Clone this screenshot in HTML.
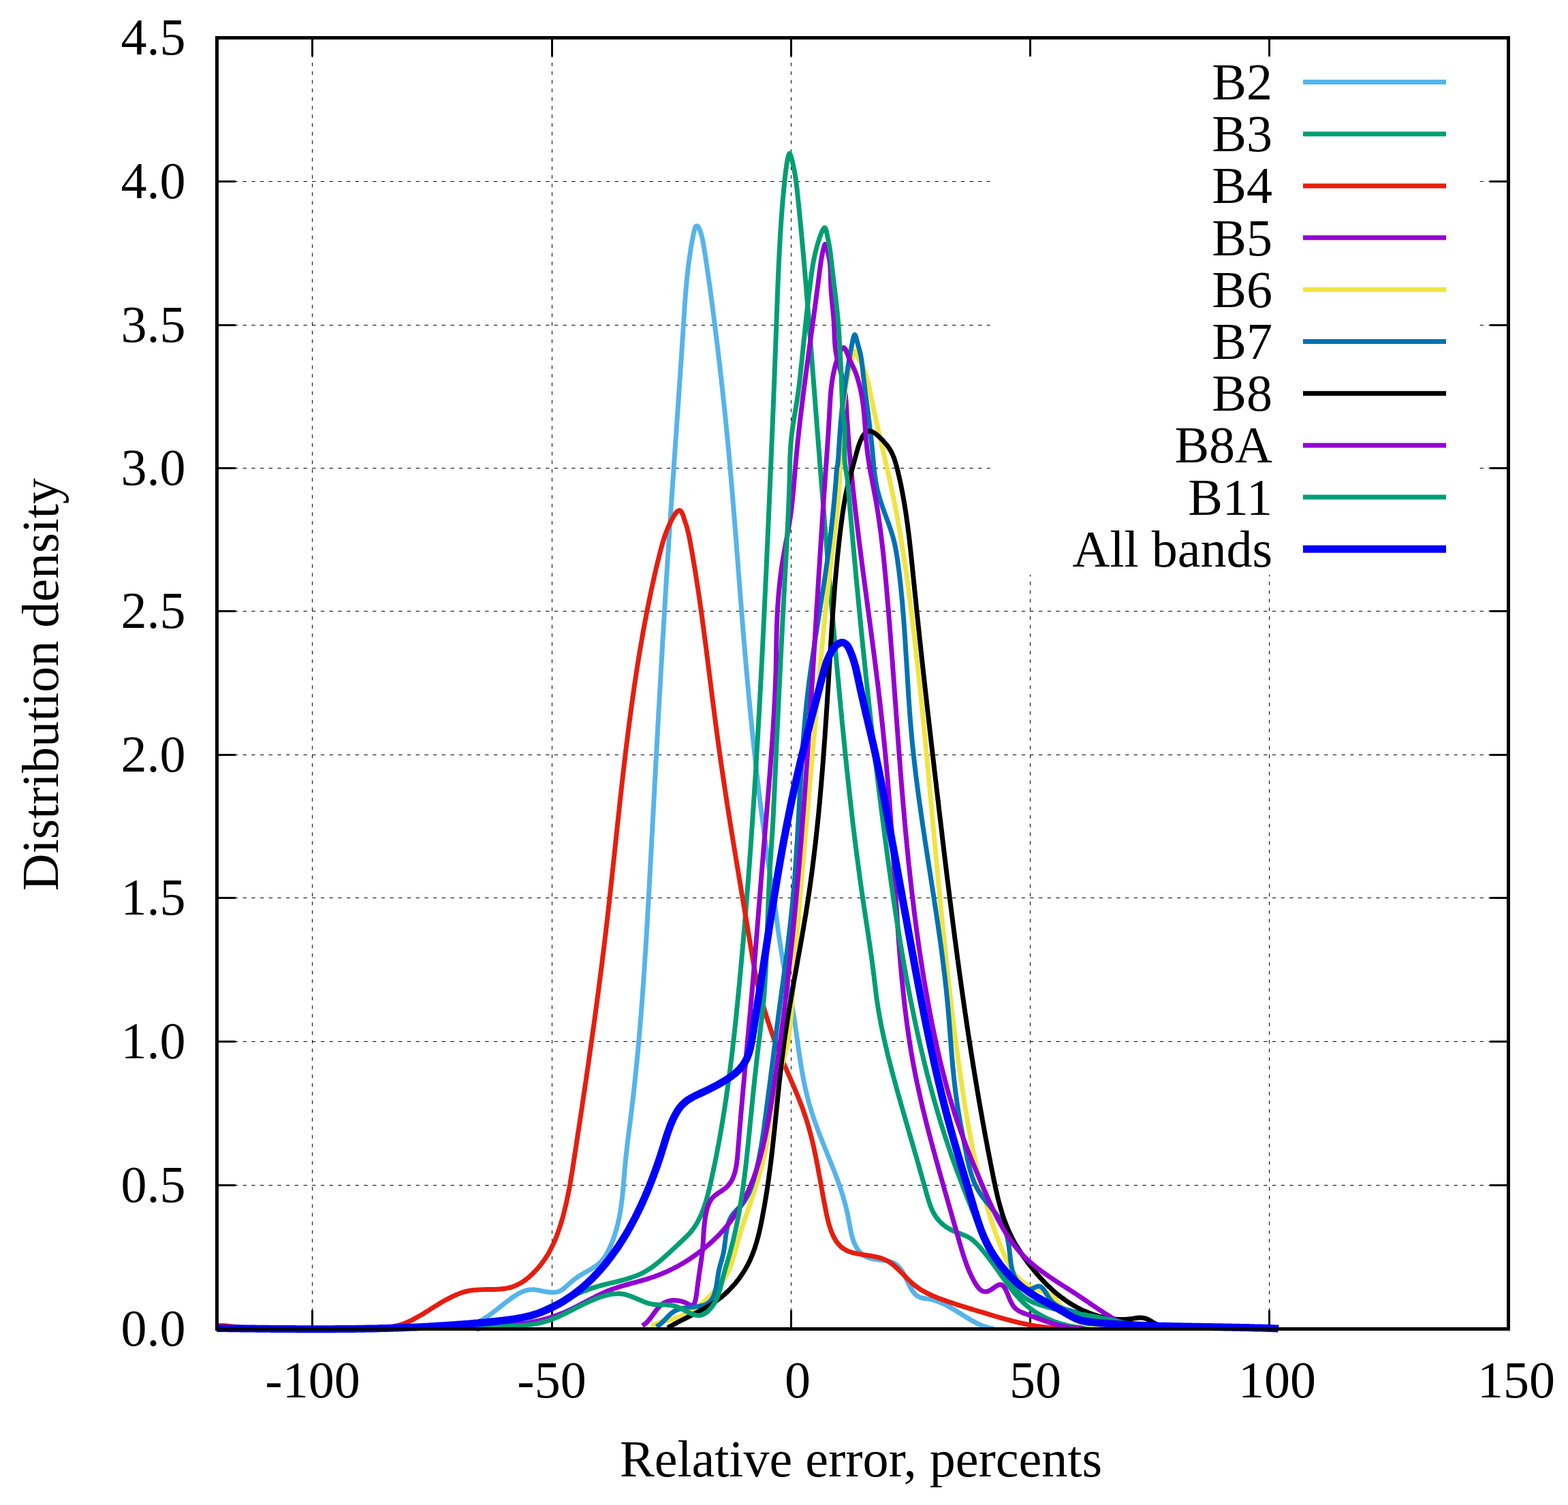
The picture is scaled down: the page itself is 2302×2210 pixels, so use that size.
<!DOCTYPE html>
<html><head><meta charset="utf-8"><title>Distribution density</title>
<style>html,body{margin:0;padding:0;background:#fff;} svg{display:block;}</style></head>
<body>
<svg xmlns="http://www.w3.org/2000/svg" width="2302" height="2210" viewBox="0 0 2302 2210">
<rect x="0" y="0" width="2302" height="2210" fill="#fff"/>

<g><line x1="318.5" y1="1740.5" x2="2214.5" y2="1740.5" stroke="#000" stroke-width="1" stroke-dasharray="5.3 7.4"/>
<line x1="318.5" y1="1529.5" x2="2214.5" y2="1529.5" stroke="#000" stroke-width="1" stroke-dasharray="5.3 7.4"/>
<line x1="318.5" y1="1318.5" x2="2214.5" y2="1318.5" stroke="#000" stroke-width="1" stroke-dasharray="5.3 7.4"/>
<line x1="318.5" y1="1108.5" x2="2214.5" y2="1108.5" stroke="#000" stroke-width="1" stroke-dasharray="5.3 7.4"/>
<line x1="318.5" y1="897.5" x2="2214.5" y2="897.5" stroke="#000" stroke-width="1" stroke-dasharray="5.3 7.4"/>
<line x1="318.5" y1="687.5" x2="2214.5" y2="687.5" stroke="#000" stroke-width="1" stroke-dasharray="5.3 7.4"/>
<line x1="318.5" y1="477.5" x2="2214.5" y2="477.5" stroke="#000" stroke-width="1" stroke-dasharray="5.3 7.4"/>
<line x1="318.5" y1="266.5" x2="2214.5" y2="266.5" stroke="#000" stroke-width="1" stroke-dasharray="5.3 7.4"/>
<line x1="458.5" y1="1951.5" x2="458.5" y2="55.5" stroke="#000" stroke-width="1" stroke-dasharray="5.3 7.4"/>
<line x1="810.5" y1="1951.5" x2="810.5" y2="55.5" stroke="#000" stroke-width="1" stroke-dasharray="5.3 7.4"/>
<line x1="1161.5" y1="1951.5" x2="1161.5" y2="55.5" stroke="#000" stroke-width="1" stroke-dasharray="5.3 7.4"/>
<line x1="1512.5" y1="1951.5" x2="1512.5" y2="55.5" stroke="#000" stroke-width="1" stroke-dasharray="5.3 7.4"/>
<line x1="1863.5" y1="1951.5" x2="1863.5" y2="55.5" stroke="#000" stroke-width="1" stroke-dasharray="5.3 7.4"/></g>
<rect x="1453.5" y="58" width="714.5" height="786" fill="#fff"/>
<path d="M318.5,1740.5H346M2214.5,1740.5H2187M318.5,1529.5H346M2214.5,1529.5H2187M318.5,1318.5H346M2214.5,1318.5H2187M318.5,1108.5H346M2214.5,1108.5H2187M318.5,897.5H346M2214.5,897.5H2187M318.5,687.5H346M2214.5,687.5H2187M318.5,477.5H346M2214.5,477.5H2187M318.5,266.5H346M2214.5,266.5H2187M458.5,1951.5V1924M458.5,55.5V83M810.5,1951.5V1924M810.5,55.5V83M1161.5,1951.5V1924M1161.5,55.5V83M1512.5,1951.5V1924M1512.5,55.5V83M1863.5,1951.5V1924M1863.5,55.5V83" stroke="#000" stroke-width="3" fill="none"/>
<path d="M664.9,1950.5 C665.8,1950.5 668.6,1950.4 670.5,1950.2 C672.3,1950.1 674.0,1949.9 675.8,1949.6 C677.5,1949.3 679.2,1949.0 680.9,1948.7 C682.6,1948.3 684.2,1947.9 685.8,1947.5 C687.4,1947.0 689.0,1946.6 690.6,1946.0 C692.1,1945.5 693.7,1944.9 695.2,1944.3 C696.7,1943.7 698.2,1943.1 699.6,1942.4 C701.1,1941.7 702.5,1941.0 704.0,1940.2 C705.4,1939.5 706.8,1938.7 708.2,1937.9 C709.6,1937.1 710.9,1936.2 712.3,1935.3 C713.7,1934.5 715.0,1933.6 716.4,1932.6 C717.7,1931.7 719.1,1930.8 720.4,1929.8 C721.7,1928.8 723.0,1927.8 724.3,1926.8 C725.7,1925.8 727.0,1924.8 728.3,1923.8 C729.6,1922.8 730.9,1921.7 732.2,1920.7 C733.6,1919.6 734.9,1918.6 736.2,1917.5 C737.5,1916.5 738.8,1915.4 740.2,1914.4 C741.5,1913.3 742.9,1912.3 744.2,1911.2 C745.6,1910.2 746.9,1909.2 748.3,1908.2 C749.7,1907.2 751.1,1906.2 752.5,1905.2 C753.9,1904.2 755.3,1903.3 756.8,1902.3 C758.2,1901.4 759.7,1900.5 761.1,1899.7 C762.6,1898.9 764.1,1898.1 765.6,1897.4 C767.1,1896.7 768.7,1896.0 770.2,1895.5 C771.7,1895.0 773.3,1894.5 774.9,1894.2 C776.4,1893.9 778.0,1893.7 779.6,1893.7 C781.2,1893.6 782.8,1893.7 784.5,1893.8 C786.1,1894.0 787.7,1894.2 789.4,1894.5 C791.0,1894.8 792.7,1895.2 794.4,1895.5 C796.0,1895.8 797.7,1896.2 799.4,1896.5 C801.1,1896.8 802.8,1897.1 804.5,1897.3 C806.2,1897.6 807.8,1897.7 809.5,1897.8 C811.1,1897.9 812.8,1897.8 814.4,1897.7 C816.0,1897.5 817.6,1897.2 819.2,1896.8 C820.7,1896.3 822.2,1895.7 823.7,1894.9 C825.1,1894.1 826.5,1893.1 827.9,1892.0 C829.3,1890.9 830.7,1889.6 832.0,1888.4 C833.3,1887.2 834.6,1885.9 835.9,1884.8 C837.2,1883.6 838.5,1882.4 839.8,1881.4 C841.1,1880.3 842.3,1879.3 843.6,1878.3 C844.9,1877.3 846.2,1876.4 847.6,1875.5 C848.9,1874.6 850.2,1873.7 851.6,1872.9 C853.0,1872.0 854.4,1871.2 855.8,1870.4 C857.2,1869.5 858.7,1868.7 860.2,1867.9 C861.6,1867.1 863.1,1866.3 864.5,1865.4 C866.0,1864.6 867.5,1863.8 868.9,1862.9 C870.3,1862.0 871.7,1861.1 873.1,1860.2 C874.5,1859.2 875.9,1858.3 877.2,1857.2 C878.5,1856.2 879.7,1855.1 880.9,1854.0 C882.1,1852.9 883.3,1851.7 884.3,1850.4 C885.4,1849.1 886.4,1847.8 887.3,1846.4 C888.3,1845.0 889.2,1843.6 890.0,1842.1 C890.8,1840.6 891.6,1839.1 892.4,1837.6 C893.2,1836.1 893.9,1834.6 894.7,1833.1 C895.4,1831.6 896.1,1830.1 896.7,1828.5 C897.4,1827.0 898.1,1825.5 898.7,1823.9 C899.3,1822.4 899.9,1820.8 900.5,1819.3 C901.0,1817.7 901.6,1816.1 902.1,1814.6 C902.6,1813.0 903.1,1811.4 903.6,1809.8 C904.1,1808.3 904.6,1806.7 905.0,1805.1 C905.4,1803.5 905.9,1801.9 906.3,1800.3 C906.7,1798.7 907.1,1797.1 907.4,1795.5 C907.8,1793.9 908.2,1792.2 908.5,1790.6 C908.8,1789.0 909.2,1787.4 909.5,1785.8 C909.8,1784.1 910.1,1782.5 910.4,1780.9 C910.6,1779.2 910.9,1777.6 911.2,1775.9 C911.4,1774.3 911.7,1772.6 911.9,1771.0 C912.1,1769.3 912.3,1767.7 912.6,1766.0 C912.8,1764.4 913.0,1762.7 913.2,1761.1 C913.4,1759.4 913.6,1757.7 913.7,1756.1 C913.9,1754.4 914.1,1752.8 914.3,1751.1 C914.4,1749.4 914.6,1747.7 914.7,1746.1 C914.9,1744.4 915.0,1742.7 915.2,1741.1 C915.3,1739.4 915.5,1737.7 915.6,1736.0 C915.8,1734.4 915.9,1732.7 916.1,1731.0 C916.2,1729.3 916.3,1727.7 916.5,1726.0 C916.6,1724.3 916.7,1722.6 916.9,1721.0 C917.0,1719.3 917.2,1717.6 917.3,1715.9 C917.5,1714.3 917.6,1712.6 917.8,1710.9 C917.9,1709.3 918.1,1707.6 918.2,1705.9 C918.4,1704.2 918.6,1702.6 918.7,1700.9 C918.9,1699.2 919.1,1697.6 919.3,1695.9 C919.4,1694.3 919.6,1692.6 919.8,1690.9 C920.0,1689.3 920.2,1687.6 920.4,1685.9 C920.6,1684.3 920.8,1682.6 920.9,1681.0 C921.1,1679.3 921.3,1677.6 921.5,1676.0 C921.8,1674.3 922.0,1672.7 922.2,1671.0 C922.4,1669.4 922.6,1667.7 922.8,1666.0 C923.0,1664.4 923.2,1662.7 923.4,1661.1 C923.6,1659.4 923.8,1657.8 924.0,1656.1 C924.2,1654.5 924.5,1652.8 924.7,1651.2 C924.9,1649.5 925.1,1647.8 925.3,1646.2 C925.5,1644.5 925.7,1642.9 925.9,1641.2 C926.1,1639.6 926.3,1637.9 926.5,1636.3 C926.7,1634.6 926.9,1633.0 927.1,1631.3 C927.3,1629.6 927.5,1628.0 927.7,1626.3 C927.9,1624.7 928.1,1623.0 928.3,1621.4 C928.5,1619.7 928.7,1618.0 928.9,1616.4 C929.1,1614.7 929.3,1613.1 929.5,1611.4 C929.7,1609.8 929.8,1608.1 930.0,1606.5 C930.2,1604.8 930.4,1603.1 930.6,1601.5 C930.8,1599.8 930.9,1598.2 931.1,1596.5 C931.3,1594.8 931.5,1593.2 931.7,1591.5 C931.8,1589.9 932.0,1588.2 932.2,1586.6 C932.4,1584.9 932.5,1583.2 932.7,1581.6 C932.9,1579.9 933.1,1578.3 933.2,1576.6 C933.4,1574.9 933.6,1573.3 933.7,1571.6 C933.9,1570.0 934.1,1568.3 934.2,1566.6 C934.4,1565.0 934.6,1563.3 934.7,1561.7 C934.9,1560.0 935.1,1558.3 935.2,1556.7 C935.4,1555.0 935.5,1553.4 935.7,1551.7 C935.8,1550.0 936.0,1548.4 936.2,1546.7 C936.3,1545.1 936.5,1543.4 936.6,1541.7 C936.8,1540.1 936.9,1538.4 937.1,1536.8 C937.2,1535.1 937.4,1533.4 937.5,1531.8 C937.7,1530.1 937.8,1528.4 938.0,1526.8 C938.1,1525.1 938.3,1523.5 938.4,1521.8 C938.6,1520.1 938.7,1518.5 938.8,1516.8 C939.0,1515.1 939.1,1513.5 939.3,1511.8 C939.4,1510.2 939.6,1508.5 939.7,1506.8 C939.8,1505.2 940.0,1503.5 940.1,1501.8 C940.2,1500.2 940.4,1498.5 940.5,1496.9 C940.7,1495.2 940.8,1493.5 940.9,1491.9 C941.1,1490.2 941.2,1488.5 941.3,1486.9 C941.4,1485.2 941.6,1483.5 941.7,1481.9 C941.8,1480.2 942.0,1478.5 942.1,1476.9 C942.2,1475.2 942.3,1473.6 942.5,1471.9 C942.6,1470.2 942.7,1468.6 942.9,1466.9 C943.0,1465.2 943.1,1463.6 943.2,1461.9 C943.3,1460.2 943.5,1458.6 943.6,1456.9 C943.7,1455.2 943.8,1453.6 944.0,1451.9 C944.1,1450.2 944.2,1448.6 944.3,1446.9 C944.4,1445.2 944.5,1443.6 944.7,1441.9 C944.8,1440.2 944.9,1438.6 945.0,1436.9 C945.1,1435.2 945.2,1433.6 945.4,1431.9 C945.5,1430.3 945.6,1428.6 945.7,1426.9 C945.8,1425.3 945.9,1423.6 946.0,1421.9 C946.1,1420.3 946.2,1418.6 946.4,1416.9 C946.5,1415.3 946.6,1413.6 946.7,1411.9 C946.8,1410.3 946.9,1408.6 947.0,1406.9 C947.1,1405.3 947.2,1403.6 947.3,1401.9 C947.4,1400.3 947.5,1398.6 947.6,1396.9 C947.8,1395.2 947.9,1393.6 948.0,1391.9 C948.1,1390.2 948.2,1388.6 948.3,1386.9 C948.4,1385.2 948.5,1383.6 948.6,1381.9 C948.7,1380.2 948.8,1378.6 948.9,1376.9 C949.0,1375.2 949.1,1373.6 949.2,1371.9 C949.3,1370.2 949.4,1368.6 949.5,1366.9 C949.6,1365.2 949.7,1363.6 949.8,1361.9 C949.9,1360.2 950.0,1358.6 950.1,1356.9 C950.2,1355.2 950.3,1353.6 950.4,1351.9 C950.5,1350.2 950.6,1348.6 950.7,1346.9 C950.8,1345.2 950.8,1343.6 950.9,1341.9 C951.0,1340.2 951.1,1338.5 951.2,1336.9 C951.3,1335.2 951.4,1333.5 951.5,1331.9 C951.6,1330.2 951.7,1328.5 951.8,1326.9 C951.9,1325.2 952.0,1323.5 952.1,1321.9 C952.2,1320.2 952.3,1318.5 952.3,1316.9 C952.4,1315.2 952.5,1313.5 952.6,1311.9 C952.7,1310.2 952.8,1308.5 952.9,1306.8 C953.0,1305.2 953.1,1303.5 953.2,1301.8 C953.3,1300.2 953.4,1298.5 953.4,1296.8 C953.5,1295.2 953.6,1293.5 953.7,1291.8 C953.8,1290.2 953.9,1288.5 954.0,1286.8 C954.1,1285.2 954.2,1283.5 954.3,1281.8 C954.3,1280.2 954.4,1278.5 954.5,1276.8 C954.6,1275.1 954.7,1273.5 954.8,1271.8 C954.9,1270.1 955.0,1268.5 955.1,1266.8 C955.2,1265.1 955.2,1263.5 955.3,1261.8 C955.4,1260.1 955.5,1258.5 955.6,1256.8 C955.7,1255.1 955.8,1253.5 955.9,1251.8 C956.0,1250.1 956.0,1248.5 956.1,1246.8 C956.2,1245.1 956.3,1243.5 956.4,1241.8 C956.5,1240.1 956.6,1238.4 956.7,1236.8 C956.8,1235.1 956.8,1233.4 956.9,1231.8 C957.0,1230.1 957.1,1228.4 957.2,1226.8 C957.3,1225.1 957.4,1223.4 957.5,1221.8 C957.6,1220.1 957.6,1218.4 957.7,1216.8 C957.8,1215.1 957.9,1213.4 958.0,1211.8 C958.1,1210.1 958.2,1208.4 958.3,1206.8 C958.4,1205.1 958.4,1203.4 958.5,1201.7 C958.6,1200.1 958.7,1198.4 958.8,1196.7 C958.9,1195.1 959.0,1193.4 959.1,1191.7 C959.2,1190.1 959.3,1188.4 959.3,1186.7 C959.4,1185.1 959.5,1183.4 959.6,1181.7 C959.7,1180.1 959.8,1178.4 959.9,1176.7 C960.0,1175.1 960.1,1173.4 960.1,1171.7 C960.2,1170.1 960.3,1168.4 960.4,1166.7 C960.5,1165.1 960.6,1163.4 960.7,1161.7 C960.8,1160.1 960.9,1158.4 961.0,1156.7 C961.0,1155.1 961.1,1153.4 961.2,1151.7 C961.3,1150.0 961.4,1148.4 961.5,1146.7 C961.6,1145.0 961.7,1143.4 961.8,1141.7 C961.8,1140.0 961.9,1138.4 962.0,1136.7 C962.1,1135.0 962.2,1133.4 962.3,1131.7 C962.4,1130.0 962.5,1128.4 962.6,1126.7 C962.7,1125.0 962.7,1123.4 962.8,1121.7 C962.9,1120.0 963.0,1118.4 963.1,1116.7 C963.2,1115.0 963.3,1113.4 963.4,1111.7 C963.5,1110.0 963.6,1108.4 963.7,1106.7 C963.7,1105.0 963.8,1103.4 963.9,1101.7 C964.0,1100.0 964.1,1098.4 964.2,1096.7 C964.3,1095.0 964.4,1093.4 964.5,1091.7 C964.6,1090.0 964.7,1088.4 964.7,1086.7 C964.8,1085.0 964.9,1083.4 965.0,1081.7 C965.1,1080.0 965.2,1078.4 965.3,1076.7 C965.4,1075.0 965.5,1073.4 965.6,1071.7 C965.7,1070.0 965.7,1068.4 965.8,1066.7 C965.9,1065.0 966.0,1063.3 966.1,1061.7 C966.2,1060.0 966.3,1058.3 966.4,1056.7 C966.5,1055.0 966.6,1053.3 966.7,1051.7 C966.8,1050.0 966.9,1048.3 966.9,1046.7 C967.0,1045.0 967.1,1043.3 967.2,1041.7 C967.3,1040.0 967.4,1038.3 967.5,1036.7 C967.6,1035.0 967.7,1033.3 967.8,1031.7 C967.9,1030.0 968.0,1028.3 968.1,1026.7 C968.2,1025.0 968.2,1023.3 968.3,1021.7 C968.4,1020.0 968.5,1018.3 968.6,1016.7 C968.7,1015.0 968.8,1013.3 968.9,1011.7 C969.0,1010.0 969.1,1008.3 969.2,1006.7 C969.3,1005.0 969.4,1003.3 969.5,1001.7 C969.6,1000.0 969.7,998.3 969.7,996.7 C969.8,995.0 969.9,993.3 970.0,991.7 C970.1,990.0 970.2,988.3 970.3,986.7 C970.4,985.0 970.5,983.3 970.6,981.7 C970.7,980.0 970.8,978.3 970.9,976.7 C971.0,975.0 971.1,973.3 971.2,971.7 C971.3,970.0 971.4,968.3 971.5,966.7 C971.6,965.0 971.7,963.3 971.8,961.7 C971.8,960.0 971.9,958.3 972.0,956.7 C972.1,955.0 972.2,953.3 972.3,951.7 C972.4,950.0 972.5,948.3 972.6,946.7 C972.7,945.0 972.8,943.3 972.9,941.7 C973.0,940.0 973.1,938.3 973.2,936.7 C973.3,935.0 973.4,933.3 973.5,931.7 C973.6,930.0 973.7,928.3 973.8,926.7 C973.9,925.0 974.0,923.3 974.1,921.7 C974.2,920.0 974.3,918.3 974.4,916.7 C974.5,915.0 974.6,913.3 974.7,911.7 C974.8,910.0 974.9,908.3 975.0,906.7 C975.1,905.0 975.2,903.3 975.3,901.7 C975.4,900.0 975.5,898.3 975.6,896.7 C975.7,895.0 975.8,893.3 975.9,891.7 C976.0,890.0 976.1,888.3 976.2,886.7 C976.3,885.0 976.4,883.3 976.5,881.7 C976.6,880.0 976.7,878.3 976.8,876.7 C976.9,875.0 977.0,873.3 977.1,871.7 C977.2,870.0 977.3,868.4 977.4,866.7 C977.5,865.0 977.6,863.4 977.7,861.7 C977.8,860.0 977.9,858.4 978.0,856.7 C978.1,855.0 978.2,853.4 978.3,851.7 C978.4,850.0 978.5,848.4 978.6,846.7 C978.7,845.0 978.8,843.4 979.0,841.7 C979.1,840.0 979.2,838.4 979.3,836.7 C979.4,835.0 979.5,833.4 979.6,831.7 C979.7,830.0 979.8,828.4 979.9,826.7 C980.0,825.0 980.1,823.4 980.2,821.7 C980.3,820.0 980.4,818.4 980.5,816.7 C980.6,815.0 980.7,813.4 980.8,811.7 C981.0,810.0 981.1,808.4 981.2,806.7 C981.3,805.0 981.4,803.4 981.5,801.7 C981.6,800.0 981.7,798.4 981.8,796.7 C981.9,795.0 982.0,793.4 982.1,791.7 C982.2,790.0 982.4,788.4 982.5,786.7 C982.6,785.0 982.7,783.4 982.8,781.7 C982.9,780.0 983.0,778.4 983.1,776.7 C983.2,775.0 983.3,773.4 983.4,771.7 C983.6,770.0 983.7,768.4 983.8,766.7 C983.9,765.0 984.0,763.4 984.1,761.7 C984.2,760.0 984.3,758.4 984.4,756.7 C984.6,755.0 984.7,753.4 984.8,751.7 C984.9,750.0 985.0,748.4 985.1,746.7 C985.2,745.0 985.3,743.4 985.5,741.7 C985.6,740.1 985.7,738.4 985.8,736.7 C985.9,735.1 986.0,733.4 986.1,731.7 C986.2,730.1 986.4,728.4 986.5,726.7 C986.6,725.1 986.7,723.4 986.8,721.7 C986.9,720.1 987.0,718.4 987.1,716.7 C987.3,715.1 987.4,713.4 987.5,711.7 C987.6,710.1 987.7,708.4 987.8,706.7 C987.9,705.1 988.1,703.4 988.2,701.7 C988.3,700.1 988.4,698.4 988.5,696.7 C988.6,695.1 988.7,693.4 988.9,691.7 C989.0,690.1 989.1,688.4 989.2,686.7 C989.3,685.1 989.4,683.4 989.5,681.7 C989.7,680.1 989.8,678.4 989.9,676.7 C990.0,675.1 990.1,673.4 990.2,671.7 C990.4,670.1 990.5,668.4 990.6,666.7 C990.7,665.1 990.8,663.4 990.9,661.7 C991.0,660.1 991.2,658.4 991.3,656.7 C991.4,655.1 991.5,653.4 991.6,651.7 C991.7,650.1 991.9,648.4 992.0,646.7 C992.1,645.1 992.2,643.4 992.3,641.7 C992.4,640.1 992.5,638.4 992.7,636.7 C992.8,635.1 992.9,633.4 993.0,631.8 C993.1,630.1 993.2,628.4 993.4,626.8 C993.5,625.1 993.6,623.4 993.7,621.8 C993.8,620.1 993.9,618.4 994.0,616.8 C994.2,615.1 994.3,613.4 994.4,611.8 C994.5,610.1 994.6,608.4 994.7,606.8 C994.9,605.1 995.0,603.4 995.1,601.8 C995.2,600.1 995.3,598.4 995.4,596.8 C995.5,595.1 995.7,593.4 995.8,591.8 C995.9,590.1 996.0,588.4 996.1,586.8 C996.2,585.1 996.3,583.4 996.5,581.8 C996.6,580.1 996.7,578.4 996.8,576.8 C996.9,575.1 997.0,573.4 997.1,571.8 C997.3,570.1 997.4,568.4 997.5,566.8 C997.6,565.1 997.7,563.4 997.8,561.8 C997.9,560.1 998.0,558.4 998.2,556.8 C998.3,555.1 998.4,553.4 998.5,551.8 C998.6,550.1 998.7,548.4 998.8,546.8 C998.9,545.1 999.1,543.4 999.2,541.8 C999.3,540.1 999.4,538.4 999.5,536.8 C999.6,535.1 999.7,533.4 999.8,531.8 C1000.0,530.1 1000.1,528.4 1000.2,526.8 C1000.3,525.1 1000.4,523.4 1000.5,521.8 C1000.6,520.1 1000.7,518.4 1000.8,516.8 C1000.9,515.1 1001.1,513.4 1001.2,511.8 C1001.3,510.1 1001.4,508.4 1001.5,506.8 C1001.6,505.1 1001.7,503.4 1001.8,501.8 C1001.9,500.1 1002.0,498.4 1002.1,496.8 C1002.3,495.1 1002.4,493.5 1002.5,491.8 C1002.6,490.1 1002.7,488.5 1002.8,486.8 C1002.9,485.1 1003.0,483.5 1003.1,481.8 C1003.2,480.1 1003.3,478.5 1003.4,476.8 C1003.5,475.1 1003.6,473.5 1003.8,471.8 C1003.9,470.1 1004.0,468.5 1004.1,466.8 C1004.2,465.1 1004.3,463.5 1004.4,461.8 C1004.5,460.1 1004.6,458.5 1004.7,456.8 C1004.8,455.1 1004.9,453.5 1005.1,451.8 C1005.2,450.1 1005.3,448.5 1005.4,446.8 C1005.5,445.1 1005.6,443.5 1005.8,441.8 C1005.9,440.1 1006.0,438.5 1006.1,436.8 C1006.3,435.2 1006.4,433.5 1006.5,431.8 C1006.7,430.2 1006.8,428.5 1006.9,426.9 C1007.1,425.2 1007.2,423.5 1007.4,421.9 C1007.5,420.2 1007.6,418.6 1007.8,416.9 C1007.9,415.2 1008.1,413.6 1008.3,411.9 C1008.4,410.3 1008.6,408.6 1008.8,407.0 C1008.9,405.3 1009.1,403.6 1009.3,402.0 C1009.5,400.3 1009.6,398.7 1009.8,397.0 C1010.0,395.4 1010.2,393.7 1010.4,392.1 C1010.6,390.4 1010.8,388.8 1011.0,387.1 C1011.2,385.5 1011.4,383.8 1011.7,382.2 C1011.9,380.5 1012.1,378.9 1012.4,377.2 C1012.6,375.6 1012.8,374.0 1013.1,372.3 C1013.3,370.7 1013.6,369.0 1013.8,367.4 C1014.1,365.8 1014.4,364.1 1014.6,362.5 C1014.9,360.8 1015.2,359.2 1015.5,357.5 C1015.8,355.8 1016.1,354.1 1016.5,352.3 C1016.8,350.5 1017.2,348.6 1017.6,346.6 C1018.0,344.6 1018.4,342.2 1018.9,340.2 C1019.4,338.2 1019.9,336.0 1020.5,334.6 C1021.0,333.2 1021.7,332.2 1022.3,331.9 C1023.0,331.5 1023.7,331.9 1024.4,332.5 C1025.1,333.1 1025.8,334.2 1026.4,335.5 C1027.1,336.7 1027.7,338.3 1028.3,339.9 C1028.9,341.6 1029.4,343.4 1029.9,345.3 C1030.4,347.2 1030.8,349.2 1031.3,351.1 C1031.7,353.1 1032.1,355.2 1032.4,357.2 C1032.8,359.1 1033.1,361.1 1033.4,363.0 C1033.7,364.9 1034.0,366.6 1034.3,368.3 C1034.6,370.1 1034.8,371.7 1035.1,373.3 C1035.3,374.9 1035.6,376.4 1035.8,378.0 C1036.1,379.6 1036.3,381.1 1036.5,382.7 C1036.8,384.2 1037.0,385.8 1037.2,387.3 C1037.5,388.9 1037.7,390.5 1037.9,392.1 C1038.2,393.7 1038.4,395.3 1038.6,396.8 C1038.9,398.4 1039.1,400.0 1039.3,401.6 C1039.6,403.2 1039.8,404.9 1040.0,406.5 C1040.2,408.1 1040.5,409.7 1040.7,411.3 C1040.9,412.9 1041.1,414.6 1041.4,416.2 C1041.6,417.8 1041.8,419.5 1042.1,421.1 C1042.3,422.7 1042.5,424.4 1042.7,426.0 C1042.9,427.7 1043.2,429.3 1043.4,431.0 C1043.6,432.6 1043.8,434.3 1044.1,435.9 C1044.3,437.6 1044.5,439.2 1044.7,440.9 C1044.9,442.5 1045.2,444.2 1045.4,445.9 C1045.6,447.5 1045.8,449.2 1046.0,450.9 C1046.3,452.5 1046.5,454.2 1046.7,455.9 C1046.9,457.5 1047.1,459.2 1047.3,460.9 C1047.5,462.6 1047.8,464.2 1048.0,465.9 C1048.2,467.6 1048.4,469.2 1048.6,470.9 C1048.8,472.6 1049.0,474.3 1049.2,475.9 C1049.5,477.6 1049.7,479.3 1049.9,481.0 C1050.1,482.6 1050.3,484.3 1050.5,486.0 C1050.7,487.6 1050.9,489.3 1051.1,491.0 C1051.3,492.7 1051.5,494.3 1051.7,496.0 C1051.9,497.7 1052.1,499.3 1052.3,501.0 C1052.5,502.7 1052.7,504.3 1053.0,506.0 C1053.2,507.7 1053.4,509.3 1053.6,511.0 C1053.8,512.7 1054.0,514.3 1054.2,516.0 C1054.4,517.7 1054.5,519.3 1054.7,521.0 C1054.9,522.7 1055.1,524.3 1055.3,526.0 C1055.5,527.7 1055.7,529.3 1055.9,531.0 C1056.1,532.7 1056.3,534.3 1056.5,536.0 C1056.7,537.6 1056.9,539.3 1057.1,541.0 C1057.3,542.6 1057.5,544.3 1057.7,546.0 C1057.8,547.6 1058.0,549.3 1058.2,550.9 C1058.4,552.6 1058.6,554.3 1058.8,555.9 C1059.0,557.6 1059.2,559.2 1059.3,560.9 C1059.5,562.6 1059.7,564.2 1059.9,565.9 C1060.1,567.5 1060.3,569.2 1060.4,570.9 C1060.6,572.5 1060.8,574.2 1061.0,575.8 C1061.2,577.5 1061.4,579.2 1061.5,580.8 C1061.7,582.5 1061.9,584.1 1062.1,585.8 C1062.2,587.5 1062.4,589.1 1062.6,590.8 C1062.8,592.4 1062.9,594.1 1063.1,595.7 C1063.3,597.4 1063.5,599.1 1063.6,600.7 C1063.8,602.4 1064.0,604.0 1064.2,605.7 C1064.3,607.4 1064.5,609.0 1064.7,610.7 C1064.8,612.3 1065.0,614.0 1065.2,615.6 C1065.3,617.3 1065.5,619.0 1065.7,620.6 C1065.8,622.3 1066.0,623.9 1066.2,625.6 C1066.3,627.3 1066.5,628.9 1066.7,630.6 C1066.8,632.2 1067.0,633.9 1067.1,635.5 C1067.3,637.2 1067.5,638.9 1067.6,640.5 C1067.8,642.2 1067.9,643.8 1068.1,645.5 C1068.3,647.2 1068.4,648.8 1068.6,650.5 C1068.7,652.1 1068.9,653.8 1069.0,655.4 C1069.2,657.1 1069.4,658.8 1069.5,660.4 C1069.7,662.1 1069.8,663.7 1070.0,665.4 C1070.1,667.1 1070.3,668.7 1070.4,670.4 C1070.6,672.0 1070.7,673.7 1070.9,675.3 C1071.0,677.0 1071.2,678.7 1071.3,680.3 C1071.5,682.0 1071.6,683.6 1071.8,685.3 C1071.9,687.0 1072.0,688.6 1072.2,690.3 C1072.3,691.9 1072.5,693.6 1072.6,695.3 C1072.8,696.9 1072.9,698.6 1073.1,700.2 C1073.2,701.9 1073.3,703.6 1073.5,705.2 C1073.6,706.9 1073.8,708.5 1073.9,710.2 C1074.1,711.9 1074.2,713.5 1074.3,715.2 C1074.5,716.8 1074.6,718.5 1074.7,720.2 C1074.9,721.8 1075.0,723.5 1075.2,725.1 C1075.3,726.8 1075.4,728.5 1075.6,730.1 C1075.7,731.8 1075.9,733.4 1076.0,735.1 C1076.1,736.8 1076.3,738.4 1076.4,740.1 C1076.5,741.7 1076.7,743.4 1076.8,745.1 C1076.9,746.7 1077.1,748.4 1077.2,750.0 C1077.3,751.7 1077.5,753.4 1077.6,755.0 C1077.7,756.7 1077.9,758.4 1078.0,760.0 C1078.1,761.7 1078.3,763.3 1078.4,765.0 C1078.5,766.7 1078.7,768.3 1078.8,770.0 C1078.9,771.6 1079.1,773.3 1079.2,775.0 C1079.3,776.6 1079.5,778.3 1079.6,780.0 C1079.7,781.6 1079.8,783.3 1080.0,784.9 C1080.1,786.6 1080.2,788.3 1080.4,789.9 C1080.5,791.6 1080.6,793.2 1080.8,794.9 C1080.9,796.6 1081.0,798.2 1081.1,799.9 C1081.3,801.6 1081.4,803.2 1081.5,804.9 C1081.7,806.5 1081.8,808.2 1081.9,809.9 C1082.0,811.5 1082.2,813.2 1082.3,814.9 C1082.4,816.5 1082.6,818.2 1082.7,819.8 C1082.8,821.5 1082.9,823.2 1083.1,824.8 C1083.2,826.5 1083.3,828.2 1083.5,829.8 C1083.6,831.5 1083.7,833.2 1083.8,834.8 C1084.0,836.5 1084.1,838.1 1084.2,839.8 C1084.4,841.5 1084.5,843.1 1084.6,844.8 C1084.7,846.5 1084.9,848.1 1085.0,849.8 C1085.1,851.4 1085.3,853.1 1085.4,854.8 C1085.5,856.4 1085.6,858.1 1085.8,859.8 C1085.9,861.4 1086.0,863.1 1086.2,864.8 C1086.3,866.4 1086.4,868.1 1086.5,869.8 C1086.7,871.4 1086.8,873.1 1086.9,874.7 C1087.1,876.4 1087.2,878.1 1087.3,879.7 C1087.5,881.4 1087.6,883.1 1087.7,884.7 C1087.8,886.4 1088.0,888.1 1088.1,889.7 C1088.2,891.4 1088.4,893.1 1088.5,894.7 C1088.6,896.4 1088.8,898.1 1088.9,899.7 C1089.0,901.4 1089.2,903.1 1089.3,904.7 C1089.4,906.4 1089.6,908.0 1089.7,909.7 C1089.8,911.4 1090.0,913.0 1090.1,914.7 C1090.2,916.4 1090.4,918.0 1090.5,919.7 C1090.6,921.4 1090.8,923.0 1090.9,924.7 C1091.0,926.4 1091.2,928.0 1091.3,929.7 C1091.4,931.4 1091.6,933.0 1091.7,934.7 C1091.8,936.4 1092.0,938.0 1092.1,939.7 C1092.3,941.4 1092.4,943.0 1092.5,944.7 C1092.7,946.4 1092.8,948.0 1093.0,949.7 C1093.1,951.4 1093.2,953.0 1093.4,954.7 C1093.5,956.4 1093.7,958.0 1093.8,959.7 C1093.9,961.4 1094.1,963.0 1094.2,964.7 C1094.4,966.4 1094.5,968.0 1094.7,969.7 C1094.8,971.4 1094.9,973.0 1095.1,974.7 C1095.2,976.4 1095.4,978.0 1095.5,979.7 C1095.7,981.4 1095.8,983.1 1096.0,984.7 C1096.1,986.4 1096.3,988.1 1096.4,989.7 C1096.5,991.4 1096.7,993.1 1096.8,994.7 C1097.0,996.4 1097.1,998.1 1097.3,999.7 C1097.4,1001.4 1097.6,1003.1 1097.7,1004.7 C1097.9,1006.4 1098.0,1008.1 1098.2,1009.7 C1098.4,1011.4 1098.5,1013.1 1098.7,1014.7 C1098.8,1016.4 1099.0,1018.1 1099.1,1019.7 C1099.3,1021.4 1099.4,1023.1 1099.6,1024.7 C1099.7,1026.4 1099.9,1028.1 1100.1,1029.7 C1100.2,1031.4 1100.4,1033.1 1100.5,1034.8 C1100.7,1036.4 1100.9,1038.1 1101.0,1039.8 C1101.2,1041.4 1101.3,1043.1 1101.5,1044.8 C1101.7,1046.4 1101.8,1048.1 1102.0,1049.8 C1102.1,1051.4 1102.3,1053.1 1102.5,1054.8 C1102.6,1056.4 1102.8,1058.1 1103.0,1059.8 C1103.1,1061.4 1103.3,1063.1 1103.5,1064.7 C1103.6,1066.4 1103.8,1068.1 1104.0,1069.7 C1104.1,1071.4 1104.3,1073.1 1104.5,1074.7 C1104.6,1076.4 1104.8,1078.1 1105.0,1079.7 C1105.2,1081.4 1105.3,1083.1 1105.5,1084.7 C1105.7,1086.4 1105.9,1088.1 1106.0,1089.7 C1106.2,1091.4 1106.4,1093.0 1106.6,1094.7 C1106.7,1096.4 1106.9,1098.0 1107.1,1099.7 C1107.3,1101.4 1107.4,1103.0 1107.6,1104.7 C1107.8,1106.4 1108.0,1108.0 1108.2,1109.7 C1108.3,1111.3 1108.5,1113.0 1108.7,1114.7 C1108.9,1116.3 1109.1,1118.0 1109.2,1119.6 C1109.4,1121.3 1109.6,1123.0 1109.8,1124.6 C1110.0,1126.3 1110.2,1127.9 1110.4,1129.6 C1110.5,1131.3 1110.7,1132.9 1110.9,1134.6 C1111.1,1136.2 1111.3,1137.9 1111.5,1139.6 C1111.7,1141.2 1111.9,1142.9 1112.1,1144.5 C1112.2,1146.2 1112.4,1147.9 1112.6,1149.5 C1112.8,1151.2 1113.0,1152.8 1113.2,1154.5 C1113.4,1156.1 1113.6,1157.8 1113.8,1159.4 C1114.0,1161.1 1114.2,1162.8 1114.4,1164.4 C1114.6,1166.1 1114.8,1167.7 1115.0,1169.4 C1115.2,1171.0 1115.4,1172.7 1115.6,1174.3 C1115.8,1176.0 1116.0,1177.6 1116.2,1179.3 C1116.4,1180.9 1116.6,1182.6 1116.8,1184.3 C1117.0,1185.9 1117.2,1187.6 1117.4,1189.2 C1117.6,1190.9 1117.8,1192.5 1118.1,1194.2 C1118.3,1195.8 1118.5,1197.5 1118.7,1199.1 C1118.9,1200.8 1119.1,1202.4 1119.3,1204.0 C1119.5,1205.7 1119.7,1207.3 1120.0,1209.0 C1120.2,1210.6 1120.4,1212.3 1120.6,1213.9 C1120.8,1215.6 1121.0,1217.2 1121.3,1218.9 C1121.5,1220.5 1121.7,1222.2 1121.9,1223.8 C1122.1,1225.4 1122.4,1227.1 1122.6,1228.7 C1122.8,1230.4 1123.0,1232.0 1123.2,1233.7 C1123.5,1235.3 1123.7,1236.9 1123.9,1238.6 C1124.1,1240.2 1124.4,1241.9 1124.6,1243.5 C1124.8,1245.1 1125.1,1246.8 1125.3,1248.4 C1125.5,1250.1 1125.7,1251.7 1126.0,1253.3 C1126.2,1255.0 1126.4,1256.6 1126.7,1258.2 C1126.9,1259.9 1127.1,1261.5 1127.4,1263.1 C1127.6,1264.8 1127.9,1266.4 1128.1,1268.0 C1128.3,1269.7 1128.6,1271.3 1128.8,1272.9 C1129.1,1274.6 1129.3,1276.2 1129.5,1277.8 C1129.8,1279.5 1130.0,1281.1 1130.3,1282.7 C1130.5,1284.4 1130.8,1286.0 1131.0,1287.6 C1131.2,1289.2 1131.5,1290.9 1131.7,1292.5 C1132.0,1294.1 1132.2,1295.8 1132.5,1297.4 C1132.7,1299.0 1133.0,1300.6 1133.3,1302.3 C1133.5,1303.9 1133.8,1305.5 1134.0,1307.1 C1134.3,1308.8 1134.5,1310.4 1134.8,1312.0 C1135.0,1313.6 1135.3,1315.2 1135.6,1316.9 C1135.8,1318.5 1136.1,1320.1 1136.3,1321.7 C1136.6,1323.3 1136.9,1324.9 1137.1,1326.6 C1137.4,1328.2 1137.7,1329.8 1137.9,1331.4 C1138.1,1333.0 1138.4,1334.6 1138.6,1336.3 C1138.8,1337.9 1139.0,1339.5 1139.2,1341.1 C1139.4,1342.7 1139.6,1344.3 1139.8,1345.9 C1140.0,1347.5 1140.2,1349.2 1140.4,1350.8 C1140.6,1352.4 1140.8,1354.0 1141.0,1355.6 C1141.2,1357.2 1141.4,1358.8 1141.6,1360.4 C1141.8,1362.0 1142.0,1363.7 1142.2,1365.3 C1142.5,1366.9 1142.7,1368.5 1143.0,1370.1 C1143.2,1371.7 1143.4,1373.3 1143.7,1374.9 C1143.9,1376.5 1144.2,1378.1 1144.4,1379.8 C1144.6,1381.4 1144.9,1383.0 1145.1,1384.6 C1145.4,1386.2 1145.6,1387.8 1145.8,1389.4 C1146.1,1391.0 1146.3,1392.6 1146.6,1394.3 C1146.8,1395.9 1147.1,1397.5 1147.3,1399.1 C1147.6,1400.7 1147.8,1402.3 1148.1,1403.9 C1148.3,1405.5 1148.6,1407.2 1148.9,1408.8 C1149.1,1410.4 1149.4,1412.0 1149.7,1413.6 C1150.0,1415.2 1150.3,1416.8 1150.6,1418.5 C1150.9,1420.1 1151.2,1421.7 1151.5,1423.3 C1151.8,1424.9 1152.1,1426.6 1152.5,1428.2 C1152.8,1429.8 1153.1,1431.4 1153.5,1433.0 C1153.9,1434.7 1154.2,1436.3 1154.6,1437.9 C1155.0,1439.5 1155.3,1441.2 1155.7,1442.8 C1156.1,1444.4 1156.5,1446.1 1156.8,1447.7 C1157.2,1449.3 1157.6,1450.9 1158.0,1452.6 C1158.3,1454.2 1158.7,1455.8 1159.0,1457.5 C1159.4,1459.1 1159.7,1460.8 1160.1,1462.4 C1160.4,1464.0 1160.7,1465.7 1161.0,1467.3 C1161.4,1469.0 1161.7,1470.6 1162.0,1472.2 C1162.3,1473.9 1162.6,1475.5 1162.9,1477.2 C1163.2,1478.8 1163.4,1480.5 1163.7,1482.1 C1164.0,1483.8 1164.3,1485.4 1164.5,1487.0 C1164.8,1488.7 1165.1,1490.3 1165.3,1492.0 C1165.6,1493.6 1165.9,1495.3 1166.1,1496.9 C1166.4,1498.6 1166.6,1500.2 1166.9,1501.9 C1167.1,1503.6 1167.4,1505.2 1167.6,1506.9 C1167.8,1508.5 1168.1,1510.2 1168.3,1511.8 C1168.6,1513.5 1168.8,1515.1 1169.0,1516.8 C1169.3,1518.4 1169.5,1520.1 1169.7,1521.7 C1170.0,1523.4 1170.2,1525.0 1170.4,1526.7 C1170.6,1528.4 1170.9,1530.0 1171.1,1531.7 C1171.3,1533.3 1171.6,1535.0 1171.8,1536.6 C1172.0,1538.3 1172.3,1539.9 1172.5,1541.6 C1172.8,1543.2 1173.0,1544.9 1173.2,1546.5 C1173.5,1548.2 1173.7,1549.8 1174.0,1551.5 C1174.2,1553.1 1174.5,1554.8 1174.7,1556.4 C1175.0,1558.1 1175.2,1559.7 1175.5,1561.4 C1175.8,1563.0 1176.0,1564.7 1176.3,1566.3 C1176.6,1568.0 1176.8,1569.6 1177.1,1571.3 C1177.4,1572.9 1177.7,1574.5 1178.0,1576.2 C1178.3,1577.8 1178.6,1579.5 1178.9,1581.1 C1179.2,1582.7 1179.5,1584.4 1179.8,1586.0 C1180.1,1587.7 1180.5,1589.3 1180.8,1590.9 C1181.1,1592.6 1181.5,1594.2 1181.8,1595.8 C1182.2,1597.5 1182.5,1599.1 1182.9,1600.7 C1183.3,1602.4 1183.7,1604.0 1184.0,1605.6 C1184.4,1607.2 1184.8,1608.9 1185.2,1610.5 C1185.6,1612.1 1186.1,1613.7 1186.5,1615.3 C1186.9,1617.0 1187.4,1618.6 1187.8,1620.2 C1188.3,1621.8 1188.7,1623.4 1189.2,1625.0 C1189.7,1626.6 1190.2,1628.2 1190.7,1629.9 C1191.2,1631.5 1191.7,1633.1 1192.2,1634.7 C1192.7,1636.3 1193.2,1637.9 1193.7,1639.5 C1194.3,1641.1 1194.8,1642.7 1195.4,1644.3 C1195.9,1645.8 1196.5,1647.4 1197.0,1649.0 C1197.6,1650.6 1198.2,1652.2 1198.7,1653.8 C1199.3,1655.4 1199.9,1656.9 1200.5,1658.5 C1201.1,1660.1 1201.6,1661.7 1202.2,1663.2 C1202.8,1664.8 1203.4,1666.4 1204.0,1667.9 C1204.6,1669.5 1205.2,1671.1 1205.9,1672.6 C1206.5,1674.2 1207.1,1675.7 1207.7,1677.3 C1208.3,1678.8 1208.9,1680.4 1209.5,1681.9 C1210.2,1683.5 1210.8,1685.0 1211.4,1686.6 C1212.0,1688.1 1212.6,1689.6 1213.3,1691.2 C1213.9,1692.7 1214.5,1694.2 1215.1,1695.8 C1215.7,1697.3 1216.3,1698.8 1217.0,1700.3 C1217.6,1701.9 1218.2,1703.4 1218.8,1704.9 C1219.4,1706.4 1220.0,1707.9 1220.6,1709.4 C1221.2,1711.0 1221.8,1712.5 1222.4,1714.0 C1223.0,1715.5 1223.6,1717.0 1224.2,1718.6 C1224.8,1720.1 1225.4,1721.6 1226.0,1723.1 C1226.5,1724.6 1227.1,1726.2 1227.7,1727.7 C1228.3,1729.2 1228.8,1730.8 1229.4,1732.3 C1229.9,1733.8 1230.5,1735.4 1231.0,1736.9 C1231.6,1738.5 1232.1,1740.0 1232.7,1741.6 C1233.2,1743.1 1233.7,1744.7 1234.2,1746.3 C1234.8,1747.8 1235.3,1749.4 1235.8,1751.0 C1236.3,1752.6 1236.8,1754.2 1237.3,1755.8 C1237.7,1757.4 1238.2,1759.0 1238.7,1760.6 C1239.1,1762.2 1239.6,1763.8 1240.0,1765.5 C1240.5,1767.1 1240.9,1768.7 1241.4,1770.4 C1241.8,1772.1 1242.2,1773.7 1242.6,1775.4 C1243.0,1777.1 1243.4,1778.8 1243.8,1780.5 C1244.1,1782.2 1244.5,1783.9 1244.9,1785.7 C1245.2,1787.4 1245.5,1789.1 1245.9,1790.9 C1246.2,1792.7 1246.5,1794.4 1246.9,1796.2 C1247.2,1797.9 1247.5,1799.7 1247.8,1801.5 C1248.2,1803.2 1248.5,1805.0 1248.9,1806.7 C1249.2,1808.5 1249.6,1810.2 1250.0,1811.9 C1250.4,1813.6 1250.9,1815.2 1251.3,1816.9 C1251.8,1818.5 1252.3,1820.1 1252.8,1821.7 C1253.4,1823.3 1254.0,1824.8 1254.6,1826.3 C1255.2,1827.8 1255.9,1829.2 1256.7,1830.6 C1257.4,1832.0 1258.2,1833.3 1259.1,1834.5 C1259.9,1835.8 1260.9,1837.0 1261.9,1838.1 C1262.9,1839.2 1264.0,1840.3 1265.1,1841.3 C1266.3,1842.2 1267.6,1843.1 1268.9,1843.9 C1270.2,1844.7 1271.6,1845.5 1273.0,1846.1 C1274.5,1846.7 1276.0,1847.2 1277.6,1847.7 C1279.2,1848.1 1280.8,1848.5 1282.5,1848.8 C1284.2,1849.1 1285.9,1849.3 1287.6,1849.6 C1289.4,1849.8 1291.1,1850.0 1292.9,1850.2 C1294.6,1850.4 1296.3,1850.6 1298.0,1850.9 C1299.7,1851.1 1301.4,1851.4 1303.0,1851.7 C1304.6,1852.1 1306.2,1852.4 1307.7,1852.9 C1309.2,1853.4 1310.7,1854.0 1312.0,1854.7 C1313.3,1855.4 1314.6,1856.1 1315.8,1857.0 C1317.0,1857.9 1318.1,1858.9 1319.2,1860.0 C1320.2,1861.1 1321.2,1862.3 1322.2,1863.5 C1323.2,1864.8 1324.1,1866.1 1325.0,1867.6 C1325.9,1869.0 1326.7,1870.5 1327.5,1872.1 C1328.4,1873.7 1329.2,1875.3 1330.0,1877.0 C1330.8,1878.7 1331.6,1880.4 1332.4,1882.1 C1333.2,1883.8 1334.0,1885.5 1334.9,1887.2 C1335.7,1888.9 1336.6,1890.5 1337.5,1892.1 C1338.4,1893.6 1339.4,1895.2 1340.4,1896.5 C1341.4,1897.9 1342.4,1899.2 1343.6,1900.4 C1344.7,1901.5 1345.9,1902.6 1347.2,1903.4 C1348.4,1904.2 1349.8,1904.9 1351.3,1905.4 C1352.7,1905.9 1354.3,1906.2 1355.8,1906.5 C1357.4,1906.8 1359.0,1906.9 1360.6,1907.1 C1362.2,1907.3 1363.8,1907.6 1365.4,1907.9 C1367.0,1908.2 1368.6,1908.5 1370.2,1909.0 C1371.8,1909.4 1373.3,1909.9 1374.9,1910.4 C1376.4,1910.9 1377.9,1911.5 1379.5,1912.1 C1381.0,1912.7 1382.5,1913.4 1384.0,1914.1 C1385.5,1914.8 1387.0,1915.5 1388.5,1916.2 C1390.0,1917.0 1391.4,1917.8 1392.9,1918.6 C1394.4,1919.4 1395.9,1920.3 1397.3,1921.1 C1398.8,1922.0 1400.2,1922.8 1401.7,1923.7 C1403.1,1924.6 1404.6,1925.5 1406.0,1926.4 C1407.5,1927.3 1408.9,1928.2 1410.4,1929.1 C1411.8,1930.1 1413.3,1931.0 1414.7,1931.9 C1416.1,1932.8 1417.6,1933.7 1419.0,1934.6 C1420.5,1935.4 1421.9,1936.3 1423.4,1937.2 C1424.8,1938.0 1426.3,1938.9 1427.7,1939.7 C1429.2,1940.5 1430.7,1941.3 1432.1,1942.0 C1433.6,1942.8 1435.1,1943.5 1436.5,1944.2 C1438.0,1944.9 1439.5,1945.6 1441.0,1946.2 C1442.5,1946.8 1444.0,1947.4 1445.5,1947.9 C1447.0,1948.4 1448.5,1948.9 1450.1,1949.3 C1451.6,1949.7 1453.1,1950.1 1454.7,1950.4 C1456.3,1950.7 1458.6,1951.0 1459.4,1951.1" fill="none" stroke="#56b4e9" stroke-width="7" stroke-linejoin="round" stroke-linecap="butt"/>
<path d="M679.6,1948.8 C680.5,1949.0 683.2,1949.3 684.9,1949.5 C686.7,1949.8 688.5,1949.9 690.2,1950.1 C691.9,1950.2 693.7,1950.3 695.4,1950.4 C697.1,1950.4 698.9,1950.5 700.6,1950.5 C702.3,1950.5 704.0,1950.5 705.7,1950.4 C707.4,1950.4 709.1,1950.3 710.7,1950.2 C712.4,1950.0 714.1,1949.9 715.7,1949.7 C717.4,1949.6 719.1,1949.4 720.7,1949.2 C722.3,1948.9 724.0,1948.7 725.6,1948.4 C727.2,1948.1 728.9,1947.9 730.5,1947.5 C732.1,1947.2 733.7,1946.9 735.3,1946.5 C736.9,1946.2 738.5,1945.8 740.1,1945.4 C741.7,1945.0 743.3,1944.5 744.9,1944.1 C746.5,1943.6 748.1,1943.2 749.6,1942.7 C751.2,1942.2 752.8,1941.7 754.3,1941.2 C755.9,1940.7 757.5,1940.1 759.0,1939.6 C760.6,1939.1 762.1,1938.5 763.7,1937.9 C765.2,1937.3 766.7,1936.7 768.3,1936.1 C769.8,1935.5 771.4,1934.9 772.9,1934.3 C774.4,1933.7 776.0,1933.0 777.5,1932.4 C779.0,1931.7 780.5,1931.1 782.0,1930.4 C783.6,1929.7 785.1,1929.0 786.6,1928.4 C788.1,1927.7 789.6,1927.0 791.1,1926.3 C792.7,1925.6 794.2,1924.9 795.7,1924.2 C797.2,1923.5 798.7,1922.8 800.2,1922.0 C801.7,1921.3 803.2,1920.6 804.7,1919.9 C806.2,1919.2 807.7,1918.4 809.2,1917.7 C810.7,1917.0 812.2,1916.3 813.7,1915.5 C815.2,1914.8 816.7,1914.1 818.3,1913.3 C819.8,1912.6 821.3,1911.9 822.8,1911.2 C824.3,1910.5 825.8,1909.7 827.3,1909.0 C828.8,1908.3 830.3,1907.6 831.8,1906.9 C833.3,1906.2 834.8,1905.5 836.4,1904.8 C837.9,1904.1 839.4,1903.4 840.9,1902.8 C842.4,1902.1 843.9,1901.4 845.5,1900.8 C847.0,1900.1 848.5,1899.5 850.0,1898.8 C851.6,1898.2 853.1,1897.6 854.6,1897.0 C856.2,1896.4 857.7,1895.7 859.3,1895.2 C860.8,1894.6 862.3,1894.0 863.9,1893.4 C865.4,1892.9 867.0,1892.3 868.6,1891.8 C870.1,1891.3 871.7,1890.8 873.2,1890.3 C874.8,1889.8 876.4,1889.3 878.0,1888.8 C879.5,1888.4 881.1,1887.9 882.7,1887.5 C884.3,1887.1 885.9,1886.7 887.5,1886.3 C889.1,1885.9 890.7,1885.5 892.3,1885.1 C893.9,1884.7 895.5,1884.3 897.1,1883.9 C898.7,1883.6 900.3,1883.2 901.9,1882.8 C903.5,1882.4 905.1,1882.0 906.7,1881.7 C908.2,1881.3 909.8,1880.9 911.4,1880.5 C913.0,1880.1 914.6,1879.6 916.2,1879.2 C917.8,1878.8 919.3,1878.3 920.9,1877.9 C922.5,1877.4 924.0,1876.9 925.6,1876.4 C927.1,1875.9 928.7,1875.4 930.2,1874.8 C931.8,1874.3 933.3,1873.7 934.8,1873.1 C936.3,1872.4 937.8,1871.8 939.3,1871.1 C940.8,1870.4 942.3,1869.7 943.8,1869.0 C945.3,1868.2 946.7,1867.4 948.2,1866.6 C949.6,1865.7 951.0,1864.9 952.5,1864.0 C953.9,1863.0 955.3,1862.1 956.7,1861.1 C958.1,1860.2 959.4,1859.1 960.8,1858.1 C962.1,1857.1 963.5,1856.1 964.8,1855.0 C966.1,1854.0 967.4,1852.9 968.7,1851.8 C970.0,1850.8 971.2,1849.7 972.5,1848.6 C973.7,1847.5 974.9,1846.4 976.1,1845.4 C977.3,1844.3 978.5,1843.2 979.6,1842.2 C980.8,1841.1 981.9,1840.1 983.0,1839.1 C984.1,1838.0 985.2,1837.0 986.3,1836.0 C987.4,1835.0 988.5,1834.0 989.6,1833.0 C990.7,1832.0 991.7,1831.0 992.8,1830.0 C993.9,1829.0 995.0,1828.0 996.1,1826.9 C997.2,1825.9 998.2,1824.9 999.3,1823.9 C1000.4,1822.8 1001.6,1821.8 1002.7,1820.7 C1003.8,1819.7 1004.9,1818.6 1006.0,1817.5 C1007.1,1816.4 1008.2,1815.3 1009.3,1814.2 C1010.4,1813.1 1011.5,1811.9 1012.5,1810.8 C1013.6,1809.6 1014.6,1808.4 1015.6,1807.2 C1016.5,1806.0 1017.5,1804.7 1018.4,1803.4 C1019.3,1802.1 1020.2,1800.8 1021.0,1799.5 C1021.9,1798.2 1022.7,1796.8 1023.5,1795.5 C1024.3,1794.1 1025.0,1792.7 1025.7,1791.3 C1026.5,1789.9 1027.2,1788.4 1027.9,1787.0 C1028.5,1785.5 1029.2,1784.0 1029.8,1782.5 C1030.5,1781.1 1031.1,1779.5 1031.7,1778.0 C1032.2,1776.5 1032.8,1775.0 1033.4,1773.4 C1033.9,1771.9 1034.4,1770.3 1034.9,1768.7 C1035.5,1767.1 1036.0,1765.6 1036.4,1764.0 C1036.9,1762.4 1037.4,1760.7 1037.8,1759.1 C1038.3,1757.5 1038.7,1755.9 1039.1,1754.2 C1039.6,1752.6 1040.0,1751.0 1040.4,1749.3 C1040.8,1747.7 1041.2,1746.0 1041.6,1744.4 C1042.0,1742.7 1042.4,1741.1 1042.7,1739.4 C1043.1,1737.7 1043.5,1736.1 1043.9,1734.4 C1044.2,1732.8 1044.6,1731.1 1045.0,1729.4 C1045.3,1727.8 1045.7,1726.1 1046.0,1724.5 C1046.4,1722.8 1046.8,1721.1 1047.1,1719.5 C1047.5,1717.8 1047.8,1716.1 1048.1,1714.5 C1048.5,1712.8 1048.8,1711.2 1049.2,1709.5 C1049.5,1707.9 1049.8,1706.2 1050.2,1704.5 C1050.5,1702.9 1050.8,1701.2 1051.2,1699.6 C1051.5,1697.9 1051.8,1696.2 1052.1,1694.6 C1052.5,1692.9 1052.8,1691.3 1053.1,1689.6 C1053.4,1687.9 1053.7,1686.3 1054.0,1684.6 C1054.4,1683.0 1054.7,1681.3 1055.0,1679.7 C1055.3,1678.0 1055.6,1676.3 1055.9,1674.7 C1056.2,1673.0 1056.5,1671.4 1056.8,1669.7 C1057.1,1668.1 1057.4,1666.4 1057.7,1664.7 C1057.9,1663.1 1058.2,1661.4 1058.5,1659.8 C1058.8,1658.1 1059.1,1656.5 1059.4,1654.8 C1059.6,1653.1 1059.9,1651.5 1060.2,1649.8 C1060.5,1648.2 1060.7,1646.5 1061.0,1644.9 C1061.3,1643.2 1061.6,1641.6 1061.8,1639.9 C1062.1,1638.2 1062.4,1636.6 1062.6,1634.9 C1062.9,1633.3 1063.1,1631.6 1063.4,1630.0 C1063.7,1628.3 1063.9,1626.7 1064.2,1625.0 C1064.4,1623.4 1064.7,1621.7 1064.9,1620.0 C1065.2,1618.4 1065.4,1616.7 1065.7,1615.1 C1065.9,1613.4 1066.1,1611.8 1066.4,1610.1 C1066.6,1608.5 1066.9,1606.8 1067.1,1605.2 C1067.3,1603.5 1067.6,1601.8 1067.8,1600.2 C1068.0,1598.5 1068.3,1596.9 1068.5,1595.2 C1068.7,1593.6 1069.0,1591.9 1069.2,1590.3 C1069.4,1588.6 1069.6,1587.0 1069.9,1585.3 C1070.1,1583.6 1070.3,1582.0 1070.5,1580.3 C1070.7,1578.7 1071.0,1577.0 1071.2,1575.4 C1071.4,1573.7 1071.6,1572.1 1071.8,1570.4 C1072.0,1568.8 1072.2,1567.1 1072.4,1565.5 C1072.7,1563.8 1072.9,1562.1 1073.1,1560.5 C1073.3,1558.8 1073.5,1557.2 1073.7,1555.5 C1073.9,1553.9 1074.1,1552.2 1074.3,1550.6 C1074.5,1548.9 1074.7,1547.3 1074.9,1545.6 C1075.1,1543.9 1075.3,1542.3 1075.5,1540.6 C1075.7,1539.0 1075.8,1537.3 1076.0,1535.7 C1076.2,1534.0 1076.4,1532.4 1076.6,1530.7 C1076.8,1529.1 1077.0,1527.4 1077.2,1525.8 C1077.4,1524.1 1077.5,1522.4 1077.7,1520.8 C1077.9,1519.1 1078.1,1517.5 1078.3,1515.8 C1078.4,1514.2 1078.6,1512.5 1078.8,1510.9 C1079.0,1509.2 1079.2,1507.6 1079.3,1505.9 C1079.5,1504.2 1079.7,1502.6 1079.9,1500.9 C1080.0,1499.3 1080.2,1497.6 1080.4,1496.0 C1080.6,1494.3 1080.7,1492.7 1080.9,1491.0 C1081.1,1489.3 1081.2,1487.7 1081.4,1486.0 C1081.6,1484.4 1081.7,1482.7 1081.9,1481.1 C1082.1,1479.4 1082.2,1477.8 1082.4,1476.1 C1082.6,1474.4 1082.7,1472.8 1082.9,1471.1 C1083.1,1469.5 1083.2,1467.8 1083.4,1466.2 C1083.6,1464.5 1083.7,1462.8 1083.9,1461.2 C1084.0,1459.5 1084.2,1457.9 1084.4,1456.2 C1084.5,1454.6 1084.7,1452.9 1084.8,1451.2 C1085.0,1449.6 1085.2,1447.9 1085.3,1446.3 C1085.5,1444.6 1085.6,1443.0 1085.8,1441.3 C1085.9,1439.6 1086.1,1438.0 1086.2,1436.3 C1086.4,1434.7 1086.6,1433.0 1086.7,1431.3 C1086.9,1429.7 1087.0,1428.0 1087.2,1426.4 C1087.3,1424.7 1087.5,1423.1 1087.6,1421.4 C1087.8,1419.7 1087.9,1418.1 1088.1,1416.4 C1088.2,1414.8 1088.4,1413.1 1088.5,1411.4 C1088.7,1409.8 1088.8,1408.1 1089.0,1406.5 C1089.1,1404.8 1089.3,1403.1 1089.4,1401.5 C1089.6,1399.8 1089.7,1398.2 1089.9,1396.5 C1090.0,1394.8 1090.2,1393.2 1090.3,1391.5 C1090.5,1389.9 1090.6,1388.2 1090.8,1386.5 C1090.9,1384.9 1091.0,1383.2 1091.2,1381.5 C1091.3,1379.9 1091.5,1378.2 1091.6,1376.6 C1091.8,1374.9 1091.9,1373.2 1092.0,1371.6 C1092.2,1369.9 1092.3,1368.3 1092.5,1366.6 C1092.6,1364.9 1092.7,1363.3 1092.9,1361.6 C1093.0,1359.9 1093.2,1358.3 1093.3,1356.6 C1093.4,1355.0 1093.6,1353.3 1093.7,1351.6 C1093.9,1350.0 1094.0,1348.3 1094.1,1346.6 C1094.3,1345.0 1094.4,1343.3 1094.5,1341.6 C1094.7,1340.0 1094.8,1338.3 1095.0,1336.7 C1095.1,1335.0 1095.2,1333.3 1095.4,1331.7 C1095.5,1330.0 1095.6,1328.3 1095.8,1326.7 C1095.9,1325.0 1096.0,1323.3 1096.2,1321.7 C1096.3,1320.0 1096.4,1318.4 1096.6,1316.7 C1096.7,1315.0 1096.8,1313.4 1096.9,1311.7 C1097.1,1310.0 1097.2,1308.4 1097.3,1306.7 C1097.5,1305.0 1097.6,1303.4 1097.7,1301.7 C1097.9,1300.0 1098.0,1298.4 1098.1,1296.7 C1098.2,1295.0 1098.4,1293.4 1098.5,1291.7 C1098.6,1290.0 1098.7,1288.4 1098.9,1286.7 C1099.0,1285.1 1099.1,1283.4 1099.3,1281.7 C1099.4,1280.1 1099.5,1278.4 1099.6,1276.7 C1099.8,1275.1 1099.9,1273.4 1100.0,1271.7 C1100.1,1270.1 1100.2,1268.4 1100.4,1266.7 C1100.5,1265.1 1100.6,1263.4 1100.7,1261.7 C1100.9,1260.1 1101.0,1258.4 1101.1,1256.7 C1101.2,1255.1 1101.3,1253.4 1101.5,1251.7 C1101.6,1250.1 1101.7,1248.4 1101.8,1246.7 C1101.9,1245.1 1102.1,1243.4 1102.2,1241.7 C1102.3,1240.1 1102.4,1238.4 1102.5,1236.7 C1102.7,1235.1 1102.8,1233.4 1102.9,1231.7 C1103.0,1230.1 1103.1,1228.4 1103.2,1226.7 C1103.4,1225.1 1103.5,1223.4 1103.6,1221.7 C1103.7,1220.1 1103.8,1218.4 1103.9,1216.7 C1104.1,1215.0 1104.2,1213.4 1104.3,1211.7 C1104.4,1210.0 1104.5,1208.4 1104.6,1206.7 C1104.7,1205.0 1104.8,1203.4 1105.0,1201.7 C1105.1,1200.0 1105.2,1198.4 1105.3,1196.7 C1105.4,1195.0 1105.5,1193.4 1105.6,1191.7 C1105.7,1190.0 1105.9,1188.4 1106.0,1186.7 C1106.1,1185.0 1106.2,1183.4 1106.3,1181.7 C1106.4,1180.0 1106.5,1178.4 1106.6,1176.7 C1106.7,1175.0 1106.8,1173.3 1106.9,1171.7 C1107.1,1170.0 1107.2,1168.3 1107.3,1166.7 C1107.4,1165.0 1107.5,1163.3 1107.6,1161.7 C1107.7,1160.0 1107.8,1158.3 1107.9,1156.7 C1108.0,1155.0 1108.1,1153.3 1108.2,1151.7 C1108.3,1150.0 1108.4,1148.3 1108.5,1146.6 C1108.7,1145.0 1108.8,1143.3 1108.9,1141.6 C1109.0,1140.0 1109.1,1138.3 1109.2,1136.6 C1109.3,1135.0 1109.4,1133.3 1109.5,1131.6 C1109.6,1130.0 1109.7,1128.3 1109.8,1126.6 C1109.9,1125.0 1110.0,1123.3 1110.1,1121.6 C1110.2,1119.9 1110.3,1118.3 1110.4,1116.6 C1110.5,1114.9 1110.6,1113.3 1110.7,1111.6 C1110.8,1109.9 1110.9,1108.3 1111.0,1106.6 C1111.1,1104.9 1111.2,1103.3 1111.3,1101.6 C1111.4,1099.9 1111.5,1098.2 1111.6,1096.6 C1111.7,1094.9 1111.8,1093.2 1111.9,1091.6 C1112.0,1089.9 1112.1,1088.2 1112.2,1086.6 C1112.3,1084.9 1112.4,1083.2 1112.5,1081.6 C1112.6,1079.9 1112.7,1078.2 1112.8,1076.5 C1112.9,1074.9 1113.0,1073.2 1113.0,1071.5 C1113.1,1069.9 1113.2,1068.2 1113.3,1066.5 C1113.4,1064.9 1113.5,1063.2 1113.6,1061.5 C1113.7,1059.9 1113.8,1058.2 1113.9,1056.5 C1114.0,1054.8 1114.1,1053.2 1114.2,1051.5 C1114.3,1049.8 1114.4,1048.2 1114.5,1046.5 C1114.6,1044.8 1114.6,1043.2 1114.7,1041.5 C1114.8,1039.8 1114.9,1038.2 1115.0,1036.5 C1115.1,1034.8 1115.2,1033.1 1115.3,1031.5 C1115.4,1029.8 1115.5,1028.1 1115.6,1026.5 C1115.7,1024.8 1115.7,1023.1 1115.8,1021.5 C1115.9,1019.8 1116.0,1018.1 1116.1,1016.5 C1116.2,1014.8 1116.3,1013.1 1116.4,1011.5 C1116.5,1009.8 1116.5,1008.1 1116.6,1006.4 C1116.7,1004.8 1116.8,1003.1 1116.9,1001.4 C1117.0,999.8 1117.1,998.1 1117.2,996.4 C1117.3,994.8 1117.3,993.1 1117.4,991.4 C1117.5,989.8 1117.6,988.1 1117.7,986.4 C1117.8,984.8 1117.9,983.1 1117.9,981.4 C1118.0,979.8 1118.1,978.1 1118.2,976.4 C1118.3,974.7 1118.4,973.1 1118.5,971.4 C1118.5,969.7 1118.6,968.1 1118.7,966.4 C1118.8,964.7 1118.9,963.1 1119.0,961.4 C1119.1,959.7 1119.1,958.1 1119.2,956.4 C1119.3,954.7 1119.4,953.1 1119.5,951.4 C1119.6,949.7 1119.6,948.1 1119.7,946.4 C1119.8,944.7 1119.9,943.1 1120.0,941.4 C1120.1,939.7 1120.1,938.0 1120.2,936.4 C1120.3,934.7 1120.4,933.0 1120.5,931.4 C1120.6,929.7 1120.6,928.0 1120.7,926.4 C1120.8,924.7 1120.9,923.0 1121.0,921.4 C1121.0,919.7 1121.1,918.0 1121.2,916.4 C1121.3,914.7 1121.4,913.0 1121.4,911.4 C1121.5,909.7 1121.6,908.0 1121.7,906.4 C1121.8,904.7 1121.8,903.0 1121.9,901.4 C1122.0,899.7 1122.1,898.0 1122.2,896.4 C1122.2,894.7 1122.3,893.0 1122.4,891.4 C1122.5,889.7 1122.6,888.0 1122.6,886.4 C1122.7,884.7 1122.8,883.0 1122.9,881.3 C1123.0,879.7 1123.0,878.0 1123.1,876.3 C1123.2,874.7 1123.3,873.0 1123.3,871.3 C1123.4,869.7 1123.5,868.0 1123.6,866.3 C1123.7,864.7 1123.7,863.0 1123.8,861.3 C1123.9,859.7 1124.0,858.0 1124.0,856.3 C1124.1,854.7 1124.2,853.0 1124.3,851.3 C1124.4,849.7 1124.4,848.0 1124.5,846.3 C1124.6,844.7 1124.7,843.0 1124.7,841.3 C1124.8,839.7 1124.9,838.0 1125.0,836.3 C1125.0,834.7 1125.1,833.0 1125.2,831.3 C1125.3,829.7 1125.3,828.0 1125.4,826.3 C1125.5,824.7 1125.6,823.0 1125.6,821.3 C1125.7,819.7 1125.8,818.0 1125.9,816.3 C1125.9,814.7 1126.0,813.0 1126.1,811.3 C1126.2,809.7 1126.2,808.0 1126.3,806.3 C1126.4,804.6 1126.5,803.0 1126.5,801.3 C1126.6,799.6 1126.7,798.0 1126.8,796.3 C1126.8,794.6 1126.9,793.0 1127.0,791.3 C1127.1,789.6 1127.1,788.0 1127.2,786.3 C1127.3,784.6 1127.4,783.0 1127.4,781.3 C1127.5,779.6 1127.6,778.0 1127.7,776.3 C1127.7,774.6 1127.8,773.0 1127.9,771.3 C1127.9,769.6 1128.0,768.0 1128.1,766.3 C1128.2,764.6 1128.2,763.0 1128.3,761.3 C1128.4,759.6 1128.5,758.0 1128.5,756.3 C1128.6,754.6 1128.7,753.0 1128.7,751.3 C1128.8,749.6 1128.9,748.0 1129.0,746.3 C1129.0,744.6 1129.1,742.9 1129.2,741.3 C1129.3,739.6 1129.3,737.9 1129.4,736.3 C1129.5,734.6 1129.5,732.9 1129.6,731.3 C1129.7,729.6 1129.8,727.9 1129.8,726.3 C1129.9,724.6 1130.0,722.9 1130.0,721.3 C1130.1,719.6 1130.2,717.9 1130.3,716.3 C1130.3,714.6 1130.4,712.9 1130.5,711.3 C1130.5,709.6 1130.6,707.9 1130.7,706.3 C1130.8,704.6 1130.8,702.9 1130.9,701.2 C1131.0,699.6 1131.0,697.9 1131.1,696.2 C1131.2,694.6 1131.3,692.9 1131.3,691.2 C1131.4,689.6 1131.5,687.9 1131.5,686.2 C1131.6,684.6 1131.7,682.9 1131.8,681.2 C1131.8,679.6 1131.9,677.9 1132.0,676.2 C1132.0,674.6 1132.1,672.9 1132.2,671.2 C1132.2,669.5 1132.3,667.9 1132.4,666.2 C1132.5,664.5 1132.5,662.9 1132.6,661.2 C1132.7,659.5 1132.7,657.9 1132.8,656.2 C1132.9,654.5 1132.9,652.9 1133.0,651.2 C1133.1,649.5 1133.2,647.9 1133.2,646.2 C1133.3,644.5 1133.4,642.8 1133.4,641.2 C1133.5,639.5 1133.6,637.8 1133.6,636.2 C1133.7,634.5 1133.8,632.8 1133.8,631.2 C1133.9,629.5 1134.0,627.8 1134.0,626.1 C1134.1,624.5 1134.2,622.8 1134.3,621.1 C1134.3,619.5 1134.4,617.8 1134.5,616.1 C1134.5,614.5 1134.6,612.8 1134.7,611.1 C1134.7,609.5 1134.8,607.8 1134.9,606.1 C1134.9,604.4 1135.0,602.8 1135.1,601.1 C1135.1,599.4 1135.2,597.8 1135.3,596.1 C1135.3,594.4 1135.4,592.8 1135.5,591.1 C1135.5,589.4 1135.6,587.7 1135.7,586.1 C1135.7,584.4 1135.8,582.7 1135.9,581.1 C1135.9,579.4 1136.0,577.7 1136.1,576.0 C1136.1,574.4 1136.2,572.7 1136.3,571.0 C1136.3,569.4 1136.4,567.7 1136.5,566.0 C1136.5,564.4 1136.6,562.7 1136.7,561.0 C1136.7,559.3 1136.8,557.7 1136.9,556.0 C1136.9,554.3 1137.0,552.7 1137.1,551.0 C1137.1,549.3 1137.2,547.6 1137.2,546.0 C1137.3,544.3 1137.4,542.6 1137.4,541.0 C1137.5,539.3 1137.6,537.6 1137.6,535.9 C1137.7,534.3 1137.8,532.6 1137.8,530.9 C1137.9,529.3 1137.9,527.6 1138.0,525.9 C1138.1,524.2 1138.1,522.6 1138.2,520.9 C1138.3,519.2 1138.3,517.5 1138.4,515.9 C1138.5,514.2 1138.5,512.5 1138.6,510.9 C1138.6,509.2 1138.7,507.5 1138.8,505.8 C1138.8,504.2 1138.9,502.5 1139.0,500.8 C1139.0,499.1 1139.1,497.5 1139.1,495.8 C1139.2,494.1 1139.3,492.5 1139.3,490.8 C1139.4,489.1 1139.4,487.4 1139.5,485.8 C1139.6,484.1 1139.6,482.4 1139.7,480.7 C1139.8,479.1 1139.8,477.4 1139.9,475.7 C1139.9,474.0 1140.0,472.4 1140.1,470.7 C1140.1,469.0 1140.2,467.3 1140.2,465.7 C1140.3,464.0 1140.4,462.3 1140.4,460.7 C1140.5,459.0 1140.5,457.3 1140.6,455.6 C1140.7,454.0 1140.7,452.3 1140.8,450.6 C1140.8,448.9 1140.9,447.3 1141.0,445.6 C1141.0,443.9 1141.1,442.2 1141.1,440.6 C1141.2,438.9 1141.3,437.2 1141.3,435.5 C1141.4,433.9 1141.5,432.2 1141.5,430.5 C1141.6,428.9 1141.7,427.2 1141.7,425.5 C1141.8,423.8 1141.8,422.2 1141.9,420.5 C1142.0,418.8 1142.0,417.1 1142.1,415.5 C1142.2,413.8 1142.3,412.1 1142.3,410.5 C1142.4,408.8 1142.5,407.1 1142.5,405.4 C1142.6,403.8 1142.7,402.1 1142.7,400.4 C1142.8,398.8 1142.9,397.1 1143.0,395.4 C1143.0,393.7 1143.1,392.1 1143.2,390.4 C1143.3,388.7 1143.3,387.1 1143.4,385.4 C1143.5,383.7 1143.6,382.1 1143.7,380.4 C1143.7,378.7 1143.8,377.1 1143.9,375.4 C1144.0,373.7 1144.1,372.1 1144.2,370.4 C1144.2,368.7 1144.3,367.1 1144.4,365.4 C1144.5,363.7 1144.6,362.1 1144.7,360.4 C1144.8,358.7 1144.9,357.1 1145.0,355.4 C1145.1,353.7 1145.2,352.1 1145.2,350.4 C1145.3,348.7 1145.4,347.1 1145.5,345.4 C1145.6,343.8 1145.7,342.1 1145.8,340.4 C1146.0,338.8 1146.1,337.1 1146.2,335.5 C1146.3,333.8 1146.4,332.1 1146.5,330.5 C1146.6,328.8 1146.7,327.2 1146.8,325.5 C1146.9,323.8 1147.1,322.2 1147.2,320.5 C1147.3,318.9 1147.4,317.2 1147.5,315.6 C1147.7,313.9 1147.8,312.2 1147.9,310.6 C1148.0,308.9 1148.2,307.3 1148.3,305.6 C1148.4,304.0 1148.6,302.3 1148.7,300.7 C1148.8,299.0 1149.0,297.4 1149.1,295.7 C1149.2,294.1 1149.4,292.4 1149.5,290.8 C1149.7,289.1 1149.8,287.5 1150.0,285.8 C1150.1,284.2 1150.3,282.5 1150.4,280.9 C1150.6,279.3 1150.7,277.6 1150.9,276.0 C1151.0,274.3 1151.2,272.7 1151.4,271.0 C1151.5,269.4 1151.7,267.8 1151.9,266.1 C1152.0,264.5 1152.2,262.8 1152.4,261.2 C1152.6,259.5 1152.8,257.8 1153.0,256.1 C1153.2,254.4 1153.4,252.7 1153.6,250.9 C1153.8,249.1 1154.1,247.3 1154.4,245.4 C1154.6,243.5 1154.9,241.5 1155.2,239.5 C1155.6,237.6 1155.9,235.5 1156.3,233.7 C1156.7,231.9 1157.1,229.8 1157.5,228.5 C1157.9,227.1 1158.4,225.7 1158.9,225.4 C1159.3,225.1 1159.8,225.8 1160.3,226.8 C1160.8,227.8 1161.3,229.8 1161.8,231.4 C1162.2,233.1 1162.7,235.0 1163.1,236.8 C1163.6,238.5 1164.0,240.3 1164.4,242.0 C1164.8,243.8 1165.2,245.5 1165.5,247.3 C1165.9,249.0 1166.2,250.7 1166.5,252.4 C1166.9,254.1 1167.2,255.8 1167.4,257.5 C1167.7,259.2 1168.0,260.9 1168.2,262.6 C1168.5,264.3 1168.7,266.0 1168.9,267.6 C1169.1,269.3 1169.3,271.0 1169.5,272.6 C1169.7,274.3 1169.9,276.0 1170.1,277.6 C1170.3,279.3 1170.4,281.0 1170.6,282.6 C1170.8,284.3 1171.0,286.0 1171.1,287.6 C1171.3,289.3 1171.5,290.9 1171.6,292.6 C1171.8,294.3 1172.0,295.9 1172.2,297.6 C1172.3,299.3 1172.5,300.9 1172.7,302.6 C1172.8,304.3 1173.0,305.9 1173.2,307.6 C1173.3,309.2 1173.5,310.9 1173.7,312.6 C1173.8,314.2 1174.0,315.9 1174.2,317.6 C1174.3,319.2 1174.5,320.9 1174.7,322.5 C1174.8,324.2 1175.0,325.9 1175.1,327.5 C1175.3,329.2 1175.5,330.9 1175.6,332.5 C1175.8,334.2 1175.9,335.8 1176.1,337.5 C1176.2,339.2 1176.4,340.8 1176.6,342.5 C1176.7,344.2 1176.9,345.8 1177.0,347.5 C1177.2,349.1 1177.3,350.8 1177.5,352.5 C1177.6,354.1 1177.8,355.8 1177.9,357.4 C1178.1,359.1 1178.2,360.8 1178.4,362.4 C1178.5,364.1 1178.7,365.8 1178.8,367.4 C1179.0,369.1 1179.1,370.7 1179.3,372.4 C1179.4,374.1 1179.6,375.7 1179.7,377.4 C1179.9,379.0 1180.0,380.7 1180.2,382.4 C1180.3,384.0 1180.5,385.7 1180.6,387.4 C1180.8,389.0 1180.9,390.7 1181.0,392.3 C1181.2,394.0 1181.3,395.7 1181.5,397.3 C1181.6,399.0 1181.8,400.6 1181.9,402.3 C1182.0,404.0 1182.2,405.6 1182.3,407.3 C1182.5,408.9 1182.6,410.6 1182.7,412.3 C1182.9,413.9 1183.0,415.6 1183.2,417.3 C1183.3,418.9 1183.4,420.6 1183.6,422.2 C1183.7,423.9 1183.8,425.6 1184.0,427.2 C1184.1,428.9 1184.3,430.5 1184.4,432.2 C1184.5,433.9 1184.7,435.5 1184.8,437.2 C1184.9,438.9 1185.1,440.5 1185.2,442.2 C1185.3,443.8 1185.5,445.5 1185.6,447.2 C1185.7,448.8 1185.9,450.5 1186.0,452.1 C1186.1,453.8 1186.3,455.5 1186.4,457.1 C1186.5,458.8 1186.7,460.5 1186.8,462.1 C1186.9,463.8 1187.1,465.4 1187.2,467.1 C1187.3,468.8 1187.5,470.4 1187.6,472.1 C1187.7,473.7 1187.8,475.4 1188.0,477.1 C1188.1,478.7 1188.2,480.4 1188.4,482.1 C1188.5,483.7 1188.6,485.4 1188.8,487.0 C1188.9,488.7 1189.0,490.4 1189.1,492.0 C1189.3,493.7 1189.4,495.3 1189.5,497.0 C1189.7,498.7 1189.8,500.3 1189.9,502.0 C1190.1,503.7 1190.2,505.3 1190.3,507.0 C1190.4,508.6 1190.6,510.3 1190.7,512.0 C1190.8,513.6 1190.9,515.3 1191.1,517.0 C1191.2,518.6 1191.3,520.3 1191.5,521.9 C1191.6,523.6 1191.7,525.3 1191.8,526.9 C1192.0,528.6 1192.1,530.3 1192.2,531.9 C1192.4,533.6 1192.5,535.3 1192.6,536.9 C1192.7,538.6 1192.9,540.2 1193.0,541.9 C1193.1,543.6 1193.3,545.2 1193.4,546.9 C1193.5,548.6 1193.6,550.2 1193.8,551.9 C1193.9,553.5 1194.0,555.2 1194.1,556.9 C1194.3,558.5 1194.4,560.2 1194.5,561.9 C1194.7,563.5 1194.8,565.2 1194.9,566.9 C1195.0,568.5 1195.2,570.2 1195.3,571.9 C1195.4,573.5 1195.6,575.2 1195.7,576.8 C1195.8,578.5 1195.9,580.2 1196.1,581.8 C1196.2,583.5 1196.3,585.2 1196.5,586.8 C1196.6,588.5 1196.7,590.2 1196.8,591.8 C1197.0,593.5 1197.1,595.2 1197.2,596.8 C1197.4,598.5 1197.5,600.2 1197.6,601.8 C1197.7,603.5 1197.9,605.2 1198.0,606.8 C1198.1,608.5 1198.3,610.1 1198.4,611.8 C1198.5,613.5 1198.6,615.1 1198.8,616.8 C1198.9,618.5 1199.0,620.1 1199.2,621.8 C1199.3,623.5 1199.4,625.1 1199.5,626.8 C1199.7,628.5 1199.8,630.1 1199.9,631.8 C1200.1,633.5 1200.2,635.1 1200.3,636.8 C1200.4,638.5 1200.6,640.1 1200.7,641.8 C1200.8,643.5 1201.0,645.1 1201.1,646.8 C1201.2,648.5 1201.4,650.1 1201.5,651.8 C1201.6,653.5 1201.7,655.1 1201.9,656.8 C1202.0,658.5 1202.1,660.1 1202.3,661.8 C1202.4,663.5 1202.5,665.1 1202.7,666.8 C1202.8,668.5 1202.9,670.1 1203.1,671.8 C1203.2,673.5 1203.3,675.1 1203.4,676.8 C1203.6,678.5 1203.7,680.1 1203.8,681.8 C1204.0,683.5 1204.1,685.1 1204.2,686.8 C1204.4,688.5 1204.5,690.1 1204.6,691.8 C1204.8,693.5 1204.9,695.1 1205.0,696.8 C1205.2,698.5 1205.3,700.1 1205.4,701.8 C1205.5,703.5 1205.7,705.1 1205.8,706.8 C1205.9,708.5 1206.1,710.1 1206.2,711.8 C1206.3,713.5 1206.5,715.1 1206.6,716.8 C1206.7,718.5 1206.9,720.1 1207.0,721.8 C1207.1,723.5 1207.3,725.1 1207.4,726.8 C1207.5,728.5 1207.7,730.1 1207.8,731.8 C1207.9,733.5 1208.1,735.1 1208.2,736.8 C1208.3,738.5 1208.5,740.1 1208.6,741.8 C1208.7,743.5 1208.9,745.1 1209.0,746.8 C1209.1,748.5 1209.3,750.1 1209.4,751.8 C1209.5,753.5 1209.7,755.2 1209.8,756.8 C1209.9,758.5 1210.1,760.2 1210.2,761.8 C1210.4,763.5 1210.5,765.2 1210.6,766.8 C1210.8,768.5 1210.9,770.2 1211.0,771.8 C1211.2,773.5 1211.3,775.2 1211.4,776.8 C1211.6,778.5 1211.7,780.2 1211.8,781.8 C1212.0,783.5 1212.1,785.2 1212.2,786.8 C1212.4,788.5 1212.5,790.2 1212.7,791.8 C1212.8,793.5 1212.9,795.2 1213.1,796.8 C1213.2,798.5 1213.3,800.2 1213.5,801.8 C1213.6,803.5 1213.8,805.2 1213.9,806.9 C1214.0,808.5 1214.2,810.2 1214.3,811.9 C1214.4,813.5 1214.6,815.2 1214.7,816.9 C1214.9,818.5 1215.0,820.2 1215.1,821.9 C1215.3,823.5 1215.4,825.2 1215.6,826.9 C1215.7,828.5 1215.8,830.2 1216.0,831.9 C1216.1,833.5 1216.2,835.2 1216.4,836.9 C1216.5,838.5 1216.7,840.2 1216.8,841.9 C1216.9,843.5 1217.1,845.2 1217.2,846.9 C1217.4,848.5 1217.5,850.2 1217.6,851.9 C1217.8,853.5 1217.9,855.2 1218.1,856.9 C1218.2,858.6 1218.4,860.2 1218.5,861.9 C1218.6,863.6 1218.8,865.2 1218.9,866.9 C1219.1,868.6 1219.2,870.2 1219.3,871.9 C1219.5,873.6 1219.6,875.2 1219.8,876.9 C1219.9,878.6 1220.1,880.2 1220.2,881.9 C1220.3,883.6 1220.5,885.2 1220.6,886.9 C1220.8,888.6 1220.9,890.2 1221.1,891.9 C1221.2,893.6 1221.3,895.2 1221.5,896.9 C1221.6,898.6 1221.8,900.2 1221.9,901.9 C1222.1,903.6 1222.2,905.2 1222.4,906.9 C1222.5,908.6 1222.6,910.2 1222.8,911.9 C1222.9,913.6 1223.1,915.2 1223.2,916.9 C1223.4,918.6 1223.5,920.2 1223.7,921.9 C1223.8,923.6 1224.0,925.2 1224.1,926.9 C1224.3,928.6 1224.4,930.2 1224.5,931.9 C1224.7,933.6 1224.8,935.2 1225.0,936.9 C1225.1,938.6 1225.3,940.2 1225.4,941.9 C1225.6,943.6 1225.7,945.2 1225.9,946.9 C1226.0,948.6 1226.2,950.2 1226.3,951.9 C1226.5,953.6 1226.6,955.2 1226.8,956.9 C1226.9,958.6 1227.1,960.2 1227.2,961.9 C1227.4,963.6 1227.5,965.2 1227.7,966.9 C1227.8,968.6 1228.0,970.2 1228.1,971.9 C1228.3,973.6 1228.4,975.2 1228.6,976.9 C1228.7,978.6 1228.9,980.2 1229.0,981.9 C1229.2,983.6 1229.3,985.2 1229.5,986.9 C1229.6,988.6 1229.8,990.2 1229.9,991.9 C1230.1,993.6 1230.3,995.2 1230.4,996.9 C1230.6,998.6 1230.7,1000.2 1230.9,1001.9 C1231.0,1003.6 1231.2,1005.2 1231.3,1006.9 C1231.5,1008.5 1231.6,1010.2 1231.8,1011.9 C1231.9,1013.5 1232.1,1015.2 1232.3,1016.9 C1232.4,1018.5 1232.6,1020.2 1232.7,1021.9 C1232.9,1023.5 1233.0,1025.2 1233.2,1026.9 C1233.4,1028.5 1233.5,1030.2 1233.7,1031.9 C1233.8,1033.5 1234.0,1035.2 1234.1,1036.8 C1234.3,1038.5 1234.5,1040.2 1234.6,1041.8 C1234.8,1043.5 1234.9,1045.2 1235.1,1046.8 C1235.2,1048.5 1235.4,1050.2 1235.6,1051.8 C1235.7,1053.5 1235.9,1055.2 1236.0,1056.8 C1236.2,1058.5 1236.4,1060.1 1236.5,1061.8 C1236.7,1063.5 1236.8,1065.1 1237.0,1066.8 C1237.2,1068.5 1237.3,1070.1 1237.5,1071.8 C1237.7,1073.5 1237.8,1075.1 1238.0,1076.8 C1238.1,1078.4 1238.3,1080.1 1238.5,1081.8 C1238.6,1083.4 1238.8,1085.1 1239.0,1086.8 C1239.1,1088.4 1239.3,1090.1 1239.5,1091.7 C1239.6,1093.4 1239.8,1095.1 1240.0,1096.7 C1240.1,1098.4 1240.3,1100.1 1240.5,1101.7 C1240.6,1103.4 1240.8,1105.0 1241.0,1106.7 C1241.1,1108.4 1241.3,1110.0 1241.5,1111.7 C1241.7,1113.4 1241.8,1115.0 1242.0,1116.7 C1242.2,1118.3 1242.3,1120.0 1242.5,1121.7 C1242.7,1123.3 1242.9,1125.0 1243.0,1126.6 C1243.2,1128.3 1243.4,1130.0 1243.5,1131.6 C1243.7,1133.3 1243.9,1135.0 1244.1,1136.6 C1244.2,1138.3 1244.4,1139.9 1244.6,1141.6 C1244.8,1143.3 1245.0,1144.9 1245.1,1146.6 C1245.3,1148.2 1245.5,1149.9 1245.7,1151.6 C1245.8,1153.2 1246.0,1154.9 1246.2,1156.5 C1246.4,1158.2 1246.6,1159.9 1246.8,1161.5 C1246.9,1163.2 1247.1,1164.8 1247.3,1166.5 C1247.5,1168.2 1247.7,1169.8 1247.9,1171.5 C1248.0,1173.1 1248.2,1174.8 1248.4,1176.4 C1248.6,1178.1 1248.8,1179.8 1249.0,1181.4 C1249.2,1183.1 1249.3,1184.7 1249.5,1186.4 C1249.7,1188.1 1249.9,1189.7 1250.1,1191.4 C1250.3,1193.0 1250.5,1194.7 1250.7,1196.4 C1250.9,1198.0 1251.1,1199.7 1251.3,1201.3 C1251.5,1203.0 1251.6,1204.6 1251.8,1206.3 C1252.0,1208.0 1252.2,1209.6 1252.4,1211.3 C1252.6,1212.9 1252.8,1214.6 1253.0,1216.2 C1253.2,1217.9 1253.4,1219.6 1253.6,1221.2 C1253.8,1222.9 1254.0,1224.5 1254.2,1226.2 C1254.4,1227.8 1254.6,1229.5 1254.8,1231.2 C1255.0,1232.8 1255.2,1234.5 1255.5,1236.1 C1255.7,1237.8 1255.9,1239.4 1256.1,1241.1 C1256.3,1242.7 1256.5,1244.4 1256.7,1246.1 C1256.9,1247.7 1257.1,1249.4 1257.3,1251.0 C1257.5,1252.7 1257.8,1254.3 1258.0,1256.0 C1258.2,1257.6 1258.4,1259.3 1258.6,1260.9 C1258.8,1262.6 1259.0,1264.3 1259.3,1265.9 C1259.5,1267.6 1259.7,1269.2 1259.9,1270.9 C1260.1,1272.5 1260.4,1274.2 1260.6,1275.8 C1260.8,1277.5 1261.0,1279.1 1261.3,1280.8 C1261.5,1282.5 1261.7,1284.1 1261.9,1285.8 C1262.2,1287.4 1262.4,1289.1 1262.6,1290.7 C1262.8,1292.4 1263.1,1294.0 1263.3,1295.7 C1263.5,1297.3 1263.8,1299.0 1264.0,1300.6 C1264.2,1302.3 1264.5,1303.9 1264.7,1305.6 C1264.9,1307.2 1265.2,1308.9 1265.4,1310.5 C1265.6,1312.2 1265.9,1313.8 1266.1,1315.5 C1266.4,1317.1 1266.6,1318.8 1266.8,1320.4 C1267.1,1322.1 1267.3,1323.7 1267.6,1325.4 C1267.8,1327.1 1268.1,1328.7 1268.3,1330.4 C1268.5,1332.0 1268.8,1333.7 1269.0,1335.3 C1269.3,1337.0 1269.5,1338.6 1269.8,1340.2 C1270.0,1341.9 1270.3,1343.5 1270.5,1345.2 C1270.8,1346.8 1271.0,1348.5 1271.3,1350.1 C1271.5,1351.8 1271.8,1353.4 1272.0,1355.1 C1272.3,1356.7 1272.5,1358.4 1272.8,1360.0 C1273.0,1361.7 1273.3,1363.3 1273.5,1365.0 C1273.8,1366.6 1274.0,1368.3 1274.3,1369.9 C1274.5,1371.6 1274.7,1373.2 1275.0,1374.9 C1275.2,1376.5 1275.5,1378.2 1275.7,1379.8 C1276.0,1381.5 1276.2,1383.1 1276.5,1384.7 C1276.7,1386.4 1276.9,1388.0 1277.2,1389.7 C1277.4,1391.3 1277.7,1393.0 1277.9,1394.6 C1278.1,1396.3 1278.4,1397.9 1278.6,1399.6 C1278.8,1401.2 1279.1,1402.8 1279.3,1404.5 C1279.5,1406.1 1279.7,1407.8 1280.0,1409.4 C1280.2,1411.1 1280.4,1412.7 1280.6,1414.4 C1280.8,1416.0 1281.1,1417.6 1281.3,1419.3 C1281.5,1420.9 1281.7,1422.6 1281.9,1424.2 C1282.1,1425.9 1282.3,1427.5 1282.5,1429.1 C1282.8,1430.8 1283.0,1432.4 1283.2,1434.1 C1283.4,1435.7 1283.6,1437.4 1283.7,1439.0 C1283.9,1440.6 1284.1,1442.3 1284.3,1443.9 C1284.5,1445.6 1284.7,1447.2 1284.9,1448.9 C1285.1,1450.5 1285.3,1452.1 1285.5,1453.8 C1285.7,1455.4 1285.9,1457.1 1286.1,1458.7 C1286.3,1460.3 1286.5,1462.0 1286.7,1463.6 C1286.9,1465.3 1287.1,1466.9 1287.4,1468.5 C1287.6,1470.2 1287.9,1471.8 1288.1,1473.5 C1288.4,1475.1 1288.6,1476.7 1288.9,1478.4 C1289.1,1480.0 1289.4,1481.6 1289.7,1483.3 C1289.9,1484.9 1290.2,1486.6 1290.5,1488.2 C1290.8,1489.8 1291.1,1491.5 1291.4,1493.1 C1291.7,1494.7 1292.0,1496.4 1292.3,1498.0 C1292.6,1499.7 1292.9,1501.3 1293.2,1502.9 C1293.5,1504.6 1293.9,1506.2 1294.2,1507.8 C1294.5,1509.5 1294.8,1511.1 1295.2,1512.7 C1295.5,1514.4 1295.9,1516.0 1296.2,1517.7 C1296.6,1519.3 1296.9,1520.9 1297.3,1522.6 C1297.6,1524.2 1298.0,1525.8 1298.4,1527.5 C1298.7,1529.1 1299.1,1530.7 1299.5,1532.4 C1299.8,1534.0 1300.2,1535.6 1300.6,1537.3 C1301.0,1538.9 1301.4,1540.5 1301.8,1542.2 C1302.2,1543.8 1302.5,1545.4 1302.9,1547.1 C1303.3,1548.7 1303.7,1550.3 1304.1,1552.0 C1304.6,1553.6 1305.0,1555.2 1305.4,1556.8 C1305.8,1558.5 1306.2,1560.1 1306.6,1561.7 C1307.0,1563.4 1307.4,1565.0 1307.9,1566.6 C1308.3,1568.3 1308.7,1569.9 1309.1,1571.5 C1309.6,1573.1 1310.0,1574.8 1310.4,1576.4 C1310.9,1578.0 1311.3,1579.7 1311.7,1581.3 C1312.2,1582.9 1312.6,1584.5 1313.1,1586.2 C1313.5,1587.8 1313.9,1589.4 1314.4,1591.1 C1314.8,1592.7 1315.3,1594.3 1315.7,1595.9 C1316.2,1597.6 1316.6,1599.2 1317.1,1600.8 C1317.5,1602.4 1318.0,1604.1 1318.4,1605.7 C1318.9,1607.3 1319.3,1608.9 1319.8,1610.6 C1320.3,1612.2 1320.7,1613.8 1321.2,1615.4 C1321.6,1617.1 1322.1,1618.7 1322.5,1620.3 C1323.0,1621.9 1323.5,1623.6 1323.9,1625.2 C1324.4,1626.8 1324.8,1628.4 1325.3,1630.1 C1325.8,1631.7 1326.2,1633.3 1326.7,1634.9 C1327.2,1636.5 1327.6,1638.2 1328.1,1639.8 C1328.6,1641.4 1329.0,1643.0 1329.5,1644.6 C1330.0,1646.3 1330.4,1647.9 1330.9,1649.5 C1331.4,1651.1 1331.8,1652.7 1332.3,1654.4 C1332.8,1656.0 1333.2,1657.6 1333.7,1659.2 C1334.2,1660.8 1334.6,1662.5 1335.1,1664.1 C1335.6,1665.7 1336.0,1667.3 1336.5,1668.9 C1337.0,1670.5 1337.4,1672.2 1337.9,1673.8 C1338.4,1675.4 1338.8,1677.0 1339.3,1678.6 C1339.8,1680.2 1340.2,1681.9 1340.7,1683.5 C1341.2,1685.1 1341.6,1686.7 1342.1,1688.3 C1342.6,1689.9 1343.0,1691.6 1343.5,1693.2 C1344.0,1694.8 1344.4,1696.4 1344.9,1698.0 C1345.4,1699.6 1345.8,1701.2 1346.3,1702.8 C1346.8,1704.5 1347.2,1706.1 1347.7,1707.7 C1348.1,1709.3 1348.6,1710.9 1349.1,1712.5 C1349.5,1714.1 1350.0,1715.7 1350.4,1717.4 C1350.9,1719.0 1351.3,1720.6 1351.8,1722.2 C1352.3,1723.8 1352.7,1725.4 1353.2,1727.0 C1353.6,1728.6 1354.1,1730.2 1354.5,1731.8 C1355.0,1733.4 1355.4,1735.1 1355.9,1736.7 C1356.3,1738.3 1356.8,1739.9 1357.2,1741.5 C1357.7,1743.1 1358.1,1744.7 1358.6,1746.3 C1359.0,1747.9 1359.4,1749.5 1359.9,1751.1 C1360.3,1752.7 1360.8,1754.3 1361.2,1755.9 C1361.7,1757.5 1362.1,1759.1 1362.6,1760.7 C1363.1,1762.3 1363.6,1763.9 1364.1,1765.4 C1364.6,1767.0 1365.1,1768.5 1365.7,1770.0 C1366.2,1771.6 1366.8,1773.1 1367.5,1774.6 C1368.1,1776.1 1368.8,1777.5 1369.5,1779.0 C1370.2,1780.4 1371.0,1781.8 1371.8,1783.2 C1372.6,1784.6 1373.4,1785.9 1374.4,1787.2 C1375.3,1788.5 1376.3,1789.8 1377.3,1791.1 C1378.4,1792.3 1379.5,1793.5 1380.7,1794.7 C1381.8,1795.8 1383.1,1797.0 1384.3,1798.0 C1385.6,1799.1 1387.0,1800.1 1388.3,1801.1 C1389.7,1802.1 1391.1,1803.0 1392.5,1803.9 C1394.0,1804.7 1395.4,1805.5 1396.9,1806.3 C1398.4,1807.0 1399.9,1807.7 1401.5,1808.4 C1403.0,1809.0 1404.5,1809.6 1406.1,1810.2 C1407.6,1810.8 1409.2,1811.3 1410.7,1811.9 C1412.2,1812.5 1413.7,1813.0 1415.2,1813.7 C1416.7,1814.3 1418.2,1814.9 1419.6,1815.6 C1421.1,1816.4 1422.5,1817.1 1423.8,1818.0 C1425.2,1818.8 1426.5,1819.8 1427.7,1820.8 C1429.0,1821.8 1430.2,1822.9 1431.4,1824.0 C1432.6,1825.2 1433.8,1826.3 1435.0,1827.5 C1436.1,1828.7 1437.2,1830.0 1438.4,1831.2 C1439.5,1832.5 1440.6,1833.8 1441.7,1835.1 C1442.8,1836.3 1443.9,1837.6 1444.9,1839.0 C1446.0,1840.3 1447.1,1841.6 1448.1,1842.9 C1449.2,1844.3 1450.2,1845.6 1451.3,1846.9 C1452.3,1848.3 1453.3,1849.7 1454.3,1851.0 C1455.4,1852.4 1456.4,1853.8 1457.4,1855.1 C1458.4,1856.5 1459.4,1857.9 1460.4,1859.3 C1461.4,1860.7 1462.4,1862.1 1463.4,1863.4 C1464.4,1864.8 1465.4,1866.2 1466.4,1867.6 C1467.3,1869.0 1468.3,1870.4 1469.3,1871.8 C1470.3,1873.2 1471.3,1874.5 1472.3,1875.9 C1473.3,1877.3 1474.2,1878.7 1475.2,1880.0 C1476.2,1881.4 1477.2,1882.8 1478.2,1884.1 C1479.2,1885.5 1480.2,1886.8 1481.2,1888.2 C1482.1,1889.5 1483.1,1890.8 1484.2,1892.1 C1485.2,1893.4 1486.2,1894.7 1487.2,1896.0 C1488.2,1897.3 1489.2,1898.6 1490.3,1899.8 C1491.3,1901.1 1492.4,1902.3 1493.5,1903.6 C1494.5,1904.8 1495.6,1906.0 1496.7,1907.2 C1497.9,1908.4 1499.0,1909.5 1500.1,1910.7 C1501.3,1911.8 1502.5,1913.0 1503.7,1914.1 C1504.9,1915.2 1506.1,1916.3 1507.3,1917.3 C1508.6,1918.4 1509.9,1919.4 1511.2,1920.4 C1512.4,1921.4 1513.8,1922.4 1515.1,1923.4 C1516.4,1924.3 1517.8,1925.3 1519.2,1926.2 C1520.6,1927.1 1522.0,1928.0 1523.4,1928.8 C1524.8,1929.7 1526.3,1930.5 1527.7,1931.4 C1529.2,1932.2 1530.7,1933.0 1532.1,1933.7 C1533.6,1934.5 1535.1,1935.2 1536.7,1935.9 C1538.2,1936.7 1539.7,1937.3 1541.3,1938.0 C1542.8,1938.7 1544.4,1939.3 1545.9,1939.9 C1547.5,1940.5 1549.1,1941.1 1550.7,1941.7 C1552.3,1942.2 1553.9,1942.8 1555.5,1943.3 C1557.1,1943.8 1558.7,1944.3 1560.4,1944.7 C1562.0,1945.2 1563.6,1945.6 1565.3,1946.0 C1566.9,1946.4 1568.5,1946.7 1570.2,1947.1 C1571.8,1947.4 1573.5,1947.7 1575.2,1948.0 C1576.8,1948.3 1578.5,1948.6 1580.1,1948.8 C1581.8,1949.0 1583.5,1949.2 1585.1,1949.4 C1586.8,1949.6 1588.4,1949.7 1590.1,1949.8 C1591.8,1950.0 1593.4,1950.0 1595.1,1950.1 C1596.7,1950.2 1599.2,1950.2 1600.0,1950.2" fill="none" stroke="#009e73" stroke-width="7" stroke-linejoin="round" stroke-linecap="butt"/>
<path d="M318.8,1946.6 C319.6,1946.6 321.9,1946.5 323.5,1946.5 C325.0,1946.4 326.6,1946.5 328.2,1946.6 C329.8,1946.7 331.3,1946.8 332.9,1946.9 C334.5,1947.1 336.1,1947.2 337.7,1947.4 C339.3,1947.6 340.9,1947.7 342.5,1947.9 C344.1,1948.1 345.7,1948.2 347.3,1948.4 C349.0,1948.5 350.6,1948.7 352.2,1948.8 C353.8,1949.0 355.5,1949.1 357.1,1949.2 C358.8,1949.3 360.4,1949.4 362.0,1949.5 C363.7,1949.6 365.3,1949.7 367.0,1949.8 C368.7,1949.9 370.3,1950.0 372.0,1950.1 C373.6,1950.1 375.3,1950.2 377.0,1950.3 C378.7,1950.3 380.3,1950.4 382.0,1950.4 C383.7,1950.5 385.4,1950.5 387.0,1950.6 C388.7,1950.6 390.4,1950.7 392.1,1950.7 C393.8,1950.7 395.5,1950.7 397.2,1950.8 C398.9,1950.8 400.6,1950.8 402.3,1950.8 C404.0,1950.9 405.7,1950.9 407.4,1950.9 C409.1,1950.9 410.8,1950.9 412.5,1950.9 C414.2,1950.9 415.9,1950.9 417.6,1950.9 C419.3,1950.9 421.1,1950.9 422.8,1950.9 C424.5,1950.9 426.2,1950.9 427.9,1950.9 C429.6,1950.9 431.4,1950.9 433.1,1950.9 C434.8,1950.9 436.5,1950.9 438.2,1950.9 C440.0,1950.9 441.7,1950.9 443.4,1950.9 C445.1,1950.9 446.8,1951.0 448.6,1951.0 C450.3,1951.0 452.0,1951.0 453.7,1951.0 C455.4,1951.0 457.2,1951.0 458.9,1951.0 C460.6,1951.0 462.3,1951.0 464.0,1951.1 C465.8,1951.1 467.5,1951.1 469.2,1951.1 C470.9,1951.1 472.6,1951.1 474.3,1951.1 C476.0,1951.2 477.8,1951.2 479.5,1951.2 C481.2,1951.2 482.9,1951.2 484.6,1951.2 C486.3,1951.2 488.0,1951.3 489.7,1951.3 C491.4,1951.3 493.1,1951.3 494.8,1951.3 C496.5,1951.3 498.2,1951.3 499.9,1951.3 C501.6,1951.3 503.3,1951.3 505.0,1951.3 C506.7,1951.3 508.4,1951.3 510.1,1951.3 C511.7,1951.3 513.4,1951.3 515.1,1951.3 C516.8,1951.3 518.4,1951.3 520.1,1951.2 C521.8,1951.2 523.5,1951.2 525.1,1951.2 C526.8,1951.2 528.4,1951.1 530.1,1951.1 C531.8,1951.0 533.4,1951.0 535.1,1951.0 C536.7,1950.9 538.3,1950.9 540.0,1950.8 C541.6,1950.7 543.2,1950.7 544.9,1950.6 C546.5,1950.5 548.1,1950.5 549.7,1950.4 C551.4,1950.3 553.0,1950.2 554.6,1950.1 C556.2,1950.0 557.8,1949.9 559.4,1949.8 C561.0,1949.7 562.6,1949.6 564.2,1949.5 C565.8,1949.3 567.3,1949.2 568.9,1949.0 C570.5,1948.9 572.1,1948.7 573.6,1948.5 C575.2,1948.2 576.7,1948.0 578.3,1947.7 C579.8,1947.4 581.4,1947.1 582.9,1946.7 C584.4,1946.4 586.0,1945.9 587.5,1945.5 C589.0,1945.0 590.5,1944.5 592.0,1944.0 C593.5,1943.4 595.0,1942.8 596.5,1942.2 C598.0,1941.6 599.5,1940.9 601.0,1940.2 C602.5,1939.5 604.0,1938.8 605.5,1938.1 C607.0,1937.3 608.4,1936.5 609.9,1935.7 C611.4,1934.9 612.9,1934.1 614.3,1933.3 C615.8,1932.4 617.3,1931.6 618.8,1930.7 C620.2,1929.8 621.7,1928.9 623.2,1928.0 C624.6,1927.1 626.1,1926.2 627.6,1925.3 C629.0,1924.4 630.5,1923.4 632.0,1922.5 C633.4,1921.6 634.9,1920.7 636.4,1919.7 C637.9,1918.8 639.3,1917.9 640.8,1917.0 C642.3,1916.1 643.8,1915.2 645.3,1914.3 C646.7,1913.4 648.2,1912.5 649.7,1911.6 C651.2,1910.7 652.7,1909.9 654.2,1909.0 C655.7,1908.2 657.2,1907.4 658.7,1906.6 C660.2,1905.8 661.7,1905.0 663.2,1904.3 C664.8,1903.6 666.3,1902.8 667.8,1902.2 C669.4,1901.5 670.9,1900.8 672.5,1900.2 C674.0,1899.6 675.6,1899.0 677.1,1898.5 C678.7,1898.0 680.3,1897.5 681.8,1897.0 C683.4,1896.6 685.0,1896.2 686.6,1895.8 C688.2,1895.5 689.8,1895.2 691.5,1894.9 C693.1,1894.6 694.7,1894.4 696.4,1894.3 C698.0,1894.1 699.6,1894.0 701.3,1893.9 C702.9,1893.8 704.6,1893.7 706.3,1893.7 C707.9,1893.6 709.6,1893.6 711.3,1893.6 C712.9,1893.5 714.6,1893.5 716.3,1893.5 C717.9,1893.5 719.6,1893.5 721.3,1893.5 C722.9,1893.5 724.6,1893.4 726.3,1893.4 C727.9,1893.3 729.6,1893.3 731.2,1893.2 C732.9,1893.1 734.5,1893.0 736.2,1892.8 C737.8,1892.7 739.4,1892.5 741.0,1892.2 C742.7,1892.0 744.3,1891.7 745.9,1891.4 C747.5,1891.0 749.0,1890.6 750.6,1890.1 C752.2,1889.7 753.7,1889.1 755.3,1888.5 C756.8,1887.9 758.4,1887.2 759.9,1886.5 C761.4,1885.8 762.9,1884.9 764.3,1884.1 C765.8,1883.2 767.2,1882.3 768.7,1881.3 C770.1,1880.4 771.5,1879.3 772.9,1878.3 C774.3,1877.2 775.6,1876.1 777.0,1875.0 C778.3,1873.8 779.6,1872.6 780.9,1871.4 C782.2,1870.2 783.4,1869.0 784.6,1867.7 C785.8,1866.5 787.0,1865.2 788.2,1863.9 C789.4,1862.6 790.5,1861.3 791.6,1860.0 C792.7,1858.7 793.7,1857.3 794.8,1856.0 C795.8,1854.6 796.8,1853.3 797.8,1851.9 C798.8,1850.6 799.7,1849.2 800.6,1847.8 C801.5,1846.4 802.4,1845.0 803.3,1843.6 C804.1,1842.3 805.0,1840.8 805.8,1839.4 C806.6,1838.0 807.3,1836.6 808.1,1835.2 C808.9,1833.7 809.6,1832.3 810.3,1830.8 C811.0,1829.4 811.7,1827.9 812.4,1826.5 C813.1,1825.0 813.7,1823.5 814.4,1822.1 C815.0,1820.6 815.6,1819.1 816.2,1817.6 C816.8,1816.1 817.4,1814.6 817.9,1813.1 C818.5,1811.6 819.1,1810.1 819.6,1808.6 C820.1,1807.0 820.7,1805.5 821.2,1804.0 C821.7,1802.4 822.2,1800.9 822.7,1799.3 C823.1,1797.8 823.6,1796.3 824.1,1794.7 C824.6,1793.1 825.0,1791.6 825.5,1790.0 C825.9,1788.4 826.3,1786.9 826.8,1785.3 C827.2,1783.7 827.6,1782.1 828.0,1780.5 C828.4,1778.9 828.8,1777.3 829.2,1775.7 C829.6,1774.1 830.0,1772.5 830.4,1770.9 C830.7,1769.3 831.1,1767.7 831.5,1766.1 C831.8,1764.5 832.2,1762.9 832.5,1761.2 C832.9,1759.6 833.2,1758.0 833.5,1756.4 C833.9,1754.7 834.2,1753.1 834.5,1751.5 C834.8,1749.8 835.1,1748.2 835.5,1746.5 C835.8,1744.9 836.1,1743.3 836.4,1741.6 C836.7,1740.0 837.0,1738.3 837.3,1736.7 C837.5,1735.0 837.8,1733.4 838.1,1731.7 C838.4,1730.0 838.7,1728.4 838.9,1726.7 C839.2,1725.1 839.5,1723.4 839.8,1721.7 C840.0,1720.1 840.3,1718.4 840.6,1716.7 C840.8,1715.1 841.1,1713.4 841.3,1711.8 C841.6,1710.1 841.9,1708.4 842.1,1706.8 C842.4,1705.1 842.6,1703.4 842.9,1701.7 C843.2,1700.1 843.4,1698.4 843.7,1696.7 C843.9,1695.1 844.2,1693.4 844.4,1691.7 C844.7,1690.1 844.9,1688.4 845.2,1686.7 C845.4,1685.1 845.7,1683.4 846.0,1681.7 C846.2,1680.1 846.5,1678.4 846.7,1676.7 C847.0,1675.1 847.2,1673.4 847.5,1671.7 C847.7,1670.1 848.0,1668.4 848.2,1666.7 C848.5,1665.1 848.7,1663.4 849.0,1661.7 C849.2,1660.1 849.5,1658.4 849.8,1656.7 C850.0,1655.1 850.3,1653.4 850.5,1651.7 C850.8,1650.1 851.0,1648.4 851.3,1646.7 C851.5,1645.1 851.8,1643.4 852.0,1641.7 C852.3,1640.1 852.5,1638.4 852.8,1636.7 C853.0,1635.1 853.3,1633.4 853.5,1631.7 C853.8,1630.1 854.0,1628.4 854.3,1626.8 C854.5,1625.1 854.8,1623.4 855.0,1621.8 C855.2,1620.1 855.5,1618.4 855.7,1616.8 C856.0,1615.1 856.2,1613.4 856.5,1611.8 C856.7,1610.1 857.0,1608.4 857.2,1606.8 C857.5,1605.1 857.7,1603.5 858.0,1601.8 C858.2,1600.1 858.5,1598.5 858.7,1596.8 C858.9,1595.1 859.2,1593.5 859.4,1591.8 C859.7,1590.1 859.9,1588.5 860.2,1586.8 C860.4,1585.2 860.6,1583.5 860.9,1581.8 C861.1,1580.2 861.4,1578.5 861.6,1576.8 C861.9,1575.2 862.1,1573.5 862.3,1571.9 C862.6,1570.2 862.8,1568.5 863.1,1566.9 C863.3,1565.2 863.5,1563.5 863.8,1561.9 C864.0,1560.2 864.3,1558.6 864.5,1556.9 C864.7,1555.2 865.0,1553.6 865.2,1551.9 C865.4,1550.2 865.7,1548.6 865.9,1546.9 C866.2,1545.3 866.4,1543.6 866.6,1541.9 C866.9,1540.3 867.1,1538.6 867.3,1537.0 C867.6,1535.3 867.8,1533.6 868.0,1532.0 C868.3,1530.3 868.5,1528.6 868.7,1527.0 C869.0,1525.3 869.2,1523.7 869.4,1522.0 C869.7,1520.3 869.9,1518.7 870.1,1517.0 C870.4,1515.4 870.6,1513.7 870.8,1512.0 C871.1,1510.4 871.3,1508.7 871.5,1507.1 C871.8,1505.4 872.0,1503.7 872.2,1502.1 C872.4,1500.4 872.7,1498.8 872.9,1497.1 C873.1,1495.4 873.3,1493.8 873.6,1492.1 C873.8,1490.5 874.0,1488.8 874.3,1487.1 C874.5,1485.5 874.7,1483.8 874.9,1482.2 C875.2,1480.5 875.4,1478.8 875.6,1477.2 C875.8,1475.5 876.0,1473.9 876.3,1472.2 C876.5,1470.5 876.7,1468.9 876.9,1467.2 C877.2,1465.6 877.4,1463.9 877.6,1462.2 C877.8,1460.6 878.0,1458.9 878.3,1457.3 C878.5,1455.6 878.7,1454.0 878.9,1452.3 C879.1,1450.6 879.3,1449.0 879.6,1447.3 C879.8,1445.7 880.0,1444.0 880.2,1442.3 C880.4,1440.7 880.6,1439.0 880.8,1437.4 C881.1,1435.7 881.3,1434.0 881.5,1432.4 C881.7,1430.7 881.9,1429.1 882.1,1427.4 C882.3,1425.8 882.5,1424.1 882.8,1422.4 C883.0,1420.8 883.2,1419.1 883.4,1417.5 C883.6,1415.8 883.8,1414.1 884.0,1412.5 C884.2,1410.8 884.4,1409.2 884.6,1407.5 C884.8,1405.9 885.0,1404.2 885.2,1402.5 C885.5,1400.9 885.7,1399.2 885.9,1397.6 C886.1,1395.9 886.3,1394.3 886.5,1392.6 C886.7,1390.9 886.9,1389.3 887.1,1387.6 C887.3,1386.0 887.5,1384.3 887.7,1382.7 C887.9,1381.0 888.1,1379.3 888.3,1377.7 C888.5,1376.0 888.7,1374.4 888.9,1372.7 C889.1,1371.1 889.3,1369.4 889.5,1367.7 C889.6,1366.1 889.8,1364.4 890.0,1362.8 C890.2,1361.1 890.4,1359.5 890.6,1357.8 C890.8,1356.1 891.0,1354.5 891.2,1352.8 C891.4,1351.2 891.6,1349.5 891.8,1347.9 C891.9,1346.2 892.1,1344.5 892.3,1342.9 C892.5,1341.2 892.7,1339.6 892.9,1337.9 C893.1,1336.3 893.3,1334.6 893.4,1332.9 C893.6,1331.3 893.8,1329.6 894.0,1328.0 C894.2,1326.3 894.4,1324.7 894.6,1323.0 C894.7,1321.3 894.9,1319.7 895.1,1318.0 C895.3,1316.4 895.5,1314.7 895.7,1313.1 C895.8,1311.4 896.0,1309.7 896.2,1308.1 C896.4,1306.4 896.6,1304.8 896.7,1303.1 C896.9,1301.5 897.1,1299.8 897.3,1298.1 C897.5,1296.5 897.6,1294.8 897.8,1293.2 C898.0,1291.5 898.2,1289.9 898.4,1288.2 C898.5,1286.6 898.7,1284.9 898.9,1283.2 C899.1,1281.6 899.2,1279.9 899.4,1278.3 C899.6,1276.6 899.8,1275.0 900.0,1273.3 C900.1,1271.6 900.3,1270.0 900.5,1268.3 C900.7,1266.7 900.8,1265.0 901.0,1263.4 C901.2,1261.7 901.4,1260.0 901.5,1258.4 C901.7,1256.7 901.9,1255.1 902.1,1253.4 C902.2,1251.8 902.4,1250.1 902.6,1248.5 C902.8,1246.8 903.0,1245.1 903.1,1243.5 C903.3,1241.8 903.5,1240.2 903.7,1238.5 C903.8,1236.9 904.0,1235.2 904.2,1233.5 C904.4,1231.9 904.5,1230.2 904.7,1228.6 C904.9,1226.9 905.1,1225.3 905.2,1223.6 C905.4,1222.0 905.6,1220.3 905.8,1218.6 C905.9,1217.0 906.1,1215.3 906.3,1213.7 C906.5,1212.0 906.7,1210.4 906.8,1208.7 C907.0,1207.0 907.2,1205.4 907.4,1203.7 C907.5,1202.1 907.7,1200.4 907.9,1198.8 C908.1,1197.1 908.3,1195.4 908.4,1193.8 C908.6,1192.1 908.8,1190.5 909.0,1188.8 C909.1,1187.2 909.3,1185.5 909.5,1183.9 C909.7,1182.2 909.9,1180.5 910.0,1178.9 C910.2,1177.2 910.4,1175.6 910.6,1173.9 C910.8,1172.3 911.0,1170.6 911.1,1168.9 C911.3,1167.3 911.5,1165.6 911.7,1164.0 C911.9,1162.3 912.1,1160.7 912.2,1159.0 C912.4,1157.3 912.6,1155.7 912.8,1154.0 C913.0,1152.4 913.2,1150.7 913.3,1149.1 C913.5,1147.4 913.7,1145.7 913.9,1144.1 C914.1,1142.4 914.3,1140.8 914.5,1139.1 C914.7,1137.5 914.8,1135.8 915.0,1134.1 C915.2,1132.5 915.4,1130.8 915.6,1129.2 C915.8,1127.5 916.0,1125.9 916.2,1124.2 C916.4,1122.5 916.6,1120.9 916.8,1119.2 C917.0,1117.6 917.2,1115.9 917.4,1114.3 C917.5,1112.6 917.7,1110.9 917.9,1109.3 C918.1,1107.6 918.3,1106.0 918.5,1104.3 C918.7,1102.7 918.9,1101.0 919.1,1099.3 C919.3,1097.7 919.5,1096.0 919.7,1094.4 C919.9,1092.7 920.1,1091.0 920.4,1089.4 C920.6,1087.7 920.8,1086.1 921.0,1084.4 C921.2,1082.8 921.4,1081.1 921.6,1079.4 C921.8,1077.8 922.0,1076.1 922.2,1074.5 C922.4,1072.8 922.6,1071.1 922.9,1069.5 C923.1,1067.8 923.3,1066.2 923.5,1064.5 C923.7,1062.9 923.9,1061.2 924.1,1059.5 C924.4,1057.9 924.6,1056.2 924.8,1054.6 C925.0,1052.9 925.2,1051.2 925.5,1049.6 C925.7,1047.9 925.9,1046.3 926.1,1044.6 C926.3,1043.0 926.6,1041.3 926.8,1039.6 C927.0,1038.0 927.2,1036.3 927.5,1034.7 C927.7,1033.0 927.9,1031.3 928.2,1029.7 C928.4,1028.0 928.6,1026.4 928.9,1024.7 C929.1,1023.0 929.3,1021.4 929.6,1019.7 C929.8,1018.1 930.0,1016.4 930.3,1014.7 C930.5,1013.1 930.8,1011.4 931.0,1009.8 C931.2,1008.1 931.5,1006.4 931.7,1004.8 C932.0,1003.1 932.2,1001.5 932.5,999.8 C932.7,998.1 933.0,996.5 933.2,994.8 C933.5,993.2 933.7,991.5 934.0,989.8 C934.2,988.2 934.5,986.5 934.7,984.9 C935.0,983.2 935.3,981.5 935.5,979.9 C935.8,978.2 936.0,976.6 936.3,974.9 C936.6,973.2 936.8,971.6 937.1,969.9 C937.4,968.3 937.6,966.6 937.9,964.9 C938.2,963.3 938.4,961.6 938.7,960.0 C939.0,958.3 939.3,956.6 939.5,955.0 C939.8,953.3 940.1,951.7 940.4,950.0 C940.7,948.3 940.9,946.7 941.2,945.0 C941.5,943.4 941.8,941.7 942.1,940.0 C942.4,938.4 942.7,936.7 942.9,935.1 C943.2,933.4 943.5,931.8 943.8,930.1 C944.1,928.5 944.4,926.8 944.7,925.1 C945.0,923.5 945.3,921.8 945.6,920.2 C945.9,918.5 946.2,916.9 946.5,915.2 C946.8,913.6 947.1,911.9 947.4,910.3 C947.8,908.6 948.1,907.0 948.4,905.3 C948.7,903.7 949.0,902.0 949.3,900.4 C949.7,898.7 950.0,897.1 950.3,895.4 C950.6,893.8 950.9,892.2 951.3,890.5 C951.6,888.9 951.9,887.2 952.3,885.6 C952.6,883.9 952.9,882.3 953.3,880.7 C953.6,879.0 953.9,877.4 954.3,875.8 C954.6,874.1 954.9,872.5 955.3,870.9 C955.6,869.2 956.0,867.6 956.3,866.0 C956.7,864.3 957.0,862.7 957.4,861.1 C957.7,859.4 958.1,857.8 958.4,856.2 C958.8,854.6 959.2,852.9 959.5,851.3 C959.9,849.7 960.2,848.1 960.6,846.5 C961.0,844.8 961.3,843.2 961.7,841.6 C962.1,840.0 962.5,838.4 962.8,836.8 C963.2,835.1 963.6,833.5 964.0,831.9 C964.4,830.3 964.7,828.7 965.1,827.1 C965.5,825.5 965.9,823.9 966.3,822.3 C966.7,820.7 967.1,819.1 967.5,817.5 C967.9,815.9 968.3,814.3 968.7,812.7 C969.1,811.1 969.5,809.5 969.9,807.9 C970.3,806.3 970.7,804.7 971.2,803.1 C971.6,801.6 972.0,800.0 972.5,798.4 C973.0,796.8 973.4,795.2 973.9,793.6 C974.4,792.0 974.9,790.4 975.5,788.8 C976.0,787.2 976.5,785.6 977.1,784.0 C977.7,782.4 978.3,780.9 978.9,779.3 C979.6,777.7 980.2,776.1 980.9,774.5 C981.6,772.8 982.3,771.2 983.0,769.6 C983.8,768.0 984.6,766.4 985.4,764.8 C986.2,763.2 987.1,761.5 988.0,759.9 C988.9,758.4 989.8,756.7 990.8,755.3 C991.7,754.0 992.7,752.6 993.6,751.7 C994.6,750.8 995.5,750.0 996.4,749.7 C997.4,749.5 998.3,749.5 999.1,750.1 C1000.0,750.8 1000.8,752.1 1001.5,753.6 C1002.3,755.1 1003.0,757.3 1003.7,759.3 C1004.3,761.2 1004.9,763.3 1005.5,765.1 C1006.1,766.9 1006.6,768.6 1007.2,770.3 C1007.7,771.9 1008.1,773.5 1008.6,775.0 C1009.0,776.6 1009.4,778.1 1009.8,779.6 C1010.2,781.2 1010.6,782.8 1011.0,784.3 C1011.3,785.9 1011.7,787.6 1012.0,789.2 C1012.3,790.8 1012.6,792.4 1012.9,794.1 C1013.2,795.7 1013.5,797.4 1013.8,799.0 C1014.1,800.7 1014.4,802.3 1014.7,804.0 C1015.0,805.6 1015.3,807.3 1015.6,808.9 C1015.9,810.6 1016.2,812.2 1016.5,813.9 C1016.7,815.5 1017.0,817.1 1017.3,818.8 C1017.6,820.4 1017.9,822.1 1018.1,823.7 C1018.4,825.4 1018.7,827.0 1019.0,828.7 C1019.2,830.3 1019.5,831.9 1019.8,833.6 C1020.1,835.2 1020.3,836.9 1020.6,838.5 C1020.9,840.2 1021.1,841.8 1021.4,843.5 C1021.6,845.1 1021.9,846.8 1022.2,848.4 C1022.4,850.0 1022.7,851.7 1022.9,853.3 C1023.2,855.0 1023.4,856.6 1023.7,858.3 C1024.0,860.0 1024.2,861.6 1024.5,863.3 C1024.7,864.9 1025.0,866.6 1025.2,868.2 C1025.4,869.9 1025.7,871.5 1025.9,873.2 C1026.2,874.9 1026.4,876.5 1026.7,878.2 C1026.9,879.8 1027.1,881.5 1027.4,883.2 C1027.6,884.8 1027.9,886.5 1028.1,888.1 C1028.3,889.8 1028.6,891.5 1028.8,893.1 C1029.0,894.8 1029.3,896.5 1029.5,898.1 C1029.7,899.8 1030.0,901.5 1030.2,903.1 C1030.4,904.8 1030.6,906.5 1030.9,908.1 C1031.1,909.8 1031.3,911.5 1031.5,913.1 C1031.8,914.8 1032.0,916.5 1032.2,918.1 C1032.4,919.8 1032.7,921.5 1032.9,923.1 C1033.1,924.8 1033.3,926.5 1033.5,928.2 C1033.8,929.8 1034.0,931.5 1034.2,933.2 C1034.4,934.8 1034.6,936.5 1034.8,938.2 C1035.1,939.8 1035.3,941.5 1035.5,943.2 C1035.7,944.8 1035.9,946.5 1036.1,948.2 C1036.4,949.8 1036.6,951.5 1036.8,953.1 C1037.0,954.8 1037.2,956.5 1037.4,958.1 C1037.6,959.8 1037.8,961.5 1038.0,963.1 C1038.3,964.8 1038.5,966.4 1038.7,968.1 C1038.9,969.8 1039.1,971.4 1039.3,973.1 C1039.5,974.7 1039.7,976.4 1039.9,978.0 C1040.1,979.7 1040.4,981.4 1040.6,983.0 C1040.8,984.7 1041.0,986.3 1041.2,988.0 C1041.4,989.6 1041.6,991.3 1041.8,992.9 C1042.0,994.6 1042.2,996.2 1042.4,997.9 C1042.6,999.5 1042.8,1001.2 1043.1,1002.8 C1043.3,1004.5 1043.5,1006.1 1043.7,1007.8 C1043.9,1009.4 1044.1,1011.1 1044.3,1012.7 C1044.5,1014.4 1044.7,1016.0 1044.9,1017.7 C1045.1,1019.3 1045.3,1021.0 1045.5,1022.6 C1045.8,1024.3 1046.0,1025.9 1046.2,1027.6 C1046.4,1029.2 1046.6,1030.9 1046.8,1032.5 C1047.0,1034.2 1047.2,1035.8 1047.4,1037.5 C1047.6,1039.1 1047.9,1040.8 1048.1,1042.4 C1048.3,1044.0 1048.5,1045.7 1048.7,1047.3 C1048.9,1049.0 1049.1,1050.6 1049.3,1052.3 C1049.5,1053.9 1049.8,1055.6 1050.0,1057.2 C1050.2,1058.9 1050.4,1060.5 1050.6,1062.2 C1050.8,1063.8 1051.1,1065.4 1051.3,1067.1 C1051.5,1068.7 1051.7,1070.4 1051.9,1072.0 C1052.1,1073.7 1052.4,1075.3 1052.6,1077.0 C1052.8,1078.6 1053.0,1080.3 1053.2,1081.9 C1053.5,1083.6 1053.7,1085.2 1053.9,1086.9 C1054.1,1088.5 1054.4,1090.2 1054.6,1091.8 C1054.8,1093.5 1055.0,1095.1 1055.3,1096.8 C1055.5,1098.4 1055.7,1100.1 1056.0,1101.7 C1056.2,1103.4 1056.4,1105.0 1056.6,1106.7 C1056.9,1108.3 1057.1,1110.0 1057.3,1111.6 C1057.6,1113.3 1057.8,1114.9 1058.0,1116.6 C1058.3,1118.3 1058.5,1119.9 1058.8,1121.6 C1059.0,1123.2 1059.2,1124.9 1059.5,1126.5 C1059.7,1128.2 1060.0,1129.8 1060.2,1131.5 C1060.4,1133.2 1060.7,1134.8 1060.9,1136.5 C1061.2,1138.1 1061.4,1139.8 1061.7,1141.4 C1061.9,1143.1 1062.2,1144.8 1062.4,1146.4 C1062.7,1148.1 1062.9,1149.7 1063.1,1151.4 C1063.4,1153.1 1063.6,1154.7 1063.9,1156.4 C1064.1,1158.0 1064.4,1159.7 1064.7,1161.3 C1064.9,1163.0 1065.2,1164.7 1065.4,1166.3 C1065.7,1168.0 1065.9,1169.6 1066.2,1171.3 C1066.4,1173.0 1066.7,1174.6 1066.9,1176.3 C1067.2,1178.0 1067.5,1179.6 1067.7,1181.3 C1068.0,1182.9 1068.2,1184.6 1068.5,1186.3 C1068.8,1187.9 1069.0,1189.6 1069.3,1191.2 C1069.5,1192.9 1069.8,1194.6 1070.1,1196.2 C1070.3,1197.9 1070.6,1199.5 1070.9,1201.2 C1071.1,1202.9 1071.4,1204.5 1071.6,1206.2 C1071.9,1207.9 1072.2,1209.5 1072.4,1211.2 C1072.7,1212.8 1073.0,1214.5 1073.2,1216.2 C1073.5,1217.8 1073.8,1219.5 1074.0,1221.1 C1074.3,1222.8 1074.6,1224.5 1074.8,1226.1 C1075.1,1227.8 1075.4,1229.5 1075.7,1231.1 C1075.9,1232.8 1076.2,1234.4 1076.5,1236.1 C1076.7,1237.8 1077.0,1239.4 1077.3,1241.1 C1077.5,1242.7 1077.8,1244.4 1078.1,1246.1 C1078.4,1247.7 1078.6,1249.4 1078.9,1251.0 C1079.2,1252.7 1079.5,1254.4 1079.7,1256.0 C1080.0,1257.7 1080.3,1259.3 1080.5,1261.0 C1080.8,1262.6 1081.1,1264.3 1081.4,1266.0 C1081.6,1267.6 1081.9,1269.3 1082.2,1270.9 C1082.5,1272.6 1082.7,1274.3 1083.0,1275.9 C1083.3,1277.6 1083.6,1279.2 1083.8,1280.9 C1084.1,1282.5 1084.4,1284.2 1084.7,1285.8 C1084.9,1287.5 1085.2,1289.2 1085.5,1290.8 C1085.8,1292.5 1086.1,1294.1 1086.3,1295.8 C1086.6,1297.4 1086.9,1299.1 1087.2,1300.7 C1087.4,1302.4 1087.7,1304.0 1088.0,1305.7 C1088.3,1307.3 1088.5,1309.0 1088.8,1310.6 C1089.1,1312.3 1089.4,1313.9 1089.6,1315.6 C1089.9,1317.2 1090.2,1318.9 1090.5,1320.5 C1090.8,1322.2 1091.0,1323.8 1091.3,1325.5 C1091.6,1327.1 1091.9,1328.8 1092.1,1330.4 C1092.4,1332.1 1092.7,1333.7 1093.0,1335.4 C1093.2,1337.0 1093.5,1338.7 1093.8,1340.3 C1094.1,1341.9 1094.3,1343.6 1094.6,1345.2 C1094.9,1346.9 1095.2,1348.5 1095.4,1350.2 C1095.7,1351.8 1096.0,1353.4 1096.3,1355.1 C1096.5,1356.7 1096.8,1358.4 1097.1,1360.0 C1097.4,1361.6 1097.6,1363.3 1097.9,1364.9 C1098.2,1366.6 1098.5,1368.2 1098.7,1369.8 C1099.0,1371.5 1099.3,1373.1 1099.6,1374.7 C1099.8,1376.4 1100.1,1378.0 1100.4,1379.6 C1100.6,1381.3 1100.9,1382.9 1101.2,1384.5 C1101.5,1386.2 1101.7,1387.8 1102.0,1389.4 C1102.3,1391.0 1102.5,1392.7 1102.8,1394.3 C1103.1,1395.9 1103.3,1397.6 1103.6,1399.2 C1103.9,1400.8 1104.2,1402.4 1104.4,1404.1 C1104.7,1405.7 1105.0,1407.3 1105.2,1408.9 C1105.5,1410.5 1105.8,1412.2 1106.1,1413.8 C1106.4,1415.4 1106.6,1417.0 1106.9,1418.6 C1107.2,1420.3 1107.5,1421.9 1107.8,1423.5 C1108.1,1425.1 1108.4,1426.7 1108.7,1428.3 C1109.0,1430.0 1109.3,1431.6 1109.6,1433.2 C1110.0,1434.8 1110.3,1436.4 1110.6,1438.0 C1110.9,1439.6 1111.3,1441.2 1111.6,1442.8 C1112.0,1444.4 1112.3,1446.0 1112.7,1447.6 C1113.1,1449.2 1113.4,1450.8 1113.8,1452.4 C1114.2,1454.0 1114.6,1455.6 1115.0,1457.2 C1115.4,1458.8 1115.8,1460.4 1116.2,1462.0 C1116.7,1463.6 1117.1,1465.2 1117.5,1466.8 C1118.0,1468.4 1118.4,1470.0 1118.9,1471.6 C1119.4,1473.2 1119.8,1474.8 1120.3,1476.4 C1120.8,1477.9 1121.2,1479.5 1121.7,1481.1 C1122.2,1482.7 1122.7,1484.3 1123.2,1485.9 C1123.7,1487.4 1124.2,1489.0 1124.7,1490.6 C1125.1,1492.2 1125.6,1493.8 1126.1,1495.3 C1126.6,1496.9 1127.1,1498.5 1127.6,1500.1 C1128.1,1501.6 1128.7,1503.2 1129.2,1504.8 C1129.7,1506.3 1130.2,1507.9 1130.7,1509.5 C1131.2,1511.0 1131.8,1512.6 1132.3,1514.1 C1132.8,1515.7 1133.4,1517.3 1133.9,1518.8 C1134.4,1520.4 1135.0,1521.9 1135.5,1523.5 C1136.1,1525.0 1136.7,1526.6 1137.2,1528.1 C1137.8,1529.7 1138.4,1531.2 1139.0,1532.8 C1139.5,1534.3 1140.1,1535.9 1140.7,1537.4 C1141.3,1539.0 1141.9,1540.5 1142.6,1542.0 C1143.2,1543.6 1143.8,1545.1 1144.4,1546.7 C1145.0,1548.2 1145.7,1549.7 1146.3,1551.3 C1146.9,1552.8 1147.6,1554.3 1148.2,1555.9 C1148.9,1557.4 1149.5,1558.9 1150.2,1560.5 C1150.8,1562.0 1151.5,1563.5 1152.1,1565.0 C1152.8,1566.6 1153.4,1568.1 1154.1,1569.6 C1154.8,1571.1 1155.4,1572.7 1156.1,1574.2 C1156.7,1575.7 1157.4,1577.3 1158.1,1578.8 C1158.7,1580.3 1159.4,1581.8 1160.1,1583.3 C1160.7,1584.9 1161.4,1586.4 1162.0,1587.9 C1162.7,1589.4 1163.4,1591.0 1164.0,1592.5 C1164.7,1594.0 1165.3,1595.5 1166.0,1597.1 C1166.6,1598.6 1167.3,1600.1 1167.9,1601.7 C1168.5,1603.2 1169.2,1604.7 1169.8,1606.2 C1170.4,1607.8 1171.1,1609.3 1171.7,1610.8 C1172.3,1612.4 1172.9,1613.9 1173.5,1615.4 C1174.1,1617.0 1174.7,1618.5 1175.3,1620.0 C1175.9,1621.6 1176.5,1623.1 1177.1,1624.6 C1177.7,1626.2 1178.2,1627.7 1178.8,1629.2 C1179.4,1630.8 1179.9,1632.3 1180.4,1633.9 C1181.0,1635.4 1181.5,1637.0 1182.0,1638.5 C1182.6,1640.1 1183.1,1641.6 1183.6,1643.2 C1184.1,1644.7 1184.6,1646.3 1185.0,1647.8 C1185.5,1649.4 1186.0,1650.9 1186.4,1652.5 C1186.9,1654.1 1187.3,1655.6 1187.8,1657.2 C1188.2,1658.8 1188.7,1660.3 1189.1,1661.9 C1189.5,1663.5 1189.9,1665.1 1190.3,1666.6 C1190.7,1668.2 1191.1,1669.8 1191.5,1671.4 C1191.9,1673.0 1192.3,1674.5 1192.7,1676.1 C1193.1,1677.7 1193.4,1679.3 1193.8,1680.9 C1194.2,1682.5 1194.5,1684.1 1194.9,1685.7 C1195.2,1687.3 1195.6,1688.9 1195.9,1690.5 C1196.3,1692.2 1196.6,1693.8 1196.9,1695.4 C1197.3,1697.0 1197.6,1698.6 1197.9,1700.2 C1198.3,1701.9 1198.6,1703.5 1198.9,1705.1 C1199.2,1706.8 1199.5,1708.4 1199.9,1710.1 C1200.2,1711.7 1200.5,1713.3 1200.8,1715.0 C1201.1,1716.6 1201.4,1718.3 1201.7,1720.0 C1202.0,1721.6 1202.3,1723.3 1202.6,1725.0 C1203.0,1726.6 1203.3,1728.3 1203.6,1730.0 C1203.9,1731.7 1204.2,1733.3 1204.5,1735.0 C1204.8,1736.7 1205.1,1738.4 1205.4,1740.1 C1205.7,1741.8 1206.0,1743.5 1206.3,1745.2 C1206.6,1746.9 1206.9,1748.6 1207.2,1750.4 C1207.6,1752.1 1207.9,1753.8 1208.2,1755.5 C1208.5,1757.3 1208.8,1759.0 1209.1,1760.7 C1209.5,1762.5 1209.8,1764.2 1210.1,1766.0 C1210.5,1767.7 1210.8,1769.5 1211.1,1771.3 C1211.5,1773.0 1211.8,1774.8 1212.2,1776.6 C1212.5,1778.4 1212.9,1780.1 1213.2,1781.9 C1213.6,1783.7 1214.0,1785.4 1214.4,1787.2 C1214.8,1789.0 1215.2,1790.7 1215.6,1792.4 C1216.1,1794.2 1216.5,1795.9 1217.0,1797.6 C1217.5,1799.3 1218.0,1800.9 1218.5,1802.6 C1219.0,1804.2 1219.6,1805.8 1220.2,1807.4 C1220.8,1809.0 1221.4,1810.5 1222.0,1812.0 C1222.7,1813.6 1223.4,1815.0 1224.1,1816.4 C1224.8,1817.9 1225.6,1819.3 1226.4,1820.6 C1227.2,1821.9 1228.1,1823.2 1229.0,1824.4 C1229.9,1825.6 1230.8,1826.8 1231.8,1827.9 C1232.8,1829.0 1233.8,1830.0 1234.9,1831.0 C1236.1,1832.0 1237.2,1832.9 1238.4,1833.7 C1239.6,1834.5 1240.9,1835.3 1242.3,1835.9 C1243.6,1836.6 1245.0,1837.2 1246.4,1837.8 C1247.9,1838.3 1249.4,1838.8 1250.9,1839.2 C1252.4,1839.7 1254.0,1840.0 1255.6,1840.4 C1257.2,1840.8 1258.9,1841.1 1260.5,1841.4 C1262.2,1841.7 1263.9,1841.9 1265.5,1842.2 C1267.2,1842.5 1269.0,1842.7 1270.7,1843.0 C1272.4,1843.2 1274.1,1843.5 1275.8,1843.8 C1277.6,1844.0 1279.3,1844.3 1281.0,1844.6 C1282.7,1844.9 1284.4,1845.3 1286.1,1845.7 C1287.8,1846.0 1289.4,1846.4 1291.0,1846.9 C1292.7,1847.4 1294.3,1847.9 1295.9,1848.5 C1297.4,1849.1 1299.0,1849.7 1300.4,1850.4 C1301.9,1851.2 1303.4,1852.0 1304.8,1852.8 C1306.2,1853.7 1307.5,1854.6 1308.9,1855.6 C1310.2,1856.5 1311.5,1857.6 1312.8,1858.6 C1314.1,1859.7 1315.3,1860.8 1316.6,1861.9 C1317.8,1863.1 1319.0,1864.3 1320.2,1865.4 C1321.4,1866.6 1322.6,1867.8 1323.8,1869.1 C1325.0,1870.3 1326.2,1871.5 1327.4,1872.7 C1328.5,1873.9 1329.7,1875.2 1330.9,1876.4 C1332.1,1877.6 1333.3,1878.8 1334.5,1879.9 C1335.7,1881.1 1336.9,1882.2 1338.1,1883.3 C1339.3,1884.4 1340.6,1885.5 1341.8,1886.5 C1343.1,1887.6 1344.4,1888.6 1345.7,1889.5 C1347.0,1890.5 1348.3,1891.4 1349.7,1892.3 C1351.0,1893.2 1352.4,1894.0 1353.7,1894.8 C1355.1,1895.7 1356.5,1896.5 1357.9,1897.2 C1359.3,1898.0 1360.8,1898.7 1362.2,1899.5 C1363.6,1900.2 1365.1,1900.9 1366.5,1901.5 C1368.0,1902.2 1369.5,1902.9 1371.0,1903.5 C1372.5,1904.1 1374.0,1904.8 1375.5,1905.4 C1377.0,1906.0 1378.5,1906.6 1380.1,1907.1 C1381.6,1907.7 1383.1,1908.3 1384.7,1908.8 C1386.3,1909.4 1387.8,1909.9 1389.4,1910.5 C1391.0,1911.0 1392.5,1911.6 1394.1,1912.1 C1395.7,1912.6 1397.3,1913.2 1398.9,1913.7 C1400.5,1914.2 1402.1,1914.7 1403.7,1915.3 C1405.3,1915.8 1406.9,1916.3 1408.6,1916.8 C1410.2,1917.3 1411.8,1917.8 1413.4,1918.3 C1415.0,1918.8 1416.7,1919.3 1418.3,1919.8 C1419.9,1920.3 1421.6,1920.8 1423.2,1921.3 C1424.8,1921.8 1426.4,1922.3 1428.1,1922.8 C1429.7,1923.3 1431.3,1923.8 1433.0,1924.3 C1434.6,1924.8 1436.2,1925.3 1437.8,1925.8 C1439.5,1926.2 1441.1,1926.7 1442.7,1927.2 C1444.3,1927.7 1445.9,1928.2 1447.5,1928.7 C1449.1,1929.2 1450.7,1929.7 1452.3,1930.1 C1454.0,1930.6 1455.6,1931.1 1457.2,1931.6 C1458.8,1932.1 1460.3,1932.5 1461.9,1933.0 C1463.5,1933.5 1465.1,1933.9 1466.7,1934.4 C1468.3,1934.9 1469.9,1935.3 1471.5,1935.8 C1473.1,1936.2 1474.7,1936.7 1476.3,1937.1 C1477.9,1937.6 1479.5,1938.0 1481.1,1938.4 C1482.7,1938.9 1484.2,1939.3 1485.8,1939.7 C1487.4,1940.1 1489.0,1940.5 1490.6,1940.9 C1492.2,1941.3 1493.8,1941.7 1495.4,1942.1 C1497.0,1942.5 1498.6,1942.8 1500.2,1943.2 C1501.8,1943.6 1503.4,1943.9 1505.0,1944.2 C1506.6,1944.6 1508.3,1944.9 1509.9,1945.2 C1511.5,1945.5 1513.1,1945.8 1514.7,1946.1 C1516.4,1946.4 1518.0,1946.7 1519.6,1947.0 C1521.2,1947.2 1522.9,1947.5 1524.5,1947.7 C1526.2,1947.9 1527.8,1948.2 1529.5,1948.4 C1531.1,1948.6 1532.8,1948.8 1534.4,1948.9 C1536.1,1949.1 1537.8,1949.3 1539.4,1949.4 C1541.1,1949.6 1542.8,1949.7 1544.5,1949.8 C1546.2,1949.9 1547.8,1950.0 1549.5,1950.0 C1551.2,1950.1 1553.0,1950.2 1554.7,1950.2 C1556.4,1950.2 1558.1,1950.2 1559.8,1950.2 C1561.6,1950.2 1563.3,1950.2 1565.1,1950.1 C1566.8,1950.1 1569.5,1950.0 1570.3,1949.9" fill="none" stroke="#e51e10" stroke-width="7" stroke-linejoin="round" stroke-linecap="butt"/>
<path d="M943.1,1946.7 C943.7,1946.3 945.7,1945.1 947.0,1944.1 C948.2,1943.1 949.4,1942.0 950.5,1940.8 C951.6,1939.7 952.7,1938.4 953.8,1937.0 C954.8,1935.7 955.8,1934.3 956.9,1932.9 C957.9,1931.5 958.9,1930.1 959.9,1928.7 C961.0,1927.3 962.0,1925.9 963.0,1924.5 C964.1,1923.1 965.2,1921.8 966.3,1920.5 C967.4,1919.3 968.6,1918.0 969.8,1916.9 C971.0,1915.8 972.3,1914.8 973.7,1913.9 C975.0,1913.1 976.5,1912.3 978.0,1911.7 C979.5,1911.1 981.1,1910.6 982.7,1910.3 C984.3,1910.0 986.0,1909.7 987.7,1909.6 C989.4,1909.5 991.2,1909.6 992.9,1909.7 C994.6,1909.8 996.3,1910.0 998.0,1910.4 C999.6,1910.7 1001.3,1911.1 1002.8,1911.6 C1004.4,1912.1 1006.0,1912.7 1007.4,1913.4 C1008.8,1914.0 1010.2,1914.9 1011.4,1915.5 C1012.7,1916.1 1013.8,1916.8 1014.8,1917.0 C1015.9,1917.2 1016.7,1917.0 1017.5,1916.5 C1018.3,1915.9 1019.0,1914.9 1019.5,1913.7 C1020.1,1912.4 1020.6,1910.8 1021.0,1909.1 C1021.5,1907.4 1021.8,1905.4 1022.1,1903.4 C1022.4,1901.4 1022.7,1899.2 1023.0,1897.1 C1023.3,1895.0 1023.5,1892.8 1023.8,1890.8 C1024.0,1888.8 1024.3,1886.8 1024.5,1884.9 C1024.8,1882.9 1025.1,1881.1 1025.3,1879.3 C1025.6,1877.4 1025.8,1875.7 1026.1,1873.9 C1026.3,1872.2 1026.6,1870.5 1026.8,1868.8 C1027.1,1867.2 1027.3,1865.6 1027.6,1864.0 C1027.8,1862.3 1028.1,1860.8 1028.3,1859.2 C1028.5,1857.7 1028.8,1856.1 1029.0,1854.6 C1029.2,1853.1 1029.4,1851.5 1029.6,1850.0 C1029.8,1848.5 1030.1,1847.0 1030.2,1845.5 C1030.4,1843.9 1030.6,1842.4 1030.8,1840.9 C1031.0,1839.4 1031.1,1837.8 1031.3,1836.2 C1031.4,1834.7 1031.6,1833.1 1031.7,1831.5 C1031.9,1829.9 1032.0,1828.2 1032.1,1826.6 C1032.2,1824.9 1032.3,1823.2 1032.4,1821.5 C1032.5,1819.8 1032.6,1818.1 1032.7,1816.4 C1032.8,1814.7 1032.9,1812.9 1033.0,1811.2 C1033.2,1809.4 1033.3,1807.7 1033.4,1805.9 C1033.5,1804.2 1033.7,1802.4 1033.8,1800.7 C1034.0,1799.0 1034.2,1797.2 1034.4,1795.5 C1034.6,1793.7 1034.8,1792.0 1035.0,1790.3 C1035.3,1788.6 1035.5,1786.9 1035.8,1785.2 C1036.1,1783.6 1036.4,1781.9 1036.8,1780.3 C1037.2,1778.6 1037.5,1777.0 1038.0,1775.4 C1038.4,1773.9 1038.9,1772.3 1039.4,1770.8 C1040.0,1769.3 1040.5,1767.8 1041.2,1766.4 C1041.9,1765.0 1042.6,1763.6 1043.4,1762.3 C1044.3,1761.0 1045.2,1759.8 1046.3,1758.6 C1047.3,1757.5 1048.5,1756.4 1049.8,1755.4 C1051.0,1754.4 1052.4,1753.4 1053.7,1752.5 C1055.1,1751.5 1056.5,1750.6 1057.9,1749.7 C1059.3,1748.8 1060.7,1747.9 1062.0,1746.9 C1063.3,1746.0 1064.6,1745.0 1065.8,1744.0 C1067.0,1743.0 1068.1,1741.9 1069.1,1740.7 C1070.1,1739.6 1071.0,1738.4 1071.9,1737.2 C1072.8,1736.0 1073.5,1734.7 1074.3,1733.4 C1075.0,1732.1 1075.6,1730.7 1076.2,1729.3 C1076.8,1727.9 1077.4,1726.5 1077.8,1725.0 C1078.3,1723.5 1078.8,1722.0 1079.2,1720.5 C1079.6,1719.0 1079.9,1717.4 1080.2,1715.9 C1080.6,1714.3 1080.9,1712.7 1081.1,1711.0 C1081.4,1709.4 1081.6,1707.8 1081.8,1706.1 C1082.1,1704.5 1082.2,1702.8 1082.4,1701.1 C1082.6,1699.4 1082.8,1697.7 1082.9,1696.0 C1083.1,1694.3 1083.2,1692.6 1083.3,1690.9 C1083.5,1689.2 1083.6,1687.4 1083.7,1685.7 C1083.9,1684.0 1084.0,1682.3 1084.1,1680.6 C1084.3,1678.9 1084.4,1677.2 1084.6,1675.5 C1084.7,1673.7 1084.8,1672.0 1085.0,1670.3 C1085.1,1668.6 1085.2,1666.9 1085.4,1665.2 C1085.5,1663.5 1085.7,1661.8 1085.8,1660.1 C1085.9,1658.4 1086.1,1656.7 1086.2,1655.0 C1086.4,1653.3 1086.5,1651.6 1086.6,1649.9 C1086.8,1648.2 1086.9,1646.5 1087.1,1644.8 C1087.2,1643.1 1087.4,1641.4 1087.5,1639.7 C1087.6,1638.0 1087.8,1636.3 1087.9,1634.6 C1088.1,1633.0 1088.2,1631.3 1088.4,1629.6 C1088.5,1627.9 1088.7,1626.2 1088.8,1624.5 C1089.0,1622.8 1089.1,1621.1 1089.3,1619.5 C1089.4,1617.8 1089.6,1616.1 1089.7,1614.4 C1089.9,1612.7 1090.0,1611.0 1090.1,1609.3 C1090.3,1607.7 1090.4,1606.0 1090.6,1604.3 C1090.7,1602.6 1090.9,1600.9 1091.0,1599.3 C1091.2,1597.6 1091.3,1595.9 1091.5,1594.2 C1091.7,1592.6 1091.8,1590.9 1092.0,1589.2 C1092.1,1587.5 1092.3,1585.9 1092.4,1584.2 C1092.6,1582.5 1092.7,1580.8 1092.9,1579.2 C1093.0,1577.5 1093.2,1575.8 1093.3,1574.1 C1093.5,1572.5 1093.6,1570.8 1093.8,1569.1 C1093.9,1567.5 1094.1,1565.8 1094.2,1564.1 C1094.4,1562.4 1094.5,1560.8 1094.7,1559.1 C1094.9,1557.4 1095.0,1555.8 1095.2,1554.1 C1095.3,1552.4 1095.5,1550.8 1095.6,1549.1 C1095.8,1547.4 1095.9,1545.8 1096.1,1544.1 C1096.2,1542.4 1096.4,1540.8 1096.5,1539.1 C1096.7,1537.5 1096.8,1535.8 1097.0,1534.1 C1097.2,1532.5 1097.3,1530.8 1097.5,1529.1 C1097.6,1527.5 1097.8,1525.8 1097.9,1524.2 C1098.1,1522.5 1098.2,1520.8 1098.4,1519.2 C1098.5,1517.5 1098.7,1515.8 1098.8,1514.2 C1099.0,1512.5 1099.1,1510.9 1099.3,1509.2 C1099.4,1507.5 1099.6,1505.9 1099.7,1504.2 C1099.9,1502.6 1100.0,1500.9 1100.2,1499.3 C1100.4,1497.6 1100.5,1495.9 1100.7,1494.3 C1100.8,1492.6 1101.0,1491.0 1101.1,1489.3 C1101.3,1487.6 1101.4,1486.0 1101.6,1484.3 C1101.7,1482.7 1101.9,1481.0 1102.0,1479.4 C1102.2,1477.7 1102.3,1476.0 1102.4,1474.4 C1102.6,1472.7 1102.7,1471.1 1102.9,1469.4 C1103.0,1467.7 1103.2,1466.1 1103.3,1464.4 C1103.5,1462.8 1103.6,1461.1 1103.8,1459.5 C1103.9,1457.8 1104.1,1456.1 1104.2,1454.5 C1104.4,1452.8 1104.5,1451.2 1104.6,1449.5 C1104.8,1447.9 1104.9,1446.2 1105.1,1444.5 C1105.2,1442.9 1105.4,1441.2 1105.5,1439.6 C1105.6,1437.9 1105.8,1436.3 1105.9,1434.6 C1106.1,1432.9 1106.2,1431.3 1106.3,1429.6 C1106.5,1428.0 1106.6,1426.3 1106.8,1424.6 C1106.9,1423.0 1107.0,1421.3 1107.2,1419.7 C1107.3,1418.0 1107.5,1416.3 1107.6,1414.7 C1107.7,1413.0 1107.9,1411.4 1108.0,1409.7 C1108.1,1408.0 1108.3,1406.4 1108.4,1404.7 C1108.6,1403.1 1108.7,1401.4 1108.8,1399.8 C1109.0,1398.1 1109.1,1396.4 1109.2,1394.8 C1109.4,1393.1 1109.5,1391.5 1109.6,1389.8 C1109.8,1388.1 1109.9,1386.5 1110.0,1384.8 C1110.2,1383.1 1110.3,1381.5 1110.4,1379.8 C1110.6,1378.2 1110.7,1376.5 1110.8,1374.8 C1111.0,1373.2 1111.1,1371.5 1111.2,1369.9 C1111.4,1368.2 1111.5,1366.5 1111.6,1364.9 C1111.8,1363.2 1111.9,1361.6 1112.0,1359.9 C1112.2,1358.2 1112.3,1356.6 1112.4,1354.9 C1112.6,1353.3 1112.7,1351.6 1112.8,1349.9 C1113.0,1348.3 1113.1,1346.6 1113.2,1344.9 C1113.4,1343.3 1113.5,1341.6 1113.6,1340.0 C1113.8,1338.3 1113.9,1336.6 1114.0,1335.0 C1114.1,1333.3 1114.3,1331.6 1114.4,1330.0 C1114.5,1328.3 1114.7,1326.7 1114.8,1325.0 C1114.9,1323.3 1115.1,1321.7 1115.2,1320.0 C1115.3,1318.3 1115.5,1316.7 1115.6,1315.0 C1115.7,1313.4 1115.9,1311.7 1116.0,1310.0 C1116.1,1308.4 1116.3,1306.7 1116.4,1305.0 C1116.5,1303.4 1116.7,1301.7 1116.8,1300.1 C1116.9,1298.4 1117.0,1296.7 1117.2,1295.1 C1117.3,1293.4 1117.4,1291.7 1117.6,1290.1 C1117.7,1288.4 1117.8,1286.8 1118.0,1285.1 C1118.1,1283.4 1118.2,1281.8 1118.4,1280.1 C1118.5,1278.4 1118.6,1276.8 1118.8,1275.1 C1118.9,1273.4 1119.1,1271.8 1119.2,1270.1 C1119.3,1268.5 1119.5,1266.8 1119.6,1265.1 C1119.7,1263.5 1119.9,1261.8 1120.0,1260.1 C1120.1,1258.5 1120.3,1256.8 1120.4,1255.1 C1120.5,1253.5 1120.7,1251.8 1120.8,1250.1 C1121.0,1248.5 1121.1,1246.8 1121.2,1245.2 C1121.4,1243.5 1121.5,1241.8 1121.6,1240.2 C1121.8,1238.5 1121.9,1236.8 1122.1,1235.2 C1122.2,1233.5 1122.3,1231.8 1122.5,1230.2 C1122.6,1228.5 1122.8,1226.8 1122.9,1225.2 C1123.0,1223.5 1123.2,1221.9 1123.3,1220.2 C1123.5,1218.5 1123.6,1216.9 1123.7,1215.2 C1123.9,1213.5 1124.0,1211.9 1124.1,1210.2 C1124.3,1208.5 1124.4,1206.9 1124.6,1205.2 C1124.7,1203.5 1124.8,1201.9 1125.0,1200.2 C1125.1,1198.5 1125.3,1196.9 1125.4,1195.2 C1125.5,1193.6 1125.7,1191.9 1125.8,1190.2 C1126.0,1188.6 1126.1,1186.9 1126.2,1185.2 C1126.4,1183.6 1126.5,1181.9 1126.6,1180.2 C1126.8,1178.6 1126.9,1176.9 1127.1,1175.2 C1127.2,1173.6 1127.3,1171.9 1127.5,1170.2 C1127.6,1168.6 1127.7,1166.9 1127.9,1165.2 C1128.0,1163.6 1128.1,1161.9 1128.3,1160.2 C1128.4,1158.6 1128.6,1156.9 1128.7,1155.2 C1128.8,1153.6 1129.0,1151.9 1129.1,1150.3 C1129.2,1148.6 1129.4,1146.9 1129.5,1145.3 C1129.6,1143.6 1129.7,1141.9 1129.9,1140.3 C1130.0,1138.6 1130.1,1136.9 1130.3,1135.3 C1130.4,1133.6 1130.5,1131.9 1130.7,1130.3 C1130.8,1128.6 1130.9,1126.9 1131.0,1125.3 C1131.2,1123.6 1131.3,1121.9 1131.4,1120.3 C1131.6,1118.6 1131.7,1116.9 1131.8,1115.3 C1131.9,1113.6 1132.1,1111.9 1132.2,1110.3 C1132.3,1108.6 1132.4,1106.9 1132.5,1105.3 C1132.7,1103.6 1132.8,1101.9 1132.9,1100.3 C1133.0,1098.6 1133.1,1096.9 1133.3,1095.3 C1133.4,1093.6 1133.5,1092.0 1133.6,1090.3 C1133.7,1088.6 1133.8,1087.0 1134.0,1085.3 C1134.1,1083.6 1134.2,1082.0 1134.3,1080.3 C1134.4,1078.6 1134.5,1077.0 1134.6,1075.3 C1134.7,1073.6 1134.8,1072.0 1135.0,1070.3 C1135.1,1068.6 1135.2,1067.0 1135.3,1065.3 C1135.4,1063.6 1135.5,1062.0 1135.6,1060.3 C1135.7,1058.6 1135.8,1057.0 1135.9,1055.3 C1136.0,1053.6 1136.1,1052.0 1136.2,1050.3 C1136.3,1048.6 1136.4,1047.0 1136.5,1045.3 C1136.6,1043.6 1136.6,1042.0 1136.7,1040.3 C1136.8,1038.6 1136.9,1037.0 1137.0,1035.3 C1137.1,1033.6 1137.2,1032.0 1137.3,1030.3 C1137.3,1028.7 1137.4,1027.0 1137.5,1025.3 C1137.6,1023.7 1137.7,1022.0 1137.7,1020.3 C1137.8,1018.7 1137.9,1017.0 1138.0,1015.3 C1138.0,1013.7 1138.1,1012.0 1138.2,1010.3 C1138.2,1008.7 1138.3,1007.0 1138.4,1005.3 C1138.4,1003.7 1138.5,1002.0 1138.6,1000.3 C1138.6,998.7 1138.7,997.0 1138.7,995.3 C1138.8,993.7 1138.9,992.0 1138.9,990.3 C1139.0,988.7 1139.0,987.0 1139.1,985.4 C1139.1,983.7 1139.2,982.0 1139.2,980.4 C1139.2,978.7 1139.3,977.0 1139.3,975.4 C1139.4,973.7 1139.4,972.0 1139.4,970.4 C1139.5,968.7 1139.5,967.0 1139.5,965.4 C1139.6,963.7 1139.6,962.0 1139.6,960.4 C1139.6,958.7 1139.7,957.0 1139.7,955.4 C1139.7,953.7 1139.7,952.1 1139.7,950.4 C1139.8,948.7 1139.8,947.1 1139.8,945.4 C1139.8,943.7 1139.9,942.1 1139.9,940.4 C1139.9,938.7 1140.0,937.1 1140.0,935.4 C1140.0,933.7 1140.1,932.1 1140.1,930.4 C1140.2,928.7 1140.2,927.1 1140.3,925.4 C1140.3,923.8 1140.4,922.1 1140.4,920.4 C1140.5,918.8 1140.5,917.1 1140.6,915.4 C1140.7,913.8 1140.7,912.1 1140.8,910.4 C1140.9,908.8 1140.9,907.1 1141.0,905.5 C1141.1,903.8 1141.2,902.1 1141.3,900.5 C1141.4,898.8 1141.4,897.1 1141.5,895.5 C1141.6,893.8 1141.7,892.1 1141.8,890.5 C1141.9,888.8 1142.0,887.2 1142.2,885.5 C1142.3,883.8 1142.4,882.2 1142.5,880.5 C1142.6,878.8 1142.8,877.2 1142.9,875.5 C1143.0,873.8 1143.2,872.2 1143.3,870.5 C1143.5,868.9 1143.6,867.2 1143.8,865.5 C1143.9,863.9 1144.1,862.2 1144.3,860.5 C1144.4,858.9 1144.6,857.2 1144.8,855.6 C1145.0,853.9 1145.1,852.2 1145.3,850.6 C1145.5,848.9 1145.7,847.2 1145.9,845.6 C1146.1,843.9 1146.4,842.3 1146.6,840.6 C1146.8,838.9 1147.0,837.3 1147.2,835.6 C1147.5,833.9 1147.7,832.3 1148.0,830.6 C1148.2,829.0 1148.5,827.3 1148.7,825.6 C1149.0,824.0 1149.3,822.3 1149.5,820.7 C1149.8,819.0 1150.1,817.3 1150.4,815.7 C1150.7,814.0 1151.0,812.3 1151.3,810.7 C1151.6,809.0 1151.9,807.4 1152.2,805.7 C1152.5,804.0 1152.8,802.4 1153.1,800.7 C1153.4,799.1 1153.7,797.4 1154.0,795.7 C1154.3,794.1 1154.6,792.4 1154.9,790.8 C1155.2,789.1 1155.5,787.4 1155.8,785.8 C1156.2,784.1 1156.5,782.4 1156.8,780.8 C1157.1,779.1 1157.3,777.5 1157.6,775.8 C1157.9,774.1 1158.2,772.5 1158.5,770.8 C1158.8,769.2 1159.0,767.5 1159.3,765.9 C1159.6,764.2 1159.8,762.5 1160.1,760.9 C1160.3,759.2 1160.6,757.6 1160.8,755.9 C1161.0,754.2 1161.3,752.6 1161.5,750.9 C1161.7,749.3 1161.9,747.6 1162.1,745.9 C1162.3,744.3 1162.5,742.6 1162.7,741.0 C1162.9,739.3 1163.0,737.6 1163.2,736.0 C1163.4,734.3 1163.6,732.7 1163.7,731.0 C1163.9,729.4 1164.1,727.7 1164.2,726.0 C1164.4,724.4 1164.5,722.7 1164.7,721.1 C1164.8,719.4 1165.0,717.8 1165.1,716.1 C1165.3,714.4 1165.4,712.8 1165.5,711.1 C1165.7,709.5 1165.8,707.8 1166.0,706.2 C1166.1,704.5 1166.2,702.8 1166.4,701.2 C1166.5,699.5 1166.6,697.9 1166.8,696.2 C1166.9,694.6 1167.1,692.9 1167.2,691.2 C1167.3,689.6 1167.5,687.9 1167.6,686.3 C1167.8,684.6 1167.9,683.0 1168.1,681.3 C1168.2,679.6 1168.4,678.0 1168.5,676.3 C1168.7,674.7 1168.8,673.0 1169.0,671.4 C1169.1,669.7 1169.3,668.1 1169.4,666.4 C1169.6,664.7 1169.8,663.1 1169.9,661.4 C1170.1,659.8 1170.3,658.1 1170.4,656.5 C1170.6,654.8 1170.8,653.2 1170.9,651.5 C1171.1,649.9 1171.3,648.2 1171.4,646.5 C1171.6,644.9 1171.8,643.2 1172.0,641.6 C1172.1,639.9 1172.3,638.3 1172.5,636.6 C1172.7,635.0 1172.9,633.3 1173.0,631.7 C1173.2,630.0 1173.4,628.3 1173.6,626.7 C1173.8,625.0 1174.0,623.4 1174.2,621.7 C1174.3,620.1 1174.5,618.4 1174.7,616.8 C1174.9,615.1 1175.1,613.5 1175.3,611.8 C1175.5,610.2 1175.7,608.5 1175.9,606.8 C1176.1,605.2 1176.3,603.5 1176.5,601.9 C1176.7,600.2 1176.9,598.6 1177.1,596.9 C1177.3,595.3 1177.5,593.6 1177.7,592.0 C1177.9,590.3 1178.1,588.7 1178.3,587.0 C1178.5,585.3 1178.7,583.7 1178.9,582.0 C1179.1,580.4 1179.3,578.7 1179.5,577.1 C1179.8,575.4 1180.0,573.8 1180.2,572.1 C1180.4,570.5 1180.6,568.8 1180.8,567.2 C1181.0,565.5 1181.2,563.9 1181.5,562.2 C1181.7,560.5 1181.9,558.9 1182.1,557.2 C1182.3,555.6 1182.5,553.9 1182.8,552.3 C1183.0,550.6 1183.2,549.0 1183.4,547.3 C1183.6,545.7 1183.8,544.0 1184.1,542.4 C1184.3,540.7 1184.5,539.0 1184.7,537.4 C1184.9,535.7 1185.2,534.1 1185.4,532.4 C1185.6,530.8 1185.8,529.1 1186.1,527.5 C1186.3,525.8 1186.5,524.2 1186.7,522.5 C1186.9,520.8 1187.2,519.2 1187.4,517.5 C1187.6,515.9 1187.8,514.2 1188.1,512.6 C1188.3,510.9 1188.5,509.3 1188.7,507.6 C1189.0,506.0 1189.2,504.3 1189.4,502.6 C1189.6,501.0 1189.9,499.3 1190.1,497.7 C1190.3,496.0 1190.5,494.4 1190.8,492.7 C1191.0,491.1 1191.2,489.4 1191.5,487.7 C1191.7,486.1 1191.9,484.4 1192.1,482.8 C1192.4,481.1 1192.6,479.5 1192.8,477.8 C1193.0,476.2 1193.3,474.5 1193.5,472.8 C1193.7,471.2 1193.9,469.5 1194.2,467.9 C1194.4,466.2 1194.6,464.6 1194.8,462.9 C1195.1,461.2 1195.3,459.6 1195.5,457.9 C1195.7,456.3 1196.0,454.6 1196.2,453.0 C1196.4,451.3 1196.6,449.6 1196.8,448.0 C1197.1,446.3 1197.3,444.7 1197.5,443.0 C1197.7,441.4 1198.0,439.7 1198.2,438.0 C1198.4,436.4 1198.6,434.7 1198.8,433.1 C1199.1,431.4 1199.3,429.7 1199.5,428.1 C1199.7,426.4 1199.9,424.8 1200.1,423.1 C1200.4,421.5 1200.6,419.8 1200.8,418.1 C1201.0,416.5 1201.2,414.8 1201.4,413.2 C1201.6,411.5 1201.9,409.8 1202.1,408.2 C1202.3,406.5 1202.5,404.8 1202.7,403.2 C1202.9,401.5 1203.1,399.9 1203.3,398.2 C1203.5,396.5 1203.8,394.9 1204.0,393.2 C1204.2,391.5 1204.4,389.9 1204.7,388.2 C1204.9,386.5 1205.2,384.8 1205.4,383.1 C1205.7,381.4 1206.0,379.7 1206.3,378.0 C1206.6,376.3 1206.9,374.6 1207.3,372.8 C1207.7,371.1 1208.0,369.3 1208.5,367.4 C1208.9,365.6 1209.3,363.4 1209.8,361.9 C1210.3,360.4 1210.8,358.7 1211.3,358.5 C1211.8,358.3 1212.3,359.3 1212.8,360.5 C1213.3,361.7 1213.9,364.0 1214.4,365.9 C1214.8,367.8 1215.3,369.9 1215.7,371.9 C1216.2,373.8 1216.6,375.8 1216.9,377.6 C1217.3,379.4 1217.6,381.0 1217.8,382.6 C1218.1,384.2 1218.3,385.6 1218.5,387.1 C1218.6,388.7 1218.8,390.2 1218.9,391.7 C1219.0,393.3 1219.1,394.9 1219.1,396.6 C1219.2,398.2 1219.3,399.9 1219.3,401.6 C1219.3,403.3 1219.4,405.0 1219.4,406.7 C1219.4,408.4 1219.5,410.1 1219.5,411.9 C1219.5,413.6 1219.6,415.3 1219.7,417.0 C1219.7,418.7 1219.8,420.5 1219.9,422.2 C1220.0,423.9 1220.1,425.6 1220.2,427.2 C1220.3,428.9 1220.5,430.6 1220.6,432.3 C1220.7,434.0 1220.9,435.7 1221.0,437.3 C1221.2,439.0 1221.3,440.7 1221.5,442.3 C1221.7,444.0 1221.8,445.6 1222.0,447.3 C1222.1,448.9 1222.3,450.6 1222.5,452.2 C1222.6,453.9 1222.8,455.5 1223.0,457.2 C1223.1,458.8 1223.3,460.4 1223.4,462.1 C1223.6,463.7 1223.7,465.4 1223.8,467.0 C1224.0,468.6 1224.1,470.3 1224.2,471.9 C1224.3,473.5 1224.4,475.2 1224.5,476.8 C1224.6,478.5 1224.7,480.1 1224.7,481.7 C1224.8,483.4 1224.9,485.0 1224.9,486.7 C1225.0,488.3 1225.0,489.9 1225.1,491.6 C1225.1,493.2 1225.2,494.9 1225.3,496.5 C1225.4,498.2 1225.4,499.8 1225.5,501.5 C1225.6,503.1 1225.8,504.7 1225.9,506.4 C1226.0,508.0 1226.2,509.7 1226.4,511.3 C1226.6,513.0 1226.8,514.6 1227.0,516.3 C1227.3,517.9 1227.6,519.6 1227.9,521.2 C1228.2,522.9 1228.6,524.5 1229.0,526.2 C1229.4,527.8 1229.8,529.5 1230.2,531.1 C1230.7,532.8 1231.1,534.5 1231.6,536.1 C1232.0,537.8 1232.5,539.4 1233.0,541.1 C1233.4,542.7 1233.9,544.4 1234.4,546.0 C1234.9,547.7 1235.3,549.3 1235.8,551.0 C1236.2,552.7 1236.7,554.3 1237.1,556.0 C1237.5,557.6 1237.9,559.3 1238.3,560.9 C1238.7,562.6 1239.0,564.3 1239.3,565.9 C1239.6,567.6 1239.9,569.2 1240.2,570.9 C1240.4,572.5 1240.6,574.2 1240.8,575.9 C1241.0,577.5 1241.2,579.2 1241.4,580.8 C1241.5,582.5 1241.7,584.2 1241.8,585.8 C1242.0,587.5 1242.1,589.1 1242.2,590.8 C1242.3,592.5 1242.4,594.1 1242.5,595.8 C1242.6,597.4 1242.7,599.1 1242.8,600.7 C1242.9,602.4 1243.0,604.1 1243.0,605.7 C1243.1,607.4 1243.2,609.0 1243.3,610.7 C1243.4,612.4 1243.5,614.0 1243.6,615.7 C1243.7,617.3 1243.9,619.0 1244.0,620.7 C1244.1,622.3 1244.2,624.0 1244.3,625.6 C1244.4,627.3 1244.5,628.9 1244.6,630.6 C1244.7,632.3 1244.9,633.9 1245.0,635.6 C1245.1,637.2 1245.2,638.9 1245.3,640.6 C1245.5,642.2 1245.6,643.9 1245.7,645.5 C1245.9,647.2 1246.0,648.8 1246.1,650.5 C1246.2,652.2 1246.4,653.8 1246.5,655.5 C1246.6,657.1 1246.8,658.8 1246.9,660.5 C1247.1,662.1 1247.2,663.8 1247.3,665.4 C1247.5,667.1 1247.6,668.7 1247.8,670.4 C1247.9,672.1 1248.1,673.7 1248.2,675.4 C1248.4,677.0 1248.5,678.7 1248.7,680.3 C1248.8,682.0 1249.0,683.7 1249.1,685.3 C1249.3,687.0 1249.4,688.6 1249.6,690.3 C1249.8,692.0 1249.9,693.6 1250.1,695.3 C1250.2,696.9 1250.4,698.6 1250.6,700.2 C1250.7,701.9 1250.9,703.6 1251.1,705.2 C1251.2,706.9 1251.4,708.5 1251.6,710.2 C1251.8,711.8 1251.9,713.5 1252.1,715.2 C1252.3,716.8 1252.4,718.5 1252.6,720.1 C1252.8,721.8 1253.0,723.4 1253.2,725.1 C1253.3,726.8 1253.5,728.4 1253.7,730.1 C1253.9,731.7 1254.1,733.4 1254.2,735.0 C1254.4,736.7 1254.6,738.3 1254.8,740.0 C1255.0,741.7 1255.2,743.3 1255.4,745.0 C1255.5,746.6 1255.7,748.3 1255.9,749.9 C1256.1,751.6 1256.3,753.3 1256.5,754.9 C1256.7,756.6 1256.9,758.2 1257.1,759.9 C1257.3,761.5 1257.5,763.2 1257.7,764.8 C1257.9,766.5 1258.1,768.2 1258.3,769.8 C1258.5,771.5 1258.7,773.1 1258.9,774.8 C1259.1,776.4 1259.3,778.1 1259.5,779.8 C1259.7,781.4 1259.9,783.1 1260.1,784.7 C1260.3,786.4 1260.5,788.0 1260.7,789.7 C1260.9,791.3 1261.1,793.0 1261.3,794.7 C1261.5,796.3 1261.7,798.0 1261.9,799.6 C1262.1,801.3 1262.3,802.9 1262.6,804.6 C1262.8,806.2 1263.0,807.9 1263.2,809.6 C1263.4,811.2 1263.6,812.9 1263.8,814.5 C1264.0,816.2 1264.2,817.8 1264.5,819.5 C1264.7,821.1 1264.9,822.8 1265.1,824.5 C1265.3,826.1 1265.5,827.8 1265.7,829.4 C1266.0,831.1 1266.2,832.7 1266.4,834.4 C1266.6,836.0 1266.8,837.7 1267.0,839.3 C1267.3,841.0 1267.5,842.7 1267.7,844.3 C1267.9,846.0 1268.1,847.6 1268.4,849.3 C1268.6,850.9 1268.8,852.6 1269.0,854.2 C1269.2,855.9 1269.4,857.5 1269.7,859.2 C1269.9,860.9 1270.1,862.5 1270.3,864.2 C1270.5,865.8 1270.8,867.5 1271.0,869.1 C1271.2,870.8 1271.4,872.4 1271.7,874.1 C1271.9,875.7 1272.1,877.4 1272.3,879.1 C1272.5,880.7 1272.8,882.4 1273.0,884.0 C1273.2,885.7 1273.4,887.3 1273.6,889.0 C1273.9,890.6 1274.1,892.3 1274.3,893.9 C1274.5,895.6 1274.7,897.2 1275.0,898.9 C1275.2,900.6 1275.4,902.2 1275.6,903.9 C1275.9,905.5 1276.1,907.2 1276.3,908.8 C1276.5,910.5 1276.7,912.1 1277.0,913.8 C1277.2,915.4 1277.4,917.1 1277.6,918.7 C1277.8,920.4 1278.1,922.1 1278.3,923.7 C1278.5,925.4 1278.7,927.0 1278.9,928.7 C1279.2,930.3 1279.4,932.0 1279.6,933.6 C1279.8,935.3 1280.0,936.9 1280.2,938.6 C1280.5,940.2 1280.7,941.9 1280.9,943.5 C1281.1,945.2 1281.3,946.9 1281.5,948.5 C1281.8,950.2 1282.0,951.8 1282.2,953.5 C1282.4,955.1 1282.6,956.8 1282.8,958.4 C1283.0,960.1 1283.3,961.7 1283.5,963.4 C1283.7,965.0 1283.9,966.7 1284.1,968.3 C1284.3,970.0 1284.5,971.6 1284.7,973.3 C1285.0,975.0 1285.2,976.6 1285.4,978.3 C1285.6,979.9 1285.8,981.6 1286.0,983.2 C1286.2,984.9 1286.4,986.5 1286.6,988.2 C1286.8,989.8 1287.0,991.5 1287.2,993.1 C1287.4,994.8 1287.6,996.4 1287.8,998.1 C1288.1,999.7 1288.3,1001.4 1288.5,1003.0 C1288.7,1004.7 1288.9,1006.3 1289.1,1008.0 C1289.3,1009.7 1289.5,1011.3 1289.7,1013.0 C1289.8,1014.6 1290.0,1016.3 1290.2,1017.9 C1290.4,1019.6 1290.6,1021.2 1290.8,1022.9 C1291.0,1024.5 1291.2,1026.2 1291.4,1027.8 C1291.6,1029.5 1291.8,1031.1 1292.0,1032.8 C1292.2,1034.4 1292.4,1036.1 1292.5,1037.7 C1292.7,1039.4 1292.9,1041.0 1293.1,1042.7 C1293.3,1044.3 1293.5,1046.0 1293.6,1047.6 C1293.8,1049.3 1294.0,1050.9 1294.2,1052.6 C1294.4,1054.3 1294.6,1055.9 1294.7,1057.6 C1294.9,1059.2 1295.1,1060.9 1295.3,1062.5 C1295.4,1064.2 1295.6,1065.8 1295.8,1067.5 C1296.0,1069.1 1296.1,1070.8 1296.3,1072.4 C1296.5,1074.1 1296.7,1075.7 1296.8,1077.4 C1297.0,1079.0 1297.2,1080.7 1297.3,1082.3 C1297.5,1084.0 1297.7,1085.6 1297.8,1087.3 C1298.0,1088.9 1298.2,1090.6 1298.3,1092.2 C1298.5,1093.9 1298.6,1095.5 1298.8,1097.2 C1299.0,1098.8 1299.1,1100.5 1299.3,1102.2 C1299.4,1103.8 1299.6,1105.5 1299.8,1107.1 C1299.9,1108.8 1300.1,1110.4 1300.2,1112.1 C1300.4,1113.7 1300.5,1115.4 1300.7,1117.0 C1300.8,1118.7 1301.0,1120.3 1301.1,1122.0 C1301.3,1123.6 1301.5,1125.3 1301.6,1126.9 C1301.7,1128.6 1301.9,1130.2 1302.0,1131.9 C1302.2,1133.6 1302.3,1135.2 1302.5,1136.9 C1302.6,1138.5 1302.8,1140.2 1302.9,1141.8 C1303.1,1143.5 1303.2,1145.1 1303.3,1146.8 C1303.5,1148.4 1303.6,1150.1 1303.8,1151.7 C1303.9,1153.4 1304.0,1155.0 1304.2,1156.7 C1304.3,1158.4 1304.4,1160.0 1304.6,1161.7 C1304.7,1163.3 1304.8,1165.0 1305.0,1166.6 C1305.1,1168.3 1305.2,1169.9 1305.4,1171.6 C1305.5,1173.2 1305.6,1174.9 1305.8,1176.6 C1305.9,1178.2 1306.0,1179.9 1306.1,1181.5 C1306.3,1183.2 1306.4,1184.8 1306.5,1186.5 C1306.7,1188.2 1306.8,1189.8 1306.9,1191.5 C1307.0,1193.1 1307.1,1194.8 1307.3,1196.4 C1307.4,1198.1 1307.5,1199.7 1307.6,1201.4 C1307.7,1203.1 1307.9,1204.7 1308.0,1206.4 C1308.1,1208.0 1308.2,1209.7 1308.3,1211.4 C1308.5,1213.0 1308.6,1214.7 1308.7,1216.3 C1308.8,1218.0 1308.9,1219.6 1309.0,1221.3 C1309.1,1223.0 1309.3,1224.6 1309.4,1226.3 C1309.5,1227.9 1309.6,1229.6 1309.7,1231.3 C1309.8,1232.9 1309.9,1234.6 1310.0,1236.2 C1310.2,1237.9 1310.3,1239.6 1310.4,1241.2 C1310.5,1242.9 1310.6,1244.5 1310.7,1246.2 C1310.8,1247.9 1310.9,1249.5 1311.0,1251.2 C1311.1,1252.9 1311.2,1254.5 1311.3,1256.2 C1311.5,1257.8 1311.6,1259.5 1311.7,1261.2 C1311.8,1262.8 1311.9,1264.5 1312.0,1266.2 C1312.1,1267.8 1312.2,1269.5 1312.3,1271.1 C1312.4,1272.8 1312.5,1274.5 1312.6,1276.1 C1312.7,1277.8 1312.8,1279.5 1312.9,1281.1 C1313.0,1282.8 1313.1,1284.5 1313.2,1286.1 C1313.3,1287.8 1313.4,1289.5 1313.5,1291.1 C1313.7,1292.8 1313.8,1294.5 1313.9,1296.1 C1314.0,1297.8 1314.1,1299.5 1314.2,1301.1 C1314.3,1302.8 1314.4,1304.5 1314.5,1306.1 C1314.6,1307.8 1314.7,1309.5 1314.8,1311.1 C1314.9,1312.8 1315.0,1314.5 1315.1,1316.2 C1315.2,1317.8 1315.3,1319.5 1315.4,1321.2 C1315.5,1322.8 1315.6,1324.5 1315.7,1326.2 C1315.8,1327.8 1315.9,1329.5 1316.0,1331.2 C1316.1,1332.9 1316.3,1334.5 1316.4,1336.2 C1316.5,1337.9 1316.6,1339.5 1316.7,1341.2 C1316.8,1342.9 1316.9,1344.5 1317.0,1346.2 C1317.1,1347.9 1317.2,1349.6 1317.3,1351.2 C1317.5,1352.9 1317.6,1354.6 1317.7,1356.2 C1317.8,1357.9 1317.9,1359.6 1318.0,1361.3 C1318.1,1362.9 1318.2,1364.6 1318.4,1366.3 C1318.5,1367.9 1318.6,1369.6 1318.7,1371.3 C1318.8,1373.0 1318.9,1374.6 1319.1,1376.3 C1319.2,1378.0 1319.3,1379.6 1319.4,1381.3 C1319.6,1383.0 1319.7,1384.7 1319.8,1386.3 C1319.9,1388.0 1320.1,1389.7 1320.2,1391.3 C1320.3,1393.0 1320.4,1394.7 1320.6,1396.4 C1320.7,1398.0 1320.8,1399.7 1321.0,1401.4 C1321.1,1403.0 1321.2,1404.7 1321.4,1406.4 C1321.5,1408.1 1321.6,1409.7 1321.8,1411.4 C1321.9,1413.1 1322.1,1414.7 1322.2,1416.4 C1322.3,1418.1 1322.5,1419.7 1322.6,1421.4 C1322.8,1423.1 1322.9,1424.7 1323.1,1426.4 C1323.2,1428.1 1323.4,1429.8 1323.5,1431.4 C1323.7,1433.1 1323.8,1434.8 1324.0,1436.4 C1324.1,1438.1 1324.3,1439.8 1324.5,1441.4 C1324.6,1443.1 1324.8,1444.8 1325.0,1446.4 C1325.1,1448.1 1325.3,1449.8 1325.5,1451.4 C1325.6,1453.1 1325.8,1454.8 1326.0,1456.4 C1326.1,1458.1 1326.3,1459.7 1326.5,1461.4 C1326.7,1463.1 1326.9,1464.7 1327.0,1466.4 C1327.2,1468.1 1327.4,1469.7 1327.6,1471.4 C1327.8,1473.0 1328.0,1474.7 1328.2,1476.4 C1328.4,1478.0 1328.6,1479.7 1328.8,1481.4 C1328.9,1483.0 1329.2,1484.7 1329.4,1486.3 C1329.6,1488.0 1329.8,1489.7 1330.0,1491.3 C1330.2,1493.0 1330.4,1494.6 1330.6,1496.3 C1330.8,1497.9 1331.0,1499.6 1331.3,1501.3 C1331.5,1502.9 1331.7,1504.6 1331.9,1506.2 C1332.1,1507.9 1332.4,1509.5 1332.6,1511.2 C1332.8,1512.8 1333.1,1514.5 1333.3,1516.1 C1333.5,1517.8 1333.8,1519.4 1334.0,1521.1 C1334.3,1522.7 1334.5,1524.4 1334.8,1526.0 C1335.0,1527.7 1335.3,1529.3 1335.5,1531.0 C1335.8,1532.6 1336.1,1534.3 1336.3,1535.9 C1336.6,1537.6 1336.8,1539.2 1337.1,1540.9 C1337.4,1542.5 1337.7,1544.2 1337.9,1545.8 C1338.2,1547.5 1338.5,1549.1 1338.8,1550.7 C1339.1,1552.4 1339.4,1554.0 1339.6,1555.7 C1339.9,1557.3 1340.2,1559.0 1340.5,1560.6 C1340.8,1562.2 1341.1,1563.9 1341.4,1565.5 C1341.7,1567.1 1342.1,1568.8 1342.4,1570.4 C1342.7,1572.1 1343.0,1573.7 1343.3,1575.3 C1343.6,1577.0 1344.0,1578.6 1344.3,1580.2 C1344.6,1581.9 1345.0,1583.5 1345.3,1585.1 C1345.6,1586.7 1346.0,1588.4 1346.3,1590.0 C1346.7,1591.6 1347.0,1593.3 1347.4,1594.9 C1347.7,1596.5 1348.1,1598.2 1348.4,1599.8 C1348.8,1601.4 1349.1,1603.0 1349.5,1604.7 C1349.8,1606.3 1350.2,1607.9 1350.6,1609.5 C1350.9,1611.2 1351.3,1612.8 1351.7,1614.4 C1352.1,1616.0 1352.4,1617.7 1352.8,1619.3 C1353.2,1620.9 1353.6,1622.5 1354.0,1624.1 C1354.3,1625.8 1354.7,1627.4 1355.1,1629.0 C1355.5,1630.6 1355.9,1632.2 1356.3,1633.9 C1356.7,1635.5 1357.1,1637.1 1357.5,1638.7 C1357.9,1640.3 1358.3,1642.0 1358.7,1643.6 C1359.1,1645.2 1359.5,1646.8 1359.9,1648.4 C1360.3,1650.0 1360.7,1651.7 1361.1,1653.3 C1361.6,1654.9 1362.0,1656.5 1362.4,1658.1 C1362.8,1659.7 1363.2,1661.3 1363.6,1663.0 C1364.1,1664.6 1364.5,1666.2 1364.9,1667.8 C1365.3,1669.4 1365.8,1671.0 1366.2,1672.6 C1366.6,1674.3 1367.0,1675.9 1367.5,1677.5 C1367.9,1679.1 1368.3,1680.7 1368.8,1682.3 C1369.2,1683.9 1369.6,1685.5 1370.1,1687.2 C1370.5,1688.8 1370.9,1690.4 1371.4,1692.0 C1371.8,1693.6 1372.3,1695.2 1372.7,1696.8 C1373.1,1698.4 1373.6,1700.1 1374.0,1701.7 C1374.5,1703.3 1374.9,1704.9 1375.4,1706.5 C1375.8,1708.1 1376.2,1709.7 1376.7,1711.3 C1377.1,1712.9 1377.6,1714.5 1378.0,1716.2 C1378.5,1717.8 1378.9,1719.4 1379.4,1721.0 C1379.8,1722.6 1380.3,1724.2 1380.7,1725.8 C1381.2,1727.4 1381.6,1729.0 1382.1,1730.7 C1382.5,1732.3 1383.0,1733.9 1383.4,1735.5 C1383.9,1737.1 1384.4,1738.7 1384.8,1740.3 C1385.3,1741.9 1385.7,1743.5 1386.2,1745.2 C1386.6,1746.8 1387.1,1748.4 1387.5,1750.0 C1388.0,1751.6 1388.5,1753.2 1388.9,1754.8 C1389.4,1756.4 1389.8,1758.1 1390.3,1759.7 C1390.7,1761.3 1391.2,1762.9 1391.7,1764.5 C1392.1,1766.1 1392.6,1767.7 1393.0,1769.4 C1393.5,1771.0 1394.0,1772.6 1394.4,1774.2 C1394.9,1775.8 1395.3,1777.4 1395.8,1779.0 C1396.3,1780.7 1396.7,1782.3 1397.2,1783.9 C1397.6,1785.5 1398.1,1787.1 1398.6,1788.7 C1399.0,1790.4 1399.5,1792.0 1399.9,1793.6 C1400.4,1795.2 1400.9,1796.8 1401.3,1798.4 C1401.8,1800.1 1402.2,1801.7 1402.7,1803.3 C1403.2,1804.9 1403.6,1806.5 1404.1,1808.2 C1404.6,1809.8 1405.0,1811.4 1405.5,1813.0 C1405.9,1814.6 1406.4,1816.3 1406.9,1817.9 C1407.3,1819.5 1407.8,1821.1 1408.3,1822.7 C1408.7,1824.4 1409.2,1826.0 1409.7,1827.6 C1410.1,1829.2 1410.6,1830.8 1411.1,1832.5 C1411.5,1834.1 1412.0,1835.7 1412.5,1837.3 C1413.0,1838.9 1413.5,1840.5 1414.0,1842.1 C1414.5,1843.7 1415.0,1845.3 1415.6,1846.9 C1416.1,1848.5 1416.6,1850.0 1417.2,1851.6 C1417.7,1853.2 1418.3,1854.7 1418.8,1856.3 C1419.4,1857.8 1420.0,1859.4 1420.6,1860.9 C1421.2,1862.4 1421.8,1864.0 1422.4,1865.5 C1423.1,1867.0 1423.7,1868.5 1424.4,1870.0 C1425.1,1871.4 1425.8,1872.9 1426.5,1874.4 C1427.2,1875.8 1427.9,1877.3 1428.7,1878.7 C1429.4,1880.1 1430.2,1881.6 1431.0,1882.9 C1431.8,1884.3 1432.6,1885.7 1433.5,1887.0 C1434.3,1888.4 1435.2,1889.6 1436.2,1890.8 C1437.1,1891.9 1438.1,1893.0 1439.2,1893.8 C1440.3,1894.7 1441.5,1895.4 1442.8,1895.9 C1444.0,1896.4 1445.4,1896.7 1446.8,1896.7 C1448.2,1896.7 1449.7,1896.4 1451.2,1895.9 C1452.7,1895.3 1454.3,1894.3 1455.9,1893.3 C1457.4,1892.3 1459.0,1891.0 1460.5,1890.0 C1462.1,1889.0 1463.6,1887.9 1465.0,1887.3 C1466.4,1886.6 1467.8,1886.2 1469.1,1886.3 C1470.3,1886.4 1471.5,1887.1 1472.5,1888.1 C1473.6,1889.0 1474.6,1890.5 1475.6,1892.1 C1476.5,1893.7 1477.4,1895.7 1478.2,1897.6 C1479.1,1899.5 1479.9,1901.7 1480.7,1903.7 C1481.5,1905.7 1482.3,1907.8 1483.2,1909.7 C1484.0,1911.5 1484.9,1913.2 1485.8,1914.8 C1486.6,1916.3 1487.6,1917.6 1488.5,1918.8 C1489.5,1920.1 1490.5,1921.1 1491.6,1922.1 C1492.7,1923.0 1493.8,1923.8 1495.0,1924.6 C1496.2,1925.4 1497.5,1926.0 1498.8,1926.6 C1500.2,1927.3 1501.6,1927.8 1503.0,1928.4 C1504.5,1928.9 1506.0,1929.4 1507.5,1930.0 C1509.0,1930.5 1510.5,1931.1 1512.0,1931.6 C1513.5,1932.2 1515.1,1932.8 1516.6,1933.4 C1518.2,1933.9 1519.8,1934.5 1521.4,1935.1 C1522.9,1935.7 1524.5,1936.3 1526.1,1936.9 C1527.7,1937.4 1529.3,1938.0 1531.0,1938.6 C1532.6,1939.2 1534.2,1939.7 1535.8,1940.3 C1537.5,1940.8 1539.1,1941.4 1540.8,1941.9 C1542.4,1942.5 1544.0,1943.0 1545.7,1943.5 C1547.3,1944.0 1549.0,1944.5 1550.7,1945.0 C1552.3,1945.4 1554.0,1945.9 1555.6,1946.3 C1557.3,1946.7 1558.9,1947.1 1560.6,1947.5 C1562.2,1947.9 1563.9,1948.2 1565.5,1948.5 C1567.2,1948.9 1568.8,1949.1 1570.5,1949.4 C1572.1,1949.6 1573.7,1949.8 1575.3,1950.0 C1577.0,1950.2 1578.6,1950.3 1580.2,1950.4 C1581.8,1950.5 1583.4,1950.6 1585.0,1950.6 C1586.6,1950.6 1588.9,1950.4 1589.7,1950.4" fill="none" stroke="#9400d3" stroke-width="7" stroke-linejoin="round" stroke-linecap="butt"/>
<path d="M955.9,1945.5 C956.6,1945.5 958.5,1945.8 959.8,1945.5 C961.1,1945.2 962.5,1944.4 963.9,1943.7 C965.3,1943.1 966.7,1942.2 968.1,1941.7 C969.5,1941.1 971.0,1940.8 972.4,1940.5 C973.9,1940.2 975.4,1940.1 976.9,1939.8 C978.4,1939.5 979.9,1939.2 981.4,1938.9 C982.9,1938.5 984.4,1938.1 986.0,1937.7 C987.5,1937.3 989.0,1936.8 990.6,1936.3 C992.1,1935.8 993.6,1935.2 995.2,1934.6 C996.7,1934.0 998.3,1933.4 999.8,1932.7 C1001.3,1932.1 1002.8,1931.4 1004.3,1930.6 C1005.8,1929.9 1007.3,1929.2 1008.8,1928.4 C1010.3,1927.6 1011.8,1926.8 1013.2,1925.9 C1014.7,1925.1 1016.1,1924.2 1017.5,1923.3 C1018.9,1922.4 1020.3,1921.5 1021.7,1920.5 C1023.0,1919.6 1024.4,1918.6 1025.7,1917.6 C1027.0,1916.6 1028.3,1915.6 1029.5,1914.6 C1030.8,1913.5 1032.1,1912.5 1033.3,1911.4 C1034.5,1910.3 1035.7,1909.2 1036.9,1908.1 C1038.2,1907.0 1039.3,1905.8 1040.5,1904.7 C1041.7,1903.5 1042.8,1902.3 1044.0,1901.1 C1045.2,1899.9 1046.3,1898.7 1047.4,1897.4 C1048.6,1896.2 1049.7,1894.9 1050.8,1893.7 C1051.9,1892.4 1053.1,1891.1 1054.1,1889.8 C1055.2,1888.5 1056.3,1887.2 1057.4,1885.8 C1058.4,1884.5 1059.4,1883.1 1060.4,1881.7 C1061.4,1880.4 1062.4,1879.0 1063.3,1877.6 C1064.2,1876.2 1065.0,1874.8 1065.9,1873.3 C1066.7,1871.9 1067.5,1870.4 1068.2,1869.0 C1068.9,1867.5 1069.6,1866.1 1070.3,1864.6 C1071.0,1863.1 1071.6,1861.6 1072.2,1860.1 C1072.8,1858.6 1073.4,1857.1 1073.9,1855.6 C1074.5,1854.0 1075.0,1852.5 1075.5,1851.0 C1076.0,1849.4 1076.5,1847.9 1076.9,1846.3 C1077.4,1844.8 1077.9,1843.2 1078.3,1841.7 C1078.8,1840.1 1079.2,1838.5 1079.6,1836.9 C1080.0,1835.4 1080.5,1833.8 1080.9,1832.2 C1081.3,1830.6 1081.7,1829.0 1082.2,1827.4 C1082.6,1825.8 1083.0,1824.3 1083.5,1822.7 C1083.9,1821.1 1084.4,1819.5 1084.8,1817.9 C1085.3,1816.3 1085.8,1814.7 1086.2,1813.1 C1086.7,1811.5 1087.2,1809.9 1087.7,1808.3 C1088.2,1806.7 1088.7,1805.1 1089.2,1803.5 C1089.7,1801.9 1090.3,1800.3 1090.8,1798.7 C1091.3,1797.1 1091.8,1795.5 1092.4,1793.9 C1092.9,1792.3 1093.5,1790.7 1094.0,1789.1 C1094.5,1787.5 1095.1,1785.9 1095.6,1784.3 C1096.2,1782.7 1096.7,1781.1 1097.3,1779.5 C1097.8,1777.9 1098.4,1776.3 1098.9,1774.7 C1099.5,1773.1 1100.0,1771.5 1100.6,1769.9 C1101.1,1768.3 1101.7,1766.7 1102.2,1765.1 C1102.7,1763.5 1103.3,1761.8 1103.8,1760.2 C1104.4,1758.6 1104.9,1757.0 1105.4,1755.4 C1106.0,1753.8 1106.5,1752.2 1107.0,1750.6 C1107.5,1749.0 1108.0,1747.4 1108.6,1745.8 C1109.1,1744.1 1109.6,1742.5 1110.1,1740.9 C1110.6,1739.3 1111.1,1737.7 1111.6,1736.1 C1112.1,1734.5 1112.6,1732.8 1113.0,1731.2 C1113.5,1729.6 1114.0,1728.0 1114.5,1726.4 C1114.9,1724.8 1115.4,1723.2 1115.8,1721.5 C1116.3,1719.9 1116.7,1718.3 1117.2,1716.7 C1117.6,1715.1 1118.0,1713.5 1118.4,1711.8 C1118.9,1710.2 1119.3,1708.6 1119.7,1707.0 C1120.1,1705.4 1120.4,1703.7 1120.8,1702.1 C1121.2,1700.5 1121.6,1698.9 1121.9,1697.3 C1122.3,1695.6 1122.6,1694.0 1123.0,1692.4 C1123.3,1690.8 1123.6,1689.1 1124.0,1687.5 C1124.3,1685.9 1124.6,1684.3 1124.9,1682.7 C1125.2,1681.0 1125.4,1679.4 1125.7,1677.8 C1126.0,1676.2 1126.2,1674.5 1126.5,1672.9 C1126.7,1671.3 1127.0,1669.7 1127.2,1668.0 C1127.4,1666.4 1127.7,1664.8 1127.9,1663.1 C1128.1,1661.5 1128.4,1659.9 1128.6,1658.3 C1128.8,1656.6 1129.0,1655.0 1129.2,1653.4 C1129.4,1651.7 1129.6,1650.1 1129.9,1648.5 C1130.1,1646.9 1130.3,1645.2 1130.5,1643.6 C1130.7,1642.0 1130.9,1640.3 1131.2,1638.7 C1131.4,1637.1 1131.6,1635.4 1131.8,1633.8 C1132.1,1632.2 1132.3,1630.5 1132.5,1628.9 C1132.8,1627.3 1133.0,1625.6 1133.3,1624.0 C1133.6,1622.4 1133.8,1620.7 1134.1,1619.1 C1134.4,1617.5 1134.7,1615.8 1135.0,1614.2 C1135.3,1612.6 1135.6,1610.9 1135.9,1609.3 C1136.3,1607.6 1136.6,1606.0 1137.0,1604.4 C1137.3,1602.7 1137.7,1601.1 1138.1,1599.5 C1138.5,1597.8 1138.9,1596.2 1139.3,1594.5 C1139.7,1592.9 1140.2,1591.3 1140.6,1589.6 C1141.1,1588.0 1141.5,1586.4 1142.0,1584.7 C1142.4,1583.1 1142.9,1581.4 1143.4,1579.8 C1143.9,1578.1 1144.4,1576.5 1144.8,1574.9 C1145.3,1573.2 1145.8,1571.6 1146.3,1569.9 C1146.8,1568.3 1147.3,1566.7 1147.8,1565.0 C1148.3,1563.4 1148.8,1561.7 1149.2,1560.1 C1149.7,1558.4 1150.2,1556.8 1150.7,1555.2 C1151.1,1553.5 1151.6,1551.9 1152.0,1550.2 C1152.5,1548.6 1152.9,1546.9 1153.3,1545.3 C1153.8,1543.7 1154.2,1542.0 1154.6,1540.4 C1154.9,1538.7 1155.3,1537.1 1155.7,1535.4 C1156.0,1533.8 1156.4,1532.1 1156.7,1530.5 C1157.0,1528.8 1157.3,1527.2 1157.6,1525.5 C1157.9,1523.9 1158.1,1522.3 1158.4,1520.6 C1158.6,1519.0 1158.8,1517.3 1159.0,1515.7 C1159.2,1514.0 1159.4,1512.4 1159.6,1510.7 C1159.8,1509.1 1160.0,1507.4 1160.1,1505.8 C1160.3,1504.1 1160.4,1502.5 1160.6,1500.8 C1160.7,1499.2 1160.9,1497.5 1161.0,1495.9 C1161.1,1494.2 1161.2,1492.6 1161.4,1490.9 C1161.5,1489.3 1161.6,1487.6 1161.8,1486.0 C1161.9,1484.3 1162.0,1482.7 1162.1,1481.0 C1162.3,1479.4 1162.4,1477.7 1162.5,1476.1 C1162.6,1474.4 1162.8,1472.8 1162.9,1471.1 C1163.0,1469.5 1163.1,1467.8 1163.3,1466.2 C1163.4,1464.5 1163.5,1462.9 1163.6,1461.2 C1163.8,1459.5 1163.9,1457.9 1164.0,1456.2 C1164.1,1454.6 1164.3,1452.9 1164.4,1451.3 C1164.5,1449.6 1164.6,1448.0 1164.8,1446.3 C1164.9,1444.7 1165.0,1443.0 1165.1,1441.4 C1165.2,1439.7 1165.4,1438.0 1165.5,1436.4 C1165.6,1434.7 1165.7,1433.1 1165.9,1431.4 C1166.0,1429.8 1166.1,1428.1 1166.2,1426.5 C1166.3,1424.8 1166.5,1423.2 1166.6,1421.5 C1166.7,1419.8 1166.8,1418.2 1167.0,1416.5 C1167.1,1414.9 1167.2,1413.2 1167.3,1411.6 C1167.5,1409.9 1167.6,1408.2 1167.7,1406.6 C1167.8,1404.9 1168.0,1403.3 1168.1,1401.6 C1168.2,1400.0 1168.3,1398.3 1168.4,1396.6 C1168.6,1395.0 1168.7,1393.3 1168.8,1391.7 C1168.9,1390.0 1169.1,1388.4 1169.2,1386.7 C1169.3,1385.0 1169.5,1383.4 1169.6,1381.7 C1169.7,1380.1 1169.8,1378.4 1170.0,1376.7 C1170.1,1375.1 1170.2,1373.4 1170.3,1371.8 C1170.5,1370.1 1170.6,1368.5 1170.7,1366.8 C1170.9,1365.1 1171.0,1363.5 1171.1,1361.8 C1171.3,1360.2 1171.4,1358.5 1171.5,1356.8 C1171.6,1355.2 1171.8,1353.5 1171.9,1351.8 C1172.0,1350.2 1172.2,1348.5 1172.3,1346.9 C1172.4,1345.2 1172.6,1343.5 1172.7,1341.9 C1172.8,1340.2 1173.0,1338.6 1173.1,1336.9 C1173.2,1335.2 1173.4,1333.6 1173.5,1331.9 C1173.7,1330.3 1173.8,1328.6 1173.9,1326.9 C1174.1,1325.3 1174.2,1323.6 1174.3,1321.9 C1174.5,1320.3 1174.6,1318.6 1174.7,1317.0 C1174.9,1315.3 1175.0,1313.6 1175.2,1312.0 C1175.3,1310.3 1175.4,1308.6 1175.6,1307.0 C1175.7,1305.3 1175.9,1303.6 1176.0,1302.0 C1176.1,1300.3 1176.3,1298.7 1176.4,1297.0 C1176.5,1295.3 1176.7,1293.7 1176.8,1292.0 C1177.0,1290.3 1177.1,1288.7 1177.3,1287.0 C1177.4,1285.3 1177.5,1283.7 1177.7,1282.0 C1177.8,1280.3 1178.0,1278.7 1178.1,1277.0 C1178.2,1275.4 1178.4,1273.7 1178.5,1272.0 C1178.7,1270.4 1178.8,1268.7 1179.0,1267.0 C1179.1,1265.4 1179.2,1263.7 1179.4,1262.0 C1179.5,1260.4 1179.7,1258.7 1179.8,1257.0 C1180.0,1255.4 1180.1,1253.7 1180.3,1252.0 C1180.4,1250.4 1180.5,1248.7 1180.7,1247.0 C1180.8,1245.4 1181.0,1243.7 1181.1,1242.0 C1181.3,1240.4 1181.4,1238.7 1181.6,1237.0 C1181.7,1235.4 1181.8,1233.7 1182.0,1232.0 C1182.1,1230.4 1182.3,1228.7 1182.4,1227.0 C1182.6,1225.4 1182.7,1223.7 1182.9,1222.0 C1183.0,1220.4 1183.2,1218.7 1183.3,1217.0 C1183.5,1215.4 1183.6,1213.7 1183.7,1212.0 C1183.9,1210.3 1184.0,1208.7 1184.2,1207.0 C1184.3,1205.3 1184.5,1203.7 1184.6,1202.0 C1184.8,1200.3 1184.9,1198.7 1185.1,1197.0 C1185.2,1195.3 1185.4,1193.7 1185.5,1192.0 C1185.7,1190.3 1185.8,1188.7 1185.9,1187.0 C1186.1,1185.3 1186.2,1183.6 1186.4,1182.0 C1186.5,1180.3 1186.7,1178.6 1186.8,1177.0 C1187.0,1175.3 1187.1,1173.6 1187.3,1172.0 C1187.4,1170.3 1187.6,1168.6 1187.7,1166.9 C1187.9,1165.3 1188.0,1163.6 1188.1,1161.9 C1188.3,1160.3 1188.4,1158.6 1188.6,1156.9 C1188.7,1155.3 1188.9,1153.6 1189.0,1151.9 C1189.2,1150.2 1189.3,1148.6 1189.5,1146.9 C1189.6,1145.2 1189.8,1143.6 1189.9,1141.9 C1190.1,1140.2 1190.2,1138.5 1190.3,1136.9 C1190.5,1135.2 1190.6,1133.5 1190.8,1131.9 C1190.9,1130.2 1191.1,1128.5 1191.2,1126.8 C1191.4,1125.2 1191.5,1123.5 1191.7,1121.8 C1191.8,1120.2 1191.9,1118.5 1192.1,1116.8 C1192.2,1115.1 1192.4,1113.5 1192.5,1111.8 C1192.7,1110.1 1192.8,1108.5 1193.0,1106.8 C1193.1,1105.1 1193.2,1103.4 1193.4,1101.8 C1193.5,1100.1 1193.7,1098.4 1193.8,1096.8 C1194.0,1095.1 1194.1,1093.4 1194.3,1091.7 C1194.4,1090.1 1194.5,1088.4 1194.7,1086.7 C1194.8,1085.1 1195.0,1083.4 1195.1,1081.7 C1195.3,1080.0 1195.4,1078.4 1195.5,1076.7 C1195.7,1075.0 1195.8,1073.3 1196.0,1071.7 C1196.1,1070.0 1196.3,1068.3 1196.4,1066.7 C1196.5,1065.0 1196.7,1063.3 1196.8,1061.6 C1197.0,1060.0 1197.1,1058.3 1197.3,1056.6 C1197.4,1054.9 1197.5,1053.3 1197.7,1051.6 C1197.8,1049.9 1198.0,1048.3 1198.1,1046.6 C1198.3,1044.9 1198.4,1043.2 1198.6,1041.6 C1198.7,1039.9 1198.8,1038.2 1199.0,1036.6 C1199.1,1034.9 1199.3,1033.2 1199.4,1031.5 C1199.6,1029.9 1199.7,1028.2 1199.9,1026.5 C1200.0,1024.8 1200.1,1023.2 1200.3,1021.5 C1200.4,1019.8 1200.6,1018.2 1200.7,1016.5 C1200.9,1014.8 1201.0,1013.1 1201.2,1011.5 C1201.3,1009.8 1201.5,1008.1 1201.6,1006.5 C1201.8,1004.8 1201.9,1003.1 1202.1,1001.4 C1202.2,999.8 1202.4,998.1 1202.5,996.4 C1202.6,994.8 1202.8,993.1 1202.9,991.4 C1203.1,989.7 1203.2,988.1 1203.4,986.4 C1203.5,984.7 1203.7,983.1 1203.9,981.4 C1204.0,979.7 1204.2,978.1 1204.3,976.4 C1204.5,974.7 1204.6,973.0 1204.8,971.4 C1204.9,969.7 1205.1,968.0 1205.2,966.4 C1205.4,964.7 1205.5,963.0 1205.7,961.4 C1205.8,959.7 1206.0,958.0 1206.2,956.3 C1206.3,954.7 1206.5,953.0 1206.6,951.3 C1206.8,949.7 1206.9,948.0 1207.1,946.3 C1207.3,944.7 1207.4,943.0 1207.6,941.3 C1207.7,939.7 1207.9,938.0 1208.1,936.3 C1208.2,934.7 1208.4,933.0 1208.6,931.3 C1208.7,929.7 1208.9,928.0 1209.0,926.3 C1209.2,924.7 1209.4,923.0 1209.5,921.3 C1209.7,919.7 1209.9,918.0 1210.0,916.3 C1210.2,914.7 1210.4,913.0 1210.5,911.3 C1210.7,909.7 1210.9,908.0 1211.1,906.3 C1211.2,904.7 1211.4,903.0 1211.6,901.3 C1211.7,899.7 1211.9,898.0 1212.1,896.4 C1212.3,894.7 1212.4,893.0 1212.6,891.4 C1212.8,889.7 1213.0,888.0 1213.1,886.4 C1213.3,884.7 1213.5,883.0 1213.7,881.4 C1213.9,879.7 1214.0,878.1 1214.2,876.4 C1214.4,874.7 1214.6,873.1 1214.8,871.4 C1214.9,869.8 1215.1,868.1 1215.3,866.4 C1215.5,864.8 1215.7,863.1 1215.9,861.5 C1216.1,859.8 1216.2,858.1 1216.4,856.5 C1216.6,854.8 1216.8,853.2 1217.0,851.5 C1217.2,849.8 1217.4,848.2 1217.6,846.5 C1217.8,844.9 1218.0,843.2 1218.2,841.6 C1218.4,839.9 1218.6,838.2 1218.8,836.6 C1219.0,834.9 1219.2,833.3 1219.4,831.6 C1219.6,830.0 1219.8,828.3 1220.0,826.7 C1220.2,825.0 1220.4,823.3 1220.6,821.7 C1220.8,820.0 1221.0,818.4 1221.2,816.7 C1221.4,815.1 1221.6,813.4 1221.8,811.8 C1222.0,810.1 1222.2,808.5 1222.4,806.8 C1222.7,805.2 1222.9,803.5 1223.1,801.9 C1223.3,800.2 1223.5,798.6 1223.7,796.9 C1223.9,795.3 1224.1,793.6 1224.3,792.0 C1224.5,790.3 1224.7,788.7 1224.9,787.0 C1225.1,785.4 1225.3,783.7 1225.5,782.1 C1225.7,780.4 1225.9,778.8 1226.1,777.1 C1226.3,775.5 1226.5,773.8 1226.7,772.2 C1226.9,770.5 1227.1,768.9 1227.3,767.2 C1227.5,765.6 1227.7,764.0 1227.9,762.3 C1228.1,760.7 1228.2,759.0 1228.4,757.4 C1228.6,755.7 1228.8,754.1 1228.9,752.5 C1229.1,750.8 1229.3,749.2 1229.4,747.5 C1229.6,745.9 1229.8,744.3 1229.9,742.6 C1230.1,741.0 1230.2,739.3 1230.4,737.7 C1230.5,736.1 1230.6,734.4 1230.8,732.8 C1230.9,731.1 1231.1,729.5 1231.2,727.9 C1231.3,726.2 1231.4,724.6 1231.5,723.0 C1231.7,721.3 1231.8,719.7 1231.9,718.1 C1232.0,716.4 1232.1,714.8 1232.2,713.1 C1232.3,711.5 1232.3,709.9 1232.4,708.2 C1232.5,706.6 1232.6,705.0 1232.7,703.3 C1232.7,701.7 1232.8,700.1 1232.9,698.5 C1233.0,696.8 1233.0,695.2 1233.1,693.6 C1233.1,691.9 1233.2,690.3 1233.3,688.6 C1233.3,687.0 1233.4,685.4 1233.4,683.7 C1233.5,682.1 1233.5,680.5 1233.6,678.8 C1233.6,677.2 1233.7,675.6 1233.8,673.9 C1233.8,672.3 1233.9,670.7 1233.9,669.0 C1234.0,667.4 1234.0,665.7 1234.1,664.1 C1234.1,662.5 1234.2,660.8 1234.2,659.2 C1234.3,657.5 1234.3,655.9 1234.4,654.2 C1234.4,652.6 1234.5,650.9 1234.6,649.3 C1234.6,647.7 1234.7,646.0 1234.7,644.4 C1234.8,642.7 1234.9,641.0 1235.0,639.4 C1235.0,637.7 1235.1,636.1 1235.2,634.4 C1235.3,632.8 1235.4,631.1 1235.4,629.4 C1235.5,627.8 1235.6,626.1 1235.7,624.5 C1235.8,622.8 1235.9,621.1 1236.0,619.4 C1236.2,617.8 1236.3,616.1 1236.4,614.4 C1236.5,612.8 1236.7,611.1 1236.8,609.4 C1236.9,607.7 1237.1,606.0 1237.2,604.4 C1237.4,602.7 1237.5,601.0 1237.7,599.3 C1237.9,597.6 1238.1,595.9 1238.2,594.2 C1238.4,592.5 1238.6,590.8 1238.8,589.1 C1239.0,587.4 1239.2,585.7 1239.5,584.0 C1239.7,582.3 1239.9,580.6 1240.2,578.9 C1240.4,577.1 1240.6,575.4 1240.9,573.7 C1241.2,572.0 1241.4,570.3 1241.7,568.5 C1242.0,566.8 1242.3,565.1 1242.6,563.3 C1242.9,561.6 1243.3,559.8 1243.6,558.1 C1243.9,556.4 1244.3,554.6 1244.6,552.9 C1245.0,551.1 1245.4,549.4 1245.8,547.6 C1246.2,545.8 1246.6,544.1 1247.0,542.3 C1247.4,540.5 1247.8,538.8 1248.3,537.0 C1248.7,535.2 1249.2,533.4 1249.7,531.6 C1250.1,529.8 1250.6,528.0 1251.1,526.3 C1251.6,524.5 1252.2,522.5 1252.7,520.9 C1253.3,519.4 1253.8,517.7 1254.4,516.8 C1255.0,515.9 1255.6,515.2 1256.2,515.6 C1256.9,516.1 1257.6,517.8 1258.3,519.7 C1258.9,521.5 1259.7,524.9 1260.4,526.9 C1261.1,528.8 1261.9,529.9 1262.6,531.2 C1263.4,532.5 1264.1,533.3 1264.8,534.5 C1265.6,535.8 1266.3,537.3 1266.9,538.8 C1267.6,540.2 1268.2,541.8 1268.8,543.3 C1269.4,544.9 1270.0,546.4 1270.5,548.0 C1271.1,549.5 1271.6,551.1 1272.0,552.7 C1272.5,554.3 1273.0,555.9 1273.4,557.5 C1273.9,559.1 1274.3,560.7 1274.7,562.4 C1275.1,564.0 1275.5,565.6 1275.8,567.3 C1276.2,568.9 1276.6,570.6 1276.9,572.2 C1277.3,573.9 1277.6,575.6 1277.9,577.2 C1278.3,578.9 1278.6,580.5 1278.9,582.2 C1279.3,583.9 1279.6,585.5 1279.9,587.2 C1280.2,588.9 1280.6,590.5 1280.9,592.2 C1281.2,593.8 1281.6,595.5 1281.9,597.1 C1282.2,598.8 1282.6,600.4 1282.9,602.1 C1283.3,603.7 1283.6,605.4 1284.0,607.0 C1284.3,608.7 1284.7,610.3 1285.0,611.9 C1285.4,613.6 1285.7,615.2 1286.1,616.9 C1286.4,618.5 1286.8,620.1 1287.2,621.8 C1287.5,623.4 1287.9,625.0 1288.2,626.6 C1288.6,628.3 1289.0,629.9 1289.3,631.5 C1289.7,633.1 1290.1,634.8 1290.5,636.4 C1290.8,638.0 1291.2,639.6 1291.6,641.3 C1291.9,642.9 1292.3,644.5 1292.7,646.1 C1293.1,647.8 1293.4,649.4 1293.8,651.0 C1294.2,652.6 1294.6,654.3 1294.9,655.9 C1295.3,657.5 1295.7,659.1 1296.1,660.7 C1296.5,662.4 1296.8,664.0 1297.2,665.6 C1297.6,667.2 1298.0,668.9 1298.3,670.5 C1298.7,672.1 1299.1,673.7 1299.5,675.4 C1299.8,677.0 1300.2,678.6 1300.6,680.2 C1301.0,681.9 1301.3,683.5 1301.7,685.1 C1302.1,686.7 1302.5,688.4 1302.8,690.0 C1303.2,691.6 1303.6,693.3 1303.9,694.9 C1304.3,696.5 1304.7,698.1 1305.0,699.8 C1305.4,701.4 1305.8,703.0 1306.1,704.7 C1306.5,706.3 1306.8,707.9 1307.2,709.6 C1307.5,711.2 1307.9,712.8 1308.3,714.5 C1308.6,716.1 1309.0,717.7 1309.3,719.4 C1309.7,721.0 1310.0,722.6 1310.3,724.3 C1310.7,725.9 1311.0,727.5 1311.4,729.2 C1311.7,730.8 1312.0,732.4 1312.4,734.1 C1312.7,735.7 1313.0,737.3 1313.3,739.0 C1313.7,740.6 1314.0,742.3 1314.3,743.9 C1314.6,745.5 1314.9,747.2 1315.3,748.8 C1315.6,750.5 1315.9,752.1 1316.2,753.7 C1316.5,755.4 1316.8,757.0 1317.1,758.7 C1317.4,760.3 1317.7,761.9 1318.0,763.6 C1318.3,765.2 1318.6,766.9 1318.9,768.5 C1319.2,770.2 1319.5,771.8 1319.8,773.4 C1320.0,775.1 1320.3,776.7 1320.6,778.4 C1320.9,780.0 1321.2,781.7 1321.5,783.3 C1321.7,785.0 1322.0,786.6 1322.3,788.2 C1322.6,789.9 1322.8,791.5 1323.1,793.2 C1323.4,794.8 1323.6,796.5 1323.9,798.1 C1324.2,799.8 1324.4,801.4 1324.7,803.1 C1325.0,804.7 1325.2,806.4 1325.5,808.0 C1325.7,809.7 1326.0,811.3 1326.2,813.0 C1326.5,814.6 1326.7,816.3 1327.0,817.9 C1327.2,819.6 1327.5,821.2 1327.7,822.9 C1328.0,824.5 1328.2,826.2 1328.5,827.8 C1328.7,829.5 1329.0,831.1 1329.2,832.8 C1329.4,834.4 1329.7,836.1 1329.9,837.7 C1330.1,839.4 1330.4,841.0 1330.6,842.7 C1330.8,844.3 1331.1,846.0 1331.3,847.7 C1331.5,849.3 1331.8,851.0 1332.0,852.6 C1332.2,854.3 1332.4,855.9 1332.7,857.6 C1332.9,859.2 1333.1,860.9 1333.3,862.5 C1333.6,864.2 1333.8,865.9 1334.0,867.5 C1334.2,869.2 1334.4,870.8 1334.6,872.5 C1334.9,874.1 1335.1,875.8 1335.3,877.5 C1335.5,879.1 1335.7,880.8 1335.9,882.4 C1336.1,884.1 1336.4,885.7 1336.6,887.4 C1336.8,889.0 1337.0,890.7 1337.2,892.4 C1337.4,894.0 1337.6,895.7 1337.8,897.3 C1338.0,899.0 1338.2,900.7 1338.4,902.3 C1338.6,904.0 1338.8,905.6 1339.0,907.3 C1339.2,908.9 1339.4,910.6 1339.6,912.3 C1339.8,913.9 1340.0,915.6 1340.2,917.2 C1340.4,918.9 1340.6,920.6 1340.8,922.2 C1341.0,923.9 1341.2,925.5 1341.4,927.2 C1341.6,928.9 1341.8,930.5 1342.0,932.2 C1342.2,933.8 1342.4,935.5 1342.6,937.2 C1342.8,938.8 1343.0,940.5 1343.2,942.1 C1343.4,943.8 1343.5,945.5 1343.7,947.1 C1343.9,948.8 1344.1,950.4 1344.3,952.1 C1344.5,953.8 1344.7,955.4 1344.9,957.1 C1345.1,958.7 1345.2,960.4 1345.4,962.1 C1345.6,963.7 1345.8,965.4 1346.0,967.0 C1346.2,968.7 1346.4,970.4 1346.5,972.0 C1346.7,973.7 1346.9,975.4 1347.1,977.0 C1347.3,978.7 1347.4,980.3 1347.6,982.0 C1347.8,983.7 1348.0,985.3 1348.2,987.0 C1348.3,988.7 1348.5,990.3 1348.7,992.0 C1348.9,993.6 1349.1,995.3 1349.2,997.0 C1349.4,998.6 1349.6,1000.3 1349.8,1002.0 C1349.9,1003.6 1350.1,1005.3 1350.3,1006.9 C1350.5,1008.6 1350.6,1010.3 1350.8,1011.9 C1351.0,1013.6 1351.2,1015.3 1351.3,1016.9 C1351.5,1018.6 1351.7,1020.2 1351.8,1021.9 C1352.0,1023.6 1352.2,1025.2 1352.4,1026.9 C1352.5,1028.6 1352.7,1030.2 1352.9,1031.9 C1353.0,1033.6 1353.2,1035.2 1353.4,1036.9 C1353.5,1038.6 1353.7,1040.2 1353.9,1041.9 C1354.0,1043.5 1354.2,1045.2 1354.4,1046.9 C1354.5,1048.5 1354.7,1050.2 1354.9,1051.9 C1355.0,1053.5 1355.2,1055.2 1355.4,1056.9 C1355.5,1058.5 1355.7,1060.2 1355.9,1061.9 C1356.0,1063.5 1356.2,1065.2 1356.4,1066.9 C1356.5,1068.5 1356.7,1070.2 1356.8,1071.8 C1357.0,1073.5 1357.2,1075.2 1357.3,1076.8 C1357.5,1078.5 1357.7,1080.2 1357.8,1081.8 C1358.0,1083.5 1358.1,1085.2 1358.3,1086.8 C1358.5,1088.5 1358.6,1090.2 1358.8,1091.8 C1358.9,1093.5 1359.1,1095.2 1359.3,1096.8 C1359.4,1098.5 1359.6,1100.2 1359.7,1101.8 C1359.9,1103.5 1360.1,1105.2 1360.2,1106.8 C1360.4,1108.5 1360.5,1110.2 1360.7,1111.8 C1360.8,1113.5 1361.0,1115.2 1361.2,1116.8 C1361.3,1118.5 1361.5,1120.1 1361.6,1121.8 C1361.8,1123.5 1361.9,1125.1 1362.1,1126.8 C1362.3,1128.5 1362.4,1130.1 1362.6,1131.8 C1362.7,1133.5 1362.9,1135.1 1363.0,1136.8 C1363.2,1138.5 1363.3,1140.1 1363.5,1141.8 C1363.7,1143.5 1363.8,1145.1 1364.0,1146.8 C1364.1,1148.5 1364.3,1150.1 1364.4,1151.8 C1364.6,1153.5 1364.7,1155.1 1364.9,1156.8 C1365.0,1158.5 1365.2,1160.1 1365.3,1161.8 C1365.5,1163.5 1365.7,1165.1 1365.8,1166.8 C1366.0,1168.5 1366.1,1170.1 1366.3,1171.8 C1366.4,1173.5 1366.6,1175.1 1366.7,1176.8 C1366.9,1178.5 1367.0,1180.1 1367.2,1181.8 C1367.3,1183.5 1367.5,1185.1 1367.7,1186.8 C1367.8,1188.5 1368.0,1190.1 1368.1,1191.8 C1368.3,1193.5 1368.4,1195.1 1368.6,1196.8 C1368.7,1198.5 1368.9,1200.1 1369.0,1201.8 C1369.2,1203.5 1369.3,1205.1 1369.5,1206.8 C1369.6,1208.5 1369.8,1210.1 1369.9,1211.8 C1370.1,1213.5 1370.3,1215.1 1370.4,1216.8 C1370.6,1218.5 1370.7,1220.1 1370.9,1221.8 C1371.0,1223.5 1371.2,1225.1 1371.3,1226.8 C1371.5,1228.5 1371.6,1230.1 1371.8,1231.8 C1371.9,1233.5 1372.1,1235.1 1372.2,1236.8 C1372.4,1238.5 1372.6,1240.1 1372.7,1241.8 C1372.9,1243.4 1373.0,1245.1 1373.2,1246.8 C1373.3,1248.4 1373.5,1250.1 1373.6,1251.8 C1373.8,1253.4 1373.9,1255.1 1374.1,1256.8 C1374.3,1258.4 1374.4,1260.1 1374.6,1261.8 C1374.7,1263.4 1374.9,1265.1 1375.0,1266.8 C1375.2,1268.4 1375.3,1270.1 1375.5,1271.8 C1375.7,1273.4 1375.8,1275.1 1376.0,1276.8 C1376.1,1278.4 1376.3,1280.1 1376.4,1281.8 C1376.6,1283.4 1376.7,1285.1 1376.9,1286.8 C1377.1,1288.4 1377.2,1290.1 1377.4,1291.8 C1377.5,1293.4 1377.7,1295.1 1377.8,1296.7 C1378.0,1298.4 1378.2,1300.1 1378.3,1301.7 C1378.5,1303.4 1378.6,1305.1 1378.8,1306.7 C1379.0,1308.4 1379.1,1310.1 1379.3,1311.7 C1379.4,1313.4 1379.6,1315.1 1379.8,1316.7 C1379.9,1318.4 1380.1,1320.1 1380.2,1321.7 C1380.4,1323.4 1380.6,1325.0 1380.7,1326.7 C1380.9,1328.4 1381.1,1330.0 1381.2,1331.7 C1381.4,1333.4 1381.5,1335.0 1381.7,1336.7 C1381.9,1338.4 1382.0,1340.0 1382.2,1341.7 C1382.4,1343.3 1382.5,1345.0 1382.7,1346.7 C1382.9,1348.3 1383.0,1350.0 1383.2,1351.7 C1383.4,1353.3 1383.5,1355.0 1383.7,1356.7 C1383.9,1358.3 1384.0,1360.0 1384.2,1361.6 C1384.4,1363.3 1384.5,1365.0 1384.7,1366.6 C1384.9,1368.3 1385.0,1370.0 1385.2,1371.6 C1385.4,1373.3 1385.5,1374.9 1385.7,1376.6 C1385.9,1378.3 1386.1,1379.9 1386.2,1381.6 C1386.4,1383.3 1386.6,1384.9 1386.7,1386.6 C1386.9,1388.2 1387.1,1389.9 1387.3,1391.6 C1387.4,1393.2 1387.6,1394.9 1387.8,1396.6 C1388.0,1398.2 1388.1,1399.9 1388.3,1401.5 C1388.5,1403.2 1388.7,1404.9 1388.8,1406.5 C1389.0,1408.2 1389.2,1409.8 1389.4,1411.5 C1389.5,1413.2 1389.7,1414.8 1389.9,1416.5 C1390.1,1418.1 1390.3,1419.8 1390.4,1421.5 C1390.6,1423.1 1390.8,1424.8 1391.0,1426.4 C1391.2,1428.1 1391.4,1429.8 1391.5,1431.4 C1391.7,1433.1 1391.9,1434.7 1392.1,1436.4 C1392.3,1438.1 1392.5,1439.7 1392.6,1441.4 C1392.8,1443.0 1393.0,1444.7 1393.2,1446.4 C1393.4,1448.0 1393.6,1449.7 1393.8,1451.3 C1394.0,1453.0 1394.1,1454.7 1394.3,1456.3 C1394.5,1458.0 1394.7,1459.6 1394.9,1461.3 C1395.1,1462.9 1395.3,1464.6 1395.5,1466.3 C1395.7,1467.9 1395.9,1469.6 1396.1,1471.2 C1396.3,1472.9 1396.5,1474.6 1396.7,1476.2 C1396.8,1477.9 1397.0,1479.5 1397.2,1481.2 C1397.4,1482.8 1397.6,1484.5 1397.8,1486.2 C1398.0,1487.8 1398.2,1489.5 1398.4,1491.1 C1398.6,1492.8 1398.8,1494.4 1399.0,1496.1 C1399.2,1497.7 1399.5,1499.4 1399.7,1501.1 C1399.9,1502.7 1400.1,1504.4 1400.3,1506.0 C1400.5,1507.7 1400.7,1509.3 1400.9,1511.0 C1401.1,1512.6 1401.3,1514.3 1401.5,1516.0 C1401.7,1517.6 1401.9,1519.3 1402.2,1520.9 C1402.4,1522.6 1402.6,1524.2 1402.8,1525.9 C1403.0,1527.5 1403.2,1529.2 1403.4,1530.8 C1403.6,1532.5 1403.9,1534.1 1404.1,1535.8 C1404.3,1537.5 1404.5,1539.1 1404.7,1540.8 C1405.0,1542.4 1405.2,1544.1 1405.4,1545.7 C1405.6,1547.4 1405.8,1549.0 1406.1,1550.7 C1406.3,1552.3 1406.5,1554.0 1406.7,1555.6 C1407.0,1557.3 1407.2,1558.9 1407.4,1560.6 C1407.6,1562.2 1407.9,1563.9 1408.1,1565.5 C1408.3,1567.2 1408.6,1568.8 1408.8,1570.5 C1409.0,1572.1 1409.2,1573.8 1409.5,1575.4 C1409.7,1577.1 1409.9,1578.7 1410.2,1580.4 C1410.4,1582.0 1410.7,1583.7 1410.9,1585.3 C1411.1,1587.0 1411.4,1588.6 1411.6,1590.3 C1411.8,1591.9 1412.1,1593.6 1412.3,1595.2 C1412.6,1596.9 1412.8,1598.5 1413.1,1600.2 C1413.3,1601.8 1413.6,1603.5 1413.8,1605.1 C1414.1,1606.8 1414.3,1608.4 1414.6,1610.1 C1414.8,1611.7 1415.1,1613.3 1415.3,1615.0 C1415.6,1616.6 1415.8,1618.3 1416.1,1619.9 C1416.4,1621.6 1416.6,1623.2 1416.9,1624.9 C1417.1,1626.5 1417.4,1628.2 1417.7,1629.8 C1417.9,1631.4 1418.2,1633.1 1418.5,1634.7 C1418.8,1636.4 1419.0,1638.0 1419.3,1639.7 C1419.6,1641.3 1419.9,1643.0 1420.1,1644.6 C1420.4,1646.2 1420.7,1647.9 1421.0,1649.5 C1421.3,1651.2 1421.6,1652.8 1421.9,1654.4 C1422.1,1656.1 1422.4,1657.7 1422.7,1659.4 C1423.0,1661.0 1423.3,1662.6 1423.6,1664.3 C1423.9,1665.9 1424.2,1667.6 1424.6,1669.2 C1424.9,1670.8 1425.2,1672.5 1425.5,1674.1 C1425.8,1675.8 1426.1,1677.4 1426.4,1679.0 C1426.8,1680.7 1427.1,1682.3 1427.4,1683.9 C1427.7,1685.6 1428.1,1687.2 1428.4,1688.8 C1428.7,1690.5 1429.1,1692.1 1429.4,1693.8 C1429.8,1695.4 1430.1,1697.0 1430.5,1698.7 C1430.8,1700.3 1431.2,1701.9 1431.5,1703.6 C1431.9,1705.2 1432.2,1706.8 1432.6,1708.5 C1433.0,1710.1 1433.3,1711.7 1433.7,1713.3 C1434.1,1715.0 1434.4,1716.6 1434.8,1718.2 C1435.2,1719.9 1435.6,1721.5 1436.0,1723.1 C1436.4,1724.8 1436.7,1726.4 1437.1,1728.0 C1437.5,1729.6 1437.9,1731.3 1438.3,1732.9 C1438.8,1734.5 1439.2,1736.1 1439.6,1737.8 C1440.0,1739.4 1440.4,1741.0 1440.8,1742.6 C1441.3,1744.3 1441.7,1745.9 1442.1,1747.5 C1442.5,1749.1 1443.0,1750.8 1443.4,1752.4 C1443.9,1754.0 1444.3,1755.6 1444.8,1757.2 C1445.2,1758.9 1445.7,1760.5 1446.1,1762.1 C1446.6,1763.7 1447.1,1765.3 1447.5,1767.0 C1448.0,1768.6 1448.5,1770.2 1449.0,1771.8 C1449.4,1773.4 1449.9,1775.1 1450.4,1776.7 C1450.9,1778.3 1451.4,1779.9 1451.9,1781.5 C1452.4,1783.1 1452.9,1784.7 1453.4,1786.4 C1454.0,1788.0 1454.5,1789.6 1455.0,1791.2 C1455.5,1792.8 1456.1,1794.4 1456.6,1796.0 C1457.1,1797.6 1457.7,1799.3 1458.2,1800.9 C1458.8,1802.5 1459.3,1804.1 1459.9,1805.7 C1460.5,1807.3 1461.0,1808.9 1461.6,1810.5 C1462.2,1812.1 1462.7,1813.7 1463.3,1815.3 C1463.9,1816.9 1464.5,1818.5 1465.1,1820.1 C1465.7,1821.7 1466.3,1823.2 1466.9,1824.8 C1467.5,1826.4 1468.1,1827.9 1468.8,1829.5 C1469.4,1831.0 1470.0,1832.6 1470.6,1834.1 C1471.3,1835.7 1471.9,1837.2 1472.6,1838.7 C1473.2,1840.2 1473.9,1841.7 1474.5,1843.2 C1475.2,1844.7 1475.9,1846.2 1476.5,1847.6 C1477.2,1849.1 1477.9,1850.5 1478.6,1852.0 C1479.3,1853.4 1479.9,1854.8 1480.7,1856.2 C1481.4,1857.6 1482.1,1859.0 1482.9,1860.4 C1483.7,1861.7 1484.5,1863.1 1485.3,1864.4 C1486.1,1865.7 1487.0,1867.0 1488.0,1868.3 C1488.9,1869.6 1489.9,1870.9 1490.9,1872.1 C1492.0,1873.4 1493.1,1874.6 1494.3,1875.8 C1495.5,1877.0 1496.7,1878.2 1498.0,1879.3 C1499.3,1880.4 1500.6,1881.5 1502.0,1882.6 C1503.4,1883.6 1504.8,1884.6 1506.2,1885.6 C1507.7,1886.6 1509.2,1887.5 1510.6,1888.4 C1512.1,1889.2 1513.7,1890.1 1515.2,1890.8 C1516.7,1891.6 1518.3,1892.3 1519.8,1892.9 C1521.3,1893.5 1522.9,1894.1 1524.4,1894.6 C1526.0,1895.1 1527.5,1895.5 1529.0,1896.0 C1530.5,1896.4 1532.0,1896.8 1533.5,1897.3 C1535.0,1897.8 1536.4,1898.2 1537.8,1898.8 C1539.3,1899.4 1540.6,1900.1 1542.0,1900.9 C1543.3,1901.7 1544.6,1902.6 1545.9,1903.7 C1547.1,1904.8 1548.3,1906.0 1549.5,1907.3 C1550.7,1908.6 1551.8,1910.1 1552.9,1911.5 C1554.0,1913.0 1555.1,1914.5 1556.2,1916.1 C1557.3,1917.6 1558.4,1919.2 1559.4,1920.7 C1560.5,1922.2 1561.6,1923.8 1562.6,1925.2 C1563.7,1926.6 1564.8,1928.1 1565.9,1929.3 C1567.0,1930.6 1568.1,1931.8 1569.2,1932.9 C1570.4,1933.9 1571.5,1934.9 1572.7,1935.8 C1573.9,1936.7 1575.2,1937.4 1576.5,1938.2 C1577.8,1938.9 1579.1,1939.5 1580.5,1940.1 C1581.9,1940.7 1583.4,1941.3 1584.9,1941.8 C1586.4,1942.2 1587.9,1942.7 1589.5,1943.1 C1591.1,1943.5 1592.7,1943.8 1594.4,1944.2 C1596.0,1944.5 1597.7,1944.8 1599.4,1945.0 C1601.1,1945.3 1602.8,1945.6 1604.6,1945.8 C1606.3,1946.0 1608.0,1946.2 1609.8,1946.4 C1611.5,1946.6 1613.3,1946.8 1615.0,1947.0 C1616.7,1947.2 1618.5,1947.4 1620.2,1947.6 C1621.9,1947.8 1623.6,1948.0 1625.3,1948.3 C1626.9,1948.5 1629.4,1948.9 1630.2,1949.0" fill="none" stroke="#f0e442" stroke-width="7" stroke-linejoin="round" stroke-linecap="butt"/>
<path d="M963.7,1948.0 C964.4,1947.6 966.4,1946.6 967.7,1945.7 C968.9,1944.8 970.2,1943.8 971.3,1942.7 C972.5,1941.6 973.7,1940.4 974.9,1939.2 C976.0,1938.1 977.2,1936.8 978.3,1935.6 C979.5,1934.3 980.7,1933.1 981.9,1931.9 C983.1,1930.7 984.3,1929.6 985.6,1928.5 C986.9,1927.4 988.2,1926.4 989.6,1925.6 C991.1,1924.7 992.6,1924.0 994.1,1923.4 C995.6,1922.8 997.3,1922.3 998.9,1921.8 C1000.5,1921.4 1002.2,1921.1 1004.0,1920.8 C1005.7,1920.5 1007.4,1920.3 1009.2,1920.0 C1010.9,1919.8 1012.7,1919.7 1014.5,1919.5 C1016.2,1919.3 1018.0,1919.2 1019.7,1919.0 C1021.4,1918.8 1023.1,1918.6 1024.8,1918.4 C1026.4,1918.1 1028.1,1917.8 1029.6,1917.5 C1031.2,1917.1 1032.7,1916.7 1034.1,1916.2 C1035.6,1915.6 1036.9,1915.0 1038.2,1914.3 C1039.5,1913.6 1040.7,1912.8 1041.7,1911.8 C1042.8,1910.9 1043.8,1909.8 1044.6,1908.6 C1045.5,1907.4 1046.3,1906.1 1046.9,1904.7 C1047.6,1903.3 1048.2,1901.8 1048.8,1900.2 C1049.3,1898.7 1049.8,1897.0 1050.2,1895.4 C1050.7,1893.7 1051.0,1891.9 1051.4,1890.2 C1051.7,1888.4 1052.0,1886.6 1052.3,1884.8 C1052.6,1883.0 1052.9,1881.1 1053.1,1879.3 C1053.4,1877.5 1053.7,1875.7 1053.9,1873.9 C1054.2,1872.1 1054.5,1870.3 1054.8,1868.6 C1055.1,1866.9 1055.4,1865.2 1055.8,1863.6 C1056.2,1862.0 1056.6,1860.5 1057.0,1858.9 C1057.4,1857.4 1057.8,1855.9 1058.3,1854.4 C1058.7,1852.9 1059.2,1851.5 1059.6,1850.0 C1060.0,1848.5 1060.4,1847.0 1060.8,1845.5 C1061.2,1844.0 1061.6,1842.4 1061.9,1840.9 C1062.2,1839.3 1062.5,1837.6 1062.8,1836.0 C1063.1,1834.3 1063.3,1832.6 1063.6,1830.9 C1063.8,1829.2 1064.0,1827.5 1064.2,1825.8 C1064.4,1824.0 1064.6,1822.3 1064.9,1820.5 C1065.1,1818.7 1065.3,1817.0 1065.5,1815.2 C1065.8,1813.5 1066.0,1811.7 1066.3,1810.0 C1066.6,1808.3 1066.9,1806.6 1067.2,1804.9 C1067.5,1803.2 1067.9,1801.5 1068.3,1799.9 C1068.8,1798.3 1069.2,1796.7 1069.7,1795.2 C1070.2,1793.7 1070.8,1792.2 1071.4,1790.7 C1072.1,1789.3 1072.8,1787.9 1073.6,1786.6 C1074.3,1785.2 1075.2,1784.0 1076.2,1782.7 C1077.2,1781.4 1078.3,1780.2 1079.4,1779.0 C1080.6,1777.7 1081.9,1776.5 1083.1,1775.3 C1084.3,1774.1 1085.6,1772.9 1086.8,1771.6 C1087.9,1770.3 1089.1,1769.1 1090.1,1767.7 C1091.2,1766.4 1092.1,1765.1 1093.1,1763.7 C1094.0,1762.4 1094.9,1761.0 1095.7,1759.6 C1096.5,1758.2 1097.3,1756.7 1098.0,1755.3 C1098.7,1753.8 1099.4,1752.4 1100.0,1750.9 C1100.7,1749.4 1101.3,1747.9 1101.8,1746.4 C1102.4,1744.9 1103.0,1743.3 1103.5,1741.8 C1104.0,1740.3 1104.5,1738.7 1105.0,1737.2 C1105.5,1735.6 1106.0,1734.1 1106.5,1732.5 C1107.0,1731.0 1107.4,1729.4 1107.9,1727.8 C1108.3,1726.2 1108.7,1724.6 1109.2,1723.1 C1109.6,1721.5 1110.0,1719.9 1110.4,1718.3 C1110.8,1716.7 1111.2,1715.1 1111.5,1713.5 C1111.9,1711.8 1112.3,1710.2 1112.6,1708.6 C1113.0,1707.0 1113.4,1705.4 1113.7,1703.7 C1114.0,1702.1 1114.4,1700.5 1114.7,1698.8 C1115.0,1697.2 1115.3,1695.6 1115.6,1693.9 C1115.9,1692.3 1116.2,1690.6 1116.5,1689.0 C1116.8,1687.3 1117.1,1685.7 1117.4,1684.0 C1117.7,1682.3 1117.9,1680.7 1118.2,1679.0 C1118.5,1677.4 1118.7,1675.7 1119.0,1674.0 C1119.2,1672.4 1119.5,1670.7 1119.7,1669.0 C1120.0,1667.4 1120.2,1665.7 1120.5,1664.0 C1120.7,1662.4 1120.9,1660.7 1121.2,1659.0 C1121.4,1657.3 1121.6,1655.7 1121.9,1654.0 C1122.1,1652.3 1122.3,1650.6 1122.6,1649.0 C1122.8,1647.3 1123.0,1645.6 1123.2,1644.0 C1123.4,1642.3 1123.7,1640.6 1123.9,1638.9 C1124.1,1637.3 1124.3,1635.6 1124.6,1633.9 C1124.8,1632.3 1125.0,1630.6 1125.2,1628.9 C1125.4,1627.3 1125.7,1625.6 1125.9,1624.0 C1126.1,1622.3 1126.3,1620.6 1126.5,1619.0 C1126.7,1617.3 1127.0,1615.6 1127.2,1614.0 C1127.4,1612.3 1127.6,1610.7 1127.8,1609.0 C1128.1,1607.4 1128.3,1605.7 1128.5,1604.0 C1128.7,1602.4 1128.9,1600.7 1129.1,1599.1 C1129.4,1597.4 1129.6,1595.8 1129.8,1594.1 C1130.0,1592.5 1130.2,1590.8 1130.4,1589.2 C1130.6,1587.5 1130.9,1585.8 1131.1,1584.2 C1131.3,1582.5 1131.5,1580.9 1131.7,1579.2 C1131.9,1577.6 1132.1,1575.9 1132.3,1574.3 C1132.6,1572.7 1132.8,1571.0 1133.0,1569.4 C1133.2,1567.7 1133.4,1566.1 1133.6,1564.4 C1133.8,1562.8 1134.0,1561.1 1134.2,1559.5 C1134.4,1557.8 1134.7,1556.2 1134.9,1554.5 C1135.1,1552.9 1135.3,1551.3 1135.5,1549.6 C1135.7,1548.0 1135.9,1546.3 1136.1,1544.7 C1136.3,1543.0 1136.5,1541.4 1136.7,1539.7 C1136.9,1538.1 1137.1,1536.5 1137.4,1534.8 C1137.6,1533.2 1137.8,1531.5 1138.0,1529.9 C1138.2,1528.2 1138.4,1526.6 1138.6,1525.0 C1138.8,1523.3 1139.0,1521.7 1139.2,1520.0 C1139.4,1518.4 1139.6,1516.8 1139.8,1515.1 C1140.0,1513.5 1140.2,1511.8 1140.4,1510.2 C1140.6,1508.5 1140.8,1506.9 1141.0,1505.3 C1141.3,1503.6 1141.5,1502.0 1141.7,1500.3 C1141.9,1498.7 1142.1,1497.0 1142.3,1495.4 C1142.5,1493.8 1142.7,1492.1 1142.9,1490.5 C1143.2,1488.8 1143.4,1487.2 1143.6,1485.5 C1143.8,1483.9 1144.0,1482.3 1144.3,1480.6 C1144.5,1479.0 1144.7,1477.3 1144.9,1475.7 C1145.2,1474.0 1145.4,1472.4 1145.6,1470.8 C1145.8,1469.1 1146.1,1467.5 1146.3,1465.8 C1146.5,1464.2 1146.7,1462.5 1147.0,1460.9 C1147.2,1459.2 1147.4,1457.6 1147.6,1455.9 C1147.9,1454.3 1148.1,1452.6 1148.3,1451.0 C1148.5,1449.3 1148.8,1447.7 1149.0,1446.0 C1149.2,1444.4 1149.4,1442.7 1149.7,1441.1 C1149.9,1439.4 1150.1,1437.8 1150.3,1436.1 C1150.5,1434.5 1150.8,1432.8 1151.0,1431.2 C1151.2,1429.5 1151.4,1427.9 1151.7,1426.2 C1151.9,1424.6 1152.1,1422.9 1152.3,1421.3 C1152.5,1419.6 1152.7,1418.0 1153.0,1416.3 C1153.2,1414.6 1153.4,1413.0 1153.6,1411.3 C1153.8,1409.7 1154.0,1408.0 1154.3,1406.4 C1154.5,1404.7 1154.7,1403.1 1154.9,1401.4 C1155.1,1399.7 1155.3,1398.1 1155.5,1396.4 C1155.7,1394.8 1155.9,1393.1 1156.1,1391.5 C1156.4,1389.8 1156.6,1388.1 1156.8,1386.5 C1157.0,1384.8 1157.2,1383.2 1157.4,1381.5 C1157.6,1379.8 1157.8,1378.2 1158.0,1376.5 C1158.2,1374.9 1158.4,1373.2 1158.6,1371.5 C1158.8,1369.9 1158.9,1368.2 1159.1,1366.6 C1159.3,1364.9 1159.5,1363.2 1159.7,1361.6 C1159.9,1359.9 1160.1,1358.3 1160.3,1356.6 C1160.5,1354.9 1160.6,1353.3 1160.8,1351.6 C1161.0,1349.9 1161.2,1348.3 1161.4,1346.6 C1161.5,1344.9 1161.7,1343.3 1161.9,1341.6 C1162.1,1340.0 1162.2,1338.3 1162.4,1336.6 C1162.6,1335.0 1162.8,1333.3 1162.9,1331.6 C1163.1,1330.0 1163.2,1328.3 1163.4,1326.6 C1163.6,1325.0 1163.7,1323.3 1163.9,1321.6 C1164.0,1320.0 1164.2,1318.3 1164.3,1316.6 C1164.5,1315.0 1164.7,1313.3 1164.8,1311.6 C1164.9,1310.0 1165.1,1308.3 1165.2,1306.6 C1165.4,1305.0 1165.5,1303.3 1165.7,1301.6 C1165.8,1300.0 1165.9,1298.3 1166.1,1296.6 C1166.2,1295.0 1166.3,1293.3 1166.5,1291.6 C1166.6,1290.0 1166.7,1288.3 1166.9,1286.6 C1167.0,1285.0 1167.1,1283.3 1167.2,1281.6 C1167.4,1280.0 1167.5,1278.3 1167.6,1276.6 C1167.7,1275.0 1167.8,1273.3 1168.0,1271.6 C1168.1,1269.9 1168.2,1268.3 1168.3,1266.6 C1168.4,1264.9 1168.5,1263.3 1168.7,1261.6 C1168.8,1259.9 1168.9,1258.3 1169.0,1256.6 C1169.1,1254.9 1169.2,1253.3 1169.3,1251.6 C1169.4,1249.9 1169.5,1248.2 1169.6,1246.6 C1169.7,1244.9 1169.8,1243.2 1169.9,1241.6 C1170.0,1239.9 1170.1,1238.2 1170.3,1236.6 C1170.4,1234.9 1170.5,1233.2 1170.6,1231.5 C1170.7,1229.9 1170.7,1228.2 1170.8,1226.5 C1170.9,1224.9 1171.0,1223.2 1171.1,1221.5 C1171.2,1219.9 1171.3,1218.2 1171.4,1216.5 C1171.5,1214.8 1171.6,1213.2 1171.7,1211.5 C1171.8,1209.8 1171.9,1208.2 1172.0,1206.5 C1172.1,1204.8 1172.2,1203.2 1172.3,1201.5 C1172.4,1199.8 1172.5,1198.1 1172.6,1196.5 C1172.6,1194.8 1172.7,1193.1 1172.8,1191.5 C1172.9,1189.8 1173.0,1188.1 1173.1,1186.5 C1173.2,1184.8 1173.3,1183.1 1173.4,1181.4 C1173.5,1179.8 1173.6,1178.1 1173.7,1176.4 C1173.8,1174.8 1173.8,1173.1 1173.9,1171.4 C1174.0,1169.8 1174.1,1168.1 1174.2,1166.4 C1174.3,1164.8 1174.4,1163.1 1174.5,1161.4 C1174.6,1159.7 1174.7,1158.1 1174.8,1156.4 C1174.9,1154.7 1175.0,1153.1 1175.1,1151.4 C1175.2,1149.7 1175.3,1148.1 1175.4,1146.4 C1175.5,1144.7 1175.6,1143.1 1175.7,1141.4 C1175.8,1139.7 1175.9,1138.1 1176.0,1136.4 C1176.1,1134.7 1176.2,1133.1 1176.3,1131.4 C1176.4,1129.7 1176.5,1128.1 1176.6,1126.4 C1176.7,1124.7 1176.8,1123.1 1176.9,1121.4 C1177.0,1119.7 1177.1,1118.1 1177.2,1116.4 C1177.3,1114.7 1177.4,1113.1 1177.6,1111.4 C1177.7,1109.7 1177.8,1108.1 1177.9,1106.4 C1178.0,1104.7 1178.1,1103.1 1178.2,1101.4 C1178.4,1099.7 1178.5,1098.1 1178.6,1096.4 C1178.7,1094.7 1178.8,1093.1 1179.0,1091.4 C1179.1,1089.7 1179.2,1088.1 1179.3,1086.4 C1179.5,1084.7 1179.6,1083.1 1179.7,1081.4 C1179.9,1079.8 1180.0,1078.1 1180.1,1076.4 C1180.3,1074.8 1180.4,1073.1 1180.5,1071.4 C1180.7,1069.8 1180.8,1068.1 1181.0,1066.5 C1181.1,1064.8 1181.3,1063.1 1181.4,1061.5 C1181.6,1059.8 1181.7,1058.2 1181.9,1056.5 C1182.0,1054.8 1182.2,1053.2 1182.3,1051.5 C1182.5,1049.9 1182.6,1048.2 1182.8,1046.5 C1183.0,1044.9 1183.1,1043.2 1183.3,1041.6 C1183.5,1039.9 1183.6,1038.2 1183.8,1036.6 C1184.0,1034.9 1184.1,1033.3 1184.3,1031.6 C1184.5,1030.0 1184.7,1028.3 1184.9,1026.6 C1185.0,1025.0 1185.2,1023.3 1185.4,1021.7 C1185.6,1020.0 1185.8,1018.4 1186.0,1016.7 C1186.2,1015.0 1186.4,1013.4 1186.6,1011.7 C1186.8,1010.1 1187.0,1008.4 1187.2,1006.8 C1187.4,1005.1 1187.6,1003.5 1187.8,1001.8 C1188.0,1000.2 1188.2,998.5 1188.5,996.9 C1188.7,995.2 1188.9,993.6 1189.1,991.9 C1189.3,990.2 1189.5,988.6 1189.8,986.9 C1190.0,985.3 1190.2,983.6 1190.5,982.0 C1190.7,980.3 1190.9,978.7 1191.1,977.0 C1191.4,975.4 1191.6,973.7 1191.9,972.1 C1192.1,970.4 1192.3,968.8 1192.6,967.1 C1192.8,965.5 1193.0,963.8 1193.3,962.2 C1193.5,960.5 1193.8,958.9 1194.0,957.2 C1194.3,955.6 1194.5,953.9 1194.8,952.3 C1195.0,950.7 1195.3,949.0 1195.5,947.4 C1195.8,945.7 1196.0,944.1 1196.3,942.4 C1196.5,940.8 1196.8,939.1 1197.0,937.5 C1197.3,935.8 1197.5,934.2 1197.8,932.5 C1198.1,930.9 1198.3,929.2 1198.6,927.6 C1198.8,925.9 1199.1,924.3 1199.3,922.6 C1199.6,921.0 1199.9,919.3 1200.1,917.7 C1200.4,916.0 1200.6,914.4 1200.9,912.7 C1201.2,911.1 1201.4,909.4 1201.7,907.8 C1202.0,906.1 1202.2,904.5 1202.5,902.9 C1202.7,901.2 1203.0,899.6 1203.3,897.9 C1203.5,896.3 1203.8,894.6 1204.0,893.0 C1204.3,891.3 1204.6,889.7 1204.8,888.0 C1205.1,886.4 1205.3,884.7 1205.6,883.1 C1205.9,881.4 1206.1,879.8 1206.4,878.1 C1206.6,876.5 1206.9,874.8 1207.1,873.2 C1207.4,871.5 1207.7,869.9 1207.9,868.2 C1208.2,866.6 1208.4,864.9 1208.7,863.3 C1208.9,861.6 1209.2,860.0 1209.4,858.3 C1209.7,856.7 1209.9,855.0 1210.2,853.4 C1210.4,851.7 1210.7,850.1 1210.9,848.4 C1211.2,846.7 1211.4,845.1 1211.7,843.4 C1211.9,841.8 1212.1,840.1 1212.4,838.5 C1212.6,836.8 1212.9,835.2 1213.1,833.5 C1213.3,831.9 1213.6,830.2 1213.8,828.6 C1214.0,826.9 1214.3,825.2 1214.5,823.6 C1214.7,821.9 1214.9,820.3 1215.2,818.6 C1215.4,817.0 1215.6,815.3 1215.8,813.7 C1216.1,812.0 1216.3,810.3 1216.5,808.7 C1216.7,807.0 1216.9,805.4 1217.1,803.7 C1217.4,802.0 1217.6,800.4 1217.8,798.7 C1218.0,797.1 1218.2,795.4 1218.4,793.7 C1218.6,792.1 1218.8,790.4 1219.0,788.8 C1219.2,787.1 1219.4,785.4 1219.6,783.8 C1219.8,782.1 1220.0,780.4 1220.2,778.8 C1220.4,777.1 1220.6,775.5 1220.7,773.8 C1220.9,772.1 1221.1,770.5 1221.3,768.8 C1221.5,767.1 1221.7,765.5 1221.8,763.8 C1222.0,762.1 1222.2,760.5 1222.4,758.8 C1222.5,757.1 1222.7,755.4 1222.9,753.8 C1223.1,752.1 1223.2,750.4 1223.4,748.8 C1223.6,747.1 1223.7,745.4 1223.9,743.7 C1224.0,742.1 1224.2,740.4 1224.4,738.7 C1224.5,737.1 1224.7,735.4 1224.8,733.7 C1225.0,732.0 1225.1,730.4 1225.3,728.7 C1225.4,727.0 1225.6,725.3 1225.7,723.6 C1225.9,722.0 1226.0,720.3 1226.2,718.6 C1226.3,716.9 1226.4,715.2 1226.6,713.6 C1226.7,711.9 1226.8,710.2 1227.0,708.5 C1227.1,706.8 1227.2,705.1 1227.4,703.5 C1227.5,701.8 1227.6,700.1 1227.7,698.4 C1227.9,696.7 1228.0,695.0 1228.1,693.5 C1228.2,692.0 1228.3,690.5 1228.4,689.3 C1228.6,688.1 1228.7,687.0 1228.8,686.3 C1228.9,685.6 1229.0,685.5 1229.1,685.1 C1229.2,684.7 1229.3,684.5 1229.5,684.0 C1229.6,683.5 1229.7,682.8 1229.8,681.9 C1229.9,681.1 1230.0,680.1 1230.1,679.0 C1230.2,677.9 1230.3,676.6 1230.5,675.3 C1230.6,673.9 1230.7,672.5 1230.8,670.9 C1230.9,669.4 1231.0,667.7 1231.1,666.0 C1231.3,664.2 1231.4,662.4 1231.5,660.6 C1231.6,658.7 1231.7,656.8 1231.9,654.9 C1232.0,652.9 1232.1,650.9 1232.2,648.9 C1232.4,646.9 1232.5,644.8 1232.6,642.8 C1232.8,640.8 1232.9,638.7 1233.0,636.7 C1233.2,634.7 1233.3,632.7 1233.5,630.7 C1233.6,628.7 1233.8,626.8 1233.9,624.9 C1234.1,623.0 1234.2,621.1 1234.4,619.2 C1234.6,617.4 1234.7,615.6 1234.9,613.8 C1235.1,612.0 1235.2,610.2 1235.4,608.4 C1235.6,606.7 1235.8,604.9 1235.9,603.2 C1236.1,601.5 1236.3,599.8 1236.5,598.1 C1236.7,596.5 1236.9,594.8 1237.1,593.2 C1237.3,591.5 1237.5,589.9 1237.7,588.3 C1237.9,586.7 1238.1,585.1 1238.3,583.5 C1238.5,581.9 1238.7,580.3 1238.9,578.7 C1239.1,577.1 1239.4,575.6 1239.6,574.0 C1239.8,572.4 1240.0,570.9 1240.2,569.3 C1240.5,567.8 1240.7,566.2 1240.9,564.6 C1241.2,563.1 1241.4,561.5 1241.6,559.9 C1241.9,558.4 1242.1,556.8 1242.3,555.2 C1242.6,553.7 1242.8,552.1 1243.1,550.5 C1243.3,548.9 1243.6,547.3 1243.8,545.7 C1244.1,544.1 1244.3,542.5 1244.6,540.8 C1244.9,539.2 1245.1,537.6 1245.4,535.9 C1245.7,534.2 1245.9,532.6 1246.2,530.9 C1246.5,529.2 1246.8,527.5 1247.1,525.8 C1247.4,524.0 1247.7,522.3 1248.0,520.6 C1248.3,518.8 1248.6,517.0 1248.9,515.2 C1249.3,513.4 1249.6,511.6 1250.0,509.8 C1250.3,508.0 1250.7,506.1 1251.1,504.3 C1251.4,502.4 1251.8,500.4 1252.2,498.7 C1252.6,496.9 1253.1,495.0 1253.5,493.9 C1253.9,492.7 1254.4,491.6 1254.9,491.6 C1255.3,491.6 1255.8,492.6 1256.3,493.9 C1256.8,495.2 1257.4,497.5 1257.9,499.5 C1258.4,501.5 1259.0,503.8 1259.5,505.8 C1260.0,507.7 1260.5,509.4 1261.0,511.0 C1261.4,512.7 1261.9,514.2 1262.3,515.8 C1262.7,517.4 1263.1,519.0 1263.4,520.6 C1263.7,522.2 1264.0,523.8 1264.3,525.4 C1264.6,527.0 1264.8,528.7 1265.0,530.3 C1265.3,531.9 1265.5,533.6 1265.7,535.2 C1265.9,536.9 1266.0,538.5 1266.2,540.2 C1266.4,541.8 1266.6,543.5 1266.8,545.2 C1266.9,546.8 1267.1,548.5 1267.3,550.1 C1267.5,551.8 1267.7,553.5 1267.9,555.1 C1268.1,556.8 1268.3,558.4 1268.5,560.1 C1268.7,561.8 1268.9,563.4 1269.1,565.1 C1269.3,566.8 1269.5,568.4 1269.7,570.1 C1269.9,571.7 1270.1,573.4 1270.3,575.1 C1270.5,576.7 1270.7,578.4 1270.9,580.1 C1271.1,581.7 1271.4,583.4 1271.6,585.1 C1271.8,586.7 1272.0,588.4 1272.2,590.0 C1272.4,591.7 1272.7,593.4 1272.9,595.0 C1273.1,596.7 1273.3,598.4 1273.5,600.0 C1273.7,601.7 1273.9,603.4 1274.2,605.0 C1274.4,606.7 1274.6,608.3 1274.8,610.0 C1275.0,611.7 1275.2,613.3 1275.4,615.0 C1275.7,616.7 1275.9,618.3 1276.1,620.0 C1276.3,621.6 1276.5,623.3 1276.7,625.0 C1276.9,626.6 1277.1,628.3 1277.3,629.9 C1277.5,631.6 1277.7,633.2 1277.9,634.9 C1278.1,636.6 1278.3,638.2 1278.5,639.9 C1278.7,641.5 1278.8,643.2 1279.0,644.8 C1279.2,646.5 1279.4,648.1 1279.6,649.8 C1279.7,651.4 1279.9,653.1 1280.1,654.7 C1280.2,656.4 1280.4,658.0 1280.6,659.7 C1280.7,661.3 1280.9,663.0 1281.0,664.6 C1281.2,666.3 1281.3,667.9 1281.5,669.6 C1281.6,671.2 1281.8,672.9 1281.9,674.5 C1282.1,676.1 1282.2,677.8 1282.4,679.4 C1282.5,681.1 1282.7,682.7 1282.8,684.3 C1283.0,686.0 1283.2,687.6 1283.3,689.2 C1283.5,690.9 1283.7,692.5 1283.9,694.1 C1284.1,695.8 1284.3,697.4 1284.5,699.0 C1284.7,700.7 1285.0,702.3 1285.2,703.9 C1285.5,705.6 1285.7,707.2 1286.0,708.8 C1286.3,710.4 1286.6,712.1 1286.9,713.7 C1287.3,715.3 1287.6,717.0 1288.0,718.6 C1288.3,720.2 1288.7,721.8 1289.2,723.5 C1289.6,725.1 1290.0,726.7 1290.5,728.3 C1290.9,730.0 1291.4,731.6 1291.9,733.2 C1292.4,734.8 1292.9,736.5 1293.4,738.1 C1294.0,739.7 1294.5,741.3 1295.1,743.0 C1295.6,744.6 1296.2,746.2 1296.8,747.8 C1297.4,749.4 1298.0,751.1 1298.6,752.7 C1299.2,754.3 1299.8,755.9 1300.4,757.6 C1300.9,759.2 1301.5,760.8 1302.1,762.4 C1302.7,764.0 1303.3,765.7 1303.9,767.3 C1304.5,768.9 1305.1,770.5 1305.7,772.2 C1306.2,773.8 1306.8,775.4 1307.3,777.0 C1307.9,778.7 1308.4,780.3 1308.9,781.9 C1309.4,783.5 1309.9,785.1 1310.4,786.8 C1310.9,788.4 1311.3,790.0 1311.8,791.6 C1312.2,793.3 1312.6,794.9 1313.0,796.5 C1313.4,798.1 1313.7,799.8 1314.1,801.4 C1314.4,803.0 1314.7,804.6 1315.0,806.3 C1315.3,807.9 1315.6,809.5 1315.9,811.2 C1316.1,812.8 1316.4,814.4 1316.7,816.0 C1316.9,817.7 1317.1,819.3 1317.4,820.9 C1317.6,822.6 1317.8,824.2 1318.1,825.8 C1318.3,827.5 1318.5,829.1 1318.7,830.7 C1319.0,832.4 1319.2,834.0 1319.4,835.6 C1319.6,837.3 1319.8,838.9 1320.0,840.5 C1320.2,842.2 1320.4,843.8 1320.6,845.4 C1320.8,847.1 1321.0,848.7 1321.2,850.4 C1321.4,852.0 1321.5,853.6 1321.7,855.3 C1321.9,856.9 1322.1,858.6 1322.3,860.2 C1322.4,861.8 1322.6,863.5 1322.8,865.1 C1322.9,866.8 1323.1,868.4 1323.3,870.1 C1323.4,871.7 1323.6,873.3 1323.7,875.0 C1323.9,876.6 1324.1,878.3 1324.2,879.9 C1324.4,881.6 1324.5,883.2 1324.7,884.9 C1324.8,886.5 1325.0,888.2 1325.1,889.8 C1325.2,891.5 1325.4,893.1 1325.5,894.8 C1325.6,896.4 1325.8,898.1 1325.9,899.7 C1326.1,901.4 1326.2,903.0 1326.3,904.7 C1326.4,906.3 1326.6,908.0 1326.7,909.6 C1326.8,911.3 1326.9,912.9 1327.1,914.6 C1327.2,916.2 1327.3,917.9 1327.4,919.5 C1327.5,921.2 1327.7,922.9 1327.8,924.5 C1327.9,926.2 1328.0,927.8 1328.1,929.5 C1328.2,931.1 1328.3,932.8 1328.5,934.4 C1328.6,936.1 1328.7,937.8 1328.8,939.4 C1328.9,941.1 1329.0,942.7 1329.1,944.4 C1329.2,946.1 1329.3,947.7 1329.4,949.4 C1329.5,951.0 1329.6,952.7 1329.7,954.4 C1329.8,956.0 1329.9,957.7 1330.0,959.3 C1330.1,961.0 1330.2,962.7 1330.3,964.3 C1330.5,966.0 1330.6,967.6 1330.7,969.3 C1330.8,971.0 1330.9,972.6 1331.0,974.3 C1331.1,976.0 1331.2,977.6 1331.3,979.3 C1331.4,981.0 1331.5,982.6 1331.6,984.3 C1331.7,985.9 1331.8,987.6 1331.9,989.3 C1332.0,990.9 1332.1,992.6 1332.2,994.3 C1332.3,995.9 1332.4,997.6 1332.5,999.3 C1332.6,1000.9 1332.7,1002.6 1332.8,1004.3 C1332.9,1005.9 1333.0,1007.6 1333.1,1009.3 C1333.2,1010.9 1333.3,1012.6 1333.4,1014.3 C1333.5,1015.9 1333.6,1017.6 1333.7,1019.3 C1333.8,1020.9 1333.9,1022.6 1334.0,1024.3 C1334.2,1025.9 1334.3,1027.6 1334.4,1029.3 C1334.5,1031.0 1334.6,1032.6 1334.7,1034.3 C1334.8,1036.0 1335.0,1037.6 1335.1,1039.3 C1335.2,1041.0 1335.3,1042.6 1335.4,1044.3 C1335.6,1046.0 1335.7,1047.6 1335.8,1049.3 C1335.9,1051.0 1336.1,1052.7 1336.2,1054.3 C1336.3,1056.0 1336.5,1057.7 1336.6,1059.3 C1336.7,1061.0 1336.9,1062.7 1337.0,1064.3 C1337.1,1066.0 1337.3,1067.7 1337.4,1069.4 C1337.6,1071.0 1337.7,1072.7 1337.8,1074.4 C1338.0,1076.0 1338.1,1077.7 1338.3,1079.4 C1338.4,1081.0 1338.6,1082.7 1338.8,1084.4 C1338.9,1086.1 1339.1,1087.7 1339.2,1089.4 C1339.4,1091.1 1339.6,1092.7 1339.7,1094.4 C1339.9,1096.1 1340.1,1097.7 1340.2,1099.4 C1340.4,1101.1 1340.6,1102.8 1340.8,1104.4 C1340.9,1106.1 1341.1,1107.8 1341.3,1109.4 C1341.5,1111.1 1341.7,1112.8 1341.9,1114.4 C1342.0,1116.1 1342.2,1117.8 1342.4,1119.5 C1342.6,1121.1 1342.8,1122.8 1343.0,1124.5 C1343.2,1126.1 1343.4,1127.8 1343.6,1129.5 C1343.8,1131.1 1344.0,1132.8 1344.2,1134.5 C1344.4,1136.1 1344.6,1137.8 1344.8,1139.5 C1345.0,1141.2 1345.2,1142.8 1345.4,1144.5 C1345.6,1146.2 1345.8,1147.8 1346.1,1149.5 C1346.3,1151.2 1346.5,1152.8 1346.7,1154.5 C1346.9,1156.2 1347.1,1157.8 1347.4,1159.5 C1347.6,1161.2 1347.8,1162.8 1348.0,1164.5 C1348.2,1166.2 1348.5,1167.8 1348.7,1169.5 C1348.9,1171.2 1349.1,1172.8 1349.4,1174.5 C1349.6,1176.2 1349.8,1177.8 1350.1,1179.5 C1350.3,1181.2 1350.5,1182.8 1350.8,1184.5 C1351.0,1186.2 1351.2,1187.8 1351.5,1189.5 C1351.7,1191.2 1351.9,1192.8 1352.2,1194.5 C1352.4,1196.1 1352.7,1197.8 1352.9,1199.5 C1353.1,1201.1 1353.4,1202.8 1353.6,1204.5 C1353.9,1206.1 1354.1,1207.8 1354.3,1209.4 C1354.6,1211.1 1354.8,1212.8 1355.1,1214.4 C1355.3,1216.1 1355.6,1217.8 1355.8,1219.4 C1356.1,1221.1 1356.3,1222.7 1356.6,1224.4 C1356.8,1226.1 1357.1,1227.7 1357.3,1229.4 C1357.6,1231.0 1357.8,1232.7 1358.1,1234.3 C1358.3,1236.0 1358.6,1237.7 1358.8,1239.3 C1359.1,1241.0 1359.3,1242.6 1359.6,1244.3 C1359.8,1245.9 1360.1,1247.6 1360.3,1249.3 C1360.6,1250.9 1360.9,1252.6 1361.1,1254.2 C1361.4,1255.9 1361.6,1257.5 1361.9,1259.2 C1362.1,1260.8 1362.4,1262.5 1362.6,1264.1 C1362.9,1265.8 1363.2,1267.4 1363.4,1269.1 C1363.7,1270.8 1363.9,1272.4 1364.2,1274.1 C1364.4,1275.7 1364.7,1277.4 1365.0,1279.0 C1365.2,1280.7 1365.5,1282.3 1365.7,1284.0 C1366.0,1285.6 1366.2,1287.3 1366.5,1288.9 C1366.7,1290.6 1367.0,1292.2 1367.3,1293.9 C1367.5,1295.5 1367.8,1297.2 1368.0,1298.8 C1368.3,1300.5 1368.5,1302.1 1368.8,1303.8 C1369.0,1305.4 1369.3,1307.0 1369.6,1308.7 C1369.8,1310.3 1370.1,1312.0 1370.3,1313.6 C1370.6,1315.3 1370.8,1316.9 1371.1,1318.6 C1371.3,1320.2 1371.6,1321.9 1371.8,1323.5 C1372.1,1325.2 1372.3,1326.8 1372.6,1328.5 C1372.8,1330.1 1373.1,1331.8 1373.3,1333.4 C1373.6,1335.0 1373.8,1336.7 1374.1,1338.3 C1374.3,1340.0 1374.6,1341.6 1374.8,1343.3 C1375.0,1344.9 1375.3,1346.6 1375.5,1348.2 C1375.8,1349.9 1376.0,1351.5 1376.3,1353.1 C1376.5,1354.8 1376.7,1356.4 1377.0,1358.1 C1377.2,1359.7 1377.5,1361.4 1377.7,1363.0 C1377.9,1364.7 1378.2,1366.3 1378.4,1368.0 C1378.6,1369.6 1378.9,1371.2 1379.1,1372.9 C1379.3,1374.5 1379.6,1376.2 1379.8,1377.8 C1380.0,1379.5 1380.2,1381.1 1380.5,1382.8 C1380.7,1384.4 1380.9,1386.0 1381.2,1387.7 C1381.4,1389.3 1381.6,1391.0 1381.8,1392.6 C1382.0,1394.3 1382.3,1395.9 1382.5,1397.6 C1382.7,1399.2 1382.9,1400.9 1383.1,1402.5 C1383.3,1404.1 1383.6,1405.8 1383.8,1407.4 C1384.0,1409.1 1384.2,1410.7 1384.4,1412.4 C1384.6,1414.0 1384.8,1415.7 1385.0,1417.3 C1385.2,1419.0 1385.4,1420.6 1385.6,1422.3 C1385.8,1423.9 1386.0,1425.6 1386.2,1427.2 C1386.4,1428.9 1386.6,1430.5 1386.8,1432.1 C1387.0,1433.8 1387.2,1435.4 1387.4,1437.1 C1387.6,1438.7 1387.8,1440.4 1387.9,1442.0 C1388.1,1443.7 1388.3,1445.3 1388.5,1447.0 C1388.7,1448.6 1388.8,1450.3 1389.0,1451.9 C1389.2,1453.6 1389.4,1455.2 1389.5,1456.9 C1389.7,1458.5 1389.9,1460.2 1390.0,1461.8 C1390.2,1463.5 1390.4,1465.1 1390.5,1466.8 C1390.7,1468.4 1390.9,1470.1 1391.0,1471.7 C1391.2,1473.4 1391.3,1475.1 1391.5,1476.7 C1391.6,1478.4 1391.8,1480.0 1391.9,1481.7 C1392.1,1483.3 1392.2,1485.0 1392.4,1486.6 C1392.5,1488.3 1392.6,1489.9 1392.8,1491.6 C1392.9,1493.3 1393.1,1494.9 1393.2,1496.6 C1393.3,1498.2 1393.5,1499.9 1393.6,1501.5 C1393.7,1503.2 1393.8,1504.9 1394.0,1506.5 C1394.1,1508.2 1394.2,1509.8 1394.4,1511.5 C1394.5,1513.2 1394.6,1514.8 1394.7,1516.5 C1394.9,1518.1 1395.0,1519.8 1395.1,1521.5 C1395.3,1523.1 1395.4,1524.8 1395.5,1526.4 C1395.6,1528.1 1395.8,1529.8 1395.9,1531.4 C1396.0,1533.1 1396.2,1534.8 1396.3,1536.4 C1396.4,1538.1 1396.5,1539.8 1396.7,1541.4 C1396.8,1543.1 1397.0,1544.8 1397.1,1546.4 C1397.2,1548.1 1397.4,1549.8 1397.5,1551.4 C1397.6,1553.1 1397.8,1554.8 1397.9,1556.4 C1398.1,1558.1 1398.2,1559.8 1398.4,1561.4 C1398.5,1563.1 1398.7,1564.8 1398.8,1566.5 C1399.0,1568.1 1399.1,1569.8 1399.3,1571.5 C1399.5,1573.2 1399.6,1574.8 1399.8,1576.5 C1400.0,1578.2 1400.1,1579.9 1400.3,1581.5 C1400.5,1583.2 1400.7,1584.9 1400.8,1586.6 C1401.0,1588.3 1401.2,1589.9 1401.4,1591.6 C1401.6,1593.3 1401.8,1595.0 1402.0,1596.7 C1402.2,1598.3 1402.4,1600.0 1402.6,1601.7 C1402.8,1603.4 1403.0,1605.1 1403.3,1606.8 C1403.5,1608.4 1403.7,1610.1 1404.0,1611.8 C1404.2,1613.5 1404.4,1615.2 1404.7,1616.9 C1404.9,1618.6 1405.2,1620.3 1405.4,1621.9 C1405.7,1623.6 1405.9,1625.3 1406.2,1627.0 C1406.5,1628.7 1406.7,1630.4 1407.0,1632.1 C1407.3,1633.8 1407.6,1635.4 1407.9,1637.1 C1408.1,1638.8 1408.4,1640.5 1408.7,1642.2 C1409.0,1643.9 1409.3,1645.6 1409.6,1647.2 C1409.9,1648.9 1410.2,1650.6 1410.5,1652.3 C1410.8,1654.0 1411.1,1655.6 1411.5,1657.3 C1411.8,1659.0 1412.1,1660.6 1412.4,1662.3 C1412.7,1664.0 1413.0,1665.6 1413.4,1667.3 C1413.7,1669.0 1414.0,1670.6 1414.3,1672.3 C1414.6,1673.9 1415.0,1675.6 1415.3,1677.2 C1415.6,1678.8 1415.9,1680.5 1416.3,1682.1 C1416.6,1683.8 1416.9,1685.4 1417.3,1687.0 C1417.6,1688.6 1417.9,1690.3 1418.3,1691.9 C1418.6,1693.5 1418.9,1695.1 1419.2,1696.7 C1419.6,1698.3 1419.9,1699.9 1420.2,1701.5 C1420.6,1703.1 1420.9,1704.7 1421.3,1706.2 C1421.6,1707.8 1422.0,1709.4 1422.4,1710.9 C1422.7,1712.5 1423.1,1714.1 1423.5,1715.6 C1423.9,1717.2 1424.3,1718.7 1424.8,1720.2 C1425.2,1721.8 1425.7,1723.3 1426.1,1724.8 C1426.6,1726.3 1427.1,1727.8 1427.6,1729.3 C1428.2,1730.8 1428.7,1732.3 1429.3,1733.8 C1429.9,1735.3 1430.5,1736.8 1431.2,1738.2 C1431.8,1739.7 1432.5,1741.2 1433.2,1742.6 C1434.0,1744.0 1434.7,1745.5 1435.5,1746.9 C1436.3,1748.3 1437.2,1749.7 1438.1,1751.1 C1438.9,1752.5 1439.9,1753.9 1440.9,1755.3 C1441.8,1756.7 1442.8,1758.1 1443.9,1759.4 C1444.9,1760.8 1446.0,1762.2 1447.1,1763.5 C1448.1,1764.9 1449.2,1766.2 1450.4,1767.6 C1451.5,1768.9 1452.6,1770.3 1453.7,1771.6 C1454.8,1773.0 1455.9,1774.3 1457.0,1775.7 C1458.1,1777.0 1459.2,1778.4 1460.3,1779.8 C1461.4,1781.1 1462.4,1782.5 1463.5,1783.9 C1464.5,1785.3 1465.5,1786.6 1466.4,1788.0 C1467.4,1789.4 1468.3,1790.9 1469.2,1792.3 C1470.0,1793.7 1470.8,1795.1 1471.6,1796.6 C1472.3,1798.0 1473.0,1799.5 1473.7,1801.0 C1474.3,1802.5 1474.9,1804.0 1475.5,1805.5 C1476.0,1807.0 1476.5,1808.5 1477.0,1810.1 C1477.4,1811.6 1477.9,1813.2 1478.2,1814.7 C1478.6,1816.3 1479.0,1817.9 1479.3,1819.5 C1479.6,1821.1 1479.9,1822.7 1480.2,1824.3 C1480.5,1825.9 1480.8,1827.5 1481.0,1829.2 C1481.2,1830.8 1481.5,1832.5 1481.7,1834.1 C1481.9,1835.8 1482.1,1837.5 1482.3,1839.2 C1482.5,1840.8 1482.7,1842.5 1482.9,1844.2 C1483.1,1845.9 1483.2,1847.7 1483.4,1849.4 C1483.7,1851.1 1483.9,1852.8 1484.1,1854.5 C1484.4,1856.3 1484.6,1858.0 1484.9,1859.6 C1485.3,1861.3 1485.6,1863.0 1486.0,1864.7 C1486.4,1866.3 1486.9,1867.9 1487.4,1869.5 C1488.0,1871.1 1488.6,1872.6 1489.2,1874.1 C1489.9,1875.6 1490.7,1877.1 1491.6,1878.5 C1492.4,1879.9 1493.4,1881.2 1494.5,1882.5 C1495.5,1883.8 1496.7,1885.0 1497.9,1886.1 C1499.1,1887.3 1500.4,1888.4 1501.8,1889.3 C1503.2,1890.3 1504.6,1891.3 1506.1,1891.9 C1507.6,1892.6 1509.2,1893.2 1510.7,1893.3 C1512.3,1893.4 1513.9,1893.1 1515.4,1892.5 C1516.9,1892.0 1518.5,1890.8 1520.0,1890.2 C1521.4,1889.5 1522.9,1888.8 1524.3,1888.7 C1525.6,1888.6 1526.9,1888.9 1528.1,1889.5 C1529.3,1890.2 1530.4,1891.3 1531.4,1892.6 C1532.5,1893.8 1533.5,1895.3 1534.5,1896.9 C1535.5,1898.4 1536.4,1900.1 1537.4,1901.6 C1538.4,1903.2 1539.3,1904.7 1540.3,1906.1 C1541.3,1907.6 1542.3,1908.9 1543.4,1910.2 C1544.5,1911.4 1545.6,1912.6 1546.8,1913.6 C1548.0,1914.7 1549.2,1915.6 1550.5,1916.5 C1551.9,1917.3 1553.3,1918.1 1554.7,1918.8 C1556.1,1919.5 1557.6,1920.2 1559.1,1920.8 C1560.6,1921.4 1562.2,1921.9 1563.8,1922.4 C1565.3,1923.0 1566.9,1923.4 1568.5,1923.9 C1570.2,1924.4 1571.8,1924.8 1573.4,1925.3 C1575.1,1925.7 1576.7,1926.2 1578.3,1926.6 C1580.0,1927.1 1581.6,1927.6 1583.2,1928.1 C1584.8,1928.7 1586.4,1929.2 1588.0,1929.8 C1589.6,1930.3 1591.2,1930.9 1592.7,1931.5 C1594.3,1932.1 1595.9,1932.7 1597.4,1933.3 C1599.0,1933.9 1600.5,1934.5 1602.1,1935.1 C1603.7,1935.7 1605.2,1936.3 1606.8,1936.9 C1608.3,1937.5 1609.9,1938.2 1611.4,1938.8 C1613.0,1939.4 1614.5,1940.0 1616.1,1940.5 C1617.6,1941.1 1619.2,1941.7 1620.7,1942.3 C1622.3,1942.8 1623.9,1943.4 1625.4,1943.9 C1627.0,1944.4 1628.6,1944.9 1630.2,1945.4 C1631.8,1945.8 1633.4,1946.3 1635.0,1946.7 C1636.6,1947.1 1638.2,1947.5 1639.8,1947.8 C1641.4,1948.2 1643.1,1948.5 1644.7,1948.7 C1646.4,1949.0 1648.1,1949.2 1649.7,1949.4 C1651.4,1949.6 1653.1,1949.7 1654.8,1949.8 C1656.5,1949.9 1659.2,1949.9 1660.0,1949.9" fill="none" stroke="#0072b2" stroke-width="7" stroke-linejoin="round" stroke-linecap="butt"/>
<path d="M980.2,1949.9 C980.9,1949.5 983.1,1948.2 984.5,1947.4 C985.9,1946.6 987.4,1945.8 988.8,1945.0 C990.3,1944.2 991.8,1943.4 993.2,1942.6 C994.7,1941.9 996.2,1941.1 997.6,1940.3 C999.1,1939.6 1000.6,1938.8 1002.1,1938.0 C1003.6,1937.3 1005.1,1936.5 1006.6,1935.8 C1008.1,1935.0 1009.5,1934.2 1011.0,1933.5 C1012.5,1932.7 1014.0,1932.0 1015.5,1931.2 C1017.0,1930.4 1018.5,1929.7 1020.0,1928.9 C1021.5,1928.1 1023.0,1927.4 1024.4,1926.6 C1025.9,1925.8 1027.4,1925.0 1028.9,1924.2 C1030.3,1923.4 1031.8,1922.6 1033.2,1921.8 C1034.7,1920.9 1036.1,1920.1 1037.6,1919.2 C1039.0,1918.4 1040.4,1917.5 1041.9,1916.7 C1043.3,1915.8 1044.7,1914.9 1046.1,1914.0 C1047.5,1913.1 1048.8,1912.1 1050.2,1911.2 C1051.6,1910.3 1052.9,1909.3 1054.3,1908.3 C1055.6,1907.3 1056.9,1906.3 1058.2,1905.3 C1059.5,1904.2 1060.8,1903.2 1062.1,1902.1 C1063.3,1901.0 1064.6,1899.9 1065.8,1898.8 C1067.0,1897.7 1068.2,1896.5 1069.4,1895.4 C1070.6,1894.2 1071.8,1893.0 1072.9,1891.8 C1074.1,1890.6 1075.2,1889.4 1076.3,1888.2 C1077.4,1886.9 1078.5,1885.7 1079.6,1884.4 C1080.7,1883.1 1081.7,1881.8 1082.7,1880.5 C1083.8,1879.2 1084.8,1877.9 1085.8,1876.5 C1086.7,1875.2 1087.7,1873.8 1088.6,1872.4 C1089.6,1871.0 1090.5,1869.6 1091.4,1868.2 C1092.3,1866.8 1093.2,1865.4 1094.0,1864.0 C1094.9,1862.5 1095.7,1861.1 1096.5,1859.6 C1097.3,1858.2 1098.1,1856.7 1098.8,1855.2 C1099.6,1853.7 1100.3,1852.2 1101.0,1850.7 C1101.7,1849.2 1102.4,1847.7 1103.0,1846.1 C1103.7,1844.6 1104.3,1843.1 1104.9,1841.5 C1105.5,1840.0 1106.1,1838.4 1106.6,1836.8 C1107.2,1835.3 1107.8,1833.7 1108.3,1832.1 C1108.8,1830.5 1109.3,1828.9 1109.8,1827.3 C1110.3,1825.7 1110.8,1824.1 1111.2,1822.5 C1111.7,1820.9 1112.1,1819.3 1112.5,1817.7 C1113.0,1816.0 1113.4,1814.4 1113.8,1812.8 C1114.2,1811.1 1114.6,1809.5 1115.0,1807.9 C1115.3,1806.2 1115.7,1804.6 1116.1,1803.0 C1116.4,1801.3 1116.8,1799.7 1117.1,1798.0 C1117.5,1796.4 1117.8,1794.7 1118.1,1793.1 C1118.4,1791.4 1118.8,1789.8 1119.1,1788.1 C1119.4,1786.5 1119.7,1784.8 1120.0,1783.2 C1120.3,1781.5 1120.6,1779.9 1120.9,1778.2 C1121.2,1776.6 1121.5,1774.9 1121.8,1773.3 C1122.1,1771.6 1122.4,1770.0 1122.7,1768.3 C1123.0,1766.7 1123.3,1765.0 1123.5,1763.4 C1123.8,1761.7 1124.1,1760.1 1124.3,1758.4 C1124.6,1756.8 1124.9,1755.1 1125.1,1753.5 C1125.4,1751.8 1125.7,1750.2 1125.9,1748.5 C1126.2,1746.9 1126.4,1745.2 1126.7,1743.6 C1126.9,1741.9 1127.1,1740.3 1127.4,1738.6 C1127.6,1737.0 1127.9,1735.3 1128.1,1733.7 C1128.3,1732.0 1128.6,1730.4 1128.8,1728.7 C1129.0,1727.1 1129.2,1725.4 1129.4,1723.7 C1129.7,1722.1 1129.9,1720.4 1130.1,1718.8 C1130.3,1717.1 1130.5,1715.5 1130.7,1713.8 C1131.0,1712.2 1131.2,1710.5 1131.4,1708.9 C1131.6,1707.2 1131.8,1705.6 1132.0,1703.9 C1132.2,1702.3 1132.4,1700.6 1132.6,1699.0 C1132.8,1697.3 1133.0,1695.7 1133.2,1694.0 C1133.3,1692.4 1133.5,1690.7 1133.7,1689.1 C1133.9,1687.4 1134.1,1685.8 1134.3,1684.1 C1134.5,1682.5 1134.7,1680.8 1134.8,1679.2 C1135.0,1677.5 1135.2,1675.9 1135.4,1674.2 C1135.6,1672.6 1135.7,1670.9 1135.9,1669.2 C1136.1,1667.6 1136.3,1665.9 1136.4,1664.3 C1136.6,1662.6 1136.8,1661.0 1137.0,1659.3 C1137.1,1657.7 1137.3,1656.0 1137.5,1654.4 C1137.6,1652.7 1137.8,1651.1 1138.0,1649.4 C1138.2,1647.8 1138.3,1646.1 1138.5,1644.5 C1138.7,1642.8 1138.8,1641.2 1139.0,1639.5 C1139.2,1637.9 1139.3,1636.2 1139.5,1634.6 C1139.7,1632.9 1139.8,1631.3 1140.0,1629.6 C1140.2,1627.9 1140.3,1626.3 1140.5,1624.6 C1140.7,1623.0 1140.8,1621.3 1141.0,1619.7 C1141.2,1618.0 1141.3,1616.4 1141.5,1614.7 C1141.7,1613.1 1141.9,1611.4 1142.0,1609.8 C1142.2,1608.1 1142.4,1606.5 1142.5,1604.8 C1142.7,1603.2 1142.9,1601.5 1143.1,1599.9 C1143.2,1598.2 1143.4,1596.6 1143.6,1594.9 C1143.7,1593.2 1143.9,1591.6 1144.1,1589.9 C1144.3,1588.3 1144.5,1586.6 1144.6,1585.0 C1144.8,1583.3 1145.0,1581.7 1145.2,1580.0 C1145.4,1578.4 1145.5,1576.7 1145.7,1575.1 C1145.9,1573.4 1146.1,1571.8 1146.3,1570.1 C1146.5,1568.5 1146.7,1566.8 1146.9,1565.2 C1147.1,1563.5 1147.3,1561.8 1147.4,1560.2 C1147.6,1558.5 1147.8,1556.9 1148.0,1555.2 C1148.2,1553.6 1148.4,1551.9 1148.7,1550.3 C1148.9,1548.6 1149.1,1547.0 1149.3,1545.3 C1149.5,1543.7 1149.7,1542.0 1149.9,1540.4 C1150.1,1538.7 1150.4,1537.1 1150.6,1535.4 C1150.8,1533.8 1151.0,1532.1 1151.2,1530.4 C1151.5,1528.8 1151.7,1527.1 1151.9,1525.5 C1152.2,1523.8 1152.4,1522.2 1152.6,1520.5 C1152.9,1518.9 1153.1,1517.2 1153.4,1515.6 C1153.6,1513.9 1153.9,1512.3 1154.1,1510.6 C1154.4,1509.0 1154.6,1507.3 1154.9,1505.7 C1155.1,1504.0 1155.4,1502.3 1155.6,1500.7 C1155.9,1499.0 1156.1,1497.4 1156.4,1495.7 C1156.7,1494.1 1156.9,1492.4 1157.2,1490.8 C1157.5,1489.1 1157.7,1487.5 1158.0,1485.8 C1158.3,1484.2 1158.5,1482.5 1158.8,1480.9 C1159.1,1479.2 1159.4,1477.6 1159.6,1475.9 C1159.9,1474.3 1160.2,1472.6 1160.5,1470.9 C1160.8,1469.3 1161.0,1467.6 1161.3,1466.0 C1161.6,1464.3 1161.9,1462.7 1162.2,1461.0 C1162.5,1459.4 1162.7,1457.7 1163.0,1456.1 C1163.3,1454.4 1163.6,1452.8 1163.9,1451.1 C1164.2,1449.5 1164.5,1447.8 1164.8,1446.2 C1165.1,1444.5 1165.3,1442.8 1165.6,1441.2 C1165.9,1439.5 1166.2,1437.9 1166.5,1436.2 C1166.8,1434.6 1167.1,1432.9 1167.4,1431.3 C1167.7,1429.6 1168.0,1428.0 1168.3,1426.3 C1168.6,1424.7 1168.9,1423.0 1169.2,1421.4 C1169.5,1419.7 1169.8,1418.1 1170.1,1416.4 C1170.4,1414.8 1170.6,1413.1 1170.9,1411.5 C1171.2,1409.8 1171.5,1408.1 1171.8,1406.5 C1172.1,1404.8 1172.4,1403.2 1172.7,1401.5 C1173.0,1399.9 1173.3,1398.2 1173.6,1396.6 C1173.9,1394.9 1174.2,1393.3 1174.5,1391.6 C1174.8,1390.0 1175.1,1388.3 1175.4,1386.7 C1175.6,1385.0 1175.9,1383.4 1176.2,1381.7 C1176.5,1380.1 1176.8,1378.4 1177.1,1376.8 C1177.4,1375.1 1177.7,1373.4 1178.0,1371.8 C1178.2,1370.1 1178.5,1368.5 1178.8,1366.8 C1179.1,1365.2 1179.4,1363.5 1179.7,1361.9 C1179.9,1360.2 1180.2,1358.6 1180.5,1356.9 C1180.8,1355.3 1181.0,1353.6 1181.3,1352.0 C1181.6,1350.3 1181.9,1348.7 1182.1,1347.0 C1182.4,1345.4 1182.7,1343.7 1183.0,1342.1 C1183.2,1340.4 1183.5,1338.8 1183.8,1337.1 C1184.0,1335.5 1184.3,1333.8 1184.5,1332.1 C1184.8,1330.5 1185.1,1328.8 1185.3,1327.2 C1185.6,1325.5 1185.8,1323.9 1186.1,1322.2 C1186.3,1320.6 1186.6,1318.9 1186.8,1317.3 C1187.1,1315.6 1187.3,1314.0 1187.6,1312.3 C1187.8,1310.7 1188.0,1309.0 1188.3,1307.4 C1188.5,1305.7 1188.8,1304.1 1189.0,1302.4 C1189.2,1300.8 1189.5,1299.1 1189.7,1297.5 C1189.9,1295.8 1190.1,1294.2 1190.4,1292.5 C1190.6,1290.9 1190.8,1289.2 1191.0,1287.6 C1191.3,1285.9 1191.5,1284.3 1191.7,1282.6 C1191.9,1281.0 1192.1,1279.3 1192.4,1277.6 C1192.6,1276.0 1192.8,1274.3 1193.0,1272.7 C1193.2,1271.0 1193.4,1269.4 1193.6,1267.7 C1193.8,1266.1 1194.0,1264.4 1194.2,1262.8 C1194.4,1261.1 1194.6,1259.5 1194.8,1257.8 C1195.1,1256.2 1195.2,1254.5 1195.4,1252.9 C1195.6,1251.2 1195.8,1249.6 1196.0,1247.9 C1196.2,1246.3 1196.4,1244.6 1196.6,1243.0 C1196.8,1241.3 1197.0,1239.7 1197.2,1238.0 C1197.4,1236.3 1197.5,1234.7 1197.7,1233.0 C1197.9,1231.4 1198.1,1229.7 1198.3,1228.1 C1198.5,1226.4 1198.6,1224.8 1198.8,1223.1 C1199.0,1221.5 1199.2,1219.8 1199.3,1218.2 C1199.5,1216.5 1199.7,1214.9 1199.9,1213.2 C1200.0,1211.5 1200.2,1209.9 1200.4,1208.2 C1200.5,1206.6 1200.7,1204.9 1200.9,1203.3 C1201.0,1201.6 1201.2,1200.0 1201.4,1198.3 C1201.5,1196.7 1201.7,1195.0 1201.9,1193.3 C1202.0,1191.7 1202.2,1190.0 1202.3,1188.4 C1202.5,1186.7 1202.7,1185.1 1202.8,1183.4 C1203.0,1181.8 1203.1,1180.1 1203.3,1178.5 C1203.4,1176.8 1203.6,1175.1 1203.7,1173.5 C1203.9,1171.8 1204.0,1170.2 1204.2,1168.5 C1204.3,1166.9 1204.5,1165.2 1204.6,1163.5 C1204.8,1161.9 1204.9,1160.2 1205.0,1158.6 C1205.2,1156.9 1205.3,1155.3 1205.5,1153.6 C1205.6,1151.9 1205.8,1150.3 1205.9,1148.6 C1206.0,1147.0 1206.2,1145.3 1206.3,1143.7 C1206.4,1142.0 1206.6,1140.3 1206.7,1138.7 C1206.9,1137.0 1207.0,1135.4 1207.1,1133.7 C1207.3,1132.0 1207.4,1130.4 1207.5,1128.7 C1207.6,1127.1 1207.8,1125.4 1207.9,1123.7 C1208.0,1122.1 1208.2,1120.4 1208.3,1118.8 C1208.4,1117.1 1208.5,1115.4 1208.7,1113.8 C1208.8,1112.1 1208.9,1110.5 1209.0,1108.8 C1209.2,1107.1 1209.3,1105.5 1209.4,1103.8 C1209.5,1102.1 1209.7,1100.5 1209.8,1098.8 C1209.9,1097.2 1210.0,1095.5 1210.1,1093.8 C1210.3,1092.2 1210.4,1090.5 1210.5,1088.8 C1210.6,1087.2 1210.7,1085.5 1210.9,1083.8 C1211.0,1082.2 1211.1,1080.5 1211.2,1078.9 C1211.3,1077.2 1211.4,1075.5 1211.5,1073.9 C1211.7,1072.2 1211.8,1070.5 1211.9,1068.9 C1212.0,1067.2 1212.1,1065.5 1212.2,1063.9 C1212.3,1062.2 1212.4,1060.5 1212.6,1058.9 C1212.7,1057.2 1212.8,1055.5 1212.9,1053.9 C1213.0,1052.2 1213.1,1050.5 1213.2,1048.8 C1213.3,1047.2 1213.4,1045.5 1213.5,1043.8 C1213.7,1042.2 1213.8,1040.5 1213.9,1038.8 C1214.0,1037.2 1214.1,1035.5 1214.2,1033.8 C1214.3,1032.1 1214.4,1030.5 1214.5,1028.8 C1214.6,1027.1 1214.7,1025.5 1214.8,1023.8 C1214.9,1022.1 1215.0,1020.4 1215.1,1018.8 C1215.3,1017.1 1215.4,1015.4 1215.5,1013.7 C1215.6,1012.1 1215.7,1010.4 1215.8,1008.7 C1215.9,1007.0 1216.0,1005.4 1216.1,1003.7 C1216.2,1002.0 1216.3,1000.3 1216.4,998.7 C1216.5,997.0 1216.6,995.3 1216.7,993.6 C1216.8,992.0 1216.9,990.3 1217.0,988.6 C1217.1,986.9 1217.2,985.3 1217.3,983.6 C1217.4,981.9 1217.5,980.2 1217.6,978.5 C1217.7,976.9 1217.8,975.2 1218.0,973.5 C1218.1,971.8 1218.2,970.1 1218.3,968.5 C1218.4,966.8 1218.5,965.1 1218.6,963.4 C1218.7,961.7 1218.8,960.0 1218.9,958.4 C1219.0,956.7 1219.1,955.0 1219.2,953.3 C1219.3,951.6 1219.4,949.9 1219.5,948.3 C1219.6,946.6 1219.7,944.9 1219.8,943.2 C1219.9,941.5 1220.0,939.9 1220.2,938.2 C1220.3,936.5 1220.4,934.8 1220.5,933.1 C1220.6,931.4 1220.7,929.8 1220.8,928.1 C1220.9,926.4 1221.0,924.7 1221.1,923.0 C1221.2,921.3 1221.4,919.7 1221.5,918.0 C1221.6,916.3 1221.7,914.6 1221.8,912.9 C1221.9,911.2 1222.0,909.6 1222.2,907.9 C1222.3,906.2 1222.4,904.5 1222.5,902.8 C1222.6,901.2 1222.7,899.5 1222.9,897.8 C1223.0,896.1 1223.1,894.4 1223.2,892.8 C1223.3,891.1 1223.5,889.4 1223.6,887.7 C1223.7,886.0 1223.8,884.4 1224.0,882.7 C1224.1,881.0 1224.2,879.3 1224.3,877.7 C1224.5,876.0 1224.6,874.3 1224.7,872.6 C1224.8,871.0 1225.0,869.3 1225.1,867.6 C1225.2,865.9 1225.4,864.3 1225.5,862.6 C1225.6,860.9 1225.8,859.3 1225.9,857.6 C1226.1,855.9 1226.2,854.2 1226.3,852.6 C1226.5,850.9 1226.6,849.2 1226.8,847.6 C1226.9,845.9 1227.1,844.2 1227.2,842.6 C1227.4,840.9 1227.5,839.3 1227.7,837.6 C1227.8,835.9 1228.0,834.3 1228.1,832.6 C1228.3,830.9 1228.4,829.3 1228.6,827.6 C1228.7,826.0 1228.9,824.3 1229.1,822.7 C1229.2,821.0 1229.4,819.3 1229.5,817.7 C1229.7,816.0 1229.9,814.4 1230.0,812.7 C1230.2,811.1 1230.4,809.4 1230.6,807.8 C1230.7,806.1 1230.9,804.5 1231.1,802.8 C1231.3,801.2 1231.4,799.5 1231.6,797.9 C1231.8,796.3 1232.0,794.6 1232.2,793.0 C1232.4,791.3 1232.5,789.7 1232.7,788.1 C1232.9,786.4 1233.1,784.8 1233.3,783.2 C1233.5,781.5 1233.7,779.9 1233.9,778.3 C1234.1,776.6 1234.3,775.0 1234.5,773.4 C1234.7,771.7 1234.9,770.1 1235.1,768.5 C1235.3,766.9 1235.5,765.3 1235.8,763.6 C1236.0,762.0 1236.2,760.4 1236.4,758.8 C1236.6,757.2 1236.9,755.5 1237.1,753.9 C1237.3,752.3 1237.5,750.7 1237.8,749.1 C1238.0,747.5 1238.2,745.9 1238.5,744.3 C1238.7,742.7 1239.0,741.1 1239.3,739.5 C1239.5,737.9 1239.8,736.3 1240.1,734.7 C1240.4,733.1 1240.7,731.5 1241.0,729.9 C1241.3,728.3 1241.6,726.7 1241.9,725.1 C1242.2,723.5 1242.5,721.9 1242.9,720.4 C1243.2,718.8 1243.6,717.2 1244.0,715.6 C1244.3,714.0 1244.7,712.4 1245.1,710.9 C1245.5,709.3 1245.9,707.7 1246.3,706.1 C1246.7,704.5 1247.2,702.9 1247.6,701.3 C1248.0,699.7 1248.4,698.1 1248.9,696.5 C1249.3,694.9 1249.8,693.3 1250.2,691.7 C1250.7,690.0 1251.1,688.4 1251.6,686.8 C1252.0,685.1 1252.5,683.5 1252.9,681.8 C1253.4,680.1 1253.9,678.5 1254.3,676.8 C1254.8,675.1 1255.2,673.4 1255.7,671.6 C1256.2,669.9 1256.6,668.2 1257.1,666.4 C1257.6,664.7 1258.0,662.9 1258.6,661.1 C1259.1,659.3 1259.6,657.5 1260.2,655.7 C1260.8,653.9 1261.4,652.0 1262.1,650.2 C1262.8,648.5 1263.5,646.7 1264.3,645.0 C1265.0,643.4 1265.8,641.8 1266.7,640.4 C1267.5,639.0 1268.5,637.7 1269.4,636.6 C1270.4,635.6 1271.4,634.7 1272.4,634.1 C1273.5,633.5 1274.6,633.1 1275.8,633.0 C1276.9,632.9 1278.2,633.1 1279.4,633.6 C1280.7,634.0 1282.0,634.7 1283.3,635.5 C1284.7,636.3 1286.0,637.4 1287.4,638.5 C1288.7,639.6 1290.1,640.9 1291.4,642.1 C1292.7,643.4 1294.1,644.7 1295.4,646.1 C1296.6,647.4 1297.9,648.8 1299.1,650.2 C1300.3,651.6 1301.5,653.0 1302.6,654.4 C1303.7,655.9 1304.7,657.3 1305.7,658.8 C1306.6,660.2 1307.5,661.7 1308.3,663.2 C1309.1,664.7 1309.8,666.2 1310.5,667.7 C1311.2,669.2 1311.8,670.8 1312.4,672.3 C1313.0,673.8 1313.5,675.4 1314.0,676.9 C1314.5,678.5 1314.9,680.1 1315.4,681.6 C1315.8,683.2 1316.2,684.8 1316.7,686.4 C1317.1,688.0 1317.5,689.6 1317.9,691.2 C1318.3,692.7 1318.7,694.4 1319.0,696.0 C1319.4,697.6 1319.8,699.2 1320.2,700.8 C1320.5,702.4 1320.9,704.0 1321.3,705.7 C1321.6,707.3 1322.0,708.9 1322.3,710.5 C1322.6,712.2 1323.0,713.8 1323.3,715.5 C1323.6,717.1 1324.0,718.7 1324.3,720.4 C1324.6,722.0 1324.9,723.7 1325.2,725.3 C1325.5,727.0 1325.8,728.6 1326.1,730.3 C1326.4,731.9 1326.7,733.6 1327.0,735.3 C1327.3,736.9 1327.5,738.6 1327.8,740.2 C1328.1,741.9 1328.4,743.6 1328.6,745.2 C1328.9,746.9 1329.1,748.6 1329.4,750.2 C1329.7,751.9 1329.9,753.6 1330.2,755.2 C1330.4,756.9 1330.6,758.6 1330.9,760.2 C1331.1,761.9 1331.3,763.5 1331.6,765.2 C1331.8,766.9 1332.0,768.5 1332.3,770.2 C1332.5,771.9 1332.7,773.5 1332.9,775.2 C1333.1,776.9 1333.3,778.5 1333.6,780.2 C1333.8,781.8 1334.0,783.5 1334.2,785.2 C1334.4,786.8 1334.6,788.5 1334.8,790.1 C1335.0,791.8 1335.2,793.5 1335.4,795.1 C1335.5,796.8 1335.7,798.4 1335.9,800.1 C1336.1,801.7 1336.3,803.4 1336.5,805.1 C1336.7,806.7 1336.8,808.4 1337.0,810.0 C1337.2,811.7 1337.4,813.4 1337.6,815.0 C1337.7,816.7 1337.9,818.3 1338.1,820.0 C1338.3,821.6 1338.4,823.3 1338.6,825.0 C1338.8,826.6 1338.9,828.3 1339.1,829.9 C1339.3,831.6 1339.5,833.2 1339.6,834.9 C1339.8,836.6 1340.0,838.2 1340.1,839.9 C1340.3,841.5 1340.5,843.2 1340.6,844.8 C1340.8,846.5 1341.0,848.1 1341.1,849.8 C1341.3,851.5 1341.5,853.1 1341.6,854.8 C1341.8,856.4 1342.0,858.1 1342.1,859.7 C1342.3,861.4 1342.5,863.1 1342.6,864.7 C1342.8,866.4 1343.0,868.0 1343.1,869.7 C1343.3,871.3 1343.5,873.0 1343.6,874.7 C1343.8,876.3 1344.0,878.0 1344.2,879.6 C1344.3,881.3 1344.5,883.0 1344.7,884.6 C1344.8,886.3 1345.0,887.9 1345.2,889.6 C1345.4,891.2 1345.5,892.9 1345.7,894.6 C1345.9,896.2 1346.0,897.9 1346.2,899.5 C1346.4,901.2 1346.6,902.9 1346.7,904.5 C1346.9,906.2 1347.1,907.8 1347.3,909.5 C1347.4,911.1 1347.6,912.8 1347.8,914.5 C1348.0,916.1 1348.1,917.8 1348.3,919.4 C1348.5,921.1 1348.7,922.8 1348.8,924.4 C1349.0,926.1 1349.2,927.7 1349.4,929.4 C1349.5,931.1 1349.7,932.7 1349.9,934.4 C1350.1,936.0 1350.2,937.7 1350.4,939.3 C1350.6,941.0 1350.8,942.7 1351.0,944.3 C1351.1,946.0 1351.3,947.6 1351.5,949.3 C1351.7,951.0 1351.9,952.6 1352.0,954.3 C1352.2,955.9 1352.4,957.6 1352.6,959.3 C1352.7,960.9 1352.9,962.6 1353.1,964.2 C1353.3,965.9 1353.5,967.6 1353.6,969.2 C1353.8,970.9 1354.0,972.5 1354.2,974.2 C1354.4,975.9 1354.6,977.5 1354.7,979.2 C1354.9,980.8 1355.1,982.5 1355.3,984.2 C1355.5,985.8 1355.6,987.5 1355.8,989.1 C1356.0,990.8 1356.2,992.5 1356.4,994.1 C1356.6,995.8 1356.7,997.4 1356.9,999.1 C1357.1,1000.8 1357.3,1002.4 1357.5,1004.1 C1357.7,1005.8 1357.8,1007.4 1358.0,1009.1 C1358.2,1010.7 1358.4,1012.4 1358.6,1014.1 C1358.8,1015.7 1359.0,1017.4 1359.1,1019.0 C1359.3,1020.7 1359.5,1022.4 1359.7,1024.0 C1359.9,1025.7 1360.1,1027.3 1360.3,1029.0 C1360.4,1030.7 1360.6,1032.3 1360.8,1034.0 C1361.0,1035.6 1361.2,1037.3 1361.4,1039.0 C1361.6,1040.6 1361.7,1042.3 1361.9,1043.9 C1362.1,1045.6 1362.3,1047.3 1362.5,1048.9 C1362.7,1050.6 1362.9,1052.3 1363.1,1053.9 C1363.3,1055.6 1363.4,1057.2 1363.6,1058.9 C1363.8,1060.6 1364.0,1062.2 1364.2,1063.9 C1364.4,1065.5 1364.6,1067.2 1364.8,1068.9 C1364.9,1070.5 1365.1,1072.2 1365.3,1073.8 C1365.5,1075.5 1365.7,1077.2 1365.9,1078.8 C1366.1,1080.5 1366.3,1082.1 1366.5,1083.8 C1366.7,1085.5 1366.8,1087.1 1367.0,1088.8 C1367.2,1090.5 1367.4,1092.1 1367.6,1093.8 C1367.8,1095.4 1368.0,1097.1 1368.2,1098.8 C1368.4,1100.4 1368.6,1102.1 1368.8,1103.7 C1369.0,1105.4 1369.1,1107.1 1369.3,1108.7 C1369.5,1110.4 1369.7,1112.0 1369.9,1113.7 C1370.1,1115.4 1370.3,1117.0 1370.5,1118.7 C1370.7,1120.3 1370.9,1122.0 1371.1,1123.7 C1371.3,1125.3 1371.4,1127.0 1371.6,1128.6 C1371.8,1130.3 1372.0,1132.0 1372.2,1133.6 C1372.4,1135.3 1372.6,1136.9 1372.8,1138.6 C1373.0,1140.3 1373.2,1141.9 1373.4,1143.6 C1373.6,1145.2 1373.8,1146.9 1374.0,1148.6 C1374.2,1150.2 1374.4,1151.9 1374.5,1153.5 C1374.7,1155.2 1374.9,1156.9 1375.1,1158.5 C1375.3,1160.2 1375.5,1161.8 1375.7,1163.5 C1375.9,1165.2 1376.1,1166.8 1376.3,1168.5 C1376.5,1170.1 1376.7,1171.8 1376.9,1173.5 C1377.1,1175.1 1377.3,1176.8 1377.5,1178.4 C1377.7,1180.1 1377.9,1181.8 1378.0,1183.4 C1378.2,1185.1 1378.4,1186.7 1378.6,1188.4 C1378.8,1190.1 1379.0,1191.7 1379.2,1193.4 C1379.4,1195.0 1379.6,1196.7 1379.8,1198.4 C1380.0,1200.0 1380.2,1201.7 1380.4,1203.3 C1380.6,1205.0 1380.8,1206.6 1381.0,1208.3 C1381.2,1210.0 1381.4,1211.6 1381.6,1213.3 C1381.8,1214.9 1382.0,1216.6 1382.2,1218.3 C1382.4,1219.9 1382.6,1221.6 1382.8,1223.2 C1383.0,1224.9 1383.1,1226.6 1383.3,1228.2 C1383.5,1229.9 1383.7,1231.5 1383.9,1233.2 C1384.1,1234.8 1384.3,1236.5 1384.5,1238.2 C1384.7,1239.8 1384.9,1241.5 1385.1,1243.1 C1385.3,1244.8 1385.5,1246.4 1385.7,1248.1 C1385.9,1249.8 1386.1,1251.4 1386.3,1253.1 C1386.5,1254.7 1386.7,1256.4 1386.9,1258.1 C1387.1,1259.7 1387.3,1261.4 1387.5,1263.0 C1387.7,1264.7 1387.9,1266.3 1388.1,1268.0 C1388.3,1269.7 1388.5,1271.3 1388.7,1273.0 C1388.9,1274.6 1389.1,1276.3 1389.3,1277.9 C1389.5,1279.6 1389.7,1281.3 1389.9,1282.9 C1390.1,1284.6 1390.3,1286.2 1390.5,1287.9 C1390.7,1289.5 1390.9,1291.2 1391.1,1292.9 C1391.4,1294.5 1391.6,1296.2 1391.8,1297.8 C1392.0,1299.5 1392.2,1301.1 1392.4,1302.8 C1392.6,1304.4 1392.8,1306.1 1393.0,1307.8 C1393.2,1309.4 1393.4,1311.1 1393.6,1312.7 C1393.8,1314.4 1394.0,1316.0 1394.2,1317.7 C1394.4,1319.3 1394.6,1321.0 1394.8,1322.7 C1395.0,1324.3 1395.3,1326.0 1395.5,1327.6 C1395.7,1329.3 1395.9,1330.9 1396.1,1332.6 C1396.3,1334.3 1396.5,1335.9 1396.7,1337.6 C1396.9,1339.2 1397.1,1340.9 1397.3,1342.5 C1397.5,1344.2 1397.8,1345.8 1398.0,1347.5 C1398.2,1349.1 1398.4,1350.8 1398.6,1352.5 C1398.8,1354.1 1399.0,1355.8 1399.2,1357.4 C1399.5,1359.1 1399.7,1360.7 1399.9,1362.4 C1400.1,1364.0 1400.3,1365.7 1400.5,1367.3 C1400.7,1369.0 1400.9,1370.7 1401.2,1372.3 C1401.4,1374.0 1401.6,1375.6 1401.8,1377.3 C1402.0,1378.9 1402.2,1380.6 1402.5,1382.2 C1402.7,1383.9 1402.9,1385.5 1403.1,1387.2 C1403.3,1388.8 1403.5,1390.5 1403.8,1392.2 C1404.0,1393.8 1404.2,1395.5 1404.4,1397.1 C1404.6,1398.8 1404.9,1400.4 1405.1,1402.1 C1405.3,1403.7 1405.5,1405.4 1405.7,1407.0 C1406.0,1408.7 1406.2,1410.3 1406.4,1412.0 C1406.6,1413.6 1406.9,1415.3 1407.1,1417.0 C1407.3,1418.6 1407.5,1420.3 1407.8,1421.9 C1408.0,1423.6 1408.2,1425.2 1408.4,1426.9 C1408.7,1428.5 1408.9,1430.2 1409.1,1431.8 C1409.3,1433.5 1409.6,1435.1 1409.8,1436.8 C1410.0,1438.4 1410.3,1440.1 1410.5,1441.7 C1410.7,1443.4 1410.9,1445.0 1411.2,1446.7 C1411.4,1448.3 1411.6,1450.0 1411.9,1451.6 C1412.1,1453.3 1412.3,1455.0 1412.6,1456.6 C1412.8,1458.3 1413.0,1459.9 1413.3,1461.6 C1413.5,1463.2 1413.7,1464.9 1414.0,1466.5 C1414.2,1468.2 1414.4,1469.8 1414.7,1471.5 C1414.9,1473.1 1415.2,1474.8 1415.4,1476.4 C1415.6,1478.1 1415.9,1479.7 1416.1,1481.4 C1416.3,1483.0 1416.6,1484.7 1416.8,1486.3 C1417.1,1488.0 1417.3,1489.6 1417.6,1491.3 C1417.8,1492.9 1418.0,1494.6 1418.3,1496.2 C1418.5,1497.9 1418.8,1499.5 1419.0,1501.2 C1419.3,1502.8 1419.5,1504.5 1419.7,1506.1 C1420.0,1507.8 1420.2,1509.4 1420.5,1511.1 C1420.7,1512.7 1421.0,1514.4 1421.2,1516.0 C1421.5,1517.7 1421.7,1519.3 1422.0,1521.0 C1422.2,1522.6 1422.5,1524.3 1422.7,1525.9 C1423.0,1527.6 1423.2,1529.2 1423.5,1530.9 C1423.8,1532.5 1424.0,1534.2 1424.3,1535.8 C1424.5,1537.4 1424.8,1539.1 1425.0,1540.7 C1425.3,1542.4 1425.5,1544.0 1425.8,1545.7 C1426.1,1547.3 1426.3,1549.0 1426.6,1550.6 C1426.8,1552.3 1427.1,1553.9 1427.4,1555.6 C1427.6,1557.2 1427.9,1558.9 1428.2,1560.5 C1428.4,1562.2 1428.7,1563.8 1428.9,1565.5 C1429.2,1567.1 1429.5,1568.8 1429.7,1570.4 C1430.0,1572.1 1430.3,1573.7 1430.5,1575.3 C1430.8,1577.0 1431.1,1578.6 1431.3,1580.3 C1431.6,1581.9 1431.9,1583.6 1432.2,1585.2 C1432.4,1586.9 1432.7,1588.5 1433.0,1590.2 C1433.3,1591.8 1433.5,1593.5 1433.8,1595.1 C1434.1,1596.7 1434.4,1598.4 1434.6,1600.0 C1434.9,1601.7 1435.2,1603.3 1435.5,1605.0 C1435.7,1606.6 1436.0,1608.3 1436.3,1609.9 C1436.6,1611.6 1436.9,1613.2 1437.1,1614.9 C1437.4,1616.5 1437.7,1618.1 1438.0,1619.8 C1438.3,1621.4 1438.6,1623.1 1438.9,1624.7 C1439.1,1626.4 1439.4,1628.0 1439.7,1629.7 C1440.0,1631.3 1440.3,1632.9 1440.6,1634.6 C1440.9,1636.2 1441.2,1637.9 1441.5,1639.5 C1441.8,1641.2 1442.0,1642.8 1442.3,1644.5 C1442.6,1646.1 1442.9,1647.7 1443.2,1649.4 C1443.5,1651.0 1443.8,1652.7 1444.1,1654.3 C1444.4,1656.0 1444.7,1657.6 1445.0,1659.2 C1445.3,1660.9 1445.6,1662.5 1445.9,1664.2 C1446.2,1665.8 1446.5,1667.5 1446.8,1669.1 C1447.1,1670.8 1447.4,1672.4 1447.7,1674.0 C1448.0,1675.7 1448.4,1677.3 1448.7,1679.0 C1449.0,1680.6 1449.3,1682.3 1449.6,1683.9 C1449.9,1685.5 1450.2,1687.2 1450.5,1688.8 C1450.8,1690.5 1451.2,1692.1 1451.5,1693.7 C1451.8,1695.4 1452.1,1697.0 1452.4,1698.7 C1452.7,1700.3 1453.1,1702.0 1453.4,1703.6 C1453.7,1705.2 1454.0,1706.9 1454.3,1708.5 C1454.7,1710.2 1455.0,1711.8 1455.3,1713.4 C1455.6,1715.1 1456.0,1716.7 1456.3,1718.4 C1456.6,1720.0 1456.9,1721.6 1457.3,1723.3 C1457.6,1724.9 1457.9,1726.6 1458.2,1728.2 C1458.6,1729.8 1458.9,1731.5 1459.2,1733.1 C1459.6,1734.8 1459.9,1736.4 1460.3,1738.0 C1460.6,1739.7 1461.0,1741.3 1461.3,1743.0 C1461.7,1744.6 1462.0,1746.2 1462.4,1747.9 C1462.7,1749.5 1463.1,1751.1 1463.5,1752.7 C1463.9,1754.4 1464.2,1756.0 1464.6,1757.6 C1465.0,1759.2 1465.4,1760.9 1465.8,1762.5 C1466.2,1764.1 1466.7,1765.7 1467.1,1767.3 C1467.5,1768.9 1468.0,1770.5 1468.4,1772.1 C1468.9,1773.7 1469.3,1775.3 1469.8,1776.9 C1470.3,1778.5 1470.8,1780.1 1471.3,1781.7 C1471.8,1783.3 1472.3,1784.9 1472.8,1786.5 C1473.3,1788.1 1473.9,1789.6 1474.4,1791.2 C1475.0,1792.8 1475.6,1794.3 1476.2,1795.9 C1476.8,1797.4 1477.4,1799.0 1478.0,1800.5 C1478.6,1802.1 1479.3,1803.6 1479.9,1805.2 C1480.6,1806.7 1481.3,1808.2 1482.0,1809.8 C1482.7,1811.3 1483.4,1812.8 1484.1,1814.3 C1484.9,1815.8 1485.6,1817.3 1486.4,1818.8 C1487.2,1820.3 1488.0,1821.8 1488.8,1823.3 C1489.6,1824.8 1490.5,1826.2 1491.3,1827.7 C1492.2,1829.2 1493.1,1830.6 1494.0,1832.1 C1494.9,1833.5 1495.8,1835.0 1496.7,1836.4 C1497.6,1837.8 1498.5,1839.2 1499.5,1840.7 C1500.4,1842.1 1501.4,1843.5 1502.4,1844.9 C1503.3,1846.3 1504.3,1847.6 1505.3,1849.0 C1506.3,1850.4 1507.3,1851.8 1508.3,1853.1 C1509.3,1854.5 1510.4,1855.8 1511.4,1857.1 C1512.4,1858.5 1513.4,1859.8 1514.5,1861.1 C1515.5,1862.4 1516.6,1863.7 1517.6,1865.0 C1518.7,1866.3 1519.7,1867.6 1520.8,1868.9 C1521.9,1870.1 1522.9,1871.4 1524.0,1872.6 C1525.1,1873.9 1526.2,1875.1 1527.3,1876.3 C1528.4,1877.5 1529.5,1878.8 1530.6,1879.9 C1531.7,1881.1 1532.9,1882.3 1534.0,1883.5 C1535.1,1884.7 1536.3,1885.8 1537.4,1887.0 C1538.6,1888.1 1539.7,1889.2 1540.9,1890.3 C1542.1,1891.5 1543.3,1892.6 1544.5,1893.6 C1545.7,1894.7 1546.9,1895.8 1548.1,1896.9 C1549.3,1897.9 1550.6,1899.0 1551.8,1900.0 C1553.1,1901.0 1554.3,1902.0 1555.6,1903.0 C1556.9,1904.0 1558.2,1905.0 1559.5,1906.0 C1560.8,1906.9 1562.1,1907.9 1563.4,1908.8 C1564.8,1909.8 1566.1,1910.7 1567.5,1911.6 C1568.8,1912.5 1570.2,1913.4 1571.6,1914.2 C1573.0,1915.1 1574.4,1916.0 1575.8,1916.8 C1577.3,1917.6 1578.7,1918.4 1580.2,1919.2 C1581.6,1920.0 1583.1,1920.8 1584.6,1921.6 C1586.0,1922.3 1587.5,1923.0 1589.0,1923.8 C1590.5,1924.5 1592.1,1925.2 1593.6,1925.8 C1595.1,1926.5 1596.7,1927.1 1598.2,1927.7 C1599.8,1928.4 1601.3,1928.9 1602.9,1929.5 C1604.5,1930.1 1606.0,1930.6 1607.6,1931.1 C1609.2,1931.6 1610.8,1932.1 1612.4,1932.6 C1614.0,1933.0 1615.6,1933.5 1617.2,1933.8 C1618.9,1934.2 1620.5,1934.6 1622.1,1934.9 C1623.8,1935.3 1625.4,1935.6 1627.0,1935.9 C1628.7,1936.1 1630.3,1936.4 1632.0,1936.6 C1633.6,1936.8 1635.3,1937.0 1636.9,1937.1 C1638.6,1937.2 1640.3,1937.3 1641.9,1937.4 C1643.6,1937.5 1645.2,1937.5 1646.9,1937.5 C1648.6,1937.5 1650.3,1937.4 1651.9,1937.4 C1653.6,1937.3 1655.3,1937.2 1656.9,1937.0 C1658.6,1936.8 1660.3,1936.6 1661.9,1936.4 C1663.6,1936.2 1665.3,1935.9 1666.9,1935.6 C1668.6,1935.4 1670.3,1935.2 1671.9,1935.1 C1673.6,1935.0 1675.3,1934.9 1676.9,1935.1 C1678.6,1935.3 1680.2,1935.5 1681.9,1936.1 C1683.5,1936.6 1685.2,1937.4 1686.8,1938.2 C1688.4,1939.1 1690.1,1940.2 1691.7,1941.2 C1693.3,1942.1 1694.9,1943.2 1696.5,1944.0 C1698.2,1944.9 1699.8,1945.6 1701.4,1946.1 C1703.0,1946.7 1704.5,1947.1 1706.1,1947.4 C1707.7,1947.6 1709.3,1947.8 1710.8,1947.9 C1712.4,1948.1 1713.9,1948.1 1715.5,1948.2 C1717.0,1948.3 1718.6,1948.3 1720.1,1948.4 C1721.6,1948.5 1723.1,1948.6 1724.6,1948.9 C1726.1,1949.1 1728.3,1949.8 1729.0,1949.9" fill="none" stroke="#000000" stroke-width="7" stroke-linejoin="round" stroke-linecap="butt"/>
<path d="M699.7,1951.2 C700.5,1951.2 703.2,1950.9 704.9,1950.8 C706.6,1950.6 708.4,1950.5 710.1,1950.3 C711.8,1950.1 713.5,1950.0 715.3,1949.8 C717.0,1949.7 718.7,1949.5 720.4,1949.4 C722.1,1949.2 723.8,1949.1 725.5,1948.9 C727.2,1948.7 728.9,1948.6 730.5,1948.4 C732.2,1948.3 733.9,1948.1 735.6,1947.9 C737.2,1947.8 738.9,1947.6 740.6,1947.4 C742.2,1947.2 743.9,1947.0 745.5,1946.9 C747.2,1946.7 748.8,1946.5 750.5,1946.3 C752.1,1946.1 753.8,1945.9 755.4,1945.6 C757.0,1945.4 758.6,1945.2 760.3,1945.0 C761.9,1944.7 763.5,1944.5 765.1,1944.3 C766.8,1944.0 768.4,1943.8 770.0,1943.5 C771.6,1943.2 773.2,1942.9 774.8,1942.7 C776.4,1942.4 778.0,1942.1 779.6,1941.8 C781.2,1941.4 782.8,1941.1 784.4,1940.8 C785.9,1940.4 787.5,1940.1 789.1,1939.7 C790.7,1939.4 792.3,1939.0 793.9,1938.6 C795.4,1938.2 797.0,1937.8 798.6,1937.4 C800.2,1937.0 801.7,1936.5 803.3,1936.1 C804.9,1935.6 806.4,1935.1 808.0,1934.6 C809.5,1934.2 811.1,1933.6 812.7,1933.1 C814.2,1932.6 815.8,1932.0 817.3,1931.5 C818.9,1930.9 820.4,1930.3 822.0,1929.7 C823.5,1929.1 825.1,1928.5 826.6,1927.9 C828.2,1927.2 829.7,1926.6 831.3,1925.9 C832.8,1925.2 834.4,1924.5 835.9,1923.7 C837.5,1923.0 839.0,1922.3 840.5,1921.5 C842.1,1920.8 843.6,1920.0 845.2,1919.2 C846.7,1918.4 848.3,1917.6 849.8,1916.8 C851.3,1916.0 852.9,1915.2 854.4,1914.4 C855.9,1913.6 857.5,1912.8 859.0,1912.0 C860.6,1911.2 862.1,1910.4 863.6,1909.5 C865.2,1908.7 866.7,1907.9 868.2,1907.1 C869.8,1906.3 871.3,1905.5 872.8,1904.8 C874.4,1904.0 875.9,1903.2 877.4,1902.4 C879.0,1901.7 880.5,1900.9 882.0,1900.2 C883.6,1899.5 885.1,1898.8 886.7,1898.1 C888.2,1897.4 889.7,1896.7 891.3,1896.1 C892.8,1895.5 894.3,1894.8 895.9,1894.3 C897.4,1893.7 899.0,1893.1 900.5,1892.5 C902.0,1892.0 903.6,1891.5 905.1,1891.0 C906.7,1890.5 908.2,1890.0 909.7,1889.5 C911.3,1889.0 912.8,1888.5 914.4,1888.1 C915.9,1887.6 917.5,1887.2 919.0,1886.8 C920.6,1886.3 922.1,1885.9 923.6,1885.5 C925.2,1885.1 926.7,1884.6 928.3,1884.2 C929.9,1883.8 931.4,1883.4 933.0,1883.0 C934.5,1882.5 936.1,1882.1 937.6,1881.7 C939.2,1881.3 940.7,1880.8 942.3,1880.4 C943.9,1879.9 945.4,1879.5 947.0,1879.0 C948.6,1878.5 950.1,1878.1 951.7,1877.6 C953.3,1877.1 954.8,1876.6 956.4,1876.0 C958.0,1875.5 959.6,1875.0 961.1,1874.4 C962.7,1873.8 964.3,1873.3 965.8,1872.7 C967.4,1872.1 969.0,1871.5 970.5,1870.8 C972.1,1870.2 973.7,1869.6 975.2,1868.9 C976.7,1868.2 978.3,1867.6 979.8,1866.9 C981.4,1866.2 982.9,1865.5 984.4,1864.7 C985.9,1864.0 987.4,1863.3 988.9,1862.5 C990.4,1861.8 991.9,1861.0 993.4,1860.2 C994.8,1859.4 996.3,1858.6 997.7,1857.8 C999.2,1857.0 1000.6,1856.1 1002.1,1855.3 C1003.5,1854.5 1004.9,1853.6 1006.3,1852.7 C1007.8,1851.8 1009.2,1850.9 1010.6,1850.0 C1012.0,1849.1 1013.4,1848.2 1014.7,1847.3 C1016.1,1846.3 1017.5,1845.4 1018.9,1844.4 C1020.2,1843.5 1021.6,1842.5 1022.9,1841.5 C1024.3,1840.5 1025.6,1839.5 1026.9,1838.5 C1028.3,1837.5 1029.6,1836.4 1030.9,1835.4 C1032.2,1834.3 1033.5,1833.3 1034.8,1832.2 C1036.1,1831.1 1037.4,1830.1 1038.7,1829.0 C1040.0,1827.9 1041.3,1826.8 1042.6,1825.6 C1043.8,1824.5 1045.1,1823.4 1046.3,1822.2 C1047.6,1821.1 1048.8,1819.9 1050.0,1818.7 C1051.3,1817.6 1052.5,1816.4 1053.7,1815.2 C1054.9,1814.0 1056.0,1812.8 1057.2,1811.5 C1058.3,1810.3 1059.5,1809.1 1060.6,1807.9 C1061.7,1806.6 1062.8,1805.4 1063.9,1804.1 C1065.0,1802.8 1066.1,1801.5 1067.1,1800.3 C1068.2,1799.0 1069.2,1797.7 1070.2,1796.4 C1071.3,1795.1 1072.3,1793.7 1073.3,1792.4 C1074.2,1791.1 1075.2,1789.7 1076.2,1788.4 C1077.1,1787.0 1078.0,1785.7 1079.0,1784.3 C1079.9,1782.9 1080.8,1781.6 1081.7,1780.2 C1082.5,1778.8 1083.4,1777.4 1084.3,1776.0 C1085.1,1774.6 1086.0,1773.2 1086.8,1771.7 C1087.6,1770.3 1088.4,1768.9 1089.2,1767.4 C1090.0,1766.0 1090.8,1764.6 1091.6,1763.1 C1092.3,1761.6 1093.1,1760.2 1093.8,1758.7 C1094.6,1757.2 1095.3,1755.8 1096.0,1754.3 C1096.7,1752.8 1097.4,1751.3 1098.1,1749.8 C1098.8,1748.3 1099.4,1746.8 1100.1,1745.2 C1100.8,1743.7 1101.4,1742.2 1102.0,1740.7 C1102.7,1739.1 1103.3,1737.6 1103.9,1736.1 C1104.5,1734.5 1105.1,1733.0 1105.7,1731.4 C1106.3,1729.9 1106.9,1728.3 1107.4,1726.7 C1108.0,1725.2 1108.6,1723.6 1109.1,1722.0 C1109.6,1720.4 1110.2,1718.8 1110.7,1717.2 C1111.2,1715.7 1111.7,1714.1 1112.2,1712.5 C1112.7,1710.9 1113.2,1709.3 1113.7,1707.6 C1114.2,1706.0 1114.7,1704.4 1115.1,1702.8 C1115.6,1701.2 1116.0,1699.5 1116.5,1697.9 C1116.9,1696.3 1117.4,1694.7 1117.8,1693.0 C1118.2,1691.4 1118.6,1689.7 1119.1,1688.1 C1119.5,1686.5 1119.9,1684.8 1120.3,1683.2 C1120.7,1681.5 1121.1,1679.9 1121.4,1678.2 C1121.8,1676.5 1122.2,1674.9 1122.6,1673.2 C1122.9,1671.6 1123.3,1669.9 1123.6,1668.2 C1124.0,1666.6 1124.4,1664.9 1124.7,1663.2 C1125.0,1661.5 1125.4,1659.9 1125.7,1658.2 C1126.0,1656.5 1126.4,1654.8 1126.7,1653.2 C1127.0,1651.5 1127.3,1649.8 1127.6,1648.1 C1127.9,1646.4 1128.2,1644.7 1128.5,1643.1 C1128.8,1641.4 1129.1,1639.7 1129.4,1638.0 C1129.7,1636.3 1130.0,1634.6 1130.3,1632.9 C1130.6,1631.3 1130.9,1629.6 1131.1,1627.9 C1131.4,1626.2 1131.7,1624.5 1131.9,1622.8 C1132.2,1621.1 1132.5,1619.4 1132.8,1617.8 C1133.0,1616.1 1133.3,1614.4 1133.5,1612.7 C1133.8,1611.0 1134.1,1609.3 1134.3,1607.6 C1134.6,1606.0 1134.8,1604.3 1135.1,1602.6 C1135.3,1600.9 1135.6,1599.2 1135.8,1597.5 C1136.1,1595.9 1136.3,1594.2 1136.6,1592.5 C1136.8,1590.8 1137.1,1589.2 1137.3,1587.5 C1137.6,1585.8 1137.8,1584.1 1138.1,1582.5 C1138.3,1580.8 1138.5,1579.1 1138.8,1577.5 C1139.0,1575.8 1139.3,1574.1 1139.5,1572.4 C1139.7,1570.8 1140.0,1569.1 1140.2,1567.5 C1140.4,1565.8 1140.7,1564.1 1140.9,1562.5 C1141.2,1560.8 1141.4,1559.1 1141.6,1557.5 C1141.8,1555.8 1142.1,1554.1 1142.3,1552.5 C1142.5,1550.8 1142.8,1549.2 1143.0,1547.5 C1143.2,1545.9 1143.5,1544.2 1143.7,1542.5 C1143.9,1540.9 1144.1,1539.2 1144.4,1537.6 C1144.6,1535.9 1144.8,1534.3 1145.0,1532.6 C1145.2,1530.9 1145.5,1529.3 1145.7,1527.6 C1145.9,1526.0 1146.1,1524.3 1146.3,1522.7 C1146.6,1521.0 1146.8,1519.4 1147.0,1517.7 C1147.2,1516.1 1147.4,1514.4 1147.6,1512.8 C1147.9,1511.1 1148.1,1509.5 1148.3,1507.8 C1148.5,1506.2 1148.7,1504.5 1148.9,1502.9 C1149.1,1501.2 1149.3,1499.5 1149.5,1497.9 C1149.7,1496.2 1150.0,1494.6 1150.2,1492.9 C1150.4,1491.3 1150.6,1489.6 1150.8,1488.0 C1151.0,1486.3 1151.2,1484.7 1151.4,1483.0 C1151.6,1481.4 1151.8,1479.7 1152.0,1478.1 C1152.2,1476.4 1152.4,1474.8 1152.6,1473.1 C1152.8,1471.5 1153.0,1469.8 1153.2,1468.1 C1153.4,1466.5 1153.6,1464.8 1153.8,1463.2 C1154.0,1461.5 1154.2,1459.9 1154.4,1458.2 C1154.6,1456.6 1154.8,1454.9 1154.9,1453.3 C1155.1,1451.6 1155.3,1449.9 1155.5,1448.3 C1155.7,1446.6 1155.9,1445.0 1156.1,1443.3 C1156.3,1441.7 1156.5,1440.0 1156.7,1438.4 C1156.8,1436.7 1157.0,1435.0 1157.2,1433.4 C1157.4,1431.7 1157.6,1430.1 1157.8,1428.4 C1158.0,1426.8 1158.1,1425.1 1158.3,1423.5 C1158.5,1421.8 1158.7,1420.1 1158.9,1418.5 C1159.1,1416.8 1159.2,1415.2 1159.4,1413.5 C1159.6,1411.9 1159.8,1410.2 1160.0,1408.5 C1160.1,1406.9 1160.3,1405.2 1160.5,1403.6 C1160.7,1401.9 1160.8,1400.3 1161.0,1398.6 C1161.2,1396.9 1161.4,1395.3 1161.5,1393.6 C1161.7,1392.0 1161.9,1390.3 1162.1,1388.6 C1162.2,1387.0 1162.4,1385.3 1162.6,1383.7 C1162.7,1382.0 1162.9,1380.3 1163.1,1378.7 C1163.2,1377.0 1163.4,1375.4 1163.6,1373.7 C1163.7,1372.1 1163.9,1370.4 1164.1,1368.7 C1164.2,1367.1 1164.4,1365.4 1164.6,1363.8 C1164.7,1362.1 1164.9,1360.4 1165.1,1358.8 C1165.2,1357.1 1165.4,1355.5 1165.6,1353.8 C1165.7,1352.1 1165.9,1350.5 1166.0,1348.8 C1166.2,1347.2 1166.4,1345.5 1166.5,1343.8 C1166.7,1342.2 1166.8,1340.5 1167.0,1338.8 C1167.2,1337.2 1167.3,1335.5 1167.5,1333.9 C1167.6,1332.2 1167.8,1330.5 1167.9,1328.9 C1168.1,1327.2 1168.3,1325.6 1168.4,1323.9 C1168.6,1322.2 1168.7,1320.6 1168.9,1318.9 C1169.0,1317.3 1169.2,1315.6 1169.3,1313.9 C1169.5,1312.3 1169.6,1310.6 1169.8,1308.9 C1169.9,1307.3 1170.1,1305.6 1170.2,1304.0 C1170.4,1302.3 1170.5,1300.6 1170.7,1299.0 C1170.8,1297.3 1171.0,1295.6 1171.1,1294.0 C1171.3,1292.3 1171.4,1290.7 1171.6,1289.0 C1171.7,1287.3 1171.8,1285.7 1172.0,1284.0 C1172.1,1282.3 1172.3,1280.7 1172.4,1279.0 C1172.6,1277.3 1172.7,1275.7 1172.9,1274.0 C1173.0,1272.4 1173.1,1270.7 1173.3,1269.0 C1173.4,1267.4 1173.6,1265.7 1173.7,1264.0 C1173.8,1262.4 1174.0,1260.7 1174.1,1259.0 C1174.3,1257.4 1174.4,1255.7 1174.5,1254.0 C1174.7,1252.4 1174.8,1250.7 1174.9,1249.1 C1175.1,1247.4 1175.2,1245.7 1175.4,1244.1 C1175.5,1242.4 1175.6,1240.7 1175.8,1239.1 C1175.9,1237.4 1176.0,1235.7 1176.2,1234.1 C1176.3,1232.4 1176.4,1230.7 1176.6,1229.1 C1176.7,1227.4 1176.8,1225.7 1177.0,1224.1 C1177.1,1222.4 1177.2,1220.8 1177.4,1219.1 C1177.5,1217.4 1177.6,1215.8 1177.7,1214.1 C1177.9,1212.4 1178.0,1210.8 1178.1,1209.1 C1178.3,1207.4 1178.4,1205.8 1178.5,1204.1 C1178.6,1202.4 1178.8,1200.8 1178.9,1199.1 C1179.0,1197.4 1179.2,1195.8 1179.3,1194.1 C1179.4,1192.4 1179.5,1190.8 1179.7,1189.1 C1179.8,1187.4 1179.9,1185.8 1180.0,1184.1 C1180.2,1182.4 1180.3,1180.8 1180.4,1179.1 C1180.5,1177.4 1180.7,1175.8 1180.8,1174.1 C1180.9,1172.4 1181.0,1170.8 1181.1,1169.1 C1181.3,1167.4 1181.4,1165.8 1181.5,1164.1 C1181.6,1162.4 1181.8,1160.8 1181.9,1159.1 C1182.0,1157.4 1182.1,1155.8 1182.2,1154.1 C1182.4,1152.4 1182.5,1150.8 1182.6,1149.1 C1182.7,1147.4 1182.8,1145.8 1183.0,1144.1 C1183.1,1142.4 1183.2,1140.8 1183.3,1139.1 C1183.4,1137.4 1183.5,1135.8 1183.7,1134.1 C1183.8,1132.4 1183.9,1130.8 1184.0,1129.1 C1184.1,1127.4 1184.2,1125.8 1184.4,1124.1 C1184.5,1122.4 1184.6,1120.8 1184.7,1119.1 C1184.8,1117.4 1184.9,1115.8 1185.1,1114.1 C1185.2,1112.4 1185.3,1110.8 1185.4,1109.1 C1185.5,1107.4 1185.6,1105.8 1185.7,1104.1 C1185.8,1102.4 1186.0,1100.8 1186.1,1099.1 C1186.2,1097.4 1186.3,1095.8 1186.4,1094.1 C1186.5,1092.4 1186.6,1090.8 1186.7,1089.1 C1186.9,1087.4 1187.0,1085.8 1187.1,1084.1 C1187.2,1082.4 1187.3,1080.8 1187.4,1079.1 C1187.5,1077.4 1187.6,1075.7 1187.7,1074.1 C1187.9,1072.4 1188.0,1070.7 1188.1,1069.1 C1188.2,1067.4 1188.3,1065.7 1188.4,1064.1 C1188.5,1062.4 1188.6,1060.7 1188.7,1059.1 C1188.8,1057.4 1188.9,1055.7 1189.1,1054.1 C1189.2,1052.4 1189.3,1050.7 1189.4,1049.1 C1189.5,1047.4 1189.6,1045.7 1189.7,1044.1 C1189.8,1042.4 1189.9,1040.7 1190.0,1039.1 C1190.1,1037.4 1190.2,1035.7 1190.3,1034.1 C1190.4,1032.4 1190.6,1030.7 1190.7,1029.1 C1190.8,1027.4 1190.9,1025.7 1191.0,1024.0 C1191.1,1022.4 1191.2,1020.7 1191.3,1019.0 C1191.4,1017.4 1191.5,1015.7 1191.6,1014.0 C1191.7,1012.4 1191.8,1010.7 1191.9,1009.0 C1192.0,1007.4 1192.1,1005.7 1192.2,1004.0 C1192.3,1002.4 1192.5,1000.7 1192.6,999.0 C1192.7,997.4 1192.8,995.7 1192.9,994.0 C1193.0,992.4 1193.1,990.7 1193.2,989.0 C1193.3,987.4 1193.4,985.7 1193.5,984.0 C1193.6,982.4 1193.7,980.7 1193.8,979.0 C1193.9,977.4 1194.0,975.7 1194.1,974.0 C1194.2,972.4 1194.3,970.7 1194.4,969.0 C1194.5,967.4 1194.6,965.7 1194.7,964.0 C1194.8,962.4 1194.9,960.7 1195.0,959.0 C1195.1,957.4 1195.2,955.7 1195.4,954.0 C1195.5,952.3 1195.6,950.7 1195.7,949.0 C1195.8,947.3 1195.9,945.7 1196.0,944.0 C1196.1,942.3 1196.2,940.7 1196.3,939.0 C1196.4,937.3 1196.5,935.7 1196.6,934.0 C1196.7,932.3 1196.8,930.7 1196.9,929.0 C1197.0,927.3 1197.1,925.7 1197.2,924.0 C1197.3,922.3 1197.4,920.7 1197.5,919.0 C1197.6,917.3 1197.7,915.7 1197.8,914.0 C1197.9,912.3 1198.0,910.7 1198.1,909.0 C1198.2,907.3 1198.3,905.7 1198.4,904.0 C1198.5,902.3 1198.6,900.7 1198.7,899.0 C1198.8,897.4 1198.9,895.7 1199.0,894.0 C1199.1,892.4 1199.2,890.7 1199.3,889.0 C1199.5,887.4 1199.6,885.7 1199.7,884.0 C1199.8,882.4 1199.9,880.7 1200.0,879.0 C1200.1,877.4 1200.2,875.7 1200.3,874.0 C1200.4,872.4 1200.5,870.7 1200.6,869.0 C1200.7,867.4 1200.8,865.7 1200.9,864.0 C1201.0,862.4 1201.1,860.7 1201.2,859.0 C1201.3,857.4 1201.4,855.7 1201.5,854.0 C1201.6,852.4 1201.7,850.7 1201.8,849.1 C1201.9,847.4 1202.0,845.7 1202.1,844.1 C1202.2,842.4 1202.3,840.7 1202.4,839.1 C1202.5,837.4 1202.7,835.7 1202.8,834.1 C1202.9,832.4 1203.0,830.7 1203.1,829.1 C1203.2,827.4 1203.3,825.8 1203.4,824.1 C1203.5,822.4 1203.6,820.8 1203.7,819.1 C1203.8,817.4 1203.9,815.8 1204.0,814.1 C1204.1,812.4 1204.2,810.8 1204.3,809.1 C1204.4,807.4 1204.5,805.8 1204.7,804.1 C1204.8,802.5 1204.9,800.8 1205.0,799.1 C1205.1,797.5 1205.2,795.8 1205.3,794.1 C1205.4,792.5 1205.5,790.8 1205.6,789.2 C1205.7,787.5 1205.8,785.8 1205.9,784.2 C1206.0,782.5 1206.2,780.8 1206.3,779.2 C1206.4,777.5 1206.5,775.9 1206.6,774.2 C1206.7,772.5 1206.8,770.9 1206.9,769.2 C1207.0,767.5 1207.1,765.9 1207.2,764.2 C1207.4,762.6 1207.5,760.9 1207.6,759.2 C1207.7,757.6 1207.8,755.9 1207.9,754.3 C1208.0,752.6 1208.1,750.9 1208.2,749.3 C1208.3,747.6 1208.5,745.9 1208.6,744.3 C1208.7,742.6 1208.8,741.0 1208.9,739.3 C1209.0,737.6 1209.1,736.0 1209.2,734.3 C1209.4,732.7 1209.5,731.0 1209.6,729.3 C1209.7,727.7 1209.8,726.0 1209.9,724.4 C1210.0,722.7 1210.1,721.0 1210.3,719.4 C1210.4,717.7 1210.5,716.1 1210.6,714.4 C1210.7,712.7 1210.8,711.1 1211.0,709.4 C1211.1,707.8 1211.2,706.1 1211.3,704.5 C1211.4,702.8 1211.5,701.1 1211.7,699.5 C1211.8,697.8 1211.9,696.2 1212.0,694.5 C1212.1,692.8 1212.2,691.2 1212.4,689.5 C1212.5,687.9 1212.6,686.2 1212.7,684.5 C1212.8,682.9 1212.9,681.2 1213.1,679.6 C1213.2,677.9 1213.3,676.3 1213.4,674.6 C1213.5,672.9 1213.7,671.3 1213.8,669.6 C1213.9,668.0 1214.0,666.3 1214.1,664.6 C1214.2,663.0 1214.3,661.3 1214.5,659.7 C1214.6,658.0 1214.7,656.4 1214.8,654.7 C1214.9,653.0 1215.0,651.4 1215.1,649.7 C1215.2,648.1 1215.4,646.4 1215.5,644.7 C1215.6,643.1 1215.7,641.4 1215.8,639.7 C1215.9,638.1 1216.0,636.4 1216.1,634.8 C1216.2,633.1 1216.3,631.4 1216.4,629.8 C1216.5,628.1 1216.6,626.4 1216.7,624.8 C1216.8,623.1 1216.9,621.5 1217.0,619.8 C1217.1,618.1 1217.2,616.5 1217.3,614.8 C1217.4,613.1 1217.5,611.5 1217.6,609.8 C1217.6,608.1 1217.7,606.5 1217.8,604.8 C1217.9,603.1 1218.0,601.5 1218.1,599.8 C1218.2,598.1 1218.3,596.4 1218.4,594.8 C1218.5,593.1 1218.6,591.4 1218.7,589.8 C1218.8,588.1 1218.9,586.4 1219.0,584.7 C1219.1,583.1 1219.2,581.4 1219.4,579.7 C1219.5,578.0 1219.7,576.4 1219.8,574.7 C1220.0,573.0 1220.2,571.3 1220.4,569.6 C1220.5,568.0 1220.7,566.3 1221.0,564.6 C1221.2,562.9 1221.4,561.2 1221.7,559.6 C1221.9,557.9 1222.2,556.2 1222.5,554.5 C1222.8,552.8 1223.1,551.1 1223.4,549.4 C1223.7,547.7 1224.1,546.1 1224.5,544.4 C1224.8,542.7 1225.2,541.0 1225.7,539.3 C1226.1,537.6 1226.5,535.9 1227.0,534.2 C1227.5,532.5 1228.0,530.8 1228.6,529.1 C1229.1,527.4 1229.7,525.7 1230.3,524.0 C1230.9,522.3 1231.5,520.6 1232.2,519.0 C1232.8,517.4 1233.5,515.7 1234.2,514.4 C1235.0,513.2 1235.7,512.0 1236.5,511.3 C1237.2,510.7 1238.0,510.3 1238.8,510.6 C1239.6,510.9 1240.4,511.8 1241.2,513.0 C1241.9,514.3 1242.8,516.4 1243.6,518.3 C1244.4,520.2 1245.2,522.6 1245.9,524.6 C1246.7,526.6 1247.5,528.6 1248.3,530.3 C1249.1,532.0 1249.8,533.4 1250.6,534.9 C1251.3,536.4 1252.0,537.7 1252.7,539.2 C1253.4,540.7 1254.1,542.2 1254.7,543.7 C1255.4,545.3 1256.0,546.9 1256.6,548.5 C1257.2,550.2 1257.7,551.8 1258.3,553.4 C1258.8,555.0 1259.3,556.6 1259.8,558.3 C1260.3,559.9 1260.7,561.5 1261.2,563.1 C1261.6,564.7 1262.0,566.4 1262.4,568.0 C1262.8,569.6 1263.2,571.2 1263.5,572.9 C1263.9,574.5 1264.2,576.1 1264.5,577.8 C1264.8,579.4 1265.1,581.0 1265.4,582.7 C1265.7,584.3 1265.9,585.9 1266.2,587.6 C1266.4,589.2 1266.6,590.9 1266.9,592.5 C1267.1,594.1 1267.3,595.8 1267.5,597.4 C1267.7,599.1 1267.9,600.7 1268.0,602.3 C1268.2,604.0 1268.4,605.6 1268.5,607.3 C1268.7,608.9 1268.8,610.6 1269.0,612.2 C1269.1,613.9 1269.3,615.5 1269.4,617.1 C1269.5,618.8 1269.7,620.4 1269.8,622.1 C1269.9,623.7 1270.0,625.4 1270.2,627.0 C1270.3,628.7 1270.4,630.3 1270.5,632.0 C1270.6,633.6 1270.8,635.3 1270.9,636.9 C1271.0,638.6 1271.2,640.3 1271.3,641.9 C1271.4,643.6 1271.6,645.2 1271.7,646.9 C1271.8,648.5 1272.0,650.2 1272.2,651.8 C1272.3,653.5 1272.5,655.1 1272.7,656.8 C1272.8,658.4 1273.0,660.1 1273.2,661.8 C1273.4,663.4 1273.6,665.1 1273.8,666.7 C1274.0,668.4 1274.3,670.0 1274.5,671.7 C1274.7,673.3 1275.0,675.0 1275.3,676.6 C1275.5,678.3 1275.8,679.9 1276.0,681.6 C1276.3,683.3 1276.6,684.9 1276.9,686.6 C1277.2,688.2 1277.4,689.9 1277.7,691.5 C1278.0,693.2 1278.3,694.8 1278.6,696.5 C1278.9,698.2 1279.3,699.8 1279.6,701.5 C1279.9,703.1 1280.2,704.8 1280.5,706.4 C1280.8,708.1 1281.1,709.7 1281.4,711.4 C1281.8,713.0 1282.1,714.7 1282.4,716.4 C1282.7,718.0 1283.0,719.7 1283.3,721.3 C1283.7,723.0 1284.0,724.6 1284.3,726.3 C1284.6,727.9 1284.9,729.6 1285.2,731.2 C1285.5,732.9 1285.8,734.6 1286.1,736.2 C1286.4,737.9 1286.7,739.5 1286.9,741.2 C1287.2,742.8 1287.5,744.5 1287.8,746.1 C1288.1,747.8 1288.3,749.5 1288.6,751.1 C1288.9,752.8 1289.1,754.4 1289.4,756.1 C1289.6,757.7 1289.9,759.4 1290.1,761.0 C1290.4,762.7 1290.6,764.4 1290.8,766.0 C1291.1,767.7 1291.3,769.3 1291.5,771.0 C1291.8,772.6 1292.0,774.3 1292.2,776.0 C1292.5,777.6 1292.7,779.3 1292.9,780.9 C1293.1,782.6 1293.3,784.2 1293.5,785.9 C1293.7,787.5 1293.9,789.2 1294.1,790.9 C1294.3,792.5 1294.5,794.2 1294.7,795.8 C1294.9,797.5 1295.1,799.1 1295.3,800.8 C1295.5,802.5 1295.7,804.1 1295.9,805.8 C1296.1,807.4 1296.2,809.1 1296.4,810.7 C1296.6,812.4 1296.8,814.1 1297.0,815.7 C1297.1,817.4 1297.3,819.0 1297.5,820.7 C1297.6,822.3 1297.8,824.0 1298.0,825.7 C1298.1,827.3 1298.3,829.0 1298.5,830.6 C1298.6,832.3 1298.8,833.9 1298.9,835.6 C1299.1,837.3 1299.3,838.9 1299.4,840.6 C1299.6,842.2 1299.7,843.9 1299.9,845.5 C1300.0,847.2 1300.2,848.9 1300.3,850.5 C1300.5,852.2 1300.6,853.8 1300.8,855.5 C1300.9,857.2 1301.1,858.8 1301.2,860.5 C1301.4,862.1 1301.5,863.8 1301.7,865.4 C1301.8,867.1 1301.9,868.8 1302.1,870.4 C1302.2,872.1 1302.4,873.7 1302.5,875.4 C1302.7,877.1 1302.8,878.7 1302.9,880.4 C1303.1,882.0 1303.2,883.7 1303.4,885.4 C1303.5,887.0 1303.6,888.7 1303.8,890.3 C1303.9,892.0 1304.1,893.6 1304.2,895.3 C1304.3,897.0 1304.5,898.6 1304.6,900.3 C1304.7,901.9 1304.9,903.6 1305.0,905.3 C1305.1,906.9 1305.3,908.6 1305.4,910.2 C1305.5,911.9 1305.7,913.6 1305.8,915.2 C1305.9,916.9 1306.1,918.5 1306.2,920.2 C1306.3,921.9 1306.5,923.5 1306.6,925.2 C1306.7,926.8 1306.8,928.5 1307.0,930.2 C1307.1,931.8 1307.2,933.5 1307.4,935.2 C1307.5,936.8 1307.6,938.5 1307.7,940.1 C1307.9,941.8 1308.0,943.5 1308.1,945.1 C1308.3,946.8 1308.4,948.4 1308.5,950.1 C1308.6,951.8 1308.8,953.4 1308.9,955.1 C1309.0,956.7 1309.1,958.4 1309.3,960.1 C1309.4,961.7 1309.5,963.4 1309.6,965.1 C1309.8,966.7 1309.9,968.4 1310.0,970.0 C1310.1,971.7 1310.3,973.4 1310.4,975.0 C1310.5,976.7 1310.6,978.4 1310.7,980.0 C1310.9,981.7 1311.0,983.3 1311.1,985.0 C1311.2,986.7 1311.4,988.3 1311.5,990.0 C1311.6,991.7 1311.7,993.3 1311.9,995.0 C1312.0,996.6 1312.1,998.3 1312.2,1000.0 C1312.3,1001.6 1312.5,1003.3 1312.6,1005.0 C1312.7,1006.6 1312.8,1008.3 1312.9,1009.9 C1313.1,1011.6 1313.2,1013.3 1313.3,1014.9 C1313.4,1016.6 1313.5,1018.3 1313.7,1019.9 C1313.8,1021.6 1313.9,1023.2 1314.0,1024.9 C1314.2,1026.6 1314.3,1028.2 1314.4,1029.9 C1314.5,1031.6 1314.6,1033.2 1314.8,1034.9 C1314.9,1036.6 1315.0,1038.2 1315.1,1039.9 C1315.2,1041.5 1315.4,1043.2 1315.5,1044.9 C1315.6,1046.5 1315.7,1048.2 1315.8,1049.9 C1316.0,1051.5 1316.1,1053.2 1316.2,1054.9 C1316.3,1056.5 1316.5,1058.2 1316.6,1059.9 C1316.7,1061.5 1316.8,1063.2 1316.9,1064.8 C1317.1,1066.5 1317.2,1068.2 1317.3,1069.8 C1317.4,1071.5 1317.6,1073.2 1317.7,1074.8 C1317.8,1076.5 1317.9,1078.2 1318.0,1079.8 C1318.2,1081.5 1318.3,1083.2 1318.4,1084.8 C1318.5,1086.5 1318.7,1088.2 1318.8,1089.8 C1318.9,1091.5 1319.0,1093.1 1319.2,1094.8 C1319.3,1096.5 1319.4,1098.1 1319.5,1099.8 C1319.7,1101.5 1319.8,1103.1 1319.9,1104.8 C1320.0,1106.5 1320.2,1108.1 1320.3,1109.8 C1320.4,1111.5 1320.5,1113.1 1320.7,1114.8 C1320.8,1116.5 1320.9,1118.1 1321.1,1119.8 C1321.2,1121.5 1321.3,1123.1 1321.4,1124.8 C1321.6,1126.5 1321.7,1128.1 1321.8,1129.8 C1322.0,1131.5 1322.1,1133.1 1322.2,1134.8 C1322.4,1136.5 1322.5,1138.1 1322.6,1139.8 C1322.8,1141.5 1322.9,1143.1 1323.0,1144.8 C1323.2,1146.5 1323.3,1148.1 1323.4,1149.8 C1323.6,1151.5 1323.7,1153.1 1323.8,1154.8 C1324.0,1156.4 1324.1,1158.1 1324.2,1159.8 C1324.4,1161.4 1324.5,1163.1 1324.6,1164.8 C1324.8,1166.5 1324.9,1168.1 1325.1,1169.8 C1325.2,1171.5 1325.3,1173.1 1325.5,1174.8 C1325.6,1176.5 1325.8,1178.1 1325.9,1179.8 C1326.0,1181.5 1326.2,1183.1 1326.3,1184.8 C1326.5,1186.5 1326.6,1188.1 1326.8,1189.8 C1326.9,1191.5 1327.1,1193.1 1327.2,1194.8 C1327.3,1196.5 1327.5,1198.1 1327.6,1199.8 C1327.8,1201.5 1327.9,1203.1 1328.1,1204.8 C1328.2,1206.5 1328.4,1208.1 1328.5,1209.8 C1328.7,1211.5 1328.8,1213.1 1329.0,1214.8 C1329.1,1216.5 1329.3,1218.1 1329.4,1219.8 C1329.6,1221.5 1329.8,1223.1 1329.9,1224.8 C1330.1,1226.5 1330.2,1228.1 1330.4,1229.8 C1330.5,1231.5 1330.7,1233.1 1330.9,1234.8 C1331.0,1236.5 1331.2,1238.1 1331.3,1239.8 C1331.5,1241.5 1331.7,1243.1 1331.8,1244.8 C1332.0,1246.5 1332.1,1248.1 1332.3,1249.8 C1332.5,1251.5 1332.6,1253.1 1332.8,1254.8 C1333.0,1256.5 1333.1,1258.1 1333.3,1259.8 C1333.5,1261.5 1333.7,1263.1 1333.8,1264.8 C1334.0,1266.5 1334.2,1268.1 1334.3,1269.8 C1334.5,1271.5 1334.7,1273.1 1334.9,1274.8 C1335.0,1276.5 1335.2,1278.1 1335.4,1279.8 C1335.6,1281.5 1335.7,1283.1 1335.9,1284.8 C1336.1,1286.5 1336.3,1288.1 1336.5,1289.8 C1336.7,1291.5 1336.8,1293.1 1337.0,1294.8 C1337.2,1296.5 1337.4,1298.1 1337.6,1299.8 C1337.8,1301.4 1338.0,1303.1 1338.1,1304.8 C1338.3,1306.4 1338.5,1308.1 1338.7,1309.8 C1338.9,1311.4 1339.1,1313.1 1339.3,1314.8 C1339.5,1316.4 1339.7,1318.1 1339.9,1319.7 C1340.1,1321.4 1340.3,1323.1 1340.5,1324.7 C1340.7,1326.4 1340.9,1328.0 1341.1,1329.7 C1341.3,1331.4 1341.5,1333.0 1341.7,1334.7 C1341.9,1336.4 1342.1,1338.0 1342.3,1339.7 C1342.5,1341.3 1342.7,1343.0 1342.9,1344.7 C1343.2,1346.3 1343.4,1348.0 1343.6,1349.6 C1343.8,1351.3 1344.0,1352.9 1344.2,1354.6 C1344.4,1356.3 1344.7,1357.9 1344.9,1359.6 C1345.1,1361.2 1345.3,1362.9 1345.5,1364.6 C1345.8,1366.2 1346.0,1367.9 1346.2,1369.5 C1346.4,1371.2 1346.7,1372.8 1346.9,1374.5 C1347.1,1376.1 1347.4,1377.8 1347.6,1379.5 C1347.8,1381.1 1348.1,1382.8 1348.3,1384.4 C1348.5,1386.1 1348.8,1387.7 1349.0,1389.4 C1349.2,1391.0 1349.5,1392.7 1349.7,1394.3 C1350.0,1396.0 1350.2,1397.6 1350.4,1399.3 C1350.7,1400.9 1350.9,1402.6 1351.2,1404.2 C1351.4,1405.9 1351.7,1407.5 1351.9,1409.2 C1352.2,1410.8 1352.4,1412.5 1352.7,1414.1 C1352.9,1415.8 1353.2,1417.4 1353.5,1419.1 C1353.7,1420.7 1354.0,1422.4 1354.2,1424.0 C1354.5,1425.7 1354.8,1427.3 1355.0,1429.0 C1355.3,1430.6 1355.6,1432.3 1355.8,1433.9 C1356.1,1435.5 1356.4,1437.2 1356.6,1438.8 C1356.9,1440.5 1357.2,1442.1 1357.5,1443.8 C1357.7,1445.4 1358.0,1447.0 1358.3,1448.7 C1358.6,1450.3 1358.9,1452.0 1359.2,1453.6 C1359.4,1455.2 1359.7,1456.9 1360.0,1458.5 C1360.3,1460.2 1360.6,1461.8 1360.9,1463.4 C1361.2,1465.1 1361.5,1466.7 1361.8,1468.4 C1362.1,1470.0 1362.4,1471.6 1362.7,1473.3 C1363.0,1474.9 1363.3,1476.5 1363.6,1478.2 C1363.9,1479.8 1364.2,1481.4 1364.5,1483.1 C1364.8,1484.7 1365.1,1486.3 1365.4,1488.0 C1365.7,1489.6 1366.0,1491.2 1366.3,1492.9 C1366.7,1494.5 1367.0,1496.1 1367.3,1497.8 C1367.6,1499.4 1367.9,1501.0 1368.3,1502.6 C1368.6,1504.3 1368.9,1505.9 1369.2,1507.5 C1369.6,1509.1 1369.9,1510.8 1370.2,1512.4 C1370.6,1514.0 1370.9,1515.6 1371.2,1517.3 C1371.6,1518.9 1371.9,1520.5 1372.3,1522.1 C1372.6,1523.8 1373.0,1525.4 1373.3,1527.0 C1373.6,1528.6 1374.0,1530.2 1374.3,1531.9 C1374.7,1533.5 1375.1,1535.1 1375.4,1536.7 C1375.8,1538.3 1376.1,1540.0 1376.5,1541.6 C1376.8,1543.2 1377.2,1544.8 1377.6,1546.4 C1377.9,1548.0 1378.3,1549.7 1378.7,1551.3 C1379.1,1552.9 1379.4,1554.5 1379.8,1556.1 C1380.2,1557.7 1380.6,1559.3 1381.0,1560.9 C1381.4,1562.6 1381.7,1564.2 1382.1,1565.8 C1382.5,1567.4 1382.9,1569.0 1383.3,1570.6 C1383.7,1572.2 1384.1,1573.8 1384.5,1575.4 C1384.9,1577.0 1385.4,1578.6 1385.8,1580.2 C1386.2,1581.8 1386.6,1583.4 1387.0,1585.0 C1387.4,1586.7 1387.9,1588.3 1388.3,1589.9 C1388.7,1591.5 1389.1,1593.1 1389.6,1594.7 C1390.0,1596.3 1390.5,1597.9 1390.9,1599.5 C1391.4,1601.1 1391.8,1602.7 1392.3,1604.3 C1392.7,1605.9 1393.2,1607.4 1393.6,1609.0 C1394.1,1610.6 1394.5,1612.2 1395.0,1613.8 C1395.5,1615.4 1396.0,1617.0 1396.4,1618.6 C1396.9,1620.2 1397.4,1621.8 1397.9,1623.4 C1398.4,1625.0 1398.9,1626.6 1399.4,1628.2 C1399.9,1629.8 1400.4,1631.3 1400.9,1632.9 C1401.4,1634.5 1401.9,1636.1 1402.4,1637.7 C1402.9,1639.3 1403.5,1640.9 1404.0,1642.5 C1404.5,1644.0 1405.0,1645.6 1405.6,1647.2 C1406.1,1648.8 1406.7,1650.4 1407.2,1652.0 C1407.8,1653.5 1408.3,1655.1 1408.9,1656.7 C1409.4,1658.3 1410.0,1659.9 1410.6,1661.4 C1411.1,1663.0 1411.7,1664.6 1412.3,1666.2 C1412.8,1667.8 1413.4,1669.3 1414.0,1670.9 C1414.6,1672.5 1415.2,1674.1 1415.8,1675.6 C1416.4,1677.2 1417.0,1678.8 1417.6,1680.4 C1418.2,1681.9 1418.8,1683.5 1419.4,1685.1 C1420.0,1686.6 1420.6,1688.2 1421.2,1689.8 C1421.8,1691.4 1422.4,1692.9 1423.0,1694.5 C1423.7,1696.1 1424.3,1697.6 1424.9,1699.2 C1425.5,1700.8 1426.2,1702.3 1426.8,1703.9 C1427.4,1705.5 1428.1,1707.0 1428.7,1708.6 C1429.3,1710.1 1430.0,1711.7 1430.6,1713.3 C1431.3,1714.8 1431.9,1716.4 1432.6,1718.0 C1433.2,1719.5 1433.9,1721.1 1434.5,1722.6 C1435.2,1724.2 1435.8,1725.7 1436.5,1727.3 C1437.1,1728.9 1437.8,1730.4 1438.5,1732.0 C1439.1,1733.5 1439.8,1735.1 1440.4,1736.6 C1441.1,1738.2 1441.8,1739.7 1442.4,1741.3 C1443.1,1742.9 1443.8,1744.4 1444.5,1746.0 C1445.1,1747.5 1445.8,1749.1 1446.5,1750.6 C1447.1,1752.2 1447.8,1753.7 1448.5,1755.2 C1449.2,1756.8 1449.9,1758.3 1450.5,1759.9 C1451.2,1761.4 1451.9,1762.9 1452.6,1764.5 C1453.3,1766.0 1454.0,1767.5 1454.7,1769.1 C1455.4,1770.6 1456.1,1772.1 1456.8,1773.6 C1457.5,1775.1 1458.3,1776.7 1459.0,1778.2 C1459.7,1779.7 1460.4,1781.2 1461.2,1782.7 C1461.9,1784.2 1462.7,1785.7 1463.4,1787.1 C1464.2,1788.6 1464.9,1790.1 1465.7,1791.6 C1466.5,1793.0 1467.3,1794.5 1468.1,1795.9 C1468.9,1797.4 1469.7,1798.8 1470.5,1800.3 C1471.3,1801.7 1472.1,1803.1 1472.9,1804.6 C1473.8,1806.0 1474.6,1807.4 1475.5,1808.8 C1476.3,1810.2 1477.2,1811.6 1478.1,1813.0 C1479.0,1814.3 1479.9,1815.7 1480.8,1817.1 C1481.7,1818.4 1482.6,1819.8 1483.6,1821.1 C1484.5,1822.4 1485.5,1823.8 1486.4,1825.1 C1487.4,1826.4 1488.4,1827.7 1489.4,1829.0 C1490.4,1830.3 1491.4,1831.5 1492.4,1832.8 C1493.5,1834.0 1494.5,1835.3 1495.6,1836.5 C1496.6,1837.8 1497.7,1839.0 1498.8,1840.2 C1499.9,1841.4 1501.0,1842.6 1502.2,1843.7 C1503.3,1844.9 1504.5,1846.0 1505.7,1847.2 C1506.8,1848.3 1508.0,1849.5 1509.2,1850.6 C1510.5,1851.7 1511.7,1852.8 1512.9,1853.8 C1514.2,1854.9 1515.4,1856.0 1516.7,1857.1 C1518.0,1858.1 1519.3,1859.2 1520.6,1860.2 C1521.9,1861.2 1523.2,1862.3 1524.5,1863.3 C1525.8,1864.3 1527.2,1865.3 1528.5,1866.3 C1529.9,1867.3 1531.2,1868.3 1532.6,1869.2 C1534.0,1870.2 1535.4,1871.2 1536.7,1872.1 C1538.1,1873.1 1539.5,1874.1 1540.9,1875.0 C1542.3,1876.0 1543.7,1876.9 1545.1,1877.8 C1546.5,1878.8 1548.0,1879.7 1549.4,1880.6 C1550.8,1881.6 1552.2,1882.5 1553.6,1883.4 C1555.1,1884.3 1556.5,1885.2 1557.9,1886.2 C1559.4,1887.1 1560.8,1888.0 1562.2,1888.9 C1563.6,1889.8 1565.1,1890.7 1566.5,1891.6 C1567.9,1892.6 1569.4,1893.5 1570.8,1894.4 C1572.2,1895.3 1573.6,1896.2 1575.0,1897.1 C1576.4,1898.0 1577.9,1899.0 1579.3,1899.9 C1580.7,1900.8 1582.1,1901.7 1583.5,1902.7 C1584.9,1903.6 1586.2,1904.5 1587.6,1905.4 C1589.0,1906.4 1590.4,1907.3 1591.8,1908.2 C1593.2,1909.2 1594.5,1910.1 1595.9,1911.0 C1597.3,1912.0 1598.6,1912.9 1600.0,1913.8 C1601.4,1914.8 1602.7,1915.7 1604.1,1916.6 C1605.5,1917.5 1606.9,1918.5 1608.2,1919.4 C1609.6,1920.3 1611.0,1921.2 1612.3,1922.2 C1613.7,1923.1 1615.1,1924.0 1616.5,1924.9 C1617.8,1925.8 1619.2,1926.7 1620.6,1927.6 C1622.0,1928.5 1623.4,1929.4 1624.8,1930.2 C1626.2,1931.1 1627.6,1932.0 1629.0,1932.9 C1630.4,1933.7 1631.8,1934.6 1633.2,1935.4 C1634.6,1936.3 1636.0,1937.1 1637.5,1938.0 C1638.9,1938.8 1640.4,1939.6 1641.8,1940.4 C1643.3,1941.2 1644.7,1942.0 1646.2,1942.8 C1647.7,1943.6 1649.1,1944.4 1650.6,1945.1 C1652.1,1945.9 1653.6,1946.6 1655.2,1947.4 C1656.7,1948.1 1659.0,1949.2 1659.8,1949.5" fill="none" stroke="#9400d3" stroke-width="7" stroke-linejoin="round" stroke-linecap="butt"/>
<path d="M699.4,1951.6 C700.3,1951.5 702.9,1951.0 704.7,1950.7 C706.5,1950.4 708.2,1950.2 710.0,1949.9 C711.8,1949.7 713.5,1949.5 715.2,1949.3 C717.0,1949.1 718.7,1948.9 720.5,1948.7 C722.2,1948.6 723.9,1948.4 725.6,1948.3 C727.3,1948.2 729.0,1948.1 730.7,1948.0 C732.4,1947.9 734.1,1947.8 735.8,1947.7 C737.5,1947.6 739.2,1947.5 740.9,1947.5 C742.5,1947.4 744.2,1947.3 745.9,1947.3 C747.5,1947.2 749.2,1947.1 750.9,1947.0 C752.5,1947.0 754.2,1946.9 755.8,1946.8 C757.4,1946.7 759.1,1946.7 760.7,1946.6 C762.3,1946.5 764.0,1946.4 765.6,1946.3 C767.2,1946.2 768.8,1946.0 770.4,1945.9 C772.1,1945.7 773.7,1945.6 775.3,1945.4 C776.9,1945.2 778.5,1945.1 780.1,1944.8 C781.7,1944.6 783.3,1944.4 784.8,1944.1 C786.4,1943.9 788.0,1943.6 789.6,1943.3 C791.2,1943.0 792.8,1942.6 794.3,1942.2 C795.9,1941.9 797.5,1941.5 799.0,1941.0 C800.6,1940.6 802.2,1940.1 803.7,1939.6 C805.3,1939.1 806.9,1938.6 808.4,1938.0 C810.0,1937.4 811.5,1936.8 813.1,1936.2 C814.6,1935.6 816.2,1935.0 817.7,1934.3 C819.3,1933.6 820.8,1932.9 822.4,1932.2 C823.9,1931.5 825.5,1930.8 827.0,1930.1 C828.5,1929.3 830.1,1928.6 831.6,1927.8 C833.2,1927.1 834.7,1926.3 836.2,1925.5 C837.8,1924.8 839.3,1924.0 840.8,1923.2 C842.4,1922.4 843.9,1921.6 845.4,1920.9 C847.0,1920.1 848.5,1919.3 850.0,1918.5 C851.6,1917.8 853.1,1917.0 854.6,1916.2 C856.2,1915.5 857.7,1914.7 859.2,1914.0 C860.8,1913.2 862.3,1912.5 863.8,1911.8 C865.4,1911.1 866.9,1910.4 868.4,1909.7 C870.0,1909.0 871.5,1908.4 873.1,1907.7 C874.6,1907.1 876.1,1906.5 877.7,1905.9 C879.2,1905.4 880.8,1904.8 882.3,1904.3 C883.8,1903.8 885.4,1903.3 886.9,1902.8 C888.5,1902.4 890.0,1902.0 891.6,1901.6 C893.1,1901.2 894.7,1900.9 896.2,1900.6 C897.8,1900.3 899.3,1900.1 900.9,1900.0 C902.5,1899.8 904.0,1899.7 905.6,1899.7 C907.1,1899.6 908.7,1899.7 910.3,1899.8 C911.8,1899.9 913.4,1900.1 915.0,1900.3 C916.6,1900.6 918.1,1901.0 919.7,1901.4 C921.3,1901.8 922.9,1902.3 924.4,1902.9 C926.0,1903.4 927.6,1904.0 929.2,1904.7 C930.8,1905.3 932.4,1906.0 934.0,1906.7 C935.6,1907.4 937.2,1908.1 938.8,1908.8 C940.4,1909.5 942.0,1910.1 943.6,1910.8 C945.2,1911.4 946.8,1912.1 948.4,1912.6 C950.0,1913.2 951.6,1913.7 953.2,1914.2 C954.9,1914.6 956.5,1915.0 958.1,1915.2 C959.7,1915.5 961.4,1915.7 963.0,1915.8 C964.6,1915.9 966.3,1916.0 967.9,1916.0 C969.5,1916.0 971.2,1916.0 972.8,1916.0 C974.5,1916.0 976.1,1916.0 977.8,1916.1 C979.4,1916.1 981.1,1916.2 982.8,1916.4 C984.4,1916.5 986.1,1916.8 987.8,1917.1 C989.4,1917.5 991.1,1918.0 992.8,1918.6 C994.5,1919.1 996.2,1919.9 997.9,1920.7 C999.5,1921.4 1001.2,1922.3 1002.9,1923.1 C1004.6,1924.0 1006.2,1924.9 1007.9,1925.7 C1009.5,1926.6 1011.2,1927.4 1012.8,1928.1 C1014.4,1928.9 1016.0,1929.6 1017.6,1930.1 C1019.2,1930.7 1020.8,1931.1 1022.3,1931.4 C1023.8,1931.6 1025.4,1931.7 1026.8,1931.6 C1028.3,1931.5 1029.8,1931.1 1031.2,1930.6 C1032.6,1930.1 1034.0,1929.4 1035.3,1928.6 C1036.6,1927.7 1037.9,1926.7 1039.1,1925.7 C1040.3,1924.6 1041.5,1923.4 1042.6,1922.1 C1043.7,1920.9 1044.8,1919.5 1045.8,1918.2 C1046.8,1916.8 1047.7,1915.4 1048.5,1914.0 C1049.4,1912.6 1050.1,1911.2 1050.9,1909.7 C1051.6,1908.3 1052.3,1906.8 1052.9,1905.4 C1053.5,1903.9 1054.1,1902.4 1054.6,1900.9 C1055.1,1899.4 1055.6,1897.9 1056.1,1896.4 C1056.6,1894.9 1057.0,1893.4 1057.4,1891.8 C1057.8,1890.3 1058.2,1888.7 1058.6,1887.2 C1059.0,1885.6 1059.4,1884.1 1059.8,1882.5 C1060.2,1880.9 1060.5,1879.3 1060.9,1877.7 C1061.3,1876.1 1061.7,1874.5 1062.1,1872.9 C1062.5,1871.3 1063.0,1869.7 1063.4,1868.1 C1063.9,1866.5 1064.3,1864.9 1064.8,1863.2 C1065.3,1861.6 1065.7,1860.0 1066.2,1858.4 C1066.7,1856.7 1067.2,1855.1 1067.7,1853.4 C1068.2,1851.8 1068.7,1850.2 1069.1,1848.5 C1069.6,1846.9 1070.1,1845.3 1070.6,1843.6 C1071.0,1842.0 1071.5,1840.3 1071.9,1838.7 C1072.4,1837.0 1072.8,1835.4 1073.2,1833.8 C1073.7,1832.1 1074.1,1830.5 1074.5,1828.8 C1074.9,1827.2 1075.4,1825.6 1075.8,1823.9 C1076.2,1822.3 1076.6,1820.6 1077.0,1819.0 C1077.4,1817.3 1077.7,1815.7 1078.1,1814.1 C1078.5,1812.4 1078.9,1810.8 1079.2,1809.1 C1079.6,1807.5 1080.0,1805.8 1080.3,1804.2 C1080.7,1802.6 1081.0,1800.9 1081.3,1799.3 C1081.7,1797.6 1082.0,1796.0 1082.4,1794.3 C1082.7,1792.7 1083.0,1791.0 1083.3,1789.4 C1083.6,1787.8 1083.9,1786.1 1084.3,1784.5 C1084.6,1782.8 1084.9,1781.2 1085.2,1779.5 C1085.5,1777.9 1085.7,1776.2 1086.0,1774.6 C1086.3,1772.9 1086.6,1771.3 1086.9,1769.6 C1087.1,1768.0 1087.4,1766.3 1087.7,1764.7 C1087.9,1763.1 1088.2,1761.4 1088.5,1759.8 C1088.7,1758.1 1089.0,1756.5 1089.2,1754.8 C1089.5,1753.2 1089.7,1751.5 1090.0,1749.9 C1090.2,1748.2 1090.4,1746.6 1090.7,1744.9 C1090.9,1743.3 1091.1,1741.6 1091.4,1740.0 C1091.6,1738.3 1091.8,1736.7 1092.0,1735.0 C1092.2,1733.4 1092.5,1731.7 1092.7,1730.1 C1092.9,1728.4 1093.1,1726.8 1093.3,1725.1 C1093.5,1723.5 1093.7,1721.8 1093.9,1720.2 C1094.1,1718.5 1094.3,1716.9 1094.5,1715.2 C1094.7,1713.6 1094.9,1711.9 1095.1,1710.3 C1095.3,1708.6 1095.5,1707.0 1095.6,1705.3 C1095.8,1703.7 1096.0,1702.0 1096.2,1700.4 C1096.4,1698.7 1096.5,1697.0 1096.7,1695.4 C1096.9,1693.7 1097.1,1692.1 1097.2,1690.4 C1097.4,1688.8 1097.6,1687.1 1097.8,1685.5 C1097.9,1683.8 1098.1,1682.2 1098.3,1680.5 C1098.4,1678.9 1098.6,1677.2 1098.8,1675.6 C1098.9,1673.9 1099.1,1672.2 1099.3,1670.6 C1099.4,1668.9 1099.6,1667.3 1099.8,1665.6 C1099.9,1664.0 1100.1,1662.3 1100.3,1660.7 C1100.4,1659.0 1100.6,1657.4 1100.7,1655.7 C1100.9,1654.0 1101.1,1652.4 1101.2,1650.7 C1101.4,1649.1 1101.6,1647.4 1101.7,1645.8 C1101.9,1644.1 1102.0,1642.5 1102.2,1640.8 C1102.4,1639.1 1102.5,1637.5 1102.7,1635.8 C1102.9,1634.2 1103.0,1632.5 1103.2,1630.9 C1103.4,1629.2 1103.5,1627.5 1103.7,1625.9 C1103.9,1624.2 1104.0,1622.6 1104.2,1620.9 C1104.4,1619.3 1104.5,1617.6 1104.7,1615.9 C1104.9,1614.3 1105.0,1612.6 1105.2,1611.0 C1105.4,1609.3 1105.5,1607.7 1105.7,1606.0 C1105.9,1604.3 1106.1,1602.7 1106.2,1601.0 C1106.4,1599.4 1106.6,1597.7 1106.8,1596.0 C1106.9,1594.4 1107.1,1592.7 1107.3,1591.1 C1107.5,1589.4 1107.6,1587.8 1107.8,1586.1 C1108.0,1584.4 1108.2,1582.8 1108.3,1581.1 C1108.5,1579.5 1108.7,1577.8 1108.9,1576.1 C1109.1,1574.5 1109.2,1572.8 1109.4,1571.2 C1109.6,1569.5 1109.8,1567.8 1110.0,1566.2 C1110.2,1564.5 1110.4,1562.9 1110.5,1561.2 C1110.7,1559.5 1110.9,1557.9 1111.1,1556.2 C1111.3,1554.6 1111.5,1552.9 1111.7,1551.2 C1111.9,1549.6 1112.0,1547.9 1112.2,1546.3 C1112.4,1544.6 1112.6,1542.9 1112.8,1541.3 C1113.0,1539.6 1113.2,1538.0 1113.4,1536.3 C1113.6,1534.6 1113.8,1533.0 1114.0,1531.3 C1114.2,1529.6 1114.4,1528.0 1114.6,1526.3 C1114.8,1524.7 1115.0,1523.0 1115.2,1521.3 C1115.4,1519.7 1115.6,1518.0 1115.8,1516.4 C1116.0,1514.7 1116.2,1513.0 1116.4,1511.4 C1116.6,1509.7 1116.8,1508.0 1117.0,1506.4 C1117.2,1504.7 1117.4,1503.1 1117.6,1501.4 C1117.8,1499.7 1118.0,1498.1 1118.2,1496.4 C1118.4,1494.7 1118.6,1493.1 1118.8,1491.4 C1118.9,1489.8 1119.1,1488.1 1119.3,1486.4 C1119.5,1484.8 1119.7,1483.1 1119.8,1481.4 C1120.0,1479.8 1120.2,1478.1 1120.4,1476.5 C1120.5,1474.8 1120.7,1473.1 1120.9,1471.5 C1121.0,1469.8 1121.2,1468.1 1121.3,1466.5 C1121.5,1464.8 1121.6,1463.2 1121.8,1461.5 C1121.9,1459.8 1122.1,1458.2 1122.2,1456.5 C1122.3,1454.8 1122.4,1453.2 1122.6,1451.5 C1122.7,1449.8 1122.8,1448.2 1122.9,1446.5 C1123.0,1444.9 1123.1,1443.2 1123.2,1441.5 C1123.3,1439.9 1123.5,1438.2 1123.5,1436.5 C1123.6,1434.9 1123.7,1433.2 1123.8,1431.5 C1123.9,1429.9 1124.0,1428.2 1124.1,1426.6 C1124.2,1424.9 1124.3,1423.2 1124.3,1421.6 C1124.4,1419.9 1124.5,1418.2 1124.6,1416.6 C1124.6,1414.9 1124.7,1413.2 1124.8,1411.6 C1124.8,1409.9 1124.9,1408.2 1125.0,1406.6 C1125.0,1404.9 1125.1,1403.3 1125.2,1401.6 C1125.2,1399.9 1125.3,1398.3 1125.4,1396.6 C1125.4,1394.9 1125.5,1393.3 1125.6,1391.6 C1125.6,1389.9 1125.7,1388.3 1125.7,1386.6 C1125.8,1384.9 1125.9,1383.3 1125.9,1381.6 C1126.0,1380.0 1126.0,1378.3 1126.1,1376.6 C1126.1,1375.0 1126.2,1373.3 1126.3,1371.6 C1126.3,1370.0 1126.4,1368.3 1126.4,1366.6 C1126.5,1365.0 1126.6,1363.3 1126.6,1361.6 C1126.7,1360.0 1126.7,1358.3 1126.8,1356.6 C1126.8,1355.0 1126.9,1353.3 1127.0,1351.7 C1127.0,1350.0 1127.1,1348.3 1127.1,1346.7 C1127.2,1345.0 1127.3,1343.3 1127.3,1341.7 C1127.4,1340.0 1127.5,1338.3 1127.5,1336.7 C1127.6,1335.0 1127.6,1333.3 1127.7,1331.7 C1127.8,1330.0 1127.8,1328.3 1127.9,1326.7 C1128.0,1325.0 1128.0,1323.4 1128.1,1321.7 C1128.2,1320.0 1128.2,1318.4 1128.3,1316.7 C1128.4,1315.0 1128.5,1313.4 1128.5,1311.7 C1128.6,1310.0 1128.7,1308.4 1128.7,1306.7 C1128.8,1305.0 1128.9,1303.4 1129.0,1301.7 C1129.1,1300.0 1129.1,1298.4 1129.2,1296.7 C1129.3,1295.0 1129.4,1293.4 1129.5,1291.7 C1129.6,1290.1 1129.7,1288.4 1129.7,1286.7 C1129.8,1285.1 1129.9,1283.4 1130.0,1281.7 C1130.1,1280.1 1130.2,1278.4 1130.3,1276.7 C1130.4,1275.1 1130.5,1273.4 1130.6,1271.7 C1130.7,1270.1 1130.8,1268.4 1130.9,1266.7 C1131.0,1265.1 1131.1,1263.4 1131.2,1261.7 C1131.3,1260.1 1131.5,1258.4 1131.6,1256.7 C1131.7,1255.1 1131.8,1253.4 1131.9,1251.8 C1132.0,1250.1 1132.1,1248.4 1132.2,1246.8 C1132.3,1245.1 1132.5,1243.4 1132.6,1241.8 C1132.7,1240.1 1132.8,1238.4 1132.9,1236.8 C1133.0,1235.1 1133.1,1233.4 1133.2,1231.8 C1133.3,1230.1 1133.4,1228.4 1133.6,1226.8 C1133.7,1225.1 1133.8,1223.4 1133.9,1221.8 C1134.0,1220.1 1134.1,1218.4 1134.2,1216.8 C1134.3,1215.1 1134.4,1213.4 1134.5,1211.8 C1134.6,1210.1 1134.7,1208.4 1134.8,1206.8 C1134.9,1205.1 1135.0,1203.5 1135.0,1201.8 C1135.1,1200.1 1135.2,1198.5 1135.3,1196.8 C1135.4,1195.1 1135.5,1193.5 1135.6,1191.8 C1135.6,1190.1 1135.7,1188.5 1135.8,1186.8 C1135.9,1185.1 1136.0,1183.5 1136.0,1181.8 C1136.1,1180.1 1136.2,1178.5 1136.3,1176.8 C1136.4,1175.1 1136.4,1173.5 1136.5,1171.8 C1136.6,1170.1 1136.7,1168.5 1136.7,1166.8 C1136.8,1165.1 1136.9,1163.5 1137.0,1161.8 C1137.0,1160.1 1137.1,1158.5 1137.2,1156.8 C1137.3,1155.1 1137.3,1153.5 1137.4,1151.8 C1137.5,1150.1 1137.6,1148.5 1137.6,1146.8 C1137.7,1145.1 1137.8,1143.5 1137.9,1141.8 C1137.9,1140.1 1138.0,1138.5 1138.1,1136.8 C1138.2,1135.1 1138.2,1133.5 1138.3,1131.8 C1138.4,1130.1 1138.5,1128.5 1138.5,1126.8 C1138.6,1125.1 1138.7,1123.5 1138.8,1121.8 C1138.9,1120.2 1138.9,1118.5 1139.0,1116.8 C1139.1,1115.2 1139.2,1113.5 1139.2,1111.8 C1139.3,1110.2 1139.4,1108.5 1139.5,1106.8 C1139.5,1105.2 1139.6,1103.5 1139.7,1101.8 C1139.8,1100.2 1139.9,1098.5 1139.9,1096.8 C1140.0,1095.2 1140.1,1093.5 1140.2,1091.8 C1140.2,1090.2 1140.3,1088.5 1140.4,1086.8 C1140.5,1085.2 1140.6,1083.5 1140.6,1081.8 C1140.7,1080.2 1140.8,1078.5 1140.9,1076.8 C1140.9,1075.2 1141.0,1073.5 1141.1,1071.8 C1141.2,1070.2 1141.3,1068.5 1141.3,1066.8 C1141.4,1065.2 1141.5,1063.5 1141.6,1061.8 C1141.7,1060.2 1141.7,1058.5 1141.8,1056.8 C1141.9,1055.2 1142.0,1053.5 1142.1,1051.8 C1142.1,1050.2 1142.2,1048.5 1142.3,1046.8 C1142.4,1045.2 1142.5,1043.5 1142.5,1041.8 C1142.6,1040.2 1142.7,1038.5 1142.8,1036.8 C1142.9,1035.2 1142.9,1033.5 1143.0,1031.8 C1143.1,1030.2 1143.2,1028.5 1143.3,1026.8 C1143.3,1025.2 1143.4,1023.5 1143.5,1021.8 C1143.6,1020.2 1143.7,1018.5 1143.7,1016.8 C1143.8,1015.2 1143.9,1013.5 1144.0,1011.8 C1144.1,1010.2 1144.1,1008.5 1144.2,1006.8 C1144.3,1005.2 1144.4,1003.5 1144.5,1001.8 C1144.6,1000.2 1144.6,998.5 1144.7,996.8 C1144.8,995.2 1144.9,993.5 1145.0,991.8 C1145.0,990.2 1145.1,988.5 1145.2,986.8 C1145.3,985.2 1145.4,983.5 1145.5,981.8 C1145.5,980.2 1145.6,978.5 1145.7,976.8 C1145.8,975.2 1145.9,973.5 1146.0,971.8 C1146.0,970.2 1146.1,968.5 1146.2,966.8 C1146.3,965.2 1146.4,963.5 1146.5,961.8 C1146.5,960.2 1146.6,958.5 1146.7,956.8 C1146.8,955.2 1146.9,953.5 1147.0,951.8 C1147.0,950.2 1147.1,948.5 1147.2,946.8 C1147.3,945.2 1147.4,943.5 1147.5,941.8 C1147.6,940.2 1147.6,938.5 1147.7,936.8 C1147.8,935.2 1147.9,933.5 1148.0,931.8 C1148.1,930.2 1148.1,928.5 1148.2,926.8 C1148.3,925.2 1148.4,923.5 1148.5,921.8 C1148.6,920.2 1148.7,918.5 1148.7,916.8 C1148.8,915.2 1148.9,913.5 1149.0,911.8 C1149.1,910.1 1149.2,908.5 1149.3,906.8 C1149.4,905.1 1149.4,903.5 1149.5,901.8 C1149.6,900.1 1149.7,898.5 1149.8,896.8 C1149.9,895.1 1150.0,893.5 1150.0,891.8 C1150.1,890.1 1150.2,888.5 1150.3,886.8 C1150.4,885.1 1150.5,883.5 1150.6,881.8 C1150.7,880.1 1150.7,878.5 1150.8,876.8 C1150.9,875.1 1151.0,873.5 1151.1,871.8 C1151.2,870.1 1151.3,868.5 1151.4,866.8 C1151.5,865.1 1151.5,863.5 1151.6,861.8 C1151.7,860.1 1151.8,858.5 1151.9,856.8 C1152.0,855.1 1152.1,853.5 1152.2,851.8 C1152.3,850.1 1152.3,848.5 1152.4,846.8 C1152.5,845.1 1152.6,843.5 1152.7,841.8 C1152.8,840.1 1152.9,838.5 1153.0,836.8 C1153.1,835.1 1153.2,833.5 1153.2,831.8 C1153.3,830.1 1153.4,828.5 1153.5,826.8 C1153.6,825.1 1153.7,823.5 1153.8,821.8 C1153.9,820.1 1154.0,818.5 1154.1,816.8 C1154.2,815.1 1154.2,813.5 1154.3,811.8 C1154.4,810.1 1154.5,808.5 1154.6,806.8 C1154.7,805.1 1154.8,803.5 1154.9,801.8 C1155.0,800.1 1155.1,798.4 1155.1,796.8 C1155.2,795.1 1155.3,793.4 1155.4,791.8 C1155.5,790.1 1155.6,788.4 1155.7,786.8 C1155.8,785.1 1155.9,783.4 1155.9,781.8 C1156.0,780.1 1156.1,778.4 1156.2,776.8 C1156.3,775.1 1156.4,773.4 1156.4,771.8 C1156.5,770.1 1156.6,768.4 1156.7,766.8 C1156.8,765.1 1156.9,763.4 1156.9,761.8 C1157.0,760.1 1157.1,758.5 1157.2,756.8 C1157.2,755.1 1157.3,753.5 1157.4,751.8 C1157.5,750.1 1157.5,748.5 1157.6,746.8 C1157.7,745.1 1157.8,743.5 1157.8,741.8 C1157.9,740.1 1158.0,738.5 1158.0,736.8 C1158.1,735.1 1158.2,733.5 1158.2,731.8 C1158.3,730.1 1158.4,728.5 1158.4,726.8 C1158.5,725.1 1158.5,723.5 1158.6,721.8 C1158.7,720.2 1158.7,718.5 1158.8,716.8 C1158.8,715.2 1158.9,713.5 1158.9,711.8 C1159.0,710.2 1159.0,708.5 1159.1,706.8 C1159.1,705.2 1159.1,703.5 1159.2,701.9 C1159.2,700.2 1159.3,698.5 1159.3,696.9 C1159.3,695.2 1159.4,693.5 1159.4,691.9 C1159.5,690.2 1159.5,688.6 1159.5,686.9 C1159.6,685.2 1159.6,683.6 1159.6,681.9 C1159.7,680.2 1159.7,678.6 1159.8,676.9 C1159.8,675.3 1159.9,673.6 1159.9,671.9 C1160.0,670.3 1160.1,668.6 1160.1,667.0 C1160.2,665.3 1160.3,663.6 1160.4,662.0 C1160.5,660.3 1160.6,658.7 1160.7,657.0 C1160.8,655.3 1160.9,653.7 1161.0,652.0 C1161.1,650.4 1161.3,648.7 1161.4,647.1 C1161.6,645.4 1161.7,643.7 1161.9,642.1 C1162.1,640.4 1162.3,638.8 1162.5,637.1 C1162.7,635.5 1162.9,633.8 1163.1,632.1 C1163.3,630.5 1163.5,628.8 1163.8,627.2 C1164.0,625.5 1164.3,623.9 1164.5,622.2 C1164.8,620.6 1165.0,618.9 1165.3,617.2 C1165.6,615.6 1165.8,613.9 1166.1,612.3 C1166.4,610.6 1166.7,609.0 1166.9,607.3 C1167.2,605.7 1167.5,604.0 1167.8,602.4 C1168.0,600.7 1168.3,599.1 1168.6,597.4 C1168.9,595.8 1169.1,594.1 1169.4,592.5 C1169.7,590.8 1169.9,589.2 1170.2,587.5 C1170.4,585.9 1170.7,584.2 1170.9,582.6 C1171.2,580.9 1171.4,579.3 1171.7,577.6 C1171.9,576.0 1172.1,574.3 1172.3,572.7 C1172.5,571.0 1172.8,569.4 1173.0,567.7 C1173.2,566.1 1173.4,564.4 1173.6,562.8 C1173.8,561.1 1173.9,559.5 1174.1,557.8 C1174.3,556.2 1174.5,554.6 1174.7,552.9 C1174.9,551.3 1175.0,549.6 1175.2,548.0 C1175.4,546.3 1175.6,544.7 1175.7,543.0 C1175.9,541.4 1176.1,539.8 1176.3,538.1 C1176.4,536.5 1176.6,534.8 1176.8,533.2 C1176.9,531.5 1177.1,529.9 1177.3,528.3 C1177.4,526.6 1177.6,525.0 1177.8,523.3 C1178.0,521.7 1178.1,520.0 1178.3,518.4 C1178.5,516.8 1178.6,515.1 1178.8,513.5 C1179.0,511.8 1179.1,510.2 1179.3,508.5 C1179.5,506.9 1179.7,505.2 1179.8,503.6 C1180.0,501.9 1180.2,500.3 1180.3,498.6 C1180.5,497.0 1180.7,495.3 1180.9,493.6 C1181.0,492.0 1181.2,490.3 1181.4,488.7 C1181.6,487.0 1181.7,485.3 1181.9,483.7 C1182.1,482.0 1182.3,480.3 1182.4,478.6 C1182.6,477.0 1182.8,475.3 1183.0,473.6 C1183.1,471.9 1183.3,470.2 1183.5,468.5 C1183.7,466.8 1183.9,465.2 1184.0,463.5 C1184.2,461.8 1184.4,460.1 1184.6,458.4 C1184.8,456.7 1185.0,455.0 1185.1,453.3 C1185.3,451.6 1185.5,449.9 1185.7,448.2 C1185.9,446.5 1186.1,444.8 1186.3,443.1 C1186.5,441.4 1186.7,439.7 1186.9,438.0 C1187.1,436.3 1187.3,434.6 1187.4,433.0 C1187.6,431.3 1187.8,429.6 1188.0,427.9 C1188.2,426.3 1188.5,424.6 1188.7,423.0 C1188.9,421.3 1189.1,419.7 1189.3,418.0 C1189.5,416.4 1189.7,414.7 1189.9,413.1 C1190.1,411.5 1190.3,409.9 1190.6,408.3 C1190.8,406.7 1191.0,405.1 1191.2,403.5 C1191.4,401.9 1191.7,400.4 1191.9,398.8 C1192.1,397.2 1192.3,395.7 1192.6,394.1 C1192.8,392.6 1193.1,391.0 1193.3,389.5 C1193.6,387.9 1193.9,386.4 1194.1,384.8 C1194.4,383.2 1194.7,381.7 1195.1,380.1 C1195.4,378.4 1195.7,376.8 1196.1,375.2 C1196.4,373.5 1196.8,371.9 1197.2,370.2 C1197.7,368.4 1198.1,366.7 1198.6,364.9 C1199.0,363.2 1199.5,361.3 1200.1,359.5 C1200.6,357.6 1201.2,355.7 1201.8,353.8 C1202.4,351.9 1203.0,350.0 1203.6,348.2 C1204.2,346.3 1204.9,344.5 1205.5,342.9 C1206.2,341.3 1206.8,339.8 1207.5,338.5 C1208.1,337.2 1208.8,336.0 1209.4,335.3 C1210.0,334.6 1210.6,334.1 1211.2,334.5 C1211.8,334.8 1212.3,335.9 1212.8,337.5 C1213.3,339.1 1213.8,341.8 1214.2,344.0 C1214.7,346.2 1215.1,348.6 1215.5,350.6 C1215.8,352.6 1216.2,354.2 1216.5,355.9 C1216.9,357.6 1217.2,359.1 1217.5,360.7 C1217.7,362.3 1218.0,363.9 1218.3,365.6 C1218.5,367.2 1218.7,368.9 1219.0,370.5 C1219.2,372.2 1219.4,373.9 1219.6,375.5 C1219.8,377.2 1220.0,378.9 1220.2,380.6 C1220.4,382.3 1220.6,384.0 1220.8,385.6 C1220.9,387.3 1221.1,389.0 1221.3,390.7 C1221.5,392.4 1221.7,394.0 1221.9,395.7 C1222.1,397.4 1222.3,399.0 1222.5,400.7 C1222.7,402.3 1222.9,404.0 1223.1,405.6 C1223.2,407.3 1223.4,408.9 1223.6,410.6 C1223.8,412.2 1224.0,413.9 1224.2,415.5 C1224.4,417.1 1224.6,418.8 1224.8,420.4 C1225.0,422.0 1225.2,423.6 1225.4,425.3 C1225.6,426.9 1225.8,428.5 1226.0,430.1 C1226.2,431.7 1226.4,433.3 1226.6,434.9 C1226.8,436.6 1227.0,438.2 1227.1,439.8 C1227.3,441.4 1227.5,443.0 1227.7,444.6 C1227.9,446.2 1228.1,447.8 1228.2,449.4 C1228.4,451.0 1228.6,452.6 1228.7,454.2 C1228.9,455.8 1229.1,457.4 1229.2,458.9 C1229.4,460.5 1229.5,462.1 1229.7,463.7 C1229.8,465.3 1230.0,466.9 1230.1,468.5 C1230.3,470.1 1230.4,471.7 1230.5,473.2 C1230.7,474.8 1230.8,476.4 1230.9,478.0 C1231.0,479.6 1231.2,481.2 1231.3,482.8 C1231.4,484.3 1231.5,485.9 1231.6,487.5 C1231.7,489.1 1231.8,490.7 1231.9,492.3 C1232.0,493.9 1232.1,495.4 1232.2,497.0 C1232.2,498.6 1232.3,500.2 1232.4,501.8 C1232.5,503.4 1232.6,505.0 1232.7,506.6 C1232.8,508.2 1232.9,509.8 1233.0,511.4 C1233.0,513.0 1233.1,514.6 1233.2,516.2 C1233.3,517.8 1233.4,519.4 1233.5,521.0 C1233.6,522.6 1233.7,524.2 1233.8,525.8 C1233.9,527.4 1234.0,529.0 1234.0,530.6 C1234.1,532.2 1234.2,533.8 1234.3,535.5 C1234.4,537.1 1234.5,538.7 1234.6,540.3 C1234.7,541.9 1234.7,543.5 1234.8,545.2 C1234.9,546.8 1235.0,548.4 1235.0,550.0 C1235.1,551.6 1235.2,553.3 1235.3,554.9 C1235.3,556.5 1235.4,558.1 1235.4,559.8 C1235.5,561.4 1235.5,563.0 1235.6,564.7 C1235.6,566.3 1235.7,567.9 1235.7,569.6 C1235.8,571.2 1235.8,572.8 1235.9,574.5 C1235.9,576.1 1236.0,577.7 1236.0,579.4 C1236.1,581.0 1236.1,582.7 1236.2,584.3 C1236.3,585.9 1236.3,587.6 1236.4,589.2 C1236.5,590.9 1236.6,592.5 1236.7,594.1 C1236.8,595.8 1236.9,597.4 1237.0,599.1 C1237.1,600.7 1237.2,602.4 1237.4,604.0 C1237.5,605.7 1237.7,607.3 1237.9,609.0 C1238.0,610.6 1238.2,612.3 1238.4,613.9 C1238.6,615.6 1238.8,617.2 1239.0,618.9 C1239.2,620.5 1239.4,622.2 1239.6,623.9 C1239.7,625.5 1239.9,627.2 1240.0,628.8 C1240.1,630.5 1240.2,632.1 1240.2,633.8 C1240.3,635.5 1240.3,637.1 1240.3,638.8 C1240.3,640.4 1240.3,642.1 1240.3,643.8 C1240.2,645.4 1240.2,647.1 1240.2,648.7 C1240.1,650.4 1240.1,652.1 1240.0,653.7 C1240.0,655.4 1239.9,657.1 1239.9,658.7 C1239.8,660.4 1239.8,662.0 1239.8,663.7 C1239.8,665.4 1239.8,667.0 1239.8,668.7 C1239.8,670.4 1239.9,672.0 1240.0,673.7 C1240.1,675.4 1240.2,677.0 1240.3,678.7 C1240.5,680.4 1240.7,682.0 1240.9,683.7 C1241.1,685.4 1241.4,687.0 1241.7,688.7 C1241.9,690.4 1242.2,692.0 1242.5,693.7 C1242.7,695.4 1243.0,697.0 1243.3,698.7 C1243.5,700.4 1243.8,702.0 1244.0,703.7 C1244.2,705.4 1244.4,707.0 1244.5,708.7 C1244.7,710.4 1244.9,712.0 1245.0,713.7 C1245.2,715.4 1245.3,717.0 1245.5,718.7 C1245.6,720.4 1245.7,722.0 1245.9,723.7 C1246.0,725.4 1246.2,727.0 1246.3,728.7 C1246.4,730.4 1246.6,732.0 1246.7,733.7 C1246.9,735.4 1247.0,737.0 1247.2,738.7 C1247.3,740.4 1247.5,742.0 1247.6,743.7 C1247.7,745.4 1247.9,747.0 1248.0,748.7 C1248.2,750.4 1248.3,752.0 1248.5,753.7 C1248.6,755.4 1248.8,757.0 1248.9,758.7 C1249.1,760.4 1249.2,762.0 1249.3,763.7 C1249.5,765.4 1249.6,767.0 1249.8,768.7 C1249.9,770.4 1250.1,772.0 1250.2,773.7 C1250.4,775.3 1250.5,777.0 1250.7,778.7 C1250.8,780.3 1251.0,782.0 1251.1,783.7 C1251.3,785.3 1251.4,787.0 1251.6,788.7 C1251.7,790.3 1251.9,792.0 1252.0,793.7 C1252.2,795.3 1252.3,797.0 1252.4,798.6 C1252.6,800.3 1252.7,802.0 1252.9,803.6 C1253.1,805.3 1253.2,807.0 1253.4,808.6 C1253.5,810.3 1253.7,811.9 1253.8,813.6 C1254.0,815.3 1254.1,816.9 1254.3,818.6 C1254.4,820.3 1254.6,821.9 1254.7,823.6 C1254.9,825.2 1255.0,826.9 1255.2,828.6 C1255.3,830.2 1255.5,831.9 1255.6,833.6 C1255.8,835.2 1255.9,836.9 1256.1,838.5 C1256.2,840.2 1256.4,841.9 1256.6,843.5 C1256.7,845.2 1256.9,846.8 1257.0,848.5 C1257.2,850.2 1257.3,851.8 1257.5,853.5 C1257.6,855.1 1257.8,856.8 1258.0,858.5 C1258.1,860.1 1258.3,861.8 1258.4,863.5 C1258.6,865.1 1258.7,866.8 1258.9,868.4 C1259.1,870.1 1259.2,871.8 1259.4,873.4 C1259.5,875.1 1259.7,876.7 1259.9,878.4 C1260.0,880.1 1260.2,881.7 1260.3,883.4 C1260.5,885.0 1260.6,886.7 1260.8,888.4 C1261.0,890.0 1261.1,891.7 1261.3,893.3 C1261.5,895.0 1261.6,896.6 1261.8,898.3 C1261.9,900.0 1262.1,901.6 1262.3,903.3 C1262.4,904.9 1262.6,906.6 1262.7,908.3 C1262.9,909.9 1263.1,911.6 1263.2,913.2 C1263.4,914.9 1263.6,916.6 1263.7,918.2 C1263.9,919.9 1264.1,921.5 1264.2,923.2 C1264.4,924.8 1264.6,926.5 1264.7,928.2 C1264.9,929.8 1265.0,931.5 1265.2,933.1 C1265.4,934.8 1265.5,936.5 1265.7,938.1 C1265.9,939.8 1266.0,941.4 1266.2,943.1 C1266.4,944.7 1266.5,946.4 1266.7,948.1 C1266.9,949.7 1267.1,951.4 1267.2,953.0 C1267.4,954.7 1267.6,956.3 1267.7,958.0 C1267.9,959.7 1268.1,961.3 1268.2,963.0 C1268.4,964.6 1268.6,966.3 1268.8,967.9 C1268.9,969.6 1269.1,971.3 1269.3,972.9 C1269.4,974.6 1269.6,976.2 1269.8,977.9 C1270.0,979.5 1270.1,981.2 1270.3,982.9 C1270.5,984.5 1270.6,986.2 1270.8,987.8 C1271.0,989.5 1271.2,991.1 1271.3,992.8 C1271.5,994.5 1271.7,996.1 1271.9,997.8 C1272.0,999.4 1272.2,1001.1 1272.4,1002.7 C1272.6,1004.4 1272.8,1006.0 1272.9,1007.7 C1273.1,1009.4 1273.3,1011.0 1273.5,1012.7 C1273.6,1014.3 1273.8,1016.0 1274.0,1017.6 C1274.2,1019.3 1274.4,1021.0 1274.5,1022.6 C1274.7,1024.3 1274.9,1025.9 1275.1,1027.6 C1275.3,1029.2 1275.4,1030.9 1275.6,1032.5 C1275.8,1034.2 1276.0,1035.9 1276.2,1037.5 C1276.3,1039.2 1276.5,1040.8 1276.7,1042.5 C1276.9,1044.1 1277.1,1045.8 1277.3,1047.4 C1277.4,1049.1 1277.6,1050.8 1277.8,1052.4 C1278.0,1054.1 1278.2,1055.7 1278.4,1057.4 C1278.5,1059.0 1278.7,1060.7 1278.9,1062.3 C1279.1,1064.0 1279.3,1065.7 1279.5,1067.3 C1279.7,1069.0 1279.8,1070.6 1280.0,1072.3 C1280.2,1073.9 1280.4,1075.6 1280.6,1077.2 C1280.8,1078.9 1281.0,1080.5 1281.2,1082.2 C1281.4,1083.9 1281.5,1085.5 1281.7,1087.2 C1281.9,1088.8 1282.1,1090.5 1282.3,1092.1 C1282.5,1093.8 1282.7,1095.4 1282.9,1097.1 C1283.1,1098.8 1283.3,1100.4 1283.5,1102.1 C1283.7,1103.7 1283.8,1105.4 1284.0,1107.0 C1284.2,1108.7 1284.4,1110.3 1284.6,1112.0 C1284.8,1113.6 1285.0,1115.3 1285.2,1117.0 C1285.4,1118.6 1285.6,1120.3 1285.8,1121.9 C1286.0,1123.6 1286.2,1125.2 1286.4,1126.9 C1286.6,1128.5 1286.8,1130.2 1287.0,1131.8 C1287.2,1133.5 1287.4,1135.2 1287.6,1136.8 C1287.8,1138.5 1288.0,1140.1 1288.2,1141.8 C1288.4,1143.4 1288.6,1145.1 1288.8,1146.7 C1289.0,1148.4 1289.2,1150.0 1289.4,1151.7 C1289.6,1153.4 1289.8,1155.0 1290.0,1156.7 C1290.2,1158.3 1290.4,1160.0 1290.6,1161.6 C1290.8,1163.3 1291.0,1164.9 1291.2,1166.6 C1291.4,1168.2 1291.6,1169.9 1291.8,1171.5 C1292.0,1173.2 1292.2,1174.9 1292.5,1176.5 C1292.7,1178.2 1292.9,1179.8 1293.1,1181.5 C1293.3,1183.1 1293.5,1184.8 1293.7,1186.4 C1293.9,1188.1 1294.1,1189.7 1294.3,1191.4 C1294.5,1193.1 1294.7,1194.7 1295.0,1196.4 C1295.2,1198.0 1295.4,1199.7 1295.6,1201.3 C1295.8,1203.0 1296.0,1204.6 1296.2,1206.3 C1296.4,1207.9 1296.7,1209.6 1296.9,1211.3 C1297.1,1212.9 1297.3,1214.6 1297.5,1216.2 C1297.7,1217.9 1297.9,1219.5 1298.2,1221.2 C1298.4,1222.8 1298.6,1224.5 1298.8,1226.1 C1299.0,1227.8 1299.2,1229.5 1299.5,1231.1 C1299.7,1232.8 1299.9,1234.4 1300.1,1236.1 C1300.3,1237.7 1300.6,1239.4 1300.8,1241.0 C1301.0,1242.7 1301.2,1244.3 1301.4,1246.0 C1301.7,1247.7 1301.9,1249.3 1302.1,1251.0 C1302.3,1252.6 1302.5,1254.3 1302.8,1255.9 C1303.0,1257.6 1303.2,1259.2 1303.4,1260.9 C1303.7,1262.5 1303.9,1264.2 1304.1,1265.9 C1304.3,1267.5 1304.6,1269.2 1304.8,1270.8 C1305.0,1272.5 1305.3,1274.1 1305.5,1275.8 C1305.7,1277.4 1305.9,1279.1 1306.2,1280.7 C1306.4,1282.4 1306.6,1284.1 1306.9,1285.7 C1307.1,1287.4 1307.3,1289.0 1307.6,1290.7 C1307.8,1292.3 1308.0,1294.0 1308.3,1295.6 C1308.5,1297.3 1308.7,1298.9 1309.0,1300.6 C1309.2,1302.2 1309.4,1303.9 1309.7,1305.6 C1309.9,1307.2 1310.1,1308.9 1310.4,1310.5 C1310.6,1312.2 1310.9,1313.8 1311.1,1315.5 C1311.4,1317.1 1311.6,1318.8 1311.8,1320.4 C1312.1,1322.1 1312.3,1323.7 1312.6,1325.4 C1312.8,1327.0 1313.1,1328.7 1313.3,1330.3 C1313.6,1332.0 1313.8,1333.7 1314.1,1335.3 C1314.3,1337.0 1314.6,1338.6 1314.8,1340.3 C1315.1,1341.9 1315.3,1343.6 1315.6,1345.2 C1315.8,1346.9 1316.1,1348.5 1316.3,1350.2 C1316.6,1351.8 1316.8,1353.5 1317.1,1355.1 C1317.3,1356.8 1317.6,1358.4 1317.9,1360.1 C1318.1,1361.7 1318.4,1363.4 1318.6,1365.0 C1318.9,1366.7 1319.2,1368.3 1319.4,1370.0 C1319.7,1371.6 1320.0,1373.3 1320.2,1374.9 C1320.5,1376.6 1320.8,1378.2 1321.0,1379.9 C1321.3,1381.5 1321.6,1383.2 1321.8,1384.8 C1322.1,1386.5 1322.4,1388.1 1322.7,1389.8 C1322.9,1391.4 1323.2,1393.1 1323.5,1394.7 C1323.8,1396.3 1324.0,1398.0 1324.3,1399.6 C1324.6,1401.3 1324.9,1402.9 1325.2,1404.6 C1325.5,1406.2 1325.7,1407.9 1326.0,1409.5 C1326.3,1411.2 1326.6,1412.8 1326.9,1414.4 C1327.2,1416.1 1327.5,1417.7 1327.7,1419.4 C1328.0,1421.0 1328.3,1422.7 1328.6,1424.3 C1328.9,1426.0 1329.2,1427.6 1329.5,1429.2 C1329.8,1430.9 1330.1,1432.5 1330.4,1434.2 C1330.7,1435.8 1331.0,1437.5 1331.3,1439.1 C1331.6,1440.7 1331.9,1442.4 1332.2,1444.0 C1332.5,1445.7 1332.8,1447.3 1333.1,1448.9 C1333.5,1450.6 1333.8,1452.2 1334.1,1453.9 C1334.4,1455.5 1334.7,1457.1 1335.0,1458.8 C1335.3,1460.4 1335.6,1462.1 1336.0,1463.7 C1336.3,1465.3 1336.6,1467.0 1336.9,1468.6 C1337.2,1470.2 1337.6,1471.9 1337.9,1473.5 C1338.2,1475.1 1338.6,1476.8 1338.9,1478.4 C1339.2,1480.1 1339.5,1481.7 1339.9,1483.3 C1340.2,1485.0 1340.5,1486.6 1340.9,1488.2 C1341.2,1489.9 1341.6,1491.5 1341.9,1493.1 C1342.2,1494.8 1342.6,1496.4 1342.9,1498.0 C1343.3,1499.6 1343.6,1501.3 1344.0,1502.9 C1344.3,1504.5 1344.6,1506.2 1345.0,1507.8 C1345.3,1509.4 1345.7,1511.1 1346.1,1512.7 C1346.4,1514.3 1346.8,1515.9 1347.1,1517.6 C1347.5,1519.2 1347.8,1520.8 1348.2,1522.5 C1348.6,1524.1 1348.9,1525.7 1349.3,1527.3 C1349.7,1529.0 1350.0,1530.6 1350.4,1532.2 C1350.8,1533.8 1351.2,1535.5 1351.5,1537.1 C1351.9,1538.7 1352.3,1540.3 1352.7,1541.9 C1353.0,1543.6 1353.4,1545.2 1353.8,1546.8 C1354.2,1548.4 1354.6,1550.1 1355.0,1551.7 C1355.3,1553.3 1355.7,1554.9 1356.1,1556.5 C1356.5,1558.2 1356.9,1559.8 1357.3,1561.4 C1357.7,1563.0 1358.1,1564.6 1358.5,1566.2 C1358.9,1567.9 1359.3,1569.5 1359.7,1571.1 C1360.1,1572.7 1360.5,1574.3 1360.9,1575.9 C1361.3,1577.5 1361.8,1579.2 1362.2,1580.8 C1362.6,1582.4 1363.0,1584.0 1363.4,1585.6 C1363.8,1587.2 1364.3,1588.8 1364.7,1590.4 C1365.1,1592.1 1365.5,1593.7 1366.0,1595.3 C1366.4,1596.9 1366.8,1598.5 1367.3,1600.1 C1367.7,1601.7 1368.1,1603.3 1368.6,1604.9 C1369.0,1606.5 1369.4,1608.1 1369.9,1609.7 C1370.3,1611.3 1370.8,1613.0 1371.2,1614.6 C1371.7,1616.2 1372.1,1617.8 1372.6,1619.4 C1373.0,1621.0 1373.5,1622.6 1374.0,1624.2 C1374.4,1625.8 1374.9,1627.4 1375.3,1629.0 C1375.8,1630.6 1376.3,1632.2 1376.7,1633.8 C1377.2,1635.4 1377.7,1637.0 1378.2,1638.6 C1378.6,1640.2 1379.1,1641.8 1379.6,1643.3 C1380.1,1644.9 1380.6,1646.5 1381.0,1648.1 C1381.5,1649.7 1382.0,1651.3 1382.5,1652.9 C1383.0,1654.5 1383.5,1656.1 1384.0,1657.7 C1384.5,1659.3 1385.0,1660.9 1385.5,1662.5 C1386.0,1664.0 1386.5,1665.6 1387.0,1667.2 C1387.5,1668.8 1388.0,1670.4 1388.6,1672.0 C1389.1,1673.6 1389.6,1675.1 1390.1,1676.7 C1390.6,1678.3 1391.2,1679.9 1391.7,1681.5 C1392.2,1683.1 1392.7,1684.6 1393.3,1686.2 C1393.8,1687.8 1394.4,1689.4 1394.9,1691.0 C1395.4,1692.5 1396.0,1694.1 1396.5,1695.7 C1397.1,1697.3 1397.6,1698.9 1398.2,1700.4 C1398.7,1702.0 1399.3,1703.6 1399.8,1705.2 C1400.4,1706.7 1401.0,1708.3 1401.5,1709.9 C1402.1,1711.4 1402.7,1713.0 1403.2,1714.6 C1403.8,1716.2 1404.4,1717.7 1405.0,1719.3 C1405.5,1720.9 1406.1,1722.4 1406.7,1724.0 C1407.3,1725.6 1407.9,1727.1 1408.5,1728.7 C1409.1,1730.3 1409.7,1731.8 1410.3,1733.4 C1410.9,1735.0 1411.5,1736.5 1412.1,1738.1 C1412.7,1739.6 1413.3,1741.2 1413.9,1742.8 C1414.5,1744.3 1415.1,1745.9 1415.7,1747.4 C1416.3,1749.0 1416.9,1750.5 1417.5,1752.1 C1418.1,1753.7 1418.8,1755.2 1419.4,1756.8 C1420.0,1758.3 1420.6,1759.9 1421.2,1761.4 C1421.8,1763.0 1422.4,1764.5 1423.0,1766.1 C1423.7,1767.6 1424.3,1769.2 1424.9,1770.7 C1425.5,1772.3 1426.1,1773.8 1426.7,1775.4 C1427.3,1776.9 1427.9,1778.5 1428.5,1780.0 C1429.1,1781.5 1429.8,1783.1 1430.4,1784.6 C1431.0,1786.2 1431.6,1787.7 1432.2,1789.2 C1432.8,1790.8 1433.4,1792.3 1433.9,1793.9 C1434.5,1795.4 1435.1,1796.9 1435.7,1798.5 C1436.3,1800.0 1436.9,1801.5 1437.5,1803.1 C1438.1,1804.6 1438.6,1806.1 1439.2,1807.7 C1439.8,1809.2 1440.4,1810.7 1441.0,1812.2 C1441.6,1813.8 1442.3,1815.3 1442.9,1816.8 C1443.5,1818.3 1444.2,1819.8 1444.8,1821.4 C1445.5,1822.9 1446.1,1824.4 1446.8,1825.9 C1447.5,1827.4 1448.2,1828.9 1449.0,1830.4 C1449.7,1831.9 1450.4,1833.4 1451.2,1834.8 C1452.0,1836.3 1452.8,1837.8 1453.6,1839.3 C1454.5,1840.8 1455.3,1842.2 1456.2,1843.7 C1457.1,1845.2 1458.0,1846.6 1459.0,1848.1 C1459.9,1849.5 1460.9,1851.0 1461.9,1852.4 C1462.9,1853.9 1463.9,1855.3 1464.9,1856.7 C1466.0,1858.1 1467.0,1859.6 1468.0,1861.0 C1469.1,1862.4 1470.1,1863.8 1471.2,1865.2 C1472.2,1866.6 1473.2,1868.0 1474.3,1869.3 C1475.3,1870.7 1476.4,1872.1 1477.4,1873.5 C1478.4,1874.8 1479.4,1876.2 1480.4,1877.5 C1481.4,1878.9 1482.3,1880.2 1483.3,1881.5 C1484.2,1882.8 1485.1,1884.1 1486.0,1885.4 C1487.0,1886.7 1487.8,1888.0 1488.8,1889.3 C1489.7,1890.6 1490.6,1891.8 1491.5,1893.0 C1492.5,1894.2 1493.5,1895.4 1494.5,1896.6 C1495.5,1897.7 1496.6,1898.9 1497.7,1900.0 C1498.8,1901.0 1500.0,1902.1 1501.2,1903.1 C1502.5,1904.1 1503.8,1905.1 1505.1,1906.0 C1506.4,1906.9 1507.8,1907.8 1509.3,1908.6 C1510.7,1909.4 1512.2,1910.2 1513.7,1910.9 C1515.2,1911.7 1516.8,1912.3 1518.3,1913.0 C1519.9,1913.6 1521.5,1914.2 1523.1,1914.8 C1524.7,1915.4 1526.3,1915.9 1527.9,1916.5 C1529.5,1917.0 1531.2,1917.5 1532.8,1918.0 C1534.4,1918.5 1536.0,1919.0 1537.6,1919.4 C1539.2,1919.9 1540.9,1920.3 1542.5,1920.7 C1544.1,1921.2 1545.7,1921.6 1547.4,1922.0 C1549.0,1922.4 1550.6,1922.7 1552.3,1923.1 C1553.9,1923.5 1555.5,1923.8 1557.2,1924.2 C1558.8,1924.5 1560.4,1924.9 1562.1,1925.2 C1563.7,1925.5 1565.3,1925.8 1567.0,1926.2 C1568.6,1926.5 1570.2,1926.8 1571.9,1927.1 C1573.5,1927.4 1575.2,1927.7 1576.8,1927.9 C1578.4,1928.2 1580.1,1928.5 1581.7,1928.8 C1583.4,1929.1 1585.0,1929.4 1586.6,1929.7 C1588.3,1929.9 1589.9,1930.2 1591.6,1930.5 C1593.2,1930.8 1594.8,1931.1 1596.5,1931.4 C1598.1,1931.6 1599.8,1931.9 1601.4,1932.2 C1603.0,1932.5 1604.7,1932.8 1606.3,1933.1 C1607.9,1933.4 1609.6,1933.7 1611.2,1934.1 C1612.9,1934.4 1614.5,1934.7 1616.1,1935.1 C1617.8,1935.4 1619.4,1935.7 1621.0,1936.1 C1622.7,1936.4 1624.3,1936.8 1625.9,1937.1 C1627.5,1937.5 1629.2,1937.8 1630.8,1938.2 C1632.4,1938.5 1634.1,1938.9 1635.7,1939.3 C1637.3,1939.6 1639.0,1940.0 1640.6,1940.3 C1642.2,1940.7 1643.9,1941.0 1645.5,1941.4 C1647.1,1941.7 1648.8,1942.1 1650.4,1942.4 C1652.0,1942.7 1653.7,1943.1 1655.3,1943.4 C1657.0,1943.7 1658.6,1944.0 1660.2,1944.3 C1661.9,1944.6 1663.5,1944.9 1665.2,1945.2 C1666.8,1945.5 1668.5,1945.8 1670.1,1946.0 C1671.7,1946.3 1673.4,1946.6 1675.0,1946.8 C1676.7,1947.0 1678.4,1947.2 1680.0,1947.4 C1681.7,1947.6 1683.3,1947.8 1685.0,1948.0 C1686.6,1948.2 1688.3,1948.3 1690.0,1948.5 C1691.6,1948.6 1693.3,1948.7 1695.0,1948.8 C1696.6,1948.9 1699.2,1949.0 1700.0,1949.0" fill="none" stroke="#009e73" stroke-width="7" stroke-linejoin="round" stroke-linecap="butt"/>
<path d="M318.0,1950.4 C318.8,1950.4 321.3,1950.5 323.0,1950.5 C324.7,1950.5 326.3,1950.5 328.0,1950.6 C329.7,1950.6 331.3,1950.6 333.0,1950.6 C334.7,1950.6 336.4,1950.7 338.0,1950.7 C339.7,1950.7 341.4,1950.7 343.0,1950.7 C344.7,1950.8 346.4,1950.8 348.1,1950.8 C349.7,1950.8 351.4,1950.9 353.1,1950.9 C354.7,1950.9 356.4,1950.9 358.1,1950.9 C359.8,1951.0 361.4,1951.0 363.1,1951.0 C364.8,1951.0 366.4,1951.0 368.1,1951.1 C369.8,1951.1 371.5,1951.1 373.1,1951.1 C374.8,1951.1 376.5,1951.1 378.1,1951.2 C379.8,1951.2 381.5,1951.2 383.1,1951.2 C384.8,1951.2 386.5,1951.3 388.2,1951.3 C389.8,1951.3 391.5,1951.3 393.2,1951.3 C394.8,1951.3 396.5,1951.4 398.2,1951.4 C399.9,1951.4 401.5,1951.4 403.2,1951.4 C404.9,1951.4 406.5,1951.4 408.2,1951.5 C409.9,1951.5 411.6,1951.5 413.2,1951.5 C414.9,1951.5 416.6,1951.5 418.2,1951.5 C419.9,1951.6 421.6,1951.6 423.2,1951.6 C424.9,1951.6 426.6,1951.6 428.3,1951.6 C429.9,1951.6 431.6,1951.6 433.3,1951.6 C434.9,1951.6 436.6,1951.7 438.3,1951.7 C439.9,1951.7 441.6,1951.7 443.3,1951.7 C445.0,1951.7 446.6,1951.7 448.3,1951.7 C450.0,1951.7 451.6,1951.7 453.3,1951.7 C455.0,1951.7 456.6,1951.7 458.3,1951.7 C460.0,1951.7 461.7,1951.7 463.3,1951.7 C465.0,1951.7 466.7,1951.7 468.3,1951.7 C470.0,1951.7 471.7,1951.7 473.3,1951.7 C475.0,1951.7 476.7,1951.7 478.3,1951.7 C480.0,1951.7 481.7,1951.7 483.4,1951.7 C485.0,1951.7 486.7,1951.7 488.4,1951.7 C490.0,1951.7 491.7,1951.6 493.4,1951.6 C495.0,1951.6 496.7,1951.6 498.4,1951.6 C500.0,1951.6 501.7,1951.6 503.4,1951.6 C505.1,1951.5 506.7,1951.5 508.4,1951.5 C510.1,1951.5 511.7,1951.5 513.4,1951.5 C515.1,1951.4 516.7,1951.4 518.4,1951.4 C520.1,1951.4 521.7,1951.4 523.4,1951.3 C525.1,1951.3 526.7,1951.3 528.4,1951.3 C530.1,1951.2 531.8,1951.2 533.4,1951.2 C535.1,1951.1 536.8,1951.1 538.4,1951.1 C540.1,1951.1 541.8,1951.0 543.4,1951.0 C545.1,1951.0 546.8,1950.9 548.4,1950.9 C550.1,1950.8 551.8,1950.8 553.4,1950.8 C555.1,1950.7 556.8,1950.7 558.4,1950.6 C560.1,1950.6 561.8,1950.6 563.4,1950.5 C565.1,1950.5 566.8,1950.4 568.4,1950.4 C570.1,1950.3 571.8,1950.3 573.4,1950.2 C575.1,1950.2 576.8,1950.1 578.4,1950.1 C580.1,1950.0 581.8,1950.0 583.4,1949.9 C585.1,1949.8 586.8,1949.8 588.4,1949.7 C590.1,1949.7 591.8,1949.6 593.4,1949.5 C595.1,1949.5 596.8,1949.4 598.4,1949.3 C600.1,1949.3 601.8,1949.2 603.4,1949.1 C605.1,1949.1 606.8,1949.0 608.4,1948.9 C610.1,1948.9 611.8,1948.8 613.4,1948.7 C615.1,1948.6 616.8,1948.5 618.4,1948.5 C620.1,1948.4 621.8,1948.3 623.4,1948.2 C625.1,1948.1 626.8,1948.0 628.4,1948.0 C630.1,1947.9 631.8,1947.8 633.4,1947.7 C635.1,1947.6 636.8,1947.5 638.4,1947.4 C640.1,1947.3 641.8,1947.2 643.4,1947.1 C645.1,1947.0 646.7,1946.9 648.4,1946.8 C650.1,1946.7 651.7,1946.6 653.4,1946.5 C655.1,1946.4 656.7,1946.3 658.4,1946.2 C660.1,1946.1 661.7,1945.9 663.4,1945.8 C665.1,1945.7 666.7,1945.6 668.4,1945.5 C670.1,1945.4 671.7,1945.2 673.4,1945.1 C675.0,1945.0 676.7,1944.9 678.4,1944.7 C680.0,1944.6 681.7,1944.5 683.4,1944.3 C685.0,1944.2 686.7,1944.1 688.4,1943.9 C690.0,1943.8 691.7,1943.7 693.3,1943.5 C695.0,1943.4 696.7,1943.2 698.3,1943.1 C700.0,1942.9 701.7,1942.8 703.3,1942.6 C705.0,1942.5 706.6,1942.3 708.3,1942.2 C710.0,1942.0 711.6,1941.9 713.3,1941.7 C715.0,1941.5 716.6,1941.4 718.3,1941.2 C719.9,1941.0 721.6,1940.9 723.3,1940.7 C724.9,1940.5 726.6,1940.4 728.3,1940.2 C729.9,1940.0 731.6,1939.8 733.2,1939.6 C734.9,1939.5 736.6,1939.3 738.2,1939.1 C739.9,1938.9 741.5,1938.7 743.2,1938.5 C744.9,1938.3 746.5,1938.1 748.2,1937.9 C749.8,1937.6 751.5,1937.4 753.1,1937.1 C754.8,1936.9 756.4,1936.6 758.0,1936.4 C759.7,1936.1 761.3,1935.8 763.0,1935.5 C764.6,1935.2 766.2,1934.9 767.9,1934.5 C769.5,1934.2 771.1,1933.8 772.7,1933.5 C774.3,1933.1 776.0,1932.7 777.6,1932.3 C779.2,1931.9 780.8,1931.4 782.4,1930.9 C784.0,1930.5 785.6,1930.0 787.2,1929.5 C788.7,1929.0 790.3,1928.4 791.9,1927.8 C793.5,1927.3 795.0,1926.7 796.6,1926.1 C798.1,1925.5 799.7,1924.8 801.2,1924.2 C802.8,1923.5 804.3,1922.8 805.8,1922.1 C807.3,1921.5 808.9,1920.7 810.4,1920.0 C811.9,1919.3 813.4,1918.5 814.9,1917.7 C816.3,1916.9 817.8,1916.1 819.3,1915.3 C820.8,1914.5 822.2,1913.7 823.7,1912.8 C825.1,1912.0 826.5,1911.1 828.0,1910.2 C829.4,1909.3 830.8,1908.4 832.2,1907.5 C833.6,1906.6 835.0,1905.7 836.4,1904.7 C837.7,1903.8 839.1,1902.8 840.5,1901.9 C841.8,1900.9 843.1,1899.9 844.5,1898.9 C845.8,1897.9 847.1,1896.9 848.4,1895.9 C849.7,1894.9 851.0,1893.8 852.3,1892.8 C853.6,1891.7 854.8,1890.7 856.1,1889.6 C857.3,1888.5 858.6,1887.4 859.8,1886.3 C861.0,1885.2 862.3,1884.1 863.5,1883.0 C864.7,1881.8 865.9,1880.7 867.1,1879.6 C868.3,1878.4 869.4,1877.3 870.6,1876.1 C871.8,1874.9 872.9,1873.7 874.1,1872.5 C875.2,1871.3 876.3,1870.1 877.4,1868.9 C878.6,1867.7 879.7,1866.5 880.8,1865.3 C881.9,1864.0 883.0,1862.8 884.0,1861.5 C885.1,1860.3 886.2,1859.0 887.3,1857.7 C888.3,1856.5 889.4,1855.2 890.4,1853.9 C891.4,1852.6 892.5,1851.3 893.5,1850.0 C894.5,1848.7 895.5,1847.3 896.5,1846.0 C897.5,1844.7 898.5,1843.3 899.5,1842.0 C900.5,1840.7 901.4,1839.3 902.4,1837.9 C903.4,1836.6 904.3,1835.2 905.3,1833.8 C906.2,1832.4 907.2,1831.1 908.1,1829.7 C909.0,1828.3 909.9,1826.9 910.8,1825.5 C911.7,1824.1 912.6,1822.6 913.5,1821.2 C914.4,1819.8 915.3,1818.4 916.2,1816.9 C917.1,1815.5 917.9,1814.1 918.8,1812.6 C919.7,1811.2 920.5,1809.7 921.4,1808.3 C922.2,1806.8 923.0,1805.3 923.9,1803.9 C924.7,1802.4 925.5,1800.9 926.3,1799.4 C927.1,1798.0 927.9,1796.5 928.7,1795.0 C929.5,1793.5 930.3,1792.0 931.1,1790.5 C931.9,1789.0 932.7,1787.5 933.4,1786.0 C934.2,1784.5 934.9,1783.0 935.7,1781.5 C936.4,1779.9 937.2,1778.4 937.9,1776.9 C938.7,1775.4 939.4,1773.8 940.1,1772.3 C940.8,1770.8 941.5,1769.2 942.2,1767.7 C943.0,1766.2 943.7,1764.6 944.3,1763.1 C945.0,1761.6 945.7,1760.0 946.4,1758.5 C947.1,1756.9 947.7,1755.4 948.4,1753.8 C949.1,1752.3 949.7,1750.7 950.4,1749.2 C951.0,1747.6 951.7,1746.0 952.3,1744.5 C952.9,1742.9 953.6,1741.4 954.2,1739.8 C954.8,1738.2 955.4,1736.7 956.0,1735.1 C956.6,1733.6 957.3,1732.0 957.8,1730.4 C958.4,1728.9 959.0,1727.3 959.6,1725.8 C960.2,1724.2 960.8,1722.6 961.3,1721.1 C961.9,1719.5 962.5,1717.9 963.0,1716.4 C963.6,1714.8 964.1,1713.3 964.7,1711.7 C965.2,1710.1 965.8,1708.6 966.3,1707.0 C966.8,1705.5 967.4,1703.9 967.9,1702.3 C968.4,1700.8 968.9,1699.2 969.4,1697.7 C969.9,1696.1 970.4,1694.6 970.9,1693.0 C971.4,1691.5 971.9,1689.9 972.4,1688.4 C972.9,1686.9 973.3,1685.3 973.8,1683.8 C974.3,1682.2 974.8,1680.7 975.2,1679.2 C975.7,1677.6 976.2,1676.1 976.6,1674.6 C977.1,1673.1 977.6,1671.5 978.1,1670.0 C978.6,1668.5 979.0,1667.0 979.5,1665.5 C980.0,1664.0 980.5,1662.5 981.1,1661.0 C981.6,1659.5 982.1,1658.0 982.7,1656.6 C983.2,1655.1 983.8,1653.6 984.4,1652.1 C984.9,1650.7 985.5,1649.2 986.2,1647.8 C986.8,1646.3 987.4,1644.9 988.1,1643.4 C988.8,1642.0 989.5,1640.6 990.2,1639.2 C991.0,1637.7 991.7,1636.3 992.5,1634.9 C993.3,1633.5 994.1,1632.2 995.0,1630.8 C995.8,1629.5 996.7,1628.2 997.7,1626.9 C998.6,1625.7 999.6,1624.5 1000.6,1623.3 C1001.6,1622.2 1002.7,1621.1 1003.8,1620.1 C1004.9,1619.1 1006.0,1618.2 1007.2,1617.3 C1008.4,1616.3 1009.6,1615.5 1010.8,1614.7 C1012.1,1613.9 1013.4,1613.1 1014.7,1612.3 C1016.0,1611.6 1017.4,1610.9 1018.7,1610.1 C1020.1,1609.4 1021.5,1608.7 1022.9,1608.0 C1024.3,1607.4 1025.8,1606.7 1027.3,1606.0 C1028.7,1605.3 1030.2,1604.6 1031.8,1603.9 C1033.3,1603.2 1034.8,1602.5 1036.3,1601.7 C1037.9,1601.0 1039.4,1600.2 1041.0,1599.5 C1042.6,1598.7 1044.2,1597.9 1045.7,1597.1 C1047.3,1596.3 1048.9,1595.5 1050.4,1594.7 C1052.0,1593.9 1053.6,1593.0 1055.1,1592.2 C1056.7,1591.3 1058.2,1590.4 1059.7,1589.5 C1061.3,1588.6 1062.8,1587.7 1064.3,1586.8 C1065.7,1585.9 1067.2,1584.9 1068.6,1584.0 C1070.1,1583.0 1071.5,1582.0 1072.9,1581.0 C1074.2,1580.0 1075.6,1579.0 1076.9,1578.0 C1078.2,1577.0 1079.4,1575.9 1080.6,1574.9 C1081.9,1573.8 1083.0,1572.7 1084.1,1571.6 C1085.2,1570.5 1086.3,1569.4 1087.3,1568.2 C1088.3,1567.1 1089.3,1565.9 1090.2,1564.8 C1091.0,1563.6 1091.9,1562.4 1092.6,1561.2 C1093.4,1559.9 1094.1,1558.7 1094.8,1557.4 C1095.5,1556.2 1096.1,1554.9 1096.7,1553.5 C1097.3,1552.2 1097.8,1550.9 1098.3,1549.5 C1098.8,1548.1 1099.3,1546.7 1099.7,1545.3 C1100.2,1543.9 1100.6,1542.4 1101.0,1540.9 C1101.4,1539.5 1101.7,1538.0 1102.0,1536.4 C1102.4,1534.9 1102.7,1533.4 1103.0,1531.8 C1103.3,1530.3 1103.6,1528.7 1103.8,1527.1 C1104.1,1525.5 1104.4,1523.9 1104.6,1522.3 C1104.9,1520.7 1105.1,1519.1 1105.4,1517.5 C1105.7,1515.9 1105.9,1514.3 1106.2,1512.7 C1106.4,1511.1 1106.7,1509.5 1106.9,1507.9 C1107.2,1506.2 1107.4,1504.6 1107.7,1503.0 C1107.9,1501.4 1108.2,1499.7 1108.5,1498.1 C1108.7,1496.5 1109.0,1494.9 1109.2,1493.2 C1109.5,1491.6 1109.7,1490.0 1110.0,1488.3 C1110.2,1486.7 1110.5,1485.1 1110.7,1483.4 C1111.0,1481.8 1111.3,1480.2 1111.5,1478.5 C1111.8,1476.9 1112.0,1475.2 1112.3,1473.6 C1112.5,1471.9 1112.8,1470.3 1113.0,1468.6 C1113.3,1467.0 1113.6,1465.3 1113.8,1463.7 C1114.1,1462.0 1114.3,1460.4 1114.6,1458.7 C1114.8,1457.1 1115.1,1455.4 1115.3,1453.8 C1115.6,1452.1 1115.8,1450.5 1116.1,1448.8 C1116.4,1447.2 1116.6,1445.5 1116.9,1443.9 C1117.1,1442.2 1117.4,1440.5 1117.6,1438.9 C1117.9,1437.2 1118.1,1435.6 1118.4,1433.9 C1118.6,1432.3 1118.9,1430.6 1119.1,1429.0 C1119.4,1427.3 1119.7,1425.6 1119.9,1424.0 C1120.2,1422.3 1120.4,1420.7 1120.7,1419.0 C1120.9,1417.4 1121.2,1415.7 1121.4,1414.0 C1121.7,1412.4 1121.9,1410.7 1122.2,1409.1 C1122.4,1407.4 1122.7,1405.8 1122.9,1404.1 C1123.2,1402.5 1123.4,1400.8 1123.7,1399.1 C1124.0,1397.5 1124.2,1395.8 1124.5,1394.2 C1124.7,1392.5 1125.0,1390.9 1125.2,1389.2 C1125.5,1387.6 1125.7,1385.9 1126.0,1384.3 C1126.2,1382.6 1126.5,1381.0 1126.7,1379.3 C1127.0,1377.7 1127.2,1376.0 1127.5,1374.3 C1127.8,1372.7 1128.0,1371.0 1128.3,1369.4 C1128.5,1367.7 1128.8,1366.1 1129.0,1364.4 C1129.3,1362.8 1129.5,1361.1 1129.8,1359.5 C1130.1,1357.8 1130.3,1356.2 1130.6,1354.5 C1130.8,1352.9 1131.1,1351.2 1131.3,1349.6 C1131.6,1347.9 1131.9,1346.3 1132.1,1344.6 C1132.4,1343.0 1132.6,1341.3 1132.9,1339.7 C1133.2,1338.0 1133.4,1336.4 1133.7,1334.7 C1133.9,1333.1 1134.2,1331.4 1134.5,1329.8 C1134.7,1328.1 1135.0,1326.5 1135.3,1324.8 C1135.5,1323.2 1135.8,1321.6 1136.1,1319.9 C1136.3,1318.3 1136.6,1316.6 1136.8,1315.0 C1137.1,1313.3 1137.4,1311.7 1137.7,1310.0 C1137.9,1308.4 1138.2,1306.7 1138.5,1305.1 C1138.7,1303.4 1139.0,1301.8 1139.3,1300.2 C1139.5,1298.5 1139.8,1296.9 1140.1,1295.2 C1140.4,1293.6 1140.6,1291.9 1140.9,1290.3 C1141.2,1288.6 1141.5,1287.0 1141.7,1285.4 C1142.0,1283.7 1142.3,1282.1 1142.6,1280.4 C1142.9,1278.8 1143.1,1277.1 1143.4,1275.5 C1143.7,1273.9 1144.0,1272.2 1144.3,1270.6 C1144.6,1268.9 1144.8,1267.3 1145.1,1265.6 C1145.4,1264.0 1145.7,1262.4 1146.0,1260.7 C1146.3,1259.1 1146.6,1257.4 1146.9,1255.8 C1147.2,1254.2 1147.4,1252.5 1147.7,1250.9 C1148.0,1249.2 1148.3,1247.6 1148.6,1246.0 C1148.9,1244.3 1149.2,1242.7 1149.5,1241.0 C1149.8,1239.4 1150.1,1237.8 1150.4,1236.1 C1150.7,1234.5 1151.0,1232.8 1151.3,1231.2 C1151.6,1229.6 1151.9,1227.9 1152.3,1226.3 C1152.6,1224.7 1152.9,1223.0 1153.2,1221.4 C1153.5,1219.7 1153.8,1218.1 1154.1,1216.5 C1154.4,1214.8 1154.8,1213.2 1155.1,1211.6 C1155.4,1209.9 1155.7,1208.3 1156.0,1206.7 C1156.4,1205.0 1156.7,1203.4 1157.0,1201.8 C1157.3,1200.1 1157.7,1198.5 1158.0,1196.9 C1158.3,1195.2 1158.6,1193.6 1159.0,1191.9 C1159.3,1190.3 1159.6,1188.7 1160.0,1187.0 C1160.3,1185.4 1160.6,1183.8 1161.0,1182.1 C1161.3,1180.5 1161.7,1178.9 1162.0,1177.2 C1162.3,1175.6 1162.7,1174.0 1163.0,1172.3 C1163.4,1170.7 1163.7,1169.1 1164.1,1167.4 C1164.4,1165.8 1164.8,1164.2 1165.1,1162.5 C1165.5,1160.9 1165.9,1159.3 1166.2,1157.6 C1166.6,1156.0 1166.9,1154.4 1167.3,1152.7 C1167.7,1151.1 1168.0,1149.4 1168.4,1147.8 C1168.8,1146.2 1169.1,1144.5 1169.5,1142.9 C1169.9,1141.3 1170.3,1139.6 1170.6,1138.0 C1171.0,1136.4 1171.4,1134.7 1171.8,1133.1 C1172.1,1131.5 1172.5,1129.8 1172.9,1128.2 C1173.3,1126.6 1173.7,1124.9 1174.1,1123.3 C1174.4,1121.7 1174.8,1120.0 1175.2,1118.4 C1175.6,1116.8 1176.0,1115.1 1176.4,1113.5 C1176.8,1111.9 1177.2,1110.2 1177.6,1108.6 C1178.0,1107.0 1178.4,1105.4 1178.8,1103.7 C1179.2,1102.1 1179.6,1100.5 1180.0,1098.9 C1180.4,1097.2 1180.8,1095.6 1181.2,1094.0 C1181.6,1092.4 1182.0,1090.8 1182.4,1089.2 C1182.8,1087.5 1183.2,1085.9 1183.6,1084.3 C1184.0,1082.7 1184.4,1081.1 1184.8,1079.5 C1185.2,1077.9 1185.6,1076.3 1186.0,1074.6 C1186.5,1073.0 1186.9,1071.4 1187.3,1069.8 C1187.7,1068.2 1188.1,1066.6 1188.5,1065.0 C1188.9,1063.4 1189.4,1061.8 1189.8,1060.2 C1190.2,1058.6 1190.6,1057.1 1191.0,1055.5 C1191.4,1053.9 1191.9,1052.3 1192.3,1050.7 C1192.7,1049.1 1193.1,1047.5 1193.5,1045.9 C1194.0,1044.4 1194.4,1042.8 1194.8,1041.2 C1195.2,1039.6 1195.6,1038.0 1196.1,1036.4 C1196.5,1034.8 1196.9,1033.2 1197.3,1031.7 C1197.7,1030.1 1198.2,1028.5 1198.6,1026.9 C1199.0,1025.3 1199.4,1023.7 1199.9,1022.1 C1200.3,1020.5 1200.7,1018.9 1201.1,1017.3 C1201.5,1015.7 1202.0,1014.0 1202.4,1012.4 C1202.8,1010.8 1203.2,1009.2 1203.7,1007.6 C1204.1,1005.9 1204.5,1004.3 1204.9,1002.7 C1205.4,1001.0 1205.8,999.4 1206.2,997.7 C1206.6,996.1 1207.0,994.4 1207.5,992.8 C1207.9,991.1 1208.3,989.4 1208.8,987.8 C1209.2,986.1 1209.7,984.4 1210.2,982.8 C1210.7,981.1 1211.1,979.5 1211.7,977.8 C1212.2,976.2 1212.8,974.5 1213.3,972.9 C1213.9,971.2 1214.5,969.6 1215.2,968.0 C1215.9,966.4 1216.6,964.8 1217.3,963.2 C1218.0,961.6 1218.8,960.0 1219.7,958.5 C1220.5,956.9 1221.4,955.4 1222.4,954.0 C1223.3,952.5 1224.3,951.1 1225.4,949.9 C1226.5,948.7 1227.6,947.6 1228.8,946.7 C1230.0,945.8 1231.2,945.0 1232.5,944.5 C1233.7,944.0 1235.0,943.6 1236.2,943.6 C1237.4,943.6 1238.6,943.8 1239.8,944.4 C1240.9,944.9 1242.1,945.8 1243.1,947.0 C1244.1,948.1 1245.1,949.7 1246.0,951.4 C1246.8,953.0 1247.7,954.9 1248.4,956.7 C1249.2,958.5 1249.9,960.5 1250.6,962.3 C1251.3,964.1 1251.9,965.8 1252.5,967.5 C1253.0,969.3 1253.6,970.9 1254.1,972.6 C1254.6,974.3 1255.0,975.9 1255.5,977.5 C1255.9,979.2 1256.3,980.8 1256.7,982.4 C1257.1,984.0 1257.5,985.6 1257.8,987.2 C1258.2,988.8 1258.5,990.5 1258.9,992.1 C1259.2,993.7 1259.6,995.3 1259.9,996.9 C1260.2,998.5 1260.6,1000.1 1260.9,1001.7 C1261.3,1003.3 1261.6,1004.9 1262.0,1006.5 C1262.3,1008.2 1262.7,1009.8 1263.0,1011.4 C1263.4,1013.0 1263.7,1014.6 1264.1,1016.2 C1264.5,1017.8 1264.8,1019.4 1265.2,1021.1 C1265.6,1022.7 1265.9,1024.3 1266.3,1025.9 C1266.7,1027.5 1267.0,1029.1 1267.4,1030.8 C1267.8,1032.4 1268.2,1034.0 1268.5,1035.6 C1268.9,1037.2 1269.3,1038.8 1269.7,1040.5 C1270.0,1042.1 1270.4,1043.7 1270.8,1045.3 C1271.2,1046.9 1271.6,1048.6 1271.9,1050.2 C1272.3,1051.8 1272.7,1053.4 1273.1,1055.0 C1273.5,1056.7 1273.9,1058.3 1274.2,1059.9 C1274.6,1061.5 1275.0,1063.1 1275.4,1064.8 C1275.8,1066.4 1276.1,1068.0 1276.5,1069.6 C1276.9,1071.3 1277.3,1072.9 1277.7,1074.5 C1278.0,1076.1 1278.4,1077.8 1278.8,1079.4 C1279.2,1081.0 1279.6,1082.6 1279.9,1084.3 C1280.3,1085.9 1280.7,1087.5 1281.1,1089.1 C1281.4,1090.8 1281.8,1092.4 1282.2,1094.0 C1282.5,1095.6 1282.9,1097.3 1283.3,1098.9 C1283.6,1100.5 1284.0,1102.2 1284.4,1103.8 C1284.7,1105.4 1285.1,1107.0 1285.4,1108.7 C1285.8,1110.3 1286.1,1111.9 1286.5,1113.6 C1286.8,1115.2 1287.2,1116.8 1287.5,1118.5 C1287.9,1120.1 1288.2,1121.7 1288.5,1123.3 C1288.9,1125.0 1289.2,1126.6 1289.6,1128.2 C1289.9,1129.9 1290.2,1131.5 1290.6,1133.1 C1290.9,1134.8 1291.2,1136.4 1291.5,1138.0 C1291.9,1139.6 1292.2,1141.3 1292.5,1142.9 C1292.8,1144.5 1293.1,1146.2 1293.5,1147.8 C1293.8,1149.4 1294.1,1151.1 1294.4,1152.7 C1294.7,1154.3 1295.0,1156.0 1295.3,1157.6 C1295.6,1159.2 1296.0,1160.9 1296.3,1162.5 C1296.6,1164.1 1296.9,1165.8 1297.2,1167.4 C1297.5,1169.0 1297.8,1170.7 1298.1,1172.3 C1298.4,1173.9 1298.7,1175.6 1299.0,1177.2 C1299.3,1178.8 1299.6,1180.5 1299.9,1182.1 C1300.2,1183.7 1300.5,1185.4 1300.8,1187.0 C1301.1,1188.6 1301.4,1190.3 1301.7,1191.9 C1302.0,1193.5 1302.3,1195.2 1302.6,1196.8 C1302.9,1198.4 1303.2,1200.1 1303.5,1201.7 C1303.8,1203.3 1304.1,1204.9 1304.4,1206.6 C1304.7,1208.2 1305.0,1209.8 1305.3,1211.5 C1305.6,1213.1 1305.9,1214.7 1306.2,1216.4 C1306.5,1218.0 1306.8,1219.6 1307.1,1221.3 C1307.4,1222.9 1307.7,1224.5 1308.0,1226.2 C1308.3,1227.8 1308.6,1229.4 1308.9,1231.1 C1309.2,1232.7 1309.5,1234.3 1309.8,1236.0 C1310.1,1237.6 1310.4,1239.2 1310.7,1240.9 C1311.0,1242.5 1311.3,1244.1 1311.6,1245.8 C1311.9,1247.4 1312.2,1249.0 1312.5,1250.7 C1312.8,1252.3 1313.1,1253.9 1313.4,1255.6 C1313.7,1257.2 1314.0,1258.8 1314.3,1260.5 C1314.6,1262.1 1314.9,1263.7 1315.2,1265.4 C1315.5,1267.0 1315.8,1268.6 1316.1,1270.2 C1316.3,1271.9 1316.6,1273.5 1316.9,1275.1 C1317.2,1276.8 1317.5,1278.4 1317.8,1280.0 C1318.1,1281.7 1318.4,1283.3 1318.7,1284.9 C1319.0,1286.6 1319.3,1288.2 1319.6,1289.8 C1319.9,1291.5 1320.2,1293.1 1320.5,1294.7 C1320.8,1296.4 1321.1,1298.0 1321.4,1299.6 C1321.7,1301.3 1322.0,1302.9 1322.3,1304.5 C1322.6,1306.2 1322.9,1307.8 1323.2,1309.4 C1323.5,1311.0 1323.8,1312.7 1324.1,1314.3 C1324.3,1315.9 1324.6,1317.6 1324.9,1319.2 C1325.2,1320.8 1325.5,1322.5 1325.8,1324.1 C1326.1,1325.7 1326.4,1327.4 1326.7,1329.0 C1327.0,1330.6 1327.3,1332.3 1327.6,1333.9 C1327.9,1335.5 1328.2,1337.2 1328.5,1338.8 C1328.8,1340.4 1329.1,1342.0 1329.4,1343.7 C1329.7,1345.3 1330.0,1346.9 1330.3,1348.6 C1330.6,1350.2 1330.9,1351.8 1331.2,1353.5 C1331.5,1355.1 1331.8,1356.7 1332.1,1358.4 C1332.4,1360.0 1332.7,1361.6 1333.0,1363.3 C1333.2,1364.9 1333.5,1366.5 1333.8,1368.2 C1334.1,1369.8 1334.4,1371.4 1334.7,1373.0 C1335.0,1374.7 1335.3,1376.3 1335.6,1377.9 C1335.9,1379.6 1336.2,1381.2 1336.5,1382.8 C1336.8,1384.5 1337.1,1386.1 1337.4,1387.7 C1337.7,1389.4 1338.0,1391.0 1338.3,1392.6 C1338.6,1394.2 1338.9,1395.9 1339.2,1397.5 C1339.5,1399.1 1339.8,1400.8 1340.1,1402.4 C1340.4,1404.0 1340.7,1405.7 1341.0,1407.3 C1341.3,1408.9 1341.6,1410.6 1341.9,1412.2 C1342.2,1413.8 1342.5,1415.4 1342.8,1417.1 C1343.1,1418.7 1343.4,1420.3 1343.7,1422.0 C1344.0,1423.6 1344.3,1425.2 1344.6,1426.9 C1344.9,1428.5 1345.2,1430.1 1345.5,1431.7 C1345.8,1433.4 1346.1,1435.0 1346.4,1436.6 C1346.8,1438.3 1347.1,1439.9 1347.4,1441.5 C1347.7,1443.2 1348.0,1444.8 1348.3,1446.4 C1348.6,1448.0 1348.9,1449.7 1349.2,1451.3 C1349.5,1452.9 1349.8,1454.6 1350.1,1456.2 C1350.5,1457.8 1350.8,1459.5 1351.1,1461.1 C1351.4,1462.7 1351.7,1464.3 1352.0,1466.0 C1352.3,1467.6 1352.6,1469.2 1353.0,1470.9 C1353.3,1472.5 1353.6,1474.1 1353.9,1475.8 C1354.2,1477.4 1354.5,1479.0 1354.9,1480.6 C1355.2,1482.3 1355.5,1483.9 1355.8,1485.5 C1356.1,1487.2 1356.5,1488.8 1356.8,1490.4 C1357.1,1492.0 1357.4,1493.7 1357.8,1495.3 C1358.1,1496.9 1358.4,1498.6 1358.7,1500.2 C1359.1,1501.8 1359.4,1503.5 1359.7,1505.1 C1360.1,1506.7 1360.4,1508.3 1360.7,1510.0 C1361.1,1511.6 1361.4,1513.2 1361.7,1514.9 C1362.1,1516.5 1362.4,1518.1 1362.7,1519.7 C1363.1,1521.4 1363.4,1523.0 1363.8,1524.6 C1364.1,1526.3 1364.4,1527.9 1364.8,1529.5 C1365.1,1531.1 1365.5,1532.8 1365.8,1534.4 C1366.2,1536.0 1366.5,1537.7 1366.9,1539.3 C1367.2,1540.9 1367.6,1542.5 1367.9,1544.2 C1368.3,1545.8 1368.6,1547.4 1369.0,1549.1 C1369.3,1550.7 1369.7,1552.3 1370.1,1553.9 C1370.4,1555.6 1370.8,1557.2 1371.1,1558.8 C1371.5,1560.5 1371.9,1562.1 1372.2,1563.7 C1372.6,1565.3 1373.0,1567.0 1373.3,1568.6 C1373.7,1570.2 1374.1,1571.8 1374.4,1573.5 C1374.8,1575.1 1375.2,1576.7 1375.6,1578.4 C1375.9,1580.0 1376.3,1581.6 1376.7,1583.2 C1377.1,1584.9 1377.5,1586.5 1377.8,1588.1 C1378.2,1589.8 1378.6,1591.4 1379.0,1593.0 C1379.4,1594.6 1379.8,1596.3 1380.2,1597.9 C1380.6,1599.5 1381.0,1601.1 1381.4,1602.8 C1381.7,1604.4 1382.1,1606.0 1382.5,1607.7 C1382.9,1609.3 1383.3,1610.9 1383.8,1612.5 C1384.2,1614.2 1384.6,1615.8 1385.0,1617.4 C1385.4,1619.0 1385.8,1620.7 1386.2,1622.3 C1386.6,1623.9 1387.0,1625.5 1387.5,1627.2 C1387.9,1628.8 1388.3,1630.4 1388.7,1632.1 C1389.1,1633.7 1389.6,1635.3 1390.0,1636.9 C1390.4,1638.6 1390.9,1640.2 1391.3,1641.8 C1391.7,1643.4 1392.2,1645.1 1392.6,1646.7 C1393.0,1648.3 1393.5,1649.9 1393.9,1651.6 C1394.4,1653.2 1394.8,1654.8 1395.2,1656.4 C1395.7,1658.1 1396.1,1659.7 1396.6,1661.3 C1397.0,1663.0 1397.5,1664.6 1398.0,1666.2 C1398.4,1667.8 1398.9,1669.5 1399.3,1671.1 C1399.8,1672.7 1400.3,1674.3 1400.7,1675.9 C1401.2,1677.6 1401.7,1679.2 1402.1,1680.8 C1402.6,1682.4 1403.1,1684.1 1403.5,1685.7 C1404.0,1687.3 1404.5,1688.9 1404.9,1690.5 C1405.4,1692.2 1405.9,1693.8 1406.4,1695.4 C1406.8,1697.0 1407.3,1698.6 1407.8,1700.3 C1408.3,1701.9 1408.8,1703.5 1409.2,1705.1 C1409.7,1706.7 1410.2,1708.3 1410.7,1709.9 C1411.1,1711.5 1411.6,1713.2 1412.1,1714.8 C1412.6,1716.4 1413.1,1718.0 1413.6,1719.6 C1414.0,1721.2 1414.5,1722.8 1415.0,1724.4 C1415.5,1726.0 1416.0,1727.6 1416.4,1729.2 C1416.9,1730.8 1417.4,1732.4 1417.9,1734.0 C1418.4,1735.6 1418.8,1737.2 1419.3,1738.8 C1419.8,1740.4 1420.3,1742.0 1420.8,1743.6 C1421.2,1745.2 1421.7,1746.8 1422.2,1748.3 C1422.7,1749.9 1423.1,1751.5 1423.6,1753.1 C1424.1,1754.7 1424.6,1756.3 1425.0,1757.8 C1425.5,1759.4 1426.0,1761.0 1426.5,1762.6 C1426.9,1764.1 1427.4,1765.7 1427.9,1767.3 C1428.3,1768.9 1428.8,1770.4 1429.3,1772.0 C1429.7,1773.6 1430.2,1775.1 1430.6,1776.7 C1431.1,1778.2 1431.6,1779.8 1432.1,1781.4 C1432.5,1782.9 1433.0,1784.5 1433.5,1786.0 C1434.0,1787.6 1434.4,1789.1 1434.9,1790.7 C1435.4,1792.2 1435.9,1793.7 1436.5,1795.3 C1437.0,1796.8 1437.5,1798.4 1438.0,1799.9 C1438.6,1801.4 1439.1,1802.9 1439.7,1804.5 C1440.2,1806.0 1440.8,1807.5 1441.4,1809.0 C1442.0,1810.6 1442.6,1812.1 1443.3,1813.6 C1443.9,1815.1 1444.5,1816.6 1445.2,1818.1 C1445.9,1819.6 1446.6,1821.1 1447.3,1822.6 C1448.0,1824.1 1448.8,1825.6 1449.5,1827.1 C1450.3,1828.6 1451.1,1830.1 1451.9,1831.6 C1452.7,1833.1 1453.5,1834.5 1454.4,1836.0 C1455.2,1837.5 1456.1,1838.9 1457.0,1840.4 C1457.9,1841.8 1458.8,1843.3 1459.7,1844.7 C1460.7,1846.2 1461.6,1847.6 1462.6,1849.0 C1463.6,1850.4 1464.6,1851.8 1465.6,1853.2 C1466.6,1854.6 1467.6,1856.0 1468.6,1857.3 C1469.7,1858.7 1470.7,1860.1 1471.8,1861.4 C1472.9,1862.7 1474.0,1864.0 1475.1,1865.3 C1476.2,1866.7 1477.3,1867.9 1478.5,1869.2 C1479.6,1870.5 1480.8,1871.7 1482.0,1873.0 C1483.1,1874.2 1484.3,1875.4 1485.5,1876.6 C1486.7,1877.8 1487.9,1879.0 1489.1,1880.2 C1490.4,1881.3 1491.6,1882.5 1492.9,1883.6 C1494.1,1884.7 1495.4,1885.8 1496.6,1886.9 C1497.9,1887.9 1499.2,1889.0 1500.5,1890.0 C1501.8,1891.0 1503.1,1892.0 1504.4,1893.0 C1505.7,1894.0 1507.0,1894.9 1508.4,1895.8 C1509.7,1896.8 1511.1,1897.7 1512.4,1898.5 C1513.8,1899.4 1515.1,1900.3 1516.5,1901.2 C1517.9,1902.0 1519.2,1902.9 1520.6,1903.7 C1522.0,1904.5 1523.4,1905.3 1524.8,1906.1 C1526.2,1907.0 1527.6,1907.8 1529.1,1908.6 C1530.5,1909.4 1531.9,1910.1 1533.4,1910.9 C1534.8,1911.7 1536.2,1912.5 1537.7,1913.3 C1539.2,1914.1 1540.6,1914.9 1542.1,1915.7 C1543.6,1916.5 1545.0,1917.3 1546.5,1918.1 C1548.0,1918.9 1549.5,1919.7 1551.0,1920.5 C1552.5,1921.4 1554.0,1922.2 1555.5,1923.1 C1557.0,1923.9 1558.5,1924.8 1560.0,1925.7 C1561.6,1926.5 1563.1,1927.4 1564.6,1928.3 C1566.1,1929.2 1567.7,1930.1 1569.2,1931.0 C1570.8,1931.9 1572.3,1932.7 1573.9,1933.5 C1575.4,1934.3 1577.0,1935.1 1578.6,1935.8 C1580.1,1936.4 1581.7,1937.1 1583.3,1937.6 C1584.8,1938.2 1586.4,1938.7 1588.0,1939.1 C1589.6,1939.5 1591.2,1939.9 1592.8,1940.2 C1594.4,1940.5 1595.9,1940.8 1597.5,1941.0 C1599.1,1941.3 1600.7,1941.5 1602.3,1941.6 C1604.0,1941.8 1605.6,1942.0 1607.2,1942.1 C1608.8,1942.3 1610.4,1942.4 1612.0,1942.5 C1613.6,1942.7 1615.2,1942.8 1616.9,1942.9 C1618.5,1943.0 1620.1,1943.2 1621.7,1943.3 C1623.4,1943.4 1625.0,1943.5 1626.6,1943.6 C1628.3,1943.7 1629.9,1943.8 1631.5,1943.9 C1633.2,1944.1 1634.8,1944.2 1636.5,1944.3 C1638.1,1944.4 1639.7,1944.5 1641.4,1944.6 C1643.0,1944.6 1644.7,1944.7 1646.3,1944.8 C1648.0,1944.9 1649.6,1945.0 1651.3,1945.1 C1652.9,1945.2 1654.6,1945.3 1656.3,1945.3 C1657.9,1945.4 1659.6,1945.5 1661.2,1945.6 C1662.9,1945.7 1664.6,1945.7 1666.2,1945.8 C1667.9,1945.9 1669.5,1946.0 1671.2,1946.0 C1672.9,1946.1 1674.6,1946.2 1676.2,1946.2 C1677.9,1946.3 1679.6,1946.3 1681.2,1946.4 C1682.9,1946.5 1684.6,1946.5 1686.3,1946.6 C1687.9,1946.6 1689.6,1946.7 1691.3,1946.8 C1693.0,1946.8 1694.6,1946.9 1696.3,1946.9 C1698.0,1947.0 1699.7,1947.0 1701.4,1947.1 C1703.1,1947.1 1704.7,1947.2 1706.4,1947.2 C1708.1,1947.2 1709.8,1947.3 1711.5,1947.3 C1713.2,1947.4 1714.8,1947.4 1716.5,1947.5 C1718.2,1947.5 1719.9,1947.5 1721.6,1947.6 C1723.3,1947.6 1725.0,1947.7 1726.7,1947.7 C1728.3,1947.7 1730.0,1947.8 1731.7,1947.8 C1733.4,1947.8 1735.1,1947.9 1736.8,1947.9 C1738.5,1947.9 1740.2,1948.0 1741.9,1948.0 C1743.5,1948.0 1745.2,1948.1 1746.9,1948.1 C1748.6,1948.1 1750.3,1948.1 1752.0,1948.2 C1753.7,1948.2 1755.4,1948.2 1757.1,1948.3 C1758.8,1948.3 1760.4,1948.3 1762.1,1948.3 C1763.8,1948.4 1765.5,1948.4 1767.2,1948.4 C1768.9,1948.5 1770.6,1948.5 1772.3,1948.5 C1773.9,1948.5 1775.6,1948.6 1777.3,1948.6 C1779.0,1948.6 1780.7,1948.6 1782.4,1948.7 C1784.1,1948.7 1785.7,1948.7 1787.4,1948.8 C1789.1,1948.8 1790.8,1948.8 1792.5,1948.8 C1794.2,1948.9 1795.8,1948.9 1797.5,1948.9 C1799.2,1948.9 1800.9,1949.0 1802.5,1949.0 C1804.2,1949.0 1805.9,1949.1 1807.6,1949.1 C1809.2,1949.1 1810.9,1949.2 1812.6,1949.2 C1814.3,1949.2 1815.9,1949.3 1817.6,1949.3 C1819.3,1949.3 1820.9,1949.4 1822.6,1949.4 C1824.3,1949.4 1825.9,1949.5 1827.6,1949.5 C1829.3,1949.5 1830.9,1949.6 1832.6,1949.6 C1834.2,1949.6 1835.9,1949.7 1837.6,1949.7 C1839.2,1949.8 1840.9,1949.8 1842.5,1949.9 C1844.2,1949.9 1845.8,1949.9 1847.5,1950.0 C1849.1,1950.0 1850.8,1950.1 1852.4,1950.1 C1854.1,1950.2 1855.7,1950.2 1857.3,1950.3 C1859.0,1950.3 1860.6,1950.4 1862.2,1950.4 C1863.9,1950.5 1865.5,1950.5 1867.1,1950.6 C1868.8,1950.7 1870.4,1950.7 1872.0,1950.8 C1873.7,1950.8 1876.1,1950.9 1876.9,1951.0" fill="none" stroke="#0000ff" stroke-width="11" stroke-linejoin="round" stroke-linecap="butt"/>
<rect x="318.5" y="55.5" width="1896" height="1896" fill="none" stroke="#000" stroke-width="5"/>
<text x="272.5" y="1976.0" text-anchor="end" font-family="Liberation Serif, Times New Roman, serif" font-size="76" fill="#000">0.0</text>
<text x="272.5" y="1765.0" text-anchor="end" font-family="Liberation Serif, Times New Roman, serif" font-size="76" fill="#000">0.5</text>
<text x="272.5" y="1554.0" text-anchor="end" font-family="Liberation Serif, Times New Roman, serif" font-size="76" fill="#000">1.0</text>
<text x="272.5" y="1343.0" text-anchor="end" font-family="Liberation Serif, Times New Roman, serif" font-size="76" fill="#000">1.5</text>
<text x="272.5" y="1133.0" text-anchor="end" font-family="Liberation Serif, Times New Roman, serif" font-size="76" fill="#000">2.0</text>
<text x="272.5" y="922.0" text-anchor="end" font-family="Liberation Serif, Times New Roman, serif" font-size="76" fill="#000">2.5</text>
<text x="272.5" y="712.0" text-anchor="end" font-family="Liberation Serif, Times New Roman, serif" font-size="76" fill="#000">3.0</text>
<text x="272.5" y="502.0" text-anchor="end" font-family="Liberation Serif, Times New Roman, serif" font-size="76" fill="#000">3.5</text>
<text x="272.5" y="291.0" text-anchor="end" font-family="Liberation Serif, Times New Roman, serif" font-size="76" fill="#000">4.0</text>
<text x="272.5" y="80.0" text-anchor="end" font-family="Liberation Serif, Times New Roman, serif" font-size="76" fill="#000">4.5</text>
<text x="459" y="2052" text-anchor="middle" font-family="Liberation Serif, Times New Roman, serif" font-size="76" fill="#000">-100</text>
<text x="810" y="2052" text-anchor="middle" font-family="Liberation Serif, Times New Roman, serif" font-size="76" fill="#000">-50</text>
<text x="1171" y="2052" text-anchor="middle" font-family="Liberation Serif, Times New Roman, serif" font-size="76" fill="#000">0</text>
<text x="1520" y="2052" text-anchor="middle" font-family="Liberation Serif, Times New Roman, serif" font-size="76" fill="#000">50</text>
<text x="1875" y="2052" text-anchor="middle" font-family="Liberation Serif, Times New Roman, serif" font-size="76" fill="#000">100</text>
<text x="2226" y="2052" text-anchor="middle" font-family="Liberation Serif, Times New Roman, serif" font-size="76" fill="#000">150</text>
<text x="1264" y="2167.5" text-anchor="middle" font-family="Liberation Serif, Times New Roman, serif" font-size="76" fill="#000">Relative error, percents</text>
<text transform="translate(84.8,1005.2) rotate(-90)" x="0" y="0" text-anchor="middle" font-family="Liberation Serif, Times New Roman, serif" font-size="76" fill="#000">Distribution density</text>
<text x="1868" y="146.0" text-anchor="end" font-family="Liberation Serif, Times New Roman, serif" font-size="76" fill="#000">B2</text>
<line x1="1913" y1="120.5" x2="2123" y2="120.5" stroke="#56b4e9" stroke-width="7"/>
<text x="1868" y="222.2" text-anchor="end" font-family="Liberation Serif, Times New Roman, serif" font-size="76" fill="#000">B3</text>
<line x1="1913" y1="196.7" x2="2123" y2="196.7" stroke="#009e73" stroke-width="7"/>
<text x="1868" y="298.4" text-anchor="end" font-family="Liberation Serif, Times New Roman, serif" font-size="76" fill="#000">B4</text>
<line x1="1913" y1="272.9" x2="2123" y2="272.9" stroke="#e51e10" stroke-width="7"/>
<text x="1868" y="374.6" text-anchor="end" font-family="Liberation Serif, Times New Roman, serif" font-size="76" fill="#000">B5</text>
<line x1="1913" y1="349.1" x2="2123" y2="349.1" stroke="#9400d3" stroke-width="7"/>
<text x="1868" y="450.8" text-anchor="end" font-family="Liberation Serif, Times New Roman, serif" font-size="76" fill="#000">B6</text>
<line x1="1913" y1="425.3" x2="2123" y2="425.3" stroke="#f0e442" stroke-width="7"/>
<text x="1868" y="527.0" text-anchor="end" font-family="Liberation Serif, Times New Roman, serif" font-size="76" fill="#000">B7</text>
<line x1="1913" y1="501.5" x2="2123" y2="501.5" stroke="#0072b2" stroke-width="7"/>
<text x="1868" y="603.2" text-anchor="end" font-family="Liberation Serif, Times New Roman, serif" font-size="76" fill="#000">B8</text>
<line x1="1913" y1="577.7" x2="2123" y2="577.7" stroke="#000000" stroke-width="7"/>
<text x="1868" y="679.4" text-anchor="end" font-family="Liberation Serif, Times New Roman, serif" font-size="76" fill="#000">B8A</text>
<line x1="1913" y1="653.9" x2="2123" y2="653.9" stroke="#9400d3" stroke-width="7"/>
<text x="1868" y="755.6" text-anchor="end" font-family="Liberation Serif, Times New Roman, serif" font-size="76" fill="#000">B11</text>
<line x1="1913" y1="730.1" x2="2123" y2="730.1" stroke="#009e73" stroke-width="7"/>
<text x="1868" y="831.8" text-anchor="end" font-family="Liberation Serif, Times New Roman, serif" font-size="76" fill="#000">All bands</text>
<line x1="1913" y1="806.3" x2="2123" y2="806.3" stroke="#0000ff" stroke-width="11"/>
</svg>
</body></html>
